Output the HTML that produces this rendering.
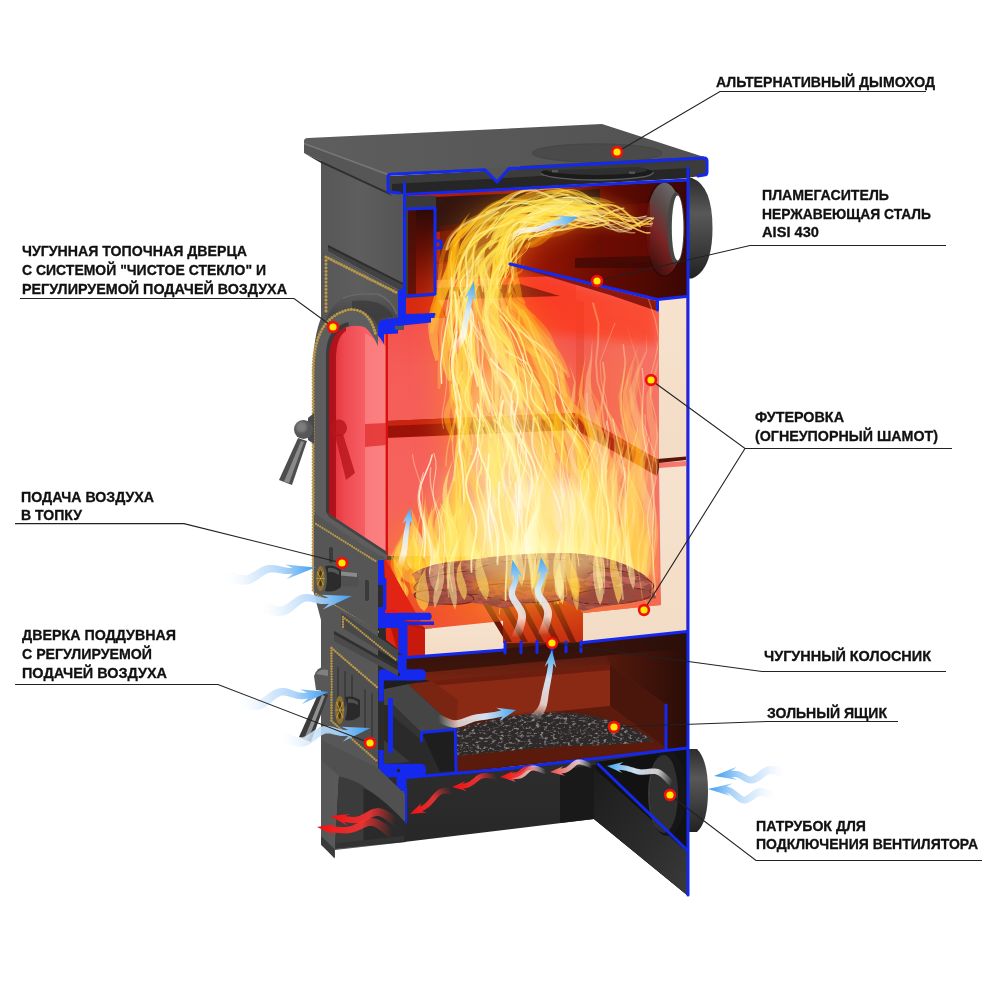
<!DOCTYPE html>
<html lang="ru">
<head>
<meta charset="utf-8">
<title>Stove cutaway</title>
<style>
html,body{margin:0;padding:0;background:#fff;}
body{width:1000px;height:1000px;overflow:hidden;position:relative;font-family:"Liberation Sans",sans-serif;}
svg{position:absolute;left:0;top:0;display:block;}
.lbl{font-family:"Liberation Sans",sans-serif;font-weight:bold;font-size:14.6px;fill:#111;stroke:#111;stroke-width:0.3px;}
.ld{fill:none;stroke:#222;stroke-width:1.1;}
.bl{fill:none;stroke:#1428ee;stroke-width:3;stroke-linejoin:round;stroke-linecap:round;}
.blf{fill:#1428ee;stroke:none;}
</style>
</head>
<body>
<svg width="1000" height="1000" viewBox="0 0 1000 1000">
<defs>

<linearGradient id="gTop" x1="0" y1="0" x2="1" y2="0">
  <stop offset="0" stop-color="#5e5e5e"/><stop offset="0.55" stop-color="#575757"/><stop offset="1" stop-color="#515151"/>
</linearGradient>
<linearGradient id="gFront" x1="0" y1="0" x2="1" y2="0">
  <stop offset="0" stop-color="#555555"/><stop offset="0.5" stop-color="#5e5e5e"/><stop offset="1" stop-color="#545454"/>
</linearGradient>
<linearGradient id="gFrontLow" x1="0" y1="0" x2="0" y2="1">
  <stop offset="0" stop-color="#484848"/><stop offset="1" stop-color="#3c3c3c"/>
</linearGradient>
<linearGradient id="gWall" x1="0" y1="0" x2="0" y2="1">
  <stop offset="0" stop-color="#ee2c14"/><stop offset="0.2" stop-color="#f34840"/><stop offset="0.4" stop-color="#f55c58"/><stop offset="1" stop-color="#f66c64"/>
</linearGradient>
<linearGradient id="gWallR" x1="0" y1="0" x2="1" y2="0">
  <stop offset="0" stop-color="#f35e54"/><stop offset="1" stop-color="#f67a70"/>
</linearGradient>
<linearGradient id="gUpper" x1="0" y1="0" x2="1" y2="0">
  <stop offset="0" stop-color="#b8220a"/><stop offset="0.45" stop-color="#9a1605"/><stop offset="0.75" stop-color="#5e0a02"/><stop offset="1" stop-color="#3a0704"/>
</linearGradient>
<linearGradient id="gChan" x1="0" y1="0" x2="0" y2="1">
  <stop offset="0" stop-color="#2a0a06"/><stop offset="0.5" stop-color="#6a0f06"/><stop offset="1" stop-color="#b01c0a"/>
</linearGradient>
<linearGradient id="gGlass" x1="0" y1="0" x2="1" y2="0">
  <stop offset="0" stop-color="#e02832"/><stop offset="0.3" stop-color="#ef4a52"/><stop offset="0.7" stop-color="#f76468"/><stop offset="1" stop-color="#f86e6e"/>
</linearGradient>
<linearGradient id="gAsh" x1="0" y1="0" x2="0" y2="1">
  <stop offset="0" stop-color="#3a150c"/><stop offset="0.35" stop-color="#7a2412"/><stop offset="0.7" stop-color="#6a1c0e"/><stop offset="1" stop-color="#4a140a"/>
</linearGradient>
<linearGradient id="gAshR" x1="0" y1="0" x2="1" y2="0">
  <stop offset="0" stop-color="#5a1a0c"/><stop offset="1" stop-color="#2a0d08"/>
</linearGradient>
<linearGradient id="gBase" x1="0" y1="0" x2="0" y2="1">
  <stop offset="0" stop-color="#2e2e2e"/><stop offset="1" stop-color="#242424"/>
</linearGradient>
<linearGradient id="gSide" x1="0" y1="0" x2="1" y2="1">
  <stop offset="0" stop-color="#1c1c1c"/><stop offset="0.6" stop-color="#2c2c2c"/><stop offset="1" stop-color="#3a3a3a"/>
</linearGradient>
<linearGradient id="gPipe" x1="0" y1="0" x2="0" y2="1">
  <stop offset="0" stop-color="#2c2c2c"/><stop offset="0.35" stop-color="#585858"/><stop offset="0.7" stop-color="#3c3c3c"/><stop offset="1" stop-color="#222222"/>
</linearGradient>
<linearGradient id="gHood" x1="0" y1="0" x2="0" y2="1"><stop offset="0" stop-color="#5c5c5c"/><stop offset="0.5" stop-color="#484848"/><stop offset="1" stop-color="#565656"/></linearGradient>
<linearGradient id="gPipeIn" x1="0.7" y1="0" x2="0.2" y2="1"><stop offset="0" stop-color="#6e6e6e"/><stop offset="0.3" stop-color="#5a4a4a"/><stop offset="0.6" stop-color="#7a2424"/><stop offset="1" stop-color="#3a0a08"/></linearGradient>
<linearGradient id="gCream" x1="0" y1="0" x2="0" y2="1">
  <stop offset="0" stop-color="#f6e2cd"/><stop offset="1" stop-color="#f3dcc6"/>
</linearGradient>
<linearGradient id="gBrickTop" x1="0" y1="0" x2="0" y2="1">
  <stop offset="0" stop-color="#e0301e"/><stop offset="1" stop-color="#f0503c"/>
</linearGradient>
<linearGradient id="gBlueArrow" x1="0" y1="0" x2="1" y2="0">
  <stop offset="0" stop-color="#ffffff" stop-opacity="0"/><stop offset="0.45" stop-color="#cfe6fb" stop-opacity="0.9"/><stop offset="1" stop-color="#4aa8f0"/>
</linearGradient>
<linearGradient id="gBlueArrowL" x1="1" y1="0" x2="0" y2="0">
  <stop offset="0" stop-color="#ffffff" stop-opacity="0"/><stop offset="0.45" stop-color="#cfe6fb" stop-opacity="0.9"/><stop offset="1" stop-color="#4aa8f0"/>
</linearGradient>
<linearGradient id="gBlueArrowU" x1="0" y1="1" x2="0" y2="0">
  <stop offset="0" stop-color="#ffffff" stop-opacity="0"/><stop offset="0.4" stop-color="#e4f1fc" stop-opacity="0.9"/><stop offset="1" stop-color="#58b0f2"/>
</linearGradient>
<linearGradient id="gRedArrowL" x1="1" y1="0" x2="0" y2="0">
  <stop offset="0" stop-color="#ff3030" stop-opacity="0"/><stop offset="0.5" stop-color="#ff4a40" stop-opacity="0.9"/><stop offset="1" stop-color="#ee1818"/>
</linearGradient>
<linearGradient id="gPinkArrowL" x1="1" y1="0" x2="0" y2="0">
  <stop offset="0" stop-color="#ffffff" stop-opacity="0"/><stop offset="0.45" stop-color="#f8c8c4" stop-opacity="0.9"/><stop offset="1" stop-color="#ee4840"/>
</linearGradient>
<radialGradient id="gDot"><stop offset="0" stop-color="#ffef00"/><stop offset="0.55" stop-color="#ffe800"/><stop offset="0.62" stop-color="#f01010"/><stop offset="1" stop-color="#f01010"/></radialGradient>
<filter id="b2" x="-20%" y="-20%" width="140%" height="140%"><feGaussianBlur stdDeviation="2"/></filter>
<filter id="b1" x="-20%" y="-20%" width="140%" height="140%"><feGaussianBlur stdDeviation="0.8"/></filter>
<filter id="b4" x="-30%" y="-30%" width="160%" height="160%"><feGaussianBlur stdDeviation="4"/></filter>
<filter id="b8" x="-40%" y="-40%" width="180%" height="180%"><feGaussianBlur stdDeviation="8"/></filter>
<filter id="b14" x="-50%" y="-50%" width="200%" height="200%"><feGaussianBlur stdDeviation="14"/></filter>
<filter id="fl" x="-20%" y="-20%" width="140%" height="140%">
  <feTurbulence type="fractalNoise" baseFrequency="0.03 0.012" numOctaves="2" seed="3" result="n"/>
  <feDisplacementMap in="SourceGraphic" in2="n" scale="14" xChannelSelector="R" yChannelSelector="G"/>
  <feGaussianBlur stdDeviation="0.5"/>
</filter>
<filter id="ashTex" x="0" y="0" width="100%" height="100%">
  <feTurbulence type="fractalNoise" baseFrequency="0.25 0.4" numOctaves="3" seed="5" result="n"/>
  <feColorMatrix in="n" type="matrix" values="0 0 0 0 0.40  0 0 0 0 0.36  0 0 0 0 0.36  2.4 2.4 0 0 -2.45" result="m"/>
  <feComposite in="m" in2="SourceGraphic" operator="in"/>
</filter>
<filter id="logTex" x="0" y="0" width="100%" height="100%">
  <feTurbulence type="fractalNoise" baseFrequency="0.09 0.22" numOctaves="3" seed="11" result="n"/>
  <feColorMatrix in="n" type="matrix" values="0 0 0 0 0.30  0 0 0 0 0.07  0 0 0 0 0.05  9 0 0 0 -4.0" result="m"/>
  <feComposite in="m" in2="SourceGraphic" operator="in"/>
</filter>
<clipPath id="cInt"><path d="M386,330 L405,330 L405,195 L686,181 L686,297 L658.5,300 L658.5,605 L583,613 L583,644 L503,644 L503,621 L425,629 L386,560 Z"/></clipPath>

</defs>
<rect x="0" y="0" width="1000" height="1000" fill="#ffffff"/>



<path d="M688,178 L692,178 Q712.5,186 712.5,228 Q712.5,270 692,278.5 L688,278.5 Z" fill="url(#gPipe)"/>
<path d="M688,749 L697,749 Q708,760 708,791 Q708,822 697,832 L688,832 Z" fill="url(#gPipe)"/>
<path d="M321,150 L404,188 L404,330 L386,340 L386,560 L380,600 L380,780 L406,780 L406,842 L335,850 L335,858 L321,845 L321,620 L313,590 L313,365 Q314,335 321,318 Z" fill="url(#gFront)"/>
<path d="M304,141 Q304,138 308,138 L602,124 L704,157 L388,175 L304,146 Z" fill="url(#gTop)"/>
<path d="M304,144 L388,175 L388,192 L304,153 Z" fill="#565656"/>
<path d="M304,143.5 L388,174.5" stroke="#767676" stroke-width="1.6" fill="none"/>
<path d="M304,153 L388,192 L392,196 L321,163 Z" fill="#2f2f2f"/>
<ellipse cx="597" cy="153" rx="65" ry="9.2" fill="#4a4a4a"/>
<ellipse cx="597" cy="153" rx="65" ry="9.2" fill="none" stroke="#424242" stroke-width="0.8"/>

<path d="M389,176 L706,159 L706,175 L687,178 L404,194 L389,192 Z" fill="#3c3c3c"/>
<path d="M392,184 L690,168 L690,178 L404,194 L392,192 Z" fill="#262626"/>
<path d="M484,168.5 L510,167 L497,182.5 Z" fill="#555555"/>
<ellipse cx="597" cy="172.5" rx="56" ry="7.5" fill="#1b1b1b"/>
<path d="M541,173 A56,7.5 0 0 0 653,172" fill="none" stroke="#5e5e5e" stroke-width="1.3"/>
<ellipse cx="597" cy="170" rx="50" ry="5" fill="#303030"/>
<path d="M520,166 L704,156.5 L704,160 L640,167 L560,170 L520,171 Z" fill="#3a3a3a"/>
<rect x="552" y="170" width="6" height="2.4" fill="#555"/><rect x="629" y="171.5" width="6" height="2.4" fill="#555"/>
<path d="M404,194 L576,187 L576,640 L384,640 L384,330 L404,330 Z" fill="url(#gWall)"/>
<path d="M576,187 L687,180 L687,640 L576,640 Z" fill="url(#gWallR)"/>
<path d="M576,300 L584,302 L584,600 L576,600 Z" fill="#e8402f" opacity="0.5"/>
<path d="M406,196 L687,181 L687,297 L657,300 L510,264 L436,264 L436,196 Z" fill="url(#gUpper)"/>
<path d="M406,196 L436,196 L436,316 L406,318 Z" fill="#3a3a3a"/>
<path d="M408,209 L435,208 L435,294 L408,296 Z" fill="url(#gChan)"/>
<path d="M408,209 L416,209 L416,296 L408,296 Z" fill="#4c1008" opacity="0.7"/>
<path d="M406,298 L436,296 L448,318 L406,318 Z" fill="#d82a12"/>
<path d="M436,262 L510,264 L560,276 L436,280 Z" fill="#8a1808" opacity="0.75"/>
<ellipse cx="664" cy="229" rx="20" ry="48" fill="#2a0806" opacity="0.7"/>
<ellipse cx="664.5" cy="229" rx="18.5" ry="46.5" fill="url(#gPipeIn)"/>
<ellipse cx="676" cy="228" rx="8.6" ry="36" fill="#474747"/>
<ellipse cx="677.6" cy="228" rx="5.8" ry="32.5" fill="#ffffff"/>
<path d="M436,197 L600,189 L600,208 L520,214 L470,228 L436,232 Z" fill="#1e1412" opacity="0.85"/>
<path d="M440,226 L520,216 L540,240 L470,262 L440,262 Z" fill="#5a0e06" opacity="0.7"/>
<path d="M500,268 L657,304 L657,345 L520,330 Z" fill="#ff3208" opacity="0.55" filter="url(#b4)"/>
<path d="M510,265 L657,301 L657,311 L610,295 Z" fill="#7a0c06" opacity="0.85"/>
<path d="M436,288 L520,284 L560,296 L436,300 Z" fill="#5a1008" opacity="0.65"/>
<path d="M604,205 L650,203 L650,262 L604,262 Z" fill="#6e0c04" opacity="0.7"/>
<path d="M575,258 L650,256 L650,268 L575,268 Z" fill="#3a0804" opacity="0.7"/>
<path d="M386,421 L576,413 L657,459 L657,476 L576,430 L386,438 Z" fill="#9c1208"/>
<path d="M386,421 L576,413 L657,459 L657,463 L576,418 L386,426 Z" fill="#c82410"/>

<path d="M376,556 L432,556 L432,700 L460,700 L460,790 L376,790 Z" fill="#2b2b2b"/>
<path d="M407,657 L504,650 L504,642 L583,642 L687,631 L687,748 L406,778 Z" fill="url(#gAsh)"/>
<path d="M600,640 L687,631 L687,748 L666,750 L666,705 L610,665 Z" fill="url(#gAshR)"/>
<path d="M407,657 L687,633 L687,648 L407,674 Z" fill="#2a0f0a" opacity="0.7"/>
<path d="M430,681 L610,665 L610,706 L456,722 Z" fill="#8a2914"/>
<path d="M430,681 L610,665 L610,670 L430,686 Z" fill="#5a180c" opacity="0.6"/>
<path d="M610,665 L666,705 L666,748 L610,706 Z" fill="#4a150b"/>
<path d="M456,722 L610,706 L666,748 L456,772 Z" fill="#5c1b0d"/>
<path d="M456,729 Q480,722 510,716 Q545,710 580,714 Q615,719 640,732 L656,742 Q610,748 565,748 Q505,753 457,758 Z" fill="#2f2b2b" filter="url(#b1)"/>
<path d="M456,729 Q480,722 510,716 Q545,710 580,714 Q615,719 640,732 L656,742 Q610,748 565,748 Q505,753 457,758 Z" fill="#fff" filter="url(#ashTex)" opacity="0.8"/>
<path d="M457,756 Q505,751 565,746 Q610,746 656,741 L666,748 L457,771 Z" fill="#5a1a0c"/>
<path d="M384,680 L426,680 L432,684 L456,728 L456,772 L420,776 L384,764 Z" fill="#2a2a2a"/>
<path d="M384,689 L408,684 L456,728 L422,733 L393,705 L384,705 Z" fill="#454545"/>
<path d="M393,705 L422,733 L422,741 L393,716 Z" fill="#343434"/>
<path d="M422,733 L455,730 L455,771 L440,772 Z" fill="#1e1e1e"/>
<path d="M384,740 L410,762 L384,764 Z" fill="#3a3a3a"/>
<path d="M408,684 L432,681 L458,700 L456,728 Z" fill="#7a2412"/>
<path d="M384,680 L426,680 L430,681 L408,684 L384,689 Z" fill="#1e1e1e"/>
<path d="M404,778 L687,748 L687,895 L594,819 L404,842 Z" fill="url(#gBase)"/>
<path d="M560,770 L600,764 L594,819 L560,823 Z" fill="#191919"/>
<path d="M596,762 L687,749 L687,895 L594,819 Z" fill="#121212"/>
<path d="M594,768 L687,852 L687,895 L594,819 Z" fill="url(#gSide)"/>
<ellipse cx="667" cy="793" rx="19" ry="43" fill="#161616"/>
<ellipse cx="664" cy="794" rx="14" ry="39" fill="#303030"/>
<path d="M650,794 a14,39 0 0 1 14,-39 a16,39 0 0 0 0,78 a14,39 0 0 1 -14,-39Z" fill="#4a4a4a" opacity="0.7"/>

<path d="M659,299 L686,296 L686,461 L659,463 Z" fill="url(#gCream)"/>
<path d="M659,468 L686,466 L686,631 L583,642 L583,613 L661,605 Z" fill="url(#gCream)"/>
<path d="M657,459 L686,456.5 L686,460 L659,463 L659,468 L657,476 Z" fill="#5a1408"/>
<path d="M384,556 L425,628 L407,630 L407,656 L386,640 Z" fill="#e22414"/>
<path d="M386,612 L425,628 L407,630 L407,656 L398,652 Z" fill="#b81408"/>
<path d="M406,625 L425,629 L425,657 L407,657 Z" fill="#c81a0c"/>
<path d="M386,560 L470,556 L503,621 L425,629 Z" fill="url(#gBrickTop)"/>
<path d="M425,629 L503,621 L503,648.5 L425,657 Z" fill="url(#gCream)"/>
<path d="M470,590 L560,584 L583,613 L583,642 L503,643 L503,621 Z" fill="#c02a14"/>
<path d="M478,596.0 L485,595.5 L512,642 L506,642 Z" fill="#6a140a"/>
<path d="M495,595.2 L502,594.7 L528,642 L522,642 Z" fill="#6a140a"/>
<path d="M512,594.4 L519,593.9 L544,642 L538,642 Z" fill="#6a140a"/>
<path d="M529,593.6 L536,593.1 L560,642 L554,642 Z" fill="#6a140a"/>
<path d="M546,592.8 L553,592.3 L576,642 L570,642 Z" fill="#6a140a"/>
<path d="M560,584 L659,578 L661,605 L583,613 Z" fill="#f26a58"/>

<g clip-path="url(#cInt)" opacity="0.5">
<ellipse cx="525" cy="560" rx="140" ry="75" fill="#ff7a10" opacity="0.7" filter="url(#b14)"/>
<path d="M636.7,588.4 L635.4,584.4 L633.9,579.4 L632.2,573.3 L630.4,566.4 L628.4,558.9 L626.4,551.0 L624.3,542.8 L622.1,534.5 L620.0,526.3 L617.9,518.3 L615.9,510.7 L613.9,503.7 L611.6,497.2 L609.3,490.8 L607.0,484.5 L604.7,478.3 L602.5,472.3 L600.2,466.4 L598.0,460.6 L595.8,455.0 L593.6,449.6 L591.4,444.3 L589.3,439.1 L587.4,434.2 L586.0,429.3 L584.6,424.7 L583.2,420.3 L581.9,416.0 L580.6,411.7 L579.3,407.6 L578.0,403.4 L576.7,399.3 L575.3,395.1 L573.9,390.9 L572.4,386.6 L570.7,382.1 L568.4,377.5 L566.1,373.0 L563.8,368.6 L561.5,364.3 L559.2,360.3 L556.9,356.3 L554.7,352.5 L552.6,348.8 L550.5,345.3 L548.4,341.8 L546.5,338.5 L544.3,334.9 L541.6,330.8 L538.9,326.5 L536.2,322.5 L533.5,318.7 L531.0,315.3 L528.6,312.0 L526.3,309.0 L524.2,306.3 L522.2,303.8 L520.3,301.6 L518.6,299.7 L517.7,297.6 L517.5,295.0 L517.3,292.2 L517.2,289.5 L517.2,286.8 L517.2,284.3 L517.3,281.9 L517.5,279.7 L517.8,277.6 L518.1,275.7 L518.5,274.0 L518.8,272.5 L518.7,270.9 L518.6,269.1 L518.7,267.0 L519.0,264.8 L519.5,262.5 L520.2,260.1 L521.0,257.7 L522.0,255.2 L523.1,252.9 L524.3,250.5 L525.5,248.3 L526.9,246.2 L528.4,244.5 L530.0,243.1 L531.9,241.7 L534.0,240.3 L536.4,238.9 L539.0,237.6 L541.8,236.3 L544.9,235.2 L548.0,234.1 L551.3,233.0 L554.7,232.1 L558.2,231.2 L561.6,230.3 L564.8,229.6 L568.2,228.9 L571.8,228.4 L575.5,228.0 L579.6,227.8 L582.1,192.7 L577.6,191.8 L572.9,191.0 L568.1,190.4 L563.2,190.0 L558.4,189.7 L553.9,189.6 L549.3,189.6 L544.8,189.7 L540.1,190.0 L535.4,190.4 L530.7,191.0 L525.9,191.8 L521.0,192.8 L516.2,194.0 L511.3,195.5 L506.4,197.4 L501.6,199.5 L496.9,201.8 L492.2,204.0 L487.5,206.4 L483.0,209.1 L478.6,212.1 L474.3,215.2 L470.1,218.6 L466.0,222.2 L462.1,226.0 L458.3,230.1 L454.7,234.4 L451.3,239.1 L448.3,244.1 L446.1,249.5 L444.3,254.9 L442.7,260.3 L441.4,265.6 L440.4,271.0 L439.6,276.3 L439.0,281.5 L438.6,286.8 L438.3,291.9 L438.2,297.0 L438.3,302.4 L438.1,308.3 L437.4,314.5 L437.0,320.5 L436.8,326.3 L436.7,331.9 L436.7,337.4 L436.6,342.6 L436.6,347.6 L436.5,352.3 L436.4,356.7 L436.1,360.9 L435.7,365.1 L435.8,369.8 L436.3,374.9 L436.7,379.7 L437.2,384.5 L437.7,389.2 L438.1,393.7 L438.4,398.1 L438.8,402.3 L439.0,406.4 L439.2,410.4 L439.3,414.1 L439.3,417.9 L439.8,421.6 L440.4,425.3 L441.0,429.0 L441.6,432.6 L442.1,436.2 L442.7,439.9 L443.3,443.8 L443.8,447.7 L444.5,451.9 L445.1,456.3 L445.9,460.9 L446.6,465.8 L447.0,471.0 L447.2,476.4 L447.4,481.9 L447.7,487.6 L448.0,493.3 L448.3,499.2 L448.6,505.2 L448.9,511.3 L449.2,517.4 L449.5,523.7 L449.8,530.0 L450.1,536.3 L450.8,543.0 L451.7,550.3 L452.6,558.1 L453.6,566.2 L454.5,574.5 L455.5,582.8 L456.4,590.8 L457.3,598.4 L458.0,605.5 L458.6,611.8 L459.0,617.2 L459.3,621.6Z" fill="#ff9a1c" opacity="0.75" filter="url(#b14)"/>
<path d="M611.5,593.1 L610.3,589.1 L609.0,584.0 L607.4,577.9 L605.8,571.0 L604.0,563.4 L602.1,555.5 L600.2,547.3 L598.2,539.0 L596.2,530.8 L594.3,522.8 L592.4,515.3 L590.6,508.3 L588.6,501.8 L586.6,495.5 L584.6,489.2 L582.6,483.0 L580.6,477.0 L578.6,471.1 L576.7,465.3 L574.8,459.6 L572.8,454.2 L571.0,448.8 L569.1,443.7 L567.4,438.7 L566.1,433.8 L564.8,429.2 L563.5,424.8 L562.3,420.5 L561.1,416.3 L559.9,412.2 L558.7,408.1 L557.5,404.0 L556.2,399.9 L554.9,395.8 L553.6,391.6 L552.0,387.2 L550.1,382.7 L548.1,378.3 L546.1,373.9 L544.1,369.7 L542.1,365.6 L540.1,361.6 L538.1,357.7 L536.2,353.9 L534.3,350.1 L532.5,346.5 L530.8,342.9 L528.9,339.2 L526.7,335.0 L524.3,330.8 L522.1,326.7 L519.8,322.8 L517.7,319.1 L515.6,315.6 L513.6,312.3 L511.8,309.1 L510.1,306.2 L508.6,303.4 L507.2,300.9 L506.4,298.3 L506.2,295.3 L506.1,292.2 L506.0,289.1 L506.1,286.1 L506.2,283.2 L506.4,280.3 L506.7,277.7 L507.1,275.1 L507.6,272.7 L508.2,270.5 L508.8,268.5 L509.2,266.4 L509.6,264.2 L510.2,261.8 L510.9,259.3 L511.9,256.8 L513.1,254.2 L514.4,251.7 L515.8,249.1 L517.4,246.7 L519.1,244.3 L520.8,242.0 L522.7,239.9 L524.6,238.1 L526.7,236.6 L529.0,235.1 L531.5,233.7 L534.2,232.4 L537.1,231.1 L540.3,229.9 L543.5,228.8 L546.9,227.8 L550.4,226.9 L554.0,226.1 L557.6,225.3 L561.1,224.6 L564.6,224.0 L568.2,223.5 L571.9,223.2 L575.8,222.9 L579.9,222.8 L584.0,222.8 L588.1,222.8 L592.3,223.0 L596.4,223.1 L600.5,223.3 L604.6,223.5 L608.5,223.6 L612.3,223.7 L616.2,223.9 L620.3,224.3 L624.4,224.7 L628.5,225.2 L631.9,211.3 L627.9,209.8 L623.8,208.3 L619.7,206.9 L615.5,205.6 L611.5,204.4 L607.6,203.3 L603.6,202.3 L599.5,201.3 L595.2,200.3 L590.9,199.4 L586.4,198.5 L581.9,197.6 L577.3,196.9 L572.7,196.3 L568.1,195.8 L563.4,195.5 L558.9,195.4 L554.5,195.4 L550.1,195.6 L545.7,195.9 L541.2,196.2 L536.8,196.8 L532.2,197.4 L527.7,198.3 L523.2,199.3 L518.7,200.6 L514.2,202.1 L509.7,203.8 L505.4,205.9 L501.1,208.1 L496.9,210.2 L492.7,212.7 L488.7,215.3 L484.7,218.2 L480.9,221.2 L477.1,224.4 L473.6,227.9 L470.1,231.5 L466.8,235.3 L463.7,239.3 L460.8,243.6 L458.3,248.1 L456.4,253.0 L454.7,257.8 L453.4,262.7 L452.2,267.6 L451.3,272.5 L450.6,277.4 L450.1,282.3 L449.7,287.1 L449.5,292.0 L449.5,296.7 L449.6,301.7 L449.4,307.1 L449.1,312.7 L449.1,318.1 L449.2,323.5 L449.4,328.7 L449.7,333.8 L450.0,338.7 L450.3,343.5 L450.6,348.1 L450.9,352.5 L451.0,356.6 L451.1,360.8 L451.5,365.4 L452.2,370.2 L452.9,374.9 L453.6,379.5 L454.3,384.0 L454.9,388.4 L455.6,392.7 L456.2,396.9 L456.7,401.1 L457.2,405.1 L457.6,408.9 L458.0,412.8 L458.6,416.6 L459.4,420.4 L460.1,424.1 L460.8,427.8 L461.4,431.6 L462.1,435.3 L462.8,439.2 L463.5,443.2 L464.2,447.4 L464.9,451.8 L465.8,456.4 L466.6,461.3 L467.2,466.5 L467.7,471.8 L468.2,477.3 L468.7,482.9 L469.3,488.7 L469.9,494.6 L470.4,500.5 L471.0,506.6 L471.6,512.8 L472.2,519.0 L472.8,525.3 L473.4,531.7 L474.3,538.4 L475.3,545.7 L476.4,553.6 L477.5,561.7 L478.7,570.0 L479.8,578.2 L480.9,586.3 L481.9,593.9 L482.8,600.9 L483.5,607.2 L484.1,612.6 L484.5,616.9Z" fill="#ffb82a" opacity="0.8" filter="url(#b8)"/>
<path d="M579.3,575.8 L577.7,568.3 L576.0,560.4 L574.2,552.2 L572.4,543.9 L570.6,535.7 L568.9,527.7 L567.2,520.2 L565.6,513.3 L564.0,506.8 L562.5,500.4 L560.9,494.1 L559.3,488.0 L557.6,481.9 L555.9,476.0 L554.2,470.2 L552.6,464.5 L551.0,459.0 L549.4,453.6 L547.8,448.4 L546.3,443.4 L544.8,438.6 L543.3,434.1 L542.0,429.7 L540.9,425.4 L539.8,421.3 L538.7,417.2 L537.6,413.2 L536.5,409.2 L535.3,405.2 L534.2,401.1 L533.0,397.0 L531.7,392.7 L530.3,388.3 L528.9,383.9 L527.2,379.7 L525.5,375.5 L523.8,371.3 L522.1,367.3 L520.4,363.2 L518.8,359.3 L517.2,355.4 L515.6,351.5 L514.1,347.7 L512.5,343.7 L511.0,339.5 L509.2,335.2 L507.3,331.1 L505.5,327.1 L503.7,323.2 L502.0,319.3 L500.4,315.7 L498.9,312.1 L497.5,308.6 L496.3,305.3 L495.3,302.2 L494.5,299.0 L493.8,295.6 L493.7,292.1 L493.7,288.7 L493.8,285.2 L494.0,281.9 L494.3,278.6 L494.8,275.5 L495.3,272.4 L496.0,269.5 L496.8,266.7 L497.7,264.0 L498.8,261.5 L499.7,258.9 L500.9,256.1 L502.2,253.4 L503.7,250.6 L505.3,247.8 L507.2,245.1 L509.1,242.5 L511.2,239.9 L513.4,237.5 L515.7,235.2 L518.0,233.0 L520.4,231.1 L523.0,229.4 L525.7,227.9 L528.7,226.4 L531.8,225.1 L535.1,223.9 L538.5,222.8 L542.0,221.8 L545.7,220.9 L549.4,220.0 L553.1,219.3 L557.0,218.7 L555.1,202.1 L551.0,202.3 L546.7,202.7 L542.5,203.2 L538.2,203.8 L534.0,204.6 L529.8,205.5 L525.6,206.6 L521.5,207.9 L517.4,209.3 L513.4,211.0 L509.6,212.9 L505.8,215.0 L502.1,217.1 L498.4,219.5 L494.9,222.1 L491.4,224.8 L488.1,227.8 L484.9,230.9 L481.8,234.1 L478.9,237.5 L476.1,241.0 L473.6,244.7 L471.2,248.5 L469.4,252.6 L467.7,256.8 L466.3,261.1 L465.2,265.4 L464.2,269.8 L463.4,274.2 L462.8,278.7 L462.4,283.1 L462.1,287.6 L461.9,292.0 L461.9,296.4 L461.5,301.0 L461.3,305.8 L461.4,310.8 L461.6,315.7 L462.1,320.5 L462.6,325.3 L463.3,330.0 L463.9,334.7 L464.7,339.2 L465.4,343.7 L466.0,348.0 L466.7,352.1 L467.5,356.3 L468.3,360.7 L469.1,365.2 L470.1,369.6 L471.0,374.1 L471.9,378.4 L472.9,382.7 L473.8,387.0 L474.7,391.2 L475.5,395.3 L476.4,399.4 L477.4,403.3 L478.3,407.3 L479.2,411.2 L480.1,415.1 L480.9,418.9 L481.8,422.7 L482.5,426.5 L483.3,430.3 L484.1,434.2 L484.9,438.3 L485.7,442.5 L486.4,446.9 L487.0,451.6 L487.7,456.6 L488.5,461.7 L489.3,467.0 L490.1,472.5 L490.9,478.1 L491.7,483.8 L492.6,489.6 L493.5,495.6 L494.3,501.7 L495.3,507.8 L496.3,514.0 L497.4,520.3 L498.4,526.7 L499.5,533.4 L500.7,540.8 L502.0,548.7 L503.3,556.9 L504.6,565.2 L505.9,573.4 L507.2,581.4 L508.3,589.0Z" fill="#ffcc40" opacity="0.8" filter="url(#b8)"/>
<ellipse cx="525" cy="540" rx="95" ry="50" fill="#ffc838" opacity="0.85" filter="url(#b8)"/>
<ellipse cx="535" cy="520" rx="62" ry="44" fill="#fff2a8" opacity="0.85" filter="url(#b8)"/>
<ellipse cx="615" cy="470" rx="36" ry="130" fill="#ff8a30" opacity="0.4" filter="url(#b14)"/>
<ellipse cx="425" cy="560" rx="36" ry="45" fill="#ff8a20" opacity="0.55" filter="url(#b8)"/>
</g>
<g clip-path="url(#cInt)" style="mix-blend-mode:screen">
<path d="M612.7,593.7 L616.7,576.9 L617.3,560.1 L616.9,543.9 L617.0,528.2 L618.1,512.2 L618.8,495.4 L617.3,478.0 L612.8,461.1 L606.9,445.0 L602.2,429.2 L600.7,413.0 L602.1,396.6 L603.7,380.1 L601.6,363.7 L601.6,363.7 L603.7,380.1 L602.1,396.6 L599.1,412.9 L597.9,429.6 L599.8,446.7 L602.9,463.4 L604.6,479.4 L603.9,494.9 L601.7,510.8 L600.1,527.7 L600.8,544.9 L603.7,561.5 L607.6,577.6 L612.7,593.7Z" fill="#ffb030" opacity="0.39"/>
<path d="M623.6,575.2 L627.6,562.6 L631.7,549.8 L634.3,536.2 L632.8,522.0 L627.7,508.5 L622.4,496.0 L620.4,484.3 L622.9,471.9 L627.9,458.6 L630.1,444.9 L625.8,431.7 L616.3,418.9 L607.3,405.8 L604.5,392.8 L604.5,392.8 L607.3,405.8 L616.3,418.9 L625.0,432.1 L627.7,445.0 L624.1,457.3 L617.6,470.1 L613.3,483.8 L614.4,498.1 L619.2,511.7 L623.7,524.2 L625.3,536.1 L624.2,548.5 L622.6,561.8 L623.6,575.2Z" fill="#ffc850" opacity="0.42"/>
<path d="M636.3,573.1 L642.5,553.1 L643.9,532.2 L640.9,511.6 L639.1,492.6 L642.6,473.5 L647.9,452.6 L646.7,430.8 L639.0,410.5 L634.5,391.4 L639.3,371.6 L647.2,350.9 L646.5,330.6 L637.3,310.4 L632.2,290.2 L632.2,290.2 L637.3,310.4 L646.5,330.6 L646.0,350.7 L636.2,370.4 L629.0,391.1 L631.5,412.4 L637.0,432.5 L636.5,451.1 L630.4,470.6 L626.2,492.0 L628.7,513.4 L633.5,533.3 L635.5,552.7 L636.3,573.1Z" fill="#ffd870" opacity="0.28"/>
<path d="M608.0,574.9 L611.7,563.9 L613.9,552.8 L614.8,541.4 L614.5,530.0 L613.0,518.6 L610.7,507.4 L608.3,496.5 L606.3,485.7 L605.3,474.9 L605.5,463.9 L606.9,452.7 L609.1,441.5 L611.6,430.3 L613.0,419.2 L613.0,419.2 L611.6,430.3 L609.1,441.5 L605.9,452.5 L602.8,463.5 L600.8,474.7 L600.1,486.1 L600.5,497.6 L601.7,508.9 L603.0,520.0 L604.2,530.8 L604.9,541.6 L605.5,552.4 L606.1,563.5 L608.0,574.9Z" fill="#ff9a20" opacity="0.35"/>
<path d="M607.0,591.5 L612.9,578.2 L616.3,564.6 L618.0,550.6 L617.8,536.4 L615.8,522.3 L612.8,508.7 L609.7,495.6 L607.2,482.7 L606.0,469.5 L605.9,456.0 L606.5,442.2 L607.0,428.5 L606.7,414.9 L604.3,401.3 L604.3,401.3 L606.7,414.9 L607.0,428.5 L604.7,442.0 L601.1,455.3 L597.9,468.9 L596.0,483.0 L595.6,497.2 L596.5,511.2 L597.9,524.8 L599.1,537.9 L600.2,550.8 L601.2,564.0 L602.8,577.6 L607.0,591.5Z" fill="#ffc850" opacity="0.34"/>
<path d="M602.9,594.8 L605.8,578.0 L607.4,561.8 L609.6,546.0 L612.1,529.4 L612.6,511.8 L609.6,494.1 L603.9,477.5 L598.6,461.8 L596.4,446.2 L597.4,429.8 L598.9,413.0 L597.3,396.4 L591.6,379.9 L583.6,363.4 L583.6,363.4 L591.6,379.9 L597.3,396.4 L597.3,412.9 L593.1,429.1 L589.1,445.8 L588.6,463.3 L591.5,480.7 L594.9,497.1 L596.2,512.5 L595.2,528.0 L593.5,544.5 L593.6,561.7 L596.7,578.6 L602.9,594.8Z" fill="#ffb030" opacity="0.26"/>
<path d="M636.5,585.5 L639.5,571.5 L642.4,557.5 L645.0,543.2 L645.8,528.4 L643.9,513.5 L639.7,499.1 L635.2,485.3 L632.5,471.7 L632.9,457.9 L635.6,443.6 L637.9,429.2 L637.4,414.9 L633.0,400.7 L625.6,386.5 L625.6,386.5 L633.0,400.7 L637.4,414.9 L637.0,429.1 L633.1,443.1 L628.8,457.2 L626.7,471.9 L628.0,486.7 L631.4,501.3 L634.7,515.3 L636.2,528.8 L635.8,542.4 L634.7,556.6 L634.3,571.1 L636.5,585.5Z" fill="#ffb030" opacity="0.29"/>
<path d="M629.1,571.3 L630.2,560.3 L629.8,549.7 L630.0,539.8 L631.4,530.1 L634.0,519.8 L636.5,508.7 L636.9,497.1 L633.9,485.7 L628.2,475.1 L622.0,465.0 L617.8,454.9 L617.7,444.4 L621.8,433.8 L627.5,423.3 L627.5,423.3 L621.8,433.8 L617.7,444.4 L616.8,455.1 L619.4,466.1 L624.0,477.1 L627.7,487.7 L628.8,497.5 L627.2,507.0 L623.9,517.1 L620.9,528.0 L619.7,539.4 L621.2,550.7 L624.5,561.2 L629.1,571.3Z" fill="#ffc850" opacity="0.36"/>
<path d="M630.4,600.8 L635.5,590.9 L637.8,580.5 L638.2,569.9 L637.0,559.4 L635.0,549.4 L632.8,539.9 L631.2,530.7 L630.6,521.3 L631.4,511.5 L633.5,501.3 L636.2,490.8 L638.9,480.5 L641.1,470.4 L641.3,460.4 L641.3,460.4 L641.1,470.4 L638.9,480.5 L634.7,490.2 L629.5,499.8 L624.6,509.6 L620.8,519.8 L618.7,530.6 L618.3,541.4 L619.2,552.0 L620.7,562.0 L622.5,571.6 L624.4,581.0 L626.6,590.6 L630.4,600.8Z" fill="#ffb030" opacity="0.48"/>
<path d="M575.9,579.7 L581.4,561.7 L582.1,542.9 L580.0,524.9 L579.8,508.2 L582.6,490.8 L584.1,471.5 L579.5,452.3 L572.8,435.0 L571.1,418.2 L574.7,400.2 L575.7,381.7 L569.1,363.8 L561.2,345.8 L561.2,327.8 L561.2,327.8 L561.2,345.8 L569.1,363.8 L574.3,381.9 L570.9,399.4 L564.7,417.4 L564.0,436.5 L568.5,455.1 L570.9,472.0 L568.2,488.7 L564.8,507.2 L565.8,526.4 L570.1,544.4 L573.4,561.6 L575.9,579.7Z" fill="#ffc850" opacity="0.50"/>
<path d="M616.2,570.9 L620.3,559.5 L621.5,547.7 L620.6,535.8 L618.5,524.4 L616.1,513.5 L614.5,503.1 L614.2,492.8 L615.6,481.9 L618.5,470.5 L621.9,458.8 L624.2,447.1 L624.7,435.7 L623.0,424.4 L618.7,413.1 L618.7,413.1 L623.0,424.4 L624.7,435.7 L622.9,446.8 L618.4,457.6 L612.9,468.4 L607.6,479.5 L603.7,491.2 L602.1,503.4 L602.6,515.5 L604.8,527.2 L607.5,538.3 L610.2,549.0 L612.8,559.7 L616.2,570.9Z" fill="#ffd870" opacity="0.37"/>
<path d="M602.8,594.6 L607.3,581.8 L609.9,568.6 L610.5,555.0 L609.2,541.3 L606.6,528.1 L603.9,515.4 L602.2,503.0 L602.4,490.4 L604.5,477.4 L607.6,464.1 L610.0,450.6 L610.4,437.4 L608.5,424.3 L604.2,411.2 L604.2,411.2 L608.5,424.3 L610.4,437.4 L608.8,450.4 L604.6,463.2 L599.5,476.0 L595.3,489.2 L593.1,502.9 L593.3,516.7 L595.1,530.2 L597.3,543.1 L599.1,555.7 L600.2,568.3 L600.9,581.3 L602.8,594.6Z" fill="#ffd870" opacity="0.43"/>
<path d="M590.0,580.3 L594.8,570.6 L598.6,560.7 L601.3,550.1 L602.0,538.9 L600.0,527.5 L596.1,517.0 L591.9,507.2 L589.0,498.0 L588.5,488.6 L590.9,478.4 L595.1,467.7 L599.1,457.2 L600.8,447.0 L598.5,436.7 L598.5,436.7 L600.8,447.0 L599.1,457.2 L594.0,467.2 L587.8,477.1 L583.0,487.4 L581.2,498.5 L582.4,509.8 L585.2,520.5 L587.8,530.5 L589.1,539.6 L589.1,548.9 L588.3,558.8 L587.9,569.4 L590.0,580.3Z" fill="#ffb030" opacity="0.30"/>
<path d="M612.0,572.1 L617.8,557.5 L620.0,541.8 L618.3,525.8 L614.5,510.8 L612.1,497.2 L613.5,483.7 L618.3,468.9 L622.6,452.9 L621.7,436.8 L614.8,421.6 L606.2,407.1 L602.3,392.3 L606.7,377.4 L616.3,362.4 L616.3,362.4 L606.7,377.4 L602.3,392.3 L605.1,407.5 L611.7,423.0 L616.2,437.8 L614.9,451.6 L609.0,465.6 L602.3,480.8 L599.5,497.2 L601.7,513.6 L606.1,528.5 L609.5,542.5 L610.8,556.8 L612.0,572.1Z" fill="#ff9a20" opacity="0.48"/>
<path d="M636.0,590.9 L641.8,579.8 L645.4,568.1 L646.8,555.7 L645.9,543.0 L642.9,530.7 L638.7,519.1 L634.7,508.2 L632.0,497.6 L631.4,486.7 L632.9,475.1 L635.7,463.1 L638.7,451.2 L640.2,439.6 L638.4,427.9 L638.4,427.9 L640.2,439.6 L638.7,451.2 L634.3,462.6 L628.9,473.9 L624.6,485.6 L622.5,497.9 L622.9,510.6 L625.1,523.0 L627.9,534.7 L630.2,545.6 L631.7,556.2 L632.5,567.1 L633.3,578.7 L636.0,590.9Z" fill="#ff9a20" opacity="0.45"/>
<path d="M645.5,602.8 L647.2,587.9 L646.7,573.4 L647.1,559.7 L649.4,546.1 L652.8,531.5 L654.1,516.0 L651.3,500.7 L646.0,486.3 L642.3,472.6 L643.2,458.7 L648.1,444.0 L652.7,429.3 L652.6,414.9 L647.0,400.4 L647.0,400.4 L652.6,414.9 L652.7,429.3 L647.1,443.6 L640.3,457.9 L637.3,472.8 L639.1,488.0 L642.6,502.6 L643.7,516.1 L641.5,529.5 L637.8,543.8 L635.8,559.1 L637.2,574.3 L640.9,588.7 L645.5,602.8Z" fill="#ffd870" opacity="0.41"/>
<path d="M586.0,589.2 L589.1,571.9 L589.2,554.7 L589.1,538.3 L590.3,522.3 L592.6,505.5 L593.8,487.7 L591.6,469.7 L586.1,452.6 L580.5,436.2 L577.8,419.9 L579.3,403.1 L582.9,386.0 L584.3,369.0 L580.4,352.1 L580.4,352.1 L584.3,369.0 L582.9,386.0 L577.8,402.8 L573.8,419.8 L573.8,437.4 L577.0,454.9 L579.9,471.6 L580.0,487.5 L577.5,503.6 L574.7,520.7 L574.1,538.5 L576.5,556.0 L580.7,572.7 L586.0,589.2Z" fill="#ffb030" opacity="0.42"/>
<path d="M632.4,581.2 L636.1,572.2 L637.6,562.8 L637.5,553.1 L636.0,543.5 L633.6,534.3 L631.0,525.5 L628.9,517.0 L627.9,508.4 L628.4,499.6 L630.4,490.4 L633.3,481.0 L636.5,471.7 L639.1,462.6 L639.8,453.4 L639.8,453.4 L639.1,462.6 L636.5,471.7 L632.3,480.6 L627.8,489.5 L623.9,498.5 L621.5,508.0 L620.8,517.7 L621.6,527.4 L623.4,536.8 L625.5,545.8 L627.3,554.5 L628.9,563.1 L630.3,571.9 L632.4,581.2Z" fill="#ffd870" opacity="0.37"/>
<path d="M579.1,591.4 L583.6,578.4 L586.4,565.0 L587.3,551.2 L586.2,537.5 L584.0,524.3 L582.5,511.7 L582.7,499.1 L584.7,486.0 L587.1,472.4 L588.0,458.6 L585.9,445.2 L582.1,432.0 L579.0,418.7 L578.5,405.4 L578.5,405.4 L579.0,418.7 L582.1,432.0 L584.8,445.4 L584.8,458.5 L581.9,471.3 L577.5,484.2 L573.4,497.7 L571.5,511.7 L572.1,525.7 L573.9,539.0 L575.5,551.9 L576.4,564.6 L577.0,577.8 L579.1,591.4Z" fill="#ffb030" opacity="0.42"/>
<path d="M598.9,588.6 L602.0,579.6 L602.9,570.6 L602.7,561.9 L602.0,553.4 L601.2,545.3 L600.8,537.3 L601.0,529.1 L601.9,520.6 L603.3,511.8 L604.9,502.8 L606.2,493.8 L606.9,485.0 L606.9,476.4 L605.5,467.8 L605.5,467.8 L606.9,476.4 L606.9,485.0 L604.9,493.5 L601.5,501.8 L597.7,510.1 L593.9,518.5 L590.7,527.2 L588.6,536.3 L587.8,545.6 L588.2,554.7 L589.7,563.6 L591.8,572.0 L594.6,580.3 L598.9,588.6Z" fill="#ffb030" opacity="0.37"/>
<path d="M635.2,571.8 L636.7,553.5 L637.4,535.7 L639.4,518.4 L642.5,500.8 L645.2,482.3 L645.0,463.2 L640.7,444.5 L634.0,426.6 L628.3,409.2 L626.5,391.8 L629.2,373.8 L634.4,355.6 L637.8,337.6 L635.4,319.6 L635.4,319.6 L637.8,337.6 L634.4,355.6 L628.0,373.5 L623.1,391.5 L622.7,410.1 L626.4,428.8 L631.0,446.9 L633.4,464.2 L632.5,481.2 L629.6,498.7 L626.9,517.0 L626.7,535.8 L629.6,554.1 L635.2,571.8Z" fill="#ff9a20" opacity="0.49"/>
<path d="M618.9,594.5 L621.4,582.5 L621.5,570.6 L620.9,558.9 L620.4,547.7 L620.5,536.6 L621.7,525.4 L623.6,513.7 L625.4,501.7 L626.0,489.5 L624.6,477.5 L621.3,465.9 L617.2,454.3 L613.6,442.6 L611.7,431.0 L611.7,431.0 L613.6,442.6 L617.2,454.3 L620.2,466.1 L621.6,477.9 L620.9,489.2 L618.4,500.4 L614.9,511.7 L611.5,523.5 L609.1,535.6 L608.6,547.9 L609.7,560.0 L612.1,571.7 L615.0,583.1 L618.9,594.5Z" fill="#ffb030" opacity="0.37"/>
<ellipse cx="538" cy="528" rx="62" ry="46" fill="#fff4c0" opacity="0.6" filter="url(#b8)"/>
<ellipse cx="500" cy="430" rx="40" ry="60" fill="#ffe890" opacity="0.35" filter="url(#b8)"/>
<ellipse cx="520" cy="505" rx="80" ry="62" fill="#ffe8b8" opacity="0.4" filter="url(#b14)"/>
<path d="M490.2,249.4 L492.6,246.4 L494.8,243.2 L496.9,239.9 L499.0,236.6 L501.0,233.3 L503.2,230.3 L505.5,227.5 L508.0,225.0 L510.8,222.9 L513.8,221.1 L517.3,219.7 L521.1,218.7 L525.2,218.0 L529.3,217.8 L533.5,218.3 L537.5,218.7 L541.4,219.0 L545.3,218.8 L549.1,218.2 L552.8,217.0 L556.5,215.3 L560.2,213.1 L564.1,210.6 L564.1,210.6 L560.2,213.1 L556.5,215.3 L552.8,217.0 L549.1,218.2 L545.3,218.8 L541.4,219.0 L537.5,218.7 L533.5,218.3 L529.3,217.8 L525.2,216.8 L521.0,216.1 L516.6,215.9 L512.3,216.4 L508.0,217.7 L504.1,219.8 L500.5,222.5 L497.5,225.8 L494.9,229.4 L492.9,233.2 L491.3,237.1 L490.1,241.0 L489.1,244.8 L488.4,248.6Z" fill="#ffd648" opacity="0.63"/>
<path d="M462.1,238.6 L465.6,234.8 L469.3,231.4 L473.2,228.5 L477.4,225.9 L481.8,223.7 L486.4,221.8 L491.1,220.1 L495.8,218.4 L500.4,216.6 L504.8,214.7 L509.2,212.4 L513.2,209.6 L517.1,206.8 L520.8,204.0 L524.5,201.4 L528.4,199.1 L532.3,197.3 L536.4,196.1 L540.7,195.6 L545.2,195.8 L549.8,196.6 L554.5,197.7 L559.2,199.1 L563.7,200.8 L568.1,202.3 L572.5,203.1 L577.0,203.4 L581.5,202.9 L586.1,202.0 L590.7,200.8 L595.3,199.6 L599.9,198.7 L604.2,198.3 L608.3,198.8 L612.2,200.2 L616.1,202.7 L619.9,206.0 L623.5,209.8 L623.5,209.8 L619.9,206.0 L616.1,202.7 L612.2,200.2 L608.3,198.8 L604.2,198.3 L599.9,198.7 L595.3,199.6 L590.7,200.8 L586.1,202.0 L581.5,202.9 L577.0,203.4 L572.5,203.1 L568.1,202.3 L563.7,200.8 L559.2,199.1 L554.8,196.9 L550.4,194.7 L545.8,193.0 L540.9,191.9 L535.9,191.5 L530.9,192.1 L525.9,193.5 L521.3,195.4 L516.8,197.8 L512.7,200.3 L508.7,202.8 L505.0,205.1 L501.2,206.9 L497.1,208.7 L492.7,210.5 L488.0,212.5 L483.2,214.7 L478.4,217.3 L473.8,220.4 L469.5,224.0 L465.8,228.1 L462.7,232.5 L460.2,237.2Z" fill="#ff9a00" opacity="0.47"/>
<path d="M498.5,295.5 L498.7,292.1 L499.1,288.9 L499.6,285.7 L500.3,282.7 L501.2,279.9 L502.2,277.2 L503.3,274.7 L504.5,272.4 L505.7,270.2 L506.9,268.2 L508.2,266.1 L509.1,263.8 L509.9,261.4 L510.7,258.8 L511.4,256.1 L512.1,253.1 L512.7,250.0 L513.5,246.8 L514.5,243.5 L515.6,240.1 L516.7,236.6 L518.0,233.0 L519.5,229.6 L521.4,226.4 L523.7,223.4 L526.4,220.7 L529.5,218.3 L532.9,216.3 L536.5,214.8 L536.5,214.8 L532.9,216.3 L529.5,218.3 L526.4,220.7 L523.7,223.4 L521.4,226.4 L519.5,229.6 L518.0,233.0 L516.7,236.6 L515.6,240.1 L514.5,243.5 L513.5,246.8 L512.4,250.0 L511.1,252.8 L509.9,255.5 L508.6,258.0 L507.4,260.3 L506.1,262.5 L505.1,264.3 L503.7,266.0 L502.2,268.0 L500.7,270.3 L499.4,272.9 L498.2,275.7 L497.3,278.8 L496.6,282.0 L496.3,285.3 L496.3,288.7 L496.7,292.2 L497.4,295.6Z" fill="#ffc428" opacity="0.63"/>
<path d="M600.5,521.4 L598.8,513.6 L597.2,506.4 L595.5,499.8 L594.0,493.4 L592.6,487.2 L591.3,481.1 L590.0,475.1 L588.8,469.1 L587.4,463.2 L585.9,457.3 L584.1,451.6 L581.9,446.1 L579.4,441.0 L576.3,436.3 L573.3,432.0 L570.1,428.0 L566.9,424.0 L563.4,420.2 L559.5,416.7 L555.3,413.2 L551.1,409.9 L546.8,406.6 L542.8,403.3 L539.1,399.9 L535.8,396.3 L533.1,392.3 L533.1,392.3 L535.8,396.3 L539.1,399.9 L542.8,403.3 L546.8,406.6 L551.1,409.9 L555.3,413.2 L559.5,416.7 L563.4,420.2 L566.9,424.0 L570.1,428.0 L572.2,432.6 L573.5,437.6 L574.8,442.8 L575.8,448.0 L576.5,453.4 L577.0,459.0 L577.6,464.9 L578.3,470.9 L579.2,477.2 L580.5,483.5 L582.2,490.0 L584.4,496.4 L587.1,502.8 L590.3,509.0 L593.7,515.5 L597.7,522.4Z" fill="#ffc428" opacity="0.67"/>
<path d="M469.5,247.9 L472.8,244.6 L476.2,241.6 L479.8,238.9 L483.6,236.5 L487.6,234.2 L491.5,232.2 L495.5,230.4 L499.5,228.6 L503.4,226.9 L507.3,225.2 L511.0,223.4 L514.6,221.6 L518.1,219.4 L521.5,217.2 L524.9,214.8 L528.4,212.3 L531.9,209.7 L535.5,207.1 L539.2,204.5 L543.0,202.1 L546.8,200.0 L550.8,198.1 L554.8,196.6 L558.9,195.5 L563.4,194.9 L568.0,194.9 L572.8,195.6 L577.3,197.2 L581.8,199.4 L586.1,201.9 L590.2,204.8 L594.2,207.8 L598.1,210.9 L601.9,213.8 L605.6,216.6 L609.2,219.0 L612.8,221.0 L616.5,222.6 L620.4,223.7 L624.5,224.3 L628.7,224.4 L632.9,223.9 L637.2,223.0 L641.3,221.7 L645.2,220.0 L645.2,220.0 L641.3,221.7 L637.2,223.0 L632.9,223.9 L628.7,224.4 L624.5,224.3 L620.4,223.7 L616.5,222.6 L612.8,221.0 L609.2,219.0 L605.6,216.6 L601.9,213.8 L598.1,210.9 L594.2,207.8 L590.2,204.8 L586.1,201.9 L581.8,199.4 L577.3,197.2 L572.8,195.6 L568.2,194.2 L563.4,193.4 L558.7,193.3 L554.1,193.9 L549.7,194.9 L545.2,196.4 L540.9,198.2 L536.7,200.3 L532.6,202.5 L528.7,204.8 L524.9,207.2 L521.3,209.4 L517.9,211.5 L514.5,213.6 L511.2,215.5 L507.9,217.2 L504.3,218.9 L500.6,220.7 L496.7,222.6 L492.7,224.7 L488.7,227.0 L484.7,229.5 L480.8,232.4 L477.1,235.5 L473.7,239.0 L470.6,242.7 L468.0,246.8Z" fill="#ffb010" opacity="0.62"/>
<path d="M571.2,472.4 L569.6,466.4 L568.1,460.6 L566.6,455.1 L565.3,449.7 L564.1,444.6 L563.1,439.9 L562.5,435.2 L561.9,430.6 L561.3,426.0 L560.6,421.5 L559.9,417.1 L558.9,412.7 L557.6,408.5 L555.9,404.4 L554.4,400.4 L552.9,396.3 L550.8,392.3 L548.3,388.2 L544.9,384.2 L541.1,380.3 L537.0,376.7 L532.5,373.3 L527.9,370.1 L523.2,366.9 L523.2,366.9 L527.9,370.1 L532.5,373.3 L537.0,376.7 L541.1,380.3 L544.9,384.2 L548.3,388.2 L550.8,392.3 L552.9,396.3 L554.4,400.4 L555.3,404.5 L555.2,408.8 L554.9,413.1 L554.5,417.4 L554.1,421.7 L553.7,426.3 L553.5,431.1 L553.7,436.0 L554.2,441.4 L555.5,446.9 L557.3,452.2 L559.5,457.6 L562.2,462.9 L565.4,468.2 L568.9,473.4Z" fill="#ff9a00" opacity="0.66"/>
<path d="M466.9,418.7 L467.5,414.6 L467.7,410.6 L467.9,406.5 L467.7,402.3 L467.0,398.1 L466.1,393.9 L464.9,389.8 L463.8,385.8 L462.8,381.7 L462.0,377.5 L461.5,373.1 L461.3,368.5 L461.4,363.7 L461.8,359.1 L462.5,354.5 L463.0,349.7 L463.1,344.9 L462.6,340.1 L461.5,335.4 L459.8,331.0 L458.2,326.4 L456.5,321.8 L454.9,317.0 L453.7,312.0 L453.1,306.7 L453.4,301.5 L454.0,296.6 L455.3,292.0 L457.2,287.4 L459.5,282.9 L462.0,278.6 L464.2,274.4 L466.1,270.2 L467.4,266.0 L467.4,266.0 L466.1,270.2 L464.2,274.4 L462.0,278.6 L459.5,282.9 L457.2,287.4 L455.3,292.0 L454.0,296.6 L453.4,301.5 L453.1,306.7 L453.7,312.0 L454.9,317.0 L456.5,321.8 L458.2,326.4 L459.5,331.1 L460.1,335.7 L460.3,340.3 L459.9,344.8 L459.1,349.2 L457.9,353.5 L456.5,358.1 L455.5,363.1 L454.9,368.3 L454.7,373.4 L455.0,378.4 L455.7,383.1 L456.8,387.6 L458.2,391.9 L459.5,395.9 L460.8,399.7 L461.9,403.3 L462.8,407.0 L463.5,410.9 L464.3,414.8 L465.0,418.7Z" fill="#ffb010" opacity="0.42"/>
<path d="M555.6,400.1 L555.2,395.8 L555.1,391.4 L555.2,386.6 L554.7,381.6 L553.9,376.6 L552.6,371.8 L550.5,367.3 L547.6,363.1 L544.1,359.4 L540.0,356.0 L535.6,352.8 L531.4,349.8 L527.6,346.9 L524.7,343.9 L522.5,340.6 L520.9,336.7 L520.0,332.4 L519.8,327.9 L520.1,323.3 L520.4,318.8 L520.5,314.5 L519.8,310.7 L518.1,307.4 L515.3,304.8 L511.5,302.6 L507.1,300.7 L502.2,298.5 L498.3,295.5 L495.0,292.1 L492.8,288.6 L492.2,285.1 L493.1,281.8 L495.5,278.8 L499.2,276.3 L503.6,274.3 L508.0,272.8 L511.7,271.7 L514.4,270.7 L515.6,269.4 L514.9,267.1 L513.1,263.6 L510.5,259.0 L507.7,253.6 L505.4,247.8 L503.9,242.2 L503.9,242.2 L505.4,247.8 L507.7,253.6 L510.5,259.0 L513.1,263.6 L514.9,267.1 L515.6,269.4 L514.4,270.7 L511.7,271.7 L508.0,272.8 L503.6,274.3 L499.2,276.3 L495.5,278.8 L493.1,281.8 L492.2,285.1 L492.8,288.6 L495.0,292.1 L498.3,295.5 L502.2,298.5 L506.9,301.1 L511.2,303.4 L514.5,305.7 L516.8,308.3 L518.0,311.2 L518.3,314.6 L517.9,318.6 L517.3,323.0 L516.8,327.8 L516.8,332.7 L517.6,337.6 L519.3,342.2 L521.7,346.2 L525.1,349.7 L529.1,352.9 L533.3,356.0 L537.6,359.0 L541.5,362.2 L544.8,365.5 L547.5,369.1 L549.5,373.0 L550.9,377.4 L552.0,382.0 L552.8,386.8 L553.1,391.5 L553.6,396.0 L554.6,400.3Z" fill="#ff9a00" opacity="0.60"/>
<path d="M555.6,395.6 L555.5,391.1 L555.2,386.4 L554.3,381.5 L553.3,376.7 L551.9,372.0 L550.2,367.5 L547.9,363.2 L545.2,359.2 L542.0,355.5 L538.3,352.3 L534.3,349.5 L529.9,347.0 L525.4,344.5 L521.0,341.4 L516.2,338.0 L511.5,334.6 L507.0,331.2 L503.1,327.8 L499.9,324.3 L497.4,320.6 L495.8,316.8 L495.8,316.8 L497.4,320.6 L499.9,324.3 L503.1,327.8 L507.0,331.2 L511.5,334.6 L516.2,338.0 L521.0,341.4 L525.4,344.5 L529.3,347.8 L532.7,351.3 L535.7,355.0 L538.2,358.6 L540.3,362.3 L542.2,366.2 L543.7,370.2 L545.2,374.3 L546.8,378.7 L548.4,383.2 L550.2,387.6 L551.8,392.0 L553.7,396.1Z" fill="#ff9a00" opacity="0.67"/>
<path d="M497.3,418.9 L497.6,414.9 L497.9,410.8 L498.2,406.6 L498.5,402.3 L498.8,397.9 L498.9,393.3 L498.8,388.8 L498.5,384.2 L497.8,379.8 L496.7,375.4 L495.3,371.1 L493.4,367.0 L491.3,363.0 L488.8,359.2 L486.0,355.6 L483.2,351.9 L480.4,348.2 L477.5,344.6 L474.6,340.9 L471.8,337.1 L469.2,333.2 L466.9,329.0 L465.1,324.7 L463.8,320.1 L463.3,315.3 L463.4,310.5 L463.4,310.5 L463.3,315.3 L463.8,320.1 L465.1,324.7 L466.9,329.0 L469.2,333.2 L471.8,337.1 L474.6,340.9 L477.5,344.6 L480.4,348.2 L483.2,351.9 L485.6,355.8 L487.8,359.8 L489.7,363.9 L491.3,367.9 L492.6,372.0 L493.5,376.1 L494.2,380.4 L494.6,384.6 L494.9,389.0 L494.9,393.4 L494.9,397.8 L494.9,402.2 L495.0,406.6 L495.2,410.8 L495.6,415.0 L496.2,419.0Z" fill="#ffd648" opacity="0.53"/>
<path d="M524.6,224.9 L527.8,223.2 L531.1,221.6 L534.5,220.1 L537.9,218.8 L541.5,217.7 L545.1,216.9 L548.8,216.3 L552.5,216.0 L556.2,215.9 L559.9,216.1 L563.6,216.6 L567.4,217.3 L571.3,218.3 L575.3,219.4 L579.4,220.7 L583.5,222.0 L587.7,223.3 L591.9,224.4 L596.0,225.2 L600.2,225.7 L604.2,226.2 L608.0,226.5 L611.8,226.3 L615.8,225.9 L620.0,225.3 L624.4,224.4 L628.9,223.3 L633.4,222.1 L637.8,220.7 L641.9,219.2 L645.8,217.8 L649.2,216.4 L652.1,215.2 L654.5,214.1 L654.5,214.1 L652.1,215.2 L649.2,216.4 L645.8,217.8 L641.9,219.2 L637.8,220.7 L633.4,222.1 L628.9,223.3 L624.4,224.4 L620.0,225.3 L615.8,225.9 L611.8,226.3 L608.0,226.5 L604.2,226.2 L600.2,225.5 L596.4,224.0 L592.5,222.4 L588.7,220.6 L584.9,218.7 L581.0,216.8 L577.0,214.9 L573.0,213.2 L568.9,211.7 L564.8,210.6 L560.6,209.8 L556.4,209.5 L552.1,209.5 L547.9,210.0 L543.7,210.9 L539.7,212.2 L535.9,213.9 L532.3,216.0 L529.0,218.3 L526.1,220.8 L523.5,223.5Z" fill="#ffd648" opacity="0.55"/>
<path d="M518.0,363.7 L516.5,359.4 L514.7,355.2 L512.7,351.2 L510.4,347.3 L508.0,343.4 L505.3,339.5 L502.5,335.6 L499.8,331.9 L497.3,328.3 L495.0,324.8 L492.9,321.3 L491.2,317.8 L489.9,314.3 L488.9,310.7 L488.4,307.0 L488.3,303.3 L488.5,299.5 L490.0,295.7 L491.8,292.1 L493.7,288.7 L495.5,285.4 L497.2,282.2 L498.6,279.2 L499.7,276.4 L500.3,273.5 L500.5,270.7 L500.2,267.8 L499.6,264.8 L498.7,261.5 L498.7,261.5 L499.6,264.8 L500.2,267.8 L500.5,270.7 L500.3,273.5 L499.7,276.4 L498.6,279.2 L497.2,282.2 L495.5,285.4 L493.7,288.7 L491.8,292.1 L490.0,295.7 L488.0,299.3 L486.2,302.8 L485.0,306.7 L484.3,310.9 L484.2,315.3 L484.8,319.8 L486.0,324.3 L487.7,328.7 L489.9,332.9 L492.4,337.0 L495.2,341.0 L498.1,344.8 L501.1,348.5 L504.0,351.9 L507.0,355.2 L509.9,358.4 L512.9,361.7 L515.9,365.0Z" fill="#ffc428" opacity="0.32"/>
<path d="M520.7,267.9 L520.6,265.3 L520.7,262.5 L521.0,259.8 L521.6,257.2 L522.4,254.7 L523.5,252.5 L524.9,250.6 L526.4,249.0 L528.1,247.5 L529.5,246.4 L531.2,245.7 L533.3,244.8 L535.5,243.6 L537.9,242.1 L540.3,240.2 L542.9,238.1 L545.6,235.8 L548.5,233.3 L551.5,230.9 L554.6,228.6 L557.9,226.6 L561.3,225.1 L564.6,224.1 L568.2,223.7 L571.9,224.1 L575.7,224.9 L579.6,226.1 L583.5,227.4 L587.4,228.6 L591.4,229.4 L595.5,229.9 L599.6,229.8 L603.7,229.1 L607.8,227.9 L611.8,226.3 L616.1,224.6 L620.5,223.0 L625.0,221.9 L629.4,221.3 L633.6,221.3 L633.6,221.3 L629.4,221.3 L625.0,221.9 L620.5,223.0 L616.1,224.6 L611.8,226.3 L607.8,227.9 L603.7,229.1 L599.6,229.8 L595.5,229.9 L591.4,229.4 L587.4,228.6 L583.5,227.4 L579.6,226.1 L575.7,224.9 L571.9,224.1 L568.2,223.7 L564.6,223.6 L561.0,224.2 L557.4,225.4 L553.8,227.1 L550.3,229.2 L547.0,231.4 L543.9,233.6 L541.0,235.7 L538.4,237.6 L536.0,239.1 L533.8,240.4 L531.7,241.3 L529.7,242.1 L527.6,243.0 L525.6,244.5 L523.7,246.3 L521.9,248.4 L520.5,250.9 L519.4,253.6 L518.7,256.6 L518.4,259.6 L518.5,262.6 L519.0,265.5 L519.7,268.1Z" fill="#ff8400" opacity="0.38"/>
<path d="M505.8,532.2 L505.3,525.3 L504.8,518.9 L504.5,512.6 L504.2,506.4 L504.0,500.4 L504.1,494.4 L504.3,488.5 L504.5,482.6 L504.9,476.7 L505.1,470.8 L505.3,464.9 L505.1,459.2 L504.6,453.5 L503.4,448.2 L501.7,443.3 L499.6,439.0 L497.0,435.1 L494.2,431.6 L491.0,428.5 L488.6,425.0 L486.3,421.5 L484.3,418.0 L482.6,414.4 L481.4,410.6 L480.8,406.6 L480.9,402.3 L481.5,397.9 L482.5,393.2 L483.8,388.4 L485.1,383.4 L486.4,378.5 L487.3,373.6 L487.3,373.6 L486.4,378.5 L485.1,383.4 L483.8,388.4 L482.5,393.2 L481.5,397.9 L480.9,402.3 L480.8,406.6 L481.4,410.6 L482.6,414.4 L484.3,418.0 L486.3,421.5 L488.6,425.0 L491.0,428.5 L492.4,432.6 L493.8,436.7 L494.8,440.8 L495.5,445.0 L495.8,449.4 L495.9,454.1 L495.4,459.0 L494.9,464.3 L494.2,470.0 L493.5,475.8 L493.1,482.0 L492.8,488.2 L493.0,494.6 L493.6,501.1 L494.6,507.5 L496.1,513.9 L498.0,520.2 L500.1,526.4 L502.8,532.9Z" fill="#ffd648" opacity="0.62"/>
<path d="M531.5,410.2 L530.1,406.2 L528.1,402.2 L525.9,398.2 L523.5,394.2 L521.1,390.2 L519.0,386.3 L517.3,382.4 L516.1,378.5 L515.4,374.5 L515.1,370.3 L515.0,365.9 L515.1,361.4 L515.1,356.8 L514.6,352.2 L513.6,347.8 L511.8,343.4 L509.0,339.1 L505.5,335.2 L501.6,331.6 L497.6,328.3 L493.8,325.1 L490.4,321.9 L487.8,318.5 L486.1,315.0 L485.3,311.2 L485.5,307.2 L486.5,303.2 L488.4,299.4 L490.9,295.7 L493.1,292.1 L494.6,288.7 L495.3,285.4 L495.0,282.0 L493.7,278.5 L491.6,274.9 L489.2,271.0 L486.8,266.9 L484.9,262.6 L484.0,258.5 L484.3,254.7 L485.9,251.3 L488.7,248.7 L492.7,246.9 L497.3,245.8 L502.2,245.2 L506.9,244.9 L506.9,244.9 L502.2,245.2 L497.3,245.8 L492.7,246.9 L488.7,248.7 L485.9,251.3 L484.3,254.7 L484.0,258.5 L484.9,262.6 L486.8,266.9 L489.2,271.0 L491.6,274.9 L493.7,278.5 L495.0,282.0 L495.3,285.4 L494.6,288.7 L493.1,292.1 L490.9,295.7 L488.4,299.4 L486.2,303.1 L484.5,307.0 L483.7,311.2 L484.0,315.5 L485.4,319.8 L487.9,323.9 L491.2,327.7 L494.8,331.4 L498.5,334.9 L501.9,338.5 L504.8,342.2 L506.9,345.9 L508.1,349.4 L508.8,353.0 L509.0,357.0 L509.0,361.3 L508.9,365.9 L509.0,370.6 L509.5,375.3 L510.5,380.0 L512.2,384.5 L514.4,388.8 L517.1,392.8 L520.0,396.6 L522.7,400.3 L525.4,403.9 L527.9,407.4 L530.1,410.9Z" fill="#ffc428" opacity="0.64"/>
<path d="M461.8,292.2 L463.2,287.8 L464.6,283.6 L465.9,279.3 L467.3,275.1 L468.6,270.8 L469.8,266.6 L471.1,262.4 L472.3,258.2 L473.6,254.0 L474.8,249.9 L476.4,246.0 L478.2,242.0 L480.0,238.0 L482.0,234.0 L484.2,230.1 L486.5,226.2 L489.1,222.5 L492.0,218.9 L495.0,215.4 L498.8,212.8 L502.8,210.5 L507.0,208.7 L511.4,207.1 L516.0,206.0 L520.6,205.4 L525.2,205.3 L529.8,205.4 L534.3,205.9 L538.8,206.6 L543.2,207.4 L547.6,208.3 L551.8,209.1 L551.8,209.1 L547.6,208.3 L543.2,207.4 L538.8,206.6 L534.3,205.9 L529.8,205.4 L525.2,205.3 L520.6,205.4 L516.0,206.0 L511.4,207.1 L507.0,208.7 L502.8,210.5 L498.8,212.8 L495.0,215.4 L491.1,218.0 L487.4,220.9 L484.0,224.2 L480.8,227.7 L477.9,231.4 L475.2,235.2 L472.7,239.2 L470.5,243.2 L468.3,247.4 L466.7,251.8 L465.3,256.1 L464.1,260.5 L463.0,264.9 L462.1,269.2 L461.4,273.7 L460.7,278.2 L460.2,282.7 L459.9,287.3 L459.9,291.8Z" fill="#ffc428" opacity="0.45"/>
<path d="M492.3,515.2 L493.2,508.8 L494.1,502.5 L494.9,496.3 L495.7,490.1 L496.3,484.0 L496.7,478.0 L496.7,472.0 L496.4,466.2 L495.8,460.5 L494.7,454.9 L493.0,449.6 L491.1,445.0 L489.1,440.7 L487.0,436.8 L484.9,433.2 L483.0,429.8 L481.3,426.5 L479.9,423.3 L478.7,419.9 L477.8,416.2 L477.2,412.2 L476.7,407.9 L477.0,403.4 L477.9,398.9 L478.8,394.3 L479.6,389.7 L480.0,385.1 L480.1,380.5 L479.7,376.0 L478.8,371.7 L477.3,367.4 L475.5,363.3 L473.2,359.3 L470.7,355.4 L468.3,351.7 L465.8,348.0 L463.5,344.2 L461.5,340.2 L461.5,340.2 L463.5,344.2 L465.8,348.0 L468.3,351.7 L470.7,355.4 L473.2,359.3 L475.5,363.3 L477.3,367.4 L478.8,371.7 L479.7,376.0 L480.1,380.5 L480.0,385.1 L479.6,389.7 L478.8,394.3 L477.9,398.9 L477.0,403.4 L475.5,407.8 L474.3,412.0 L473.5,416.3 L473.1,420.5 L473.1,424.7 L473.6,428.9 L474.5,433.0 L475.6,437.1 L477.0,441.2 L478.4,445.2 L479.8,449.4 L481.1,453.6 L482.3,457.9 L483.2,462.5 L483.9,467.5 L484.5,472.7 L485.0,478.2 L485.4,484.0 L485.8,490.0 L486.3,496.1 L486.9,502.4 L487.7,508.8 L488.8,515.3Z" fill="#ffd648" opacity="0.54"/>
<path d="M610.1,553.7 L607.7,545.3 L605.4,537.0 L603.2,528.8 L601.1,520.9 L599.4,513.4 L597.9,506.5 L596.4,500.0 L595.2,493.7 L594.1,487.4 L593.2,481.2 L592.2,475.0 L591.2,468.8 L589.9,462.7 L588.5,456.6 L586.6,450.8 L584.3,445.2 L581.4,440.0 L578.2,435.2 L575.0,430.8 L571.2,426.8 L567.2,423.2 L562.9,420.0 L558.6,416.9 L554.8,413.4 L551.0,409.9 L547.4,406.5 L544.2,402.9 L541.5,399.2 L539.4,395.3 L537.8,391.1 L536.5,386.6 L535.7,381.9 L535.5,377.1 L535.8,372.3 L536.4,367.4 L537.2,362.5 L538.0,357.7 L538.7,353.1 L538.7,353.1 L538.0,357.7 L537.2,362.5 L536.4,367.4 L535.8,372.3 L535.5,377.1 L535.7,381.9 L536.5,386.6 L537.8,391.1 L539.4,395.3 L541.5,399.2 L544.2,402.9 L547.4,406.5 L551.0,409.9 L554.8,413.4 L558.6,416.9 L562.1,420.9 L565.1,425.1 L567.9,429.4 L570.3,433.9 L572.3,438.6 L574.3,443.5 L575.8,448.4 L577.0,453.6 L577.9,459.0 L578.6,464.6 L579.3,470.5 L579.9,476.7 L580.7,483.0 L581.7,489.5 L583.0,496.2 L584.7,502.9 L586.8,509.5 L589.0,516.4 L591.8,523.9 L595.1,531.7 L598.7,539.5 L602.7,547.4 L606.9,555.0Z" fill="#ff9a00" opacity="0.43"/>
<path d="M539.9,189.4 L544.5,190.1 L549.1,191.0 L553.5,192.1 L557.9,193.2 L562.6,194.6 L567.2,196.1 L571.8,197.6 L576.4,199.2 L581.0,200.6 L585.6,201.8 L590.2,202.8 L594.7,203.4 L599.2,203.7 L603.5,203.7 L607.7,203.4 L611.8,202.9 L616.1,202.5 L620.5,202.7 L625.0,203.0 L629.4,203.6 L633.6,204.5 L637.6,205.7 L641.3,207.3 L644.6,209.3 L647.5,211.6 L649.9,214.2 L651.7,216.9 L653.1,219.7 L653.1,219.7 L651.7,216.9 L649.9,214.2 L647.5,211.6 L644.6,209.3 L641.3,207.3 L637.6,205.7 L633.6,204.5 L629.4,203.6 L625.0,203.0 L620.5,202.7 L616.1,202.5 L611.8,202.1 L607.7,201.7 L603.7,201.1 L599.6,200.4 L595.4,199.4 L591.3,198.2 L587.1,196.8 L582.7,195.2 L578.3,193.6 L573.7,192.0 L569.0,190.5 L564.0,189.1 L559.1,188.1 L554.3,187.5 L549.5,187.2 L544.7,187.3 L539.9,187.8Z" fill="#ffb010" opacity="0.37"/>
<path d="M473.4,369.1 L475.1,364.4 L476.5,359.5 L477.4,354.8 L477.8,350.0 L477.3,345.0 L475.8,340.2 L473.5,335.7 L470.5,331.7 L467.2,327.9 L463.9,324.2 L460.7,320.4 L457.8,316.3 L456.1,311.6 L455.9,306.4 L457.1,301.3 L459.0,296.5 L461.9,292.0 L465.5,287.7 L469.6,283.6 L473.6,279.8 L477.2,276.2 L477.2,276.2 L473.6,279.8 L469.6,283.6 L465.5,287.7 L461.9,292.0 L459.0,296.5 L457.1,301.3 L455.9,306.4 L456.1,311.6 L456.6,316.7 L457.8,321.9 L459.7,326.8 L461.9,331.4 L464.1,335.7 L465.9,339.7 L467.3,343.4 L468.3,346.9 L468.9,350.5 L469.3,354.5 L469.7,359.0 L470.1,363.9 L470.9,368.9Z" fill="#ffb010" opacity="0.41"/>
<path d="M481.8,537.2 L483.2,530.3 L484.6,523.7 L485.3,517.0 L485.5,510.4 L484.9,503.9 L483.8,497.6 L482.1,491.6 L480.0,485.8 L477.7,480.5 L475.4,475.4 L473.3,470.4 L471.6,465.6 L470.4,460.7 L469.4,455.8 L469.1,450.9 L470.5,446.0 L472.4,441.2 L474.7,436.4 L477.2,431.8 L479.6,427.2 L481.5,422.7 L482.9,418.4 L483.3,414.3 L482.7,410.3 L481.0,406.5 L481.0,406.5 L482.7,410.3 L483.3,414.3 L482.9,418.4 L481.5,422.7 L479.6,427.2 L477.2,431.8 L474.7,436.4 L472.4,441.2 L470.5,446.0 L469.1,450.9 L467.7,455.8 L467.2,461.0 L467.1,466.4 L467.8,472.0 L468.9,477.5 L470.5,483.1 L472.2,488.6 L473.8,494.1 L475.3,499.6 L476.5,505.2 L477.5,511.0 L478.1,517.1 L478.6,523.4 L478.9,530.0 L479.4,537.1Z" fill="#ffb010" opacity="0.46"/>
<path d="M472.6,454.8 L472.0,450.1 L471.3,445.6 L470.5,441.4 L469.8,437.4 L469.1,433.6 L468.5,429.9 L468.0,426.3 L467.6,422.7 L467.3,419.1 L467.2,415.4 L467.1,411.8 L467.5,408.1 L468.0,403.9 L468.5,399.5 L469.0,395.0 L469.4,390.3 L469.8,385.5 L469.9,380.6 L469.9,375.7 L469.7,370.7 L469.1,365.9 L468.3,361.1 L467.3,356.6 L466.2,352.4 L464.8,348.4 L463.0,344.3 L460.8,340.3 L458.5,336.3 L456.5,331.9 L454.6,327.4 L452.8,322.6 L451.2,317.7 L450.0,312.5 L449.3,307.1 L449.2,301.7 L449.1,296.8 L449.5,292.0 L450.5,287.2 L452.1,282.4 L454.2,277.8 L456.7,273.3 L459.6,269.0 L462.8,264.9 L466.1,261.0 L469.6,257.4 L473.0,254.0 L476.2,250.8 L476.2,250.8 L473.0,254.0 L469.6,257.4 L466.1,261.0 L462.8,264.9 L459.6,269.0 L456.7,273.3 L454.2,277.8 L452.1,282.4 L450.5,287.2 L449.5,292.0 L449.1,296.8 L449.2,301.7 L449.3,307.1 L450.0,312.5 L451.2,317.7 L452.8,322.6 L454.6,327.4 L456.5,331.9 L458.5,336.3 L459.8,340.7 L460.9,345.1 L461.8,349.2 L462.4,353.2 L462.6,357.3 L462.9,361.7 L463.0,366.3 L462.8,370.9 L462.5,375.4 L462.0,380.0 L461.3,384.6 L460.6,389.2 L459.9,393.8 L459.1,398.3 L458.4,402.6 L457.8,406.9 L457.4,411.4 L457.5,415.9 L457.9,420.0 L458.6,424.0 L459.4,427.9 L460.5,431.7 L461.8,435.5 L463.2,439.3 L464.8,443.1 L466.5,447.0 L468.2,451.2 L470.1,455.5Z" fill="#ffc428" opacity="0.64"/>
<path d="M460.7,432.0 L461.3,428.1 L461.7,424.1 L461.8,420.2 L461.6,416.2 L461.2,412.4 L461.0,408.7 L460.6,404.8 L460.1,400.8 L459.3,396.7 L458.5,392.6 L457.6,388.3 L456.8,384.0 L455.9,379.6 L455.2,375.0 L454.6,370.2 L454.1,365.3 L453.7,360.6 L453.9,356.0 L454.3,351.4 L455.1,346.7 L455.8,341.8 L456.4,336.8 L456.9,331.8 L457.3,326.7 L457.5,321.6 L457.6,316.5 L457.6,311.4 L457.5,306.2 L457.5,301.2 L456.7,296.6 L455.9,292.0 L455.9,292.0 L456.7,296.6 L457.5,301.2 L457.5,306.2 L457.6,311.4 L457.6,316.5 L457.5,321.6 L457.3,326.7 L456.9,331.8 L456.4,336.8 L455.8,341.8 L455.1,346.7 L454.3,351.4 L453.0,355.8 L451.4,360.2 L450.4,365.1 L449.7,370.2 L449.2,375.2 L448.9,380.0 L448.9,384.8 L449.1,389.4 L449.4,393.9 L449.9,398.2 L450.4,402.2 L451.0,406.1 L451.7,409.9 L452.3,413.8 L453.5,417.7 L454.6,421.3 L455.7,424.8 L456.8,428.4 L458.0,432.2Z" fill="#ff9a00" opacity="0.49"/>
<path d="M483.5,284.6 L484.3,280.9 L485.3,277.5 L486.5,274.1 L487.8,270.9 L489.3,267.9 L490.9,265.0 L492.6,262.3 L494.2,259.6 L495.8,256.7 L497.4,253.8 L498.9,250.8 L500.3,247.6 L501.8,244.3 L503.2,240.9 L504.7,237.5 L506.3,234.1 L508.1,230.7 L510.1,227.5 L512.4,224.5 L515.0,221.9 L517.9,219.7 L521.4,218.1 L525.1,217.1 L528.9,216.5 L532.9,216.4 L537.0,216.6 L541.0,217.0 L545.0,217.5 L549.0,218.0 L553.0,218.3 L556.9,218.4 L560.6,218.2 L564.3,217.6 L568.2,216.8 L572.2,215.7 L572.2,215.7 L568.2,216.8 L564.3,217.6 L560.6,218.2 L556.9,218.4 L553.0,218.3 L549.0,218.0 L545.0,217.5 L541.0,217.0 L537.0,216.6 L532.9,216.4 L528.9,216.5 L525.1,217.1 L521.4,218.1 L517.9,219.7 L514.6,221.5 L511.6,223.8 L508.9,226.5 L506.4,229.6 L504.2,232.8 L502.2,236.2 L500.4,239.5 L498.7,242.8 L497.0,246.0 L495.4,249.0 L493.8,252.0 L492.3,254.8 L490.8,257.5 L489.2,260.3 L487.6,263.2 L486.1,266.4 L484.8,269.7 L483.8,273.2 L483.0,276.9 L482.5,280.7 L482.4,284.5Z" fill="#ffd648" opacity="0.51"/>
<path d="M564.9,450.0 L563.1,444.7 L561.0,439.7 L559.0,434.9 L556.7,430.4 L554.1,426.1 L551.4,422.1 L548.7,418.3 L546.0,414.6 L543.5,411.1 L541.2,407.6 L539.2,404.0 L537.5,400.2 L536.1,396.2 L535.0,391.9 L533.8,387.3 L533.3,382.6 L533.0,377.9 L532.8,373.2 L532.5,368.6 L532.0,364.2 L531.1,359.9 L529.9,355.8 L528.1,352.0 L525.8,348.5 L522.9,345.2 L522.9,345.2 L525.8,348.5 L528.1,352.0 L529.9,355.8 L531.1,359.9 L532.0,364.2 L532.5,368.6 L532.8,373.2 L533.0,377.9 L533.3,382.6 L533.8,387.3 L534.1,392.0 L534.4,396.6 L535.2,400.9 L536.4,405.2 L538.0,409.2 L540.1,413.2 L542.4,417.1 L544.9,420.9 L547.6,424.8 L550.3,428.6 L553.0,432.6 L555.6,436.7 L558.2,441.1 L561.0,445.7 L563.8,450.6Z" fill="#ffb010" opacity="0.64"/>
<path d="M469.0,414.0 L468.8,410.0 L469.1,406.1 L469.4,402.0 L469.9,397.8 L470.4,393.4 L471.1,388.8 L471.7,384.1 L472.4,379.3 L473.0,374.5 L473.5,369.5 L473.8,364.6 L473.9,359.7 L473.7,355.1 L473.4,350.6 L472.6,346.2 L471.4,341.9 L469.7,337.6 L467.6,333.5 L465.2,329.3 L462.7,325.2 L460.0,321.0 L457.6,316.5 L455.4,311.7 L453.5,306.7 L452.1,301.6 L450.8,296.7 L450.2,292.0 L450.1,287.2 L450.8,282.3 L452.3,277.6 L454.4,273.0 L457.3,268.6 L460.8,264.4 L464.7,260.6 L469.0,257.3 L469.0,257.3 L464.7,260.6 L460.8,264.4 L457.3,268.6 L454.4,273.0 L452.3,277.6 L450.8,282.3 L450.1,287.2 L450.2,292.0 L450.8,296.7 L452.1,301.6 L453.5,306.7 L455.4,311.7 L457.6,316.5 L460.0,321.0 L462.1,325.5 L464.1,329.9 L465.9,334.2 L467.5,338.5 L468.6,342.7 L469.4,346.8 L469.7,350.9 L469.6,355.1 L469.5,359.7 L469.2,364.4 L468.7,369.1 L468.2,373.9 L467.6,378.7 L467.1,383.6 L466.6,388.3 L466.2,393.0 L466.0,397.5 L466.0,401.9 L466.3,406.1 L466.7,410.2 L467.7,414.2Z" fill="#ffb010" opacity="0.64"/>
<path d="M454.6,549.8 L454.9,542.4 L454.8,535.7 L455.0,529.5 L455.1,523.2 L455.1,517.1 L455.2,511.0 L455.4,505.1 L455.8,499.1 L456.5,493.1 L457.4,487.1 L458.6,481.0 L459.8,474.8 L461.2,468.7 L462.4,462.7 L462.9,457.1 L463.9,452.0 L464.5,447.3 L464.6,443.0 L464.1,438.9 L463.1,435.1 L461.5,431.5 L459.5,428.2 L457.2,424.9 L454.7,421.6 L452.2,418.3 L452.2,418.3 L454.7,421.6 L457.2,424.9 L459.5,428.2 L461.5,431.5 L463.1,435.1 L464.1,438.9 L464.6,443.0 L464.5,447.3 L463.9,452.0 L462.9,457.1 L460.7,462.2 L458.0,467.7 L455.3,473.3 L452.8,479.2 L450.5,485.3 L448.7,491.6 L447.3,497.9 L446.4,504.4 L446.0,510.8 L446.1,517.3 L446.7,523.6 L447.5,530.0 L448.6,536.3 L450.3,542.9 L452.2,550.1Z" fill="#ffb010" opacity="0.53"/>
<path d="M488.8,222.4 L493.0,220.4 L497.4,218.9 L501.9,217.9 L506.5,217.3 L511.1,217.1 L515.7,217.0 L520.2,217.0 L524.5,216.8 L528.6,216.2 L532.5,215.1 L536.2,213.2 L539.7,210.8 L543.4,208.0 L547.0,204.8 L550.8,201.3 L554.7,197.7 L558.8,194.5 L563.3,191.9 L568.1,190.3 L572.9,189.8 L572.9,189.8 L568.1,190.3 L563.3,191.9 L558.8,194.5 L554.7,197.7 L550.8,201.3 L547.0,204.8 L543.4,208.0 L539.7,210.8 L535.9,212.5 L532.1,213.6 L528.3,214.1 L524.4,214.2 L520.2,213.9 L515.7,213.7 L511.0,213.7 L506.1,214.0 L501.2,214.9 L496.5,216.5 L492.1,218.8 L488.4,221.7Z" fill="#ffc428" opacity="0.66"/>
<path d="M558.0,355.9 L556.9,351.7 L555.9,347.6 L554.7,343.7 L553.3,339.9 L551.7,336.2 L549.6,332.3 L546.5,327.9 L542.8,323.5 L538.8,319.5 L534.7,316.0 L530.4,312.9 L526.2,310.1 L522.3,307.5 L518.7,305.1 L515.7,302.8 L513.2,300.8 L511.5,299.0 L510.5,297.8 L510.6,296.0 L511.3,293.1 L512.4,290.3 L513.9,287.5 L515.6,284.9 L517.2,282.4 L518.7,280.2 L519.7,278.0 L520.4,276.3 L520.6,274.7 L520.1,273.0 L519.1,271.1 L517.2,268.4 L515.3,265.0 L513.5,261.1 L512.0,256.8 L511.0,252.5 L510.6,248.2 L510.9,244.2 L512.0,240.7 L513.8,237.9 L516.2,235.9 L519.2,234.8 L522.5,234.5 L526.0,235.3 L529.6,236.7 L529.6,236.7 L526.0,235.3 L522.5,234.5 L519.2,234.8 L516.2,235.9 L513.8,237.9 L512.0,240.7 L510.9,244.2 L510.6,248.2 L511.0,252.5 L512.0,256.8 L513.5,261.1 L515.3,265.0 L517.2,268.4 L519.1,271.1 L520.1,273.0 L520.6,274.7 L520.4,276.3 L519.5,277.9 L517.8,279.4 L515.7,281.1 L513.5,283.1 L511.1,285.5 L508.9,288.2 L506.9,291.2 L505.5,294.6 L504.6,298.6 L506.1,302.5 L508.3,305.4 L511.0,308.3 L514.3,311.0 L517.9,313.8 L521.8,316.5 L525.9,319.3 L529.9,322.2 L533.7,325.3 L537.4,328.7 L541.0,332.5 L544.1,336.1 L546.3,339.3 L548.3,342.4 L550.1,345.6 L552.0,349.2 L554.0,352.8 L556.0,356.7Z" fill="#ff9a00" opacity="0.36"/>
<path d="M538.1,412.9 L537.5,408.7 L536.2,404.4 L534.5,400.3 L532.4,396.2 L529.9,392.2 L527.0,388.2 L524.0,384.5 L521.1,380.8 L518.3,377.3 L515.8,373.7 L513.6,369.9 L511.7,366.0 L511.0,361.7 L510.6,357.3 L510.5,353.0 L510.5,348.7 L510.4,344.3 L509.8,339.8 L508.7,335.4 L507.1,331.2 L507.1,331.2 L508.7,335.4 L509.8,339.8 L510.4,344.3 L510.5,348.7 L510.5,353.0 L510.6,357.3 L511.0,361.7 L511.7,366.0 L512.2,370.4 L513.3,374.8 L514.9,379.2 L517.0,383.5 L519.4,387.7 L522.1,391.7 L524.8,395.7 L527.2,399.4 L529.7,403.0 L532.0,406.5 L534.3,410.0 L536.6,413.5Z" fill="#ffc428" opacity="0.46"/>
<path d="M457.2,574.1 L457.1,565.7 L456.9,557.5 L456.8,549.6 L456.8,542.3 L457.0,535.7 L457.6,529.3 L458.3,522.9 L458.9,516.5 L459.6,510.2 L460.3,503.9 L461.0,497.7 L461.7,491.6 L462.2,485.5 L462.7,479.6 L463.1,473.8 L463.3,468.2 L463.4,462.7 L462.7,457.5 L461.9,452.7 L461.0,448.3 L459.8,444.1 L458.6,440.2 L457.1,436.5 L455.6,433.0 L454.3,429.4 L453.1,425.9 L451.7,422.4 L450.4,418.8 L449.2,415.2 L448.6,411.5 L448.0,407.8 L447.6,403.8 L447.3,399.7 L447.3,395.3 L447.4,390.8 L447.7,386.0 L448.2,381.1 L448.8,376.1 L449.7,370.9 L450.7,365.6 L450.7,365.6 L449.7,370.9 L448.8,376.1 L448.2,381.1 L447.7,386.0 L447.4,390.8 L447.3,395.3 L447.3,399.7 L447.6,403.8 L448.0,407.8 L448.6,411.5 L449.2,415.2 L450.4,418.8 L451.7,422.4 L453.1,425.9 L454.3,429.4 L455.6,433.0 L456.3,436.7 L456.8,440.6 L457.3,444.6 L457.7,448.8 L457.9,453.2 L458.0,457.8 L458.1,462.7 L457.5,467.8 L456.8,473.3 L456.0,478.9 L455.2,484.7 L454.4,490.7 L453.6,496.8 L452.9,503.1 L452.2,509.4 L451.6,515.8 L451.2,522.3 L450.9,528.9 L450.7,535.5 L451.2,542.4 L451.8,549.9 L452.8,557.8 L453.9,566.0 L455.2,574.3Z" fill="#ff9a00" opacity="0.63"/>
<path d="M459.2,548.9 L458.7,541.5 L458.3,534.9 L458.2,528.6 L458.1,522.2 L458.0,516.0 L458.0,509.8 L458.0,503.7 L458.0,497.7 L458.2,491.8 L458.4,486.0 L458.7,480.2 L459.2,474.6 L459.7,469.1 L460.2,463.6 L460.3,458.4 L460.4,453.5 L460.5,448.9 L460.6,444.5 L460.6,440.2 L460.4,436.1 L460.0,432.2 L459.5,428.3 L458.7,424.6 L457.7,420.9 L456.5,417.2 L455.1,413.6 L454.3,409.9 L453.4,406.2 L452.4,402.4 L451.3,398.4 L450.2,394.4 L449.2,390.2 L448.2,385.9 L447.4,381.4 L446.9,376.7 L446.5,371.8 L446.4,366.9 L446.6,362.1 L447.5,357.6 L448.6,353.1 L449.6,348.4 L450.7,343.4 L451.8,338.2 L452.8,332.9 L452.8,332.9 L451.8,338.2 L450.7,343.4 L449.6,348.4 L448.6,353.1 L447.5,357.6 L446.6,362.1 L446.4,366.9 L446.5,371.8 L446.9,376.7 L447.4,381.4 L448.2,385.9 L449.2,390.2 L450.2,394.4 L451.3,398.4 L452.4,402.4 L453.4,406.2 L454.3,409.9 L455.0,413.6 L455.7,417.4 L456.3,421.2 L456.7,424.9 L457.0,428.6 L457.0,432.3 L456.9,436.2 L456.7,440.1 L456.3,444.3 L455.9,448.6 L455.5,453.3 L455.1,458.1 L454.8,463.2 L454.1,468.5 L453.5,474.1 L453.0,479.9 L452.7,485.7 L452.6,491.7 L452.6,497.7 L452.7,503.8 L453.1,510.0 L453.5,516.2 L454.0,522.4 L454.6,528.8 L455.3,535.1 L456.4,541.8 L457.7,549.1Z" fill="#ff9a00" opacity="0.66"/>
<path d="M556.4,399.6 L554.9,395.4 L553.3,391.2 L551.5,386.8 L549.3,382.3 L547.2,377.9 L545.3,373.6 L543.5,369.4 L541.9,365.3 L540.4,361.3 L539.0,357.2 L537.7,353.2 L536.2,349.3 L534.6,345.4 L532.9,341.7 L530.8,337.7 L528.0,333.5 L524.9,329.3 L521.6,325.5 L518.3,321.9 L515.1,318.6 L512.1,315.4 L509.4,312.4 L507.1,309.5 L505.3,306.7 L503.8,303.9 L502.8,301.3 L502.2,298.6 L502.5,295.5 L502.8,292.2 L503.5,289.0 L504.1,285.9 L504.4,283.0 L504.5,280.1 L504.3,277.2 L503.8,274.4 L503.2,271.5 L502.5,268.6 L502.0,265.8 L501.8,262.9 L501.7,259.9 L502.2,257.0 L503.4,254.2 L505.1,251.6 L507.2,249.4 L509.8,247.5 L512.5,245.8 L515.2,244.3 L517.8,242.8 L520.3,241.3 L520.3,241.3 L517.8,242.8 L515.2,244.3 L512.5,245.8 L509.8,247.5 L507.2,249.4 L505.1,251.6 L503.4,254.2 L502.2,257.0 L501.7,259.9 L501.8,262.9 L502.0,265.8 L502.5,268.6 L503.2,271.5 L503.8,274.4 L504.3,277.2 L504.5,280.1 L504.4,283.0 L504.1,285.9 L503.5,289.0 L502.7,292.1 L501.4,295.3 L500.4,298.5 L500.4,301.7 L500.9,304.9 L501.9,308.3 L503.4,311.7 L505.5,315.3 L507.9,318.8 L510.7,322.4 L513.5,326.0 L516.4,329.7 L519.3,333.5 L521.9,337.5 L524.3,341.4 L526.0,345.0 L527.5,348.5 L529.0,352.1 L530.4,355.9 L531.9,359.8 L533.5,363.9 L535.3,368.1 L537.3,372.3 L539.5,376.5 L542.0,380.7 L544.7,384.9 L547.4,389.0 L549.8,393.0 L552.2,396.8 L554.5,400.6Z" fill="#ff9a00" opacity="0.37"/>
<path d="M508.7,457.6 L510.8,452.4 L512.6,447.5 L514.0,442.7 L515.0,437.8 L515.2,432.7 L514.5,427.7 L512.6,422.9 L509.7,418.8 L506.0,415.5 L501.7,413.0 L497.3,410.6 L493.7,407.4 L490.3,404.0 L487.5,400.5 L485.6,396.7 L484.6,392.6 L484.8,388.1 L486.0,383.2 L486.0,383.2 L484.8,388.1 L484.6,392.6 L485.6,396.7 L487.5,400.5 L490.3,404.0 L493.7,407.4 L497.3,410.6 L499.9,414.8 L501.7,418.9 L502.8,422.7 L503.3,426.1 L503.3,429.3 L503.1,432.7 L502.8,436.7 L502.7,441.3 L502.9,446.5 L503.7,452.0 L505.4,457.5Z" fill="#ffc428" opacity="0.42"/>
<path d="M466.5,314.9 L467.3,310.2 L468.2,305.6 L469.3,301.1 L470.2,296.7 L471.1,292.6 L471.9,288.4 L472.7,284.2 L473.4,279.9 L473.9,275.7 L474.3,271.5 L474.5,267.2 L474.7,263.0 L474.9,258.8 L475.3,254.6 L475.9,250.5 L476.9,246.4 L478.4,242.4 L480.3,238.5 L483.2,235.1 L486.4,232.1 L490.0,229.5 L493.9,227.3 L497.9,225.4 L502.0,223.8 L506.1,222.5 L510.0,221.2 L513.8,220.0 L517.4,218.7 L520.9,217.2 L524.4,215.4 L524.4,215.4 L520.9,217.2 L517.4,218.7 L513.8,220.0 L510.0,221.2 L506.1,222.5 L502.0,223.8 L497.9,225.4 L493.9,227.3 L490.0,229.5 L486.4,232.1 L483.2,235.1 L480.3,238.5 L477.3,241.7 L474.8,245.4 L472.6,249.4 L471.0,253.6 L469.7,257.9 L468.7,262.2 L467.9,266.4 L467.1,270.6 L466.4,274.7 L465.7,278.8 L465.0,282.9 L464.4,287.2 L463.9,291.5 L463.6,295.9 L463.5,300.3 L463.3,305.1 L463.6,310.1 L464.4,314.9Z" fill="#ffc428" opacity="0.30"/>
<path d="M451.2,312.6 L452.6,307.2 L454.0,301.7 L454.4,296.7 L454.7,291.9 L454.8,287.1 L454.8,282.2 L454.7,277.3 L454.6,272.4 L454.6,267.4 L454.7,262.4 L455.0,257.3 L455.6,252.2 L456.6,247.1 L458.0,242.2 L460.3,237.7 L463.1,233.4 L466.4,229.4 L470.1,225.8 L474.2,222.5 L478.7,219.6 L483.5,217.1 L488.7,215.3 L494.0,214.2 L499.3,213.4 L504.5,213.0 L509.6,212.9 L514.3,212.7 L518.9,212.6 L523.3,212.4 L527.5,212.1 L531.5,211.5 L535.5,210.6 L539.4,209.3 L543.3,207.7 L547.2,205.7 L551.1,203.5 L551.1,203.5 L547.2,205.7 L543.3,207.7 L539.4,209.3 L535.5,210.6 L531.5,211.5 L527.5,212.1 L523.3,212.4 L518.9,212.6 L514.3,212.7 L509.6,212.9 L504.5,213.0 L499.3,213.4 L494.0,214.2 L488.7,215.3 L483.4,216.7 L478.1,218.3 L473.0,220.5 L468.2,223.3 L463.7,226.6 L459.6,230.5 L456.0,234.9 L452.8,239.8 L450.6,245.4 L449.1,251.0 L448.1,256.5 L447.6,262.0 L447.4,267.4 L447.5,272.6 L447.8,277.6 L448.2,282.5 L448.6,287.3 L449.0,292.1 L449.5,296.7 L449.9,301.4 L449.5,306.7 L449.3,312.4Z" fill="#ffb010" opacity="0.66"/>
<path d="M526.3,248.9 L528.7,248.0 L530.5,247.6 L532.0,247.7 L534.1,247.3 L536.4,246.7 L538.8,245.7 L541.5,244.4 L544.2,242.6 L546.9,240.5 L549.7,238.1 L552.4,235.3 L555.0,232.2 L558.0,229.2 L561.3,226.5 L564.6,223.8 L568.2,221.2 L572.1,218.8 L576.2,216.7 L580.5,215.0 L584.9,213.8 L589.2,213.3 L589.2,213.3 L584.9,213.8 L580.5,215.0 L576.2,216.7 L572.1,218.8 L568.2,221.2 L564.6,223.8 L561.3,226.5 L558.0,229.2 L554.3,231.2 L550.6,232.6 L547.1,233.9 L543.8,234.9 L540.9,235.8 L538.1,236.5 L535.6,237.2 L533.2,238.0 L531.0,238.9 L528.9,240.2 L526.7,241.9 L525.2,244.5 L524.4,247.2Z" fill="#ff9a00" opacity="0.41"/>
<path d="M521.6,586.6 L522.0,578.9 L522.2,570.7 L522.2,562.3 L522.0,553.8 L521.6,545.4 L521.0,537.3 L520.1,529.7 L519.0,522.8 L517.7,516.3 L516.0,509.9 L513.9,503.8 L511.6,497.8 L509.1,492.1 L506.5,486.6 L503.7,481.2 L501.7,475.7 L499.8,470.3 L498.1,465.1 L496.8,459.9 L495.8,454.8 L495.1,449.8 L494.9,445.0 L495.1,440.4 L495.6,435.8 L496.5,431.3 L496.5,431.3 L495.6,435.8 L495.1,440.4 L494.9,445.0 L495.1,449.8 L495.8,454.8 L496.8,459.9 L498.1,465.1 L499.8,470.3 L501.7,475.7 L503.7,481.2 L505.2,487.0 L506.6,493.0 L508.0,499.0 L509.3,505.1 L510.4,511.2 L511.4,517.4 L512.2,523.8 L512.9,530.6 L513.7,538.0 L514.5,545.9 L515.3,554.2 L516.2,562.6 L517.2,571.0 L518.3,579.1 L519.7,586.8Z" fill="#ffd648" opacity="0.66"/>
<path d="M515.6,244.6 L517.7,242.5 L519.9,240.7 L522.2,239.2 L524.4,238.2 L526.8,237.7 L529.4,237.3 L532.3,237.0 L535.3,236.6 L538.4,236.0 L541.6,235.3 L544.9,234.2 L548.2,232.8 L551.6,231.1 L555.0,229.1 L558.4,226.8 L561.8,224.4 L565.1,221.9 L568.7,219.5 L572.5,217.4 L576.5,215.7 L580.7,214.4 L584.9,213.6 L589.2,213.5 L593.4,214.2 L597.5,215.5 L601.4,217.3 L605.2,219.5 L608.7,221.9 L612.1,224.4 L615.6,227.0 L619.1,229.4 L622.8,231.4 L626.5,233.0 L630.3,234.0 L634.1,234.3 L638.0,233.9 L641.7,232.7 L645.3,231.0 L645.3,231.0 L641.7,232.7 L638.0,233.9 L634.1,234.3 L630.3,234.0 L626.5,233.0 L622.8,231.4 L619.1,229.4 L615.6,227.0 L612.1,224.4 L608.7,221.9 L605.2,219.5 L601.4,217.3 L597.5,215.5 L593.4,214.2 L589.2,213.5 L584.9,213.2 L580.5,213.5 L576.1,214.4 L571.8,215.9 L567.6,217.7 L563.8,219.8 L560.2,222.1 L556.8,224.2 L553.3,226.2 L550.0,228.0 L546.8,229.4 L543.6,230.6 L540.6,231.5 L537.6,232.2 L534.7,232.8 L531.7,233.3 L528.8,233.8 L526.0,234.5 L523.3,235.4 L520.8,237.0 L518.5,239.0 L516.4,241.3 L514.8,243.9Z" fill="#ff9a00" opacity="0.66"/>
<path d="M472.9,350.6 L473.5,346.3 L473.8,341.7 L473.9,337.1 L473.7,332.4 L473.4,327.7 L473.0,323.1 L472.4,318.5 L471.6,313.9 L470.9,309.3 L470.1,304.8 L469.4,300.2 L468.3,295.8 L467.3,291.6 L466.4,287.4 L465.6,283.1 L465.0,278.8 L464.6,274.4 L464.5,269.9 L465.0,265.4 L466.3,261.1 L468.0,256.9 L470.1,252.9 L472.7,249.2 L475.7,245.8 L479.0,242.8 L482.5,240.0 L486.2,237.4 L490.0,235.1 L493.8,232.9 L497.5,230.9 L501.2,229.0 L501.2,229.0 L497.5,230.9 L493.8,232.9 L490.0,235.1 L486.2,237.4 L482.5,240.0 L479.0,242.8 L475.7,245.8 L472.7,249.2 L470.1,252.9 L468.0,256.9 L466.3,261.1 L465.0,265.4 L463.7,269.7 L462.5,274.2 L461.6,278.7 L461.1,283.3 L460.9,287.9 L461.0,292.4 L461.2,296.9 L461.6,301.3 L461.8,305.8 L462.3,310.6 L462.9,315.2 L463.6,319.8 L464.5,324.4 L465.4,328.9 L466.3,333.4 L467.3,337.8 L468.3,342.2 L469.4,346.5 L470.5,350.8Z" fill="#ffc428" opacity="0.59"/>
<path d="M545.5,220.6 L549.4,221.2 L553.2,221.5 L557.1,221.7 L561.0,221.6 L564.8,221.1 L568.7,220.4 L572.7,219.3 L576.8,218.0 L581.0,216.6 L585.2,215.1 L589.4,213.7 L593.7,212.5 L598.0,211.9 L602.2,212.1 L606.2,212.9 L610.0,214.1 L613.7,215.8 L617.4,218.0 L621.1,220.4 L624.8,222.9 L628.4,225.3 L628.4,225.3 L624.8,222.9 L621.1,220.4 L617.4,218.0 L613.7,215.8 L610.0,214.1 L606.2,212.9 L602.2,212.1 L598.0,211.9 L593.6,211.8 L589.1,211.8 L584.6,212.2 L580.1,212.8 L575.7,213.5 L571.5,214.3 L567.6,215.0 L563.9,215.6 L560.4,216.2 L556.8,216.8 L553.0,217.4 L549.2,218.1 L545.4,219.1Z" fill="#ffd648" opacity="0.48"/>
<path d="M610.4,536.6 L607.9,528.4 L605.5,520.4 L603.1,512.9 L600.7,505.9 L598.2,499.4 L595.7,493.1 L593.4,486.9 L591.1,480.8 L589.0,474.8 L586.9,468.9 L584.9,463.2 L583.0,457.6 L581.2,452.1 L579.4,446.7 L577.5,441.6 L575.7,436.7 L574.3,431.9 L572.8,427.3 L571.2,422.9 L569.5,418.7 L567.5,414.6 L565.4,410.8 L563.0,407.0 L560.7,403.2 L558.4,399.4 L555.9,395.5 L553.3,391.7 L550.5,387.6 L547.3,383.5 L544.0,379.5 L540.9,375.5 L537.9,371.6 L535.2,367.8 L532.6,364.0 L530.4,360.1 L528.4,356.3 L526.7,352.5 L525.3,348.6 L524.2,344.8 L524.2,344.8 L525.3,348.6 L526.7,352.5 L528.4,356.3 L530.4,360.1 L532.6,364.0 L535.2,367.8 L537.9,371.6 L540.9,375.5 L544.0,379.5 L547.3,383.5 L550.5,387.6 L553.3,391.7 L555.9,395.5 L558.4,399.4 L560.7,403.2 L562.8,407.1 L564.5,411.2 L566.0,415.3 L567.3,419.5 L568.5,423.8 L569.6,428.2 L570.5,432.9 L571.5,437.9 L573.0,443.0 L574.5,448.3 L576.0,453.7 L577.7,459.3 L579.4,465.0 L581.4,470.8 L583.5,476.8 L585.7,482.8 L588.2,488.9 L590.8,495.1 L593.6,501.3 L596.6,507.5 L599.4,514.2 L602.4,521.5 L605.6,529.2 L608.9,537.1Z" fill="#ffb010" opacity="0.33"/>
<path d="M490.5,281.1 L490.3,277.4 L490.1,273.7 L490.1,270.4 L490.6,267.4 L491.5,264.8 L492.8,262.8 L494.6,260.9 L496.7,259.1 L499.3,257.4 L502.2,255.6 L505.3,253.5 L508.4,251.1 L511.0,248.0 L513.0,244.4 L514.4,240.5 L515.3,236.4 L516.1,232.3 L517.0,228.3 L518.2,224.7 L519.9,221.8 L522.2,219.6 L525.1,218.1 L528.8,217.5 L533.0,217.8 L537.5,218.8 L541.8,220.6 L545.9,222.4 L549.9,223.6 L553.7,223.8 L557.3,223.0 L560.9,221.1 L564.4,218.2 L568.1,214.7 L572.3,211.2 L576.7,208.0 L581.3,205.7 L585.8,204.6 L590.2,205.0 L594.4,206.9 L598.3,210.0 L601.9,214.1 L605.3,218.6 L605.3,218.6 L601.9,214.1 L598.3,210.0 L594.4,206.9 L590.2,205.0 L585.8,204.6 L581.3,205.7 L576.7,208.0 L572.3,211.2 L568.1,214.7 L564.4,218.2 L560.9,221.1 L557.3,223.0 L553.7,223.8 L549.9,223.6 L545.9,222.4 L541.8,220.6 L537.5,218.8 L533.3,216.6 L529.0,215.2 L524.5,214.9 L520.2,216.0 L516.4,218.4 L513.3,221.9 L511.1,226.0 L509.4,230.3 L508.0,234.4 L506.7,237.9 L505.4,240.7 L504.0,242.7 L502.2,244.5 L500.0,246.1 L497.3,247.8 L494.2,249.9 L491.1,252.3 L488.3,255.1 L485.9,258.5 L484.4,262.5 L483.9,266.6 L484.2,270.7 L485.2,274.6 L486.5,278.2 L488.1,281.7Z" fill="#ffd648" opacity="0.36"/>
<path d="M519.4,222.9 L523.1,222.3 L526.8,221.5 L530.6,220.4 L534.4,219.0 L538.2,217.3 L542.0,215.4 L545.8,213.4 L549.6,211.3 L553.3,209.3 L557.0,207.5 L560.6,206.0 L564.3,204.9 L568.2,204.2 L572.2,204.1 L576.3,204.5 L580.5,205.5 L584.7,207.1 L588.9,209.2 L593.2,211.6 L597.4,214.2 L601.5,216.8 L605.2,219.6 L608.7,222.0 L612.2,224.0 L615.9,225.4 L619.8,226.3 L624.0,226.5 L628.3,226.0 L632.7,224.9 L637.1,223.2 L641.4,221.2 L645.5,218.9 L649.2,216.6 L652.4,214.3 L654.9,212.4 L654.9,212.4 L652.4,214.3 L649.2,216.6 L645.5,218.9 L641.4,221.2 L637.1,223.2 L632.7,224.9 L628.3,226.0 L624.0,226.5 L619.8,226.3 L615.9,225.4 L612.2,224.0 L608.7,222.0 L605.2,219.6 L601.5,216.8 L598.1,213.3 L594.6,209.7 L590.8,206.4 L586.8,203.3 L582.5,200.7 L577.9,198.7 L573.0,197.4 L568.0,196.8 L563.0,197.0 L558.1,198.0 L553.6,199.6 L549.4,201.5 L545.4,203.7 L541.5,206.0 L537.9,208.3 L534.4,210.6 L531.2,212.8 L528.0,214.8 L524.9,216.8 L521.7,218.7 L518.6,220.7Z" fill="#ffe680" opacity="0.62"/>
<path d="M536.2,213.0 L540.1,211.8 L544.0,210.9 L547.9,210.2 L551.9,209.7 L555.8,209.6 L559.7,209.8 L563.6,210.4 L567.6,211.3 L571.7,212.5 L575.8,213.9 L579.9,215.4 L584.1,216.9 L588.3,218.2 L592.6,219.3 L596.8,220.0 L601.0,220.2 L605.2,220.0 L609.2,219.2 L613.2,218.4 L617.5,217.4 L622.1,216.3 L626.6,215.2 L631.2,214.2 L635.6,213.4 L639.8,212.9 L643.7,212.9 L647.0,213.3 L649.8,214.2 L652.0,215.7 L653.6,217.6 L653.6,217.6 L652.0,215.7 L649.8,214.2 L647.0,213.3 L643.7,212.9 L639.8,212.9 L635.6,213.4 L631.2,214.2 L626.6,215.2 L622.1,216.3 L617.5,217.4 L613.2,218.4 L609.2,219.2 L605.1,219.3 L601.1,218.9 L597.1,218.1 L593.2,217.0 L589.3,215.5 L585.3,213.8 L581.3,212.0 L577.2,210.3 L573.0,208.6 L568.7,207.2 L564.3,206.2 L560.0,205.7 L555.7,205.7 L551.5,206.1 L547.3,207.0 L543.3,208.3 L539.4,210.0 L535.7,211.9Z" fill="#ffd648" opacity="0.52"/>
<path d="M520.7,224.9 L523.9,223.5 L527.2,222.1 L530.6,220.7 L534.1,219.5 L537.7,218.3 L541.3,217.3 L545.0,216.4 L548.8,215.6 L552.6,215.1 L556.4,214.7 L560.1,214.4 L563.9,214.4 L567.8,214.5 L571.9,214.9 L576.0,215.4 L580.2,215.9 L584.4,216.5 L588.7,217.1 L592.9,217.5 L597.2,217.8 L601.3,217.9 L605.4,218.2 L609.3,218.3 L613.3,218.3 L617.4,218.2 L621.6,218.2 L625.9,218.1 L630.2,218.1 L634.4,218.1 L638.4,218.3 L642.1,218.5 L645.5,219.0 L648.4,219.5 L650.8,220.2 L652.7,221.0 L652.7,221.0 L650.8,220.2 L648.4,219.5 L645.5,219.0 L642.1,218.5 L638.4,218.3 L634.4,218.1 L630.2,218.1 L625.9,218.1 L621.6,218.2 L617.4,218.2 L613.3,218.3 L609.3,218.3 L605.4,218.2 L601.3,217.9 L597.3,217.0 L593.2,215.9 L589.1,214.8 L585.1,213.6 L580.9,212.4 L576.8,211.2 L572.6,210.2 L568.4,209.4 L564.2,208.9 L560.1,208.6 L556.0,208.7 L551.8,209.0 L547.7,209.7 L543.6,210.6 L539.7,211.8 L535.9,213.3 L532.2,215.0 L528.8,216.9 L525.5,218.9 L522.5,221.2 L519.8,223.5Z" fill="#ffe680" opacity="0.55"/>
<path d="M499.1,264.9 L501.3,263.0 L503.2,260.6 L504.6,257.7 L505.8,254.5 L506.6,250.9 L507.2,247.2 L507.9,243.4 L508.8,239.9 L510.0,236.8 L511.5,234.3 L513.4,232.5 L515.7,231.2 L518.5,230.5 L521.8,230.4 L525.5,230.8 L529.4,231.1 L533.2,231.1 L536.9,230.2 L540.2,228.4 L543.2,225.6 L546.0,222.1 L549.1,218.3 L552.5,214.5 L556.1,211.1 L559.9,208.5 L563.9,207.2 L568.1,207.3 L572.4,208.8 L576.5,211.6 L580.5,215.3 L584.3,219.1 L588.1,222.7 L591.9,225.4 L595.9,226.8 L600.0,226.7 L604.3,225.1 L604.3,225.1 L600.0,226.7 L595.9,226.8 L591.9,225.4 L588.1,222.7 L584.3,219.1 L580.5,215.3 L576.5,211.6 L572.4,208.8 L568.1,207.3 L563.9,207.2 L559.9,208.5 L556.1,211.1 L552.5,214.5 L549.1,218.3 L545.7,221.8 L542.3,224.6 L539.1,226.4 L536.1,227.3 L533.1,227.3 L529.9,226.8 L526.3,225.9 L522.4,225.0 L518.1,224.6 L513.8,225.2 L509.7,227.0 L506.3,229.9 L503.9,233.7 L502.3,237.9 L501.4,242.2 L500.9,246.3 L500.7,250.1 L500.5,253.5 L500.1,256.4 L499.6,259.0 L498.9,261.3 L497.7,263.7Z" fill="#ffc428" opacity="0.52"/>
<path d="M576.2,542.9 L574.3,534.6 L572.1,526.5 L569.9,519.0 L567.8,512.0 L565.6,505.5 L563.6,499.3 L561.6,493.3 L559.9,487.3 L558.4,481.5 L557.1,475.8 L555.9,470.1 L555.0,464.5 L554.2,459.0 L553.5,453.6 L552.9,448.2 L552.3,443.0 L551.9,437.9 L551.3,432.9 L550.5,428.2 L549.4,423.6 L547.9,419.3 L546.0,415.3 L543.6,411.7 L541.3,408.0 L538.8,404.3 L536.0,400.7 L532.8,397.1 L529.3,393.4 L525.4,389.7 L521.5,386.1 L517.7,382.6 L514.0,379.0 L510.7,375.4 L507.8,371.8 L505.3,368.0 L503.4,364.0 L502.1,359.9 L501.4,355.7 L501.2,351.3 L501.2,351.3 L501.4,355.7 L502.1,359.9 L503.4,364.0 L505.3,368.0 L507.8,371.8 L510.7,375.4 L514.0,379.0 L517.7,382.6 L521.5,386.1 L525.4,389.7 L529.3,393.4 L532.8,397.1 L536.0,400.7 L538.8,404.3 L541.3,408.0 L543.2,411.9 L544.1,416.0 L544.6,420.2 L544.8,424.3 L544.7,428.7 L544.3,433.2 L543.9,437.9 L543.4,443.1 L543.2,448.6 L543.1,454.2 L543.2,460.0 L543.6,465.9 L544.3,472.0 L545.4,478.2 L546.9,484.4 L548.7,490.7 L550.9,496.9 L553.5,503.1 L556.3,509.3 L559.4,515.4 L562.5,521.8 L565.9,528.9 L569.5,536.3 L573.2,544.0Z" fill="#ffb010" opacity="0.37"/>
<path d="M570.4,376.7 L568.8,371.8 L567.1,367.0 L565.2,362.5 L563.1,358.1 L560.8,353.8 L558.2,349.8 L555.5,346.0 L552.6,342.4 L549.8,339.1 L547.1,336.1 L544.5,332.7 L541.3,328.8 L538.3,324.9 L535.5,321.1 L533.1,317.6 L530.9,314.2 L529.0,311.0 L527.2,307.9 L525.4,305.0 L523.6,302.3 L521.5,299.9 L519.4,298.0 L517.4,296.5 L516.1,294.4 L514.4,291.7 L512.6,288.9 L510.8,286.3 L509.5,283.5 L508.7,280.7 L508.4,278.0 L508.6,275.5 L509.3,273.2 L510.4,271.3 L511.9,269.7 L513.4,268.4 L514.5,266.9 L515.6,265.2 L516.6,263.2 L517.5,261.0 L518.1,258.4 L518.5,255.4 L518.8,252.1 L519.2,248.6 L519.7,245.0 L520.4,241.5 L521.6,238.3 L521.6,238.3 L520.4,241.5 L519.7,245.0 L519.2,248.6 L518.8,252.1 L518.5,255.4 L518.1,258.4 L517.5,261.0 L516.6,263.2 L515.6,265.2 L514.5,266.9 L513.4,268.4 L511.9,269.7 L510.4,271.3 L509.3,273.2 L508.6,275.5 L508.4,278.0 L508.7,280.7 L509.5,283.5 L510.3,286.5 L511.0,289.6 L511.9,292.8 L512.7,295.8 L513.5,299.0 L515.3,301.6 L516.6,303.6 L517.6,305.9 L518.6,308.5 L519.8,311.6 L521.2,315.0 L522.8,318.7 L524.8,322.6 L527.2,326.7 L530.0,330.8 L533.2,335.2 L536.5,339.2 L539.4,342.8 L542.4,345.9 L545.4,348.9 L548.4,352.0 L551.3,355.2 L554.1,358.5 L556.9,361.9 L559.6,365.6 L562.3,369.5 L565.1,373.6 L567.9,377.9Z" fill="#ff9a00" opacity="0.42"/>
<path d="M522.8,408.5 L522.8,404.2 L522.6,399.9 L522.1,395.4 L521.3,390.8 L520.3,386.3 L518.9,381.8 L517.4,377.4 L515.6,373.2 L513.6,369.0 L511.5,364.9 L509.2,361.0 L506.9,357.2 L504.6,353.4 L502.4,349.8 L500.2,346.0 L498.0,342.2 L495.9,338.4 L493.9,334.6 L492.1,330.8 L490.5,327.0 L489.2,323.1 L488.1,319.1 L487.3,315.2 L486.8,311.2 L486.6,307.3 L486.6,303.5 L486.9,299.7 L487.4,295.9 L488.1,292.1 L489.0,288.5 L489.9,285.0 L490.6,281.5 L491.1,278.2 L491.4,274.8 L491.5,271.5 L491.4,268.2 L491.2,264.8 L491.0,261.3 L490.8,257.7 L490.7,254.0 L490.9,250.0 L491.3,246.0 L492.2,241.9 L493.5,238.0 L495.3,234.3 L497.5,230.9 L500.2,227.9 L503.2,225.3 L503.2,225.3 L500.2,227.9 L497.5,230.9 L495.3,234.3 L493.5,238.0 L492.2,241.9 L491.3,246.0 L490.9,250.0 L490.7,254.0 L490.8,257.7 L491.0,261.3 L491.2,264.8 L491.4,268.2 L491.5,271.5 L491.4,274.8 L491.1,278.2 L490.6,281.5 L489.9,285.0 L489.0,288.5 L488.1,292.1 L486.7,295.7 L485.2,299.3 L484.0,303.0 L483.0,307.0 L482.4,311.1 L482.1,315.5 L482.2,320.0 L482.7,324.5 L483.5,329.0 L484.7,333.5 L486.2,337.9 L487.9,342.3 L489.8,346.5 L491.9,350.6 L493.9,354.6 L496.1,358.5 L498.4,362.3 L500.7,366.1 L503.0,369.8 L505.2,373.5 L507.3,377.3 L509.3,381.0 L511.2,384.9 L513.0,388.8 L514.7,392.8 L516.2,396.9 L517.6,400.9 L518.9,404.9 L520.2,408.9Z" fill="#ffd648" opacity="0.61"/>
<path d="M490.0,412.6 L490.1,408.5 L489.8,404.3 L489.3,400.0 L488.5,395.8 L487.4,391.6 L486.0,387.5 L484.4,383.4 L482.8,379.4 L481.1,375.5 L479.6,371.5 L478.2,367.4 L477.0,363.2 L476.0,358.8 L475.4,354.4 L475.1,350.0 L474.7,345.4 L475.0,340.8 L475.3,336.1 L475.4,331.3 L475.4,326.7 L475.1,322.1 L474.5,317.7 L473.7,313.3 L472.6,309.0 L471.3,304.8 L469.9,300.5 L468.4,296.3 L468.4,296.3 L469.9,300.5 L471.3,304.8 L472.6,309.0 L473.7,313.3 L474.5,317.7 L475.1,322.1 L475.4,326.7 L475.4,331.3 L475.3,336.1 L475.0,340.8 L474.6,345.4 L473.7,349.9 L472.9,354.4 L472.7,359.1 L472.8,363.8 L473.3,368.5 L474.2,373.0 L475.3,377.5 L476.7,381.7 L478.3,385.8 L479.8,389.8 L481.4,393.7 L482.9,397.5 L484.3,401.3 L485.6,405.2 L486.9,409.0 L488.3,412.9Z" fill="#ffd648" opacity="0.61"/>
<path d="M450.2,380.6 L450.0,375.9 L449.5,371.1 L448.8,366.3 L448.3,362.0 L448.4,358.3 L448.6,354.4 L449.0,350.1 L449.6,345.5 L450.4,340.4 L451.5,335.1 L452.7,329.5 L454.0,323.7 L455.1,318.0 L455.9,312.3 L456.4,306.7 L456.4,301.3 L455.0,296.6 L453.6,292.0 L452.2,287.2 L450.6,282.3 L449.3,277.3 L448.5,272.1 L448.5,266.9 L449.4,261.8 L451.4,256.9 L454.5,252.3 L458.4,248.2 L463.1,244.6 L468.5,241.9 L468.5,241.9 L463.1,244.6 L458.4,248.2 L454.5,252.3 L451.4,256.9 L449.4,261.8 L448.5,266.9 L448.5,272.1 L449.3,277.3 L450.6,282.3 L452.2,287.2 L453.6,292.0 L454.6,296.7 L454.7,301.4 L453.5,306.3 L452.1,311.5 L450.4,316.8 L448.5,322.2 L446.6,327.8 L444.8,333.3 L443.2,338.8 L442.0,344.2 L441.3,349.3 L441.0,354.1 L441.2,358.5 L441.7,363.0 L443.1,367.6 L444.7,372.2 L446.5,376.7 L448.2,381.0Z" fill="#ffb010" opacity="0.64"/>
<path d="M506.6,256.4 L508.8,254.6 L511.1,252.9 L513.6,251.4 L516.1,249.7 L518.7,247.9 L521.2,245.8 L523.4,243.3 L525.4,240.5 L527.1,237.8 L528.7,235.4 L530.5,232.9 L532.4,230.6 L534.5,228.6 L536.8,227.0 L539.4,225.8 L542.2,225.1 L545.4,224.9 L548.9,225.1 L552.7,225.7 L556.7,226.3 L560.6,226.8 L564.5,226.9 L568.4,226.4 L572.3,225.3 L576.2,223.6 L580.2,221.3 L584.3,218.9 L588.8,216.9 L593.3,215.2 L597.7,214.1 L601.9,213.7 L606.0,214.1 L609.8,215.4 L613.4,217.5 L617.0,220.2 L620.5,223.1 L624.1,226.1 L627.6,228.5 L631.3,230.3 L635.0,231.1 L638.8,231.0 L642.5,229.8 L646.2,227.9 L649.5,225.4 L652.3,222.8 L652.3,222.8 L649.5,225.4 L646.2,227.9 L642.5,229.8 L638.8,231.0 L635.0,231.1 L631.3,230.3 L627.6,228.5 L624.1,226.1 L620.5,223.1 L617.0,220.2 L613.4,217.5 L609.8,215.4 L606.0,214.1 L601.9,213.7 L597.7,214.1 L593.3,215.2 L588.8,216.9 L584.3,218.9 L579.8,220.4 L575.5,221.6 L571.6,222.4 L568.0,222.6 L564.7,222.2 L561.6,221.4 L558.1,220.3 L554.3,219.0 L550.2,217.8 L546.0,216.9 L541.5,216.6 L537.0,217.2 L532.7,218.7 L528.8,221.0 L525.5,223.8 L522.8,227.0 L520.7,230.1 L518.9,233.1 L517.6,235.8 L516.3,238.2 L514.9,240.3 L513.3,242.4 L511.5,244.6 L509.6,246.9 L507.6,249.3 L505.8,252.0 L504.5,254.9Z" fill="#ffc428" opacity="0.37"/>
<path d="M544.2,212.7 L548.2,212.6 L552.2,212.4 L556.2,212.2 L560.2,211.8 L564.2,211.3 L568.3,210.7 L572.6,210.1 L576.9,209.5 L581.3,208.8 L585.7,208.2 L590.1,207.5 L594.5,207.0 L598.9,206.6 L603.1,206.3 L607.2,206.2 L611.2,206.3 L615.3,206.8 L619.5,208.0 L623.6,209.5 L627.5,211.4 L631.4,213.5 L635.0,216.0 L638.3,218.6 L641.4,221.2 L644.1,223.9 L646.5,226.5 L648.6,228.8 L650.3,230.9 L650.3,230.9 L648.6,228.8 L646.5,226.5 L644.1,223.9 L641.4,221.2 L638.3,218.6 L635.0,216.0 L631.4,213.5 L627.5,211.4 L623.6,209.5 L619.5,208.0 L615.3,206.8 L611.3,206.0 L607.3,205.4 L603.1,205.1 L598.8,205.0 L594.4,205.2 L589.9,205.4 L585.4,205.8 L580.9,206.3 L576.5,206.9 L572.2,207.5 L567.9,208.1 L563.8,208.8 L559.9,209.5 L556.0,210.1 L552.0,210.7 L548.1,211.3 L544.1,212.0Z" fill="#ffc428" opacity="0.50"/>
<path d="M536.8,317.5 L533.5,314.1 L530.1,311.0 L526.7,308.1 L523.4,305.5 L520.2,303.1 L517.2,300.8 L514.5,298.8 L512.4,296.9 L511.8,294.7 L511.2,291.9 L510.9,289.2 L511.0,286.5 L511.5,284.0 L512.3,281.7 L513.4,279.6 L514.7,277.7 L516.3,276.0 L517.8,274.7 L519.4,273.6 L521.2,272.6 L522.2,271.2 L522.9,269.6 L523.5,267.7 L523.9,265.6 L524.0,263.2 L524.2,260.5 L524.2,257.5 L524.2,254.1 L524.1,250.4 L524.1,246.4 L524.3,242.3 L524.6,238.1 L525.5,234.3 L526.9,230.5 L528.9,227.1 L531.4,224.0 L534.4,221.5 L537.7,219.7 L541.3,218.5 L545.2,218.0 L549.1,218.3 L553.1,219.2 L553.1,219.2 L549.1,218.3 L545.2,218.0 L541.3,218.5 L537.7,219.7 L534.4,221.5 L531.4,224.0 L528.9,227.1 L526.9,230.5 L525.5,234.3 L524.6,238.1 L524.3,242.3 L524.1,246.4 L524.1,250.4 L524.2,254.1 L524.2,257.5 L524.2,260.5 L524.0,263.2 L523.3,265.5 L522.6,267.4 L521.7,269.0 L520.8,270.2 L519.9,271.0 L518.3,271.5 L516.4,272.4 L514.3,273.8 L512.3,275.5 L510.5,277.7 L509.0,280.2 L507.9,283.0 L507.2,286.0 L507.0,289.2 L507.3,292.5 L508.0,295.8 L509.4,299.1 L512.3,301.6 L515.2,303.6 L518.4,305.7 L521.7,307.8 L525.2,310.1 L528.8,312.6 L532.4,315.3 L536.0,318.3Z" fill="#ff8400" opacity="0.45"/>
<path d="M453.1,441.6 L453.2,437.5 L452.9,433.6 L452.2,429.8 L451.3,426.2 L450.5,422.7 L449.8,419.2 L449.4,416.0 L449.9,412.5 L450.8,408.5 L451.9,404.0 L453.3,399.2 L454.6,394.1 L455.6,389.0 L456.0,383.9 L455.7,379.0 L454.5,374.4 L453.0,369.9 L451.1,365.5 L448.8,361.4 L447.0,357.8 L445.4,354.1 L444.4,349.9 L444.1,345.3 L444.8,340.2 L446.4,334.7 L448.8,328.8 L451.7,322.9 L451.7,322.9 L448.8,328.8 L446.4,334.7 L444.8,340.2 L444.1,345.3 L444.4,349.9 L445.4,354.1 L447.0,357.8 L448.8,361.4 L451.1,365.5 L453.0,369.9 L454.4,374.4 L454.5,379.0 L453.9,383.7 L452.7,388.3 L451.0,393.0 L449.1,397.8 L447.2,402.4 L445.6,407.0 L444.3,411.3 L443.6,415.9 L444.1,420.2 L445.0,424.1 L446.3,427.8 L447.8,431.2 L449.2,434.5 L450.4,438.0 L451.5,441.7Z" fill="#ff9a00" opacity="0.47"/>
<path d="M598.0,460.6 L596.5,454.8 L595.5,449.1 L594.5,443.6 L593.5,438.1 L592.3,432.9 L591.2,427.9 L589.4,422.9 L586.9,418.3 L583.9,414.0 L580.4,410.1 L576.9,406.4 L573.6,402.9 L570.7,399.5 L568.5,396.1 L566.9,392.6 L566.0,388.7 L565.6,384.1 L565.0,379.0 L564.4,373.9 L563.7,368.9 L562.3,364.1 L560.1,359.7 L556.9,355.9 L552.9,352.7 L548.2,350.0 L543.1,347.5 L538.0,344.9 L533.4,342.2 L529.4,339.1 L525.9,335.2 L523.6,331.0 L522.4,326.6 L522.3,322.1 L523.0,317.6 L523.8,313.3 L524.4,309.5 L524.3,306.3 L523.1,303.6 L520.7,301.5 L517.0,299.8 L512.3,297.9 L508.0,295.3 L503.6,292.2 L503.6,292.2 L508.0,295.3 L512.3,297.9 L517.0,299.8 L520.7,301.5 L523.1,303.6 L524.3,306.3 L524.4,309.5 L523.8,313.3 L523.0,317.6 L522.3,322.1 L522.4,326.6 L523.6,331.0 L525.9,335.2 L529.4,339.1 L533.4,342.2 L538.0,344.9 L543.1,347.5 L547.9,350.4 L552.1,353.7 L555.5,357.2 L557.8,361.0 L559.3,365.0 L560.0,369.5 L560.2,374.3 L560.2,379.4 L560.4,384.4 L560.5,389.3 L561.3,394.2 L563.0,398.9 L565.5,403.2 L568.7,407.2 L572.1,411.0 L575.6,414.6 L578.8,418.1 L581.6,421.8 L583.9,425.6 L585.7,429.7 L587.2,434.4 L588.9,439.3 L590.4,444.5 L592.0,450.0 L593.9,455.5 L596.3,461.1Z" fill="#ff8400" opacity="0.62"/>
<path d="M440.1,302.3 L440.3,297.0 L440.6,291.9 L440.8,286.8 L441.1,281.6 L441.5,276.4 L442.0,271.1 L442.7,265.8 L443.7,260.4 L445.0,255.1 L446.7,249.7 L448.8,244.4 L451.3,239.4 L454.7,235.0 L458.6,230.9 L462.7,227.1 L467.1,223.7 L471.7,220.7 L476.5,217.9 L481.4,215.5 L486.3,213.4 L491.3,211.5 L496.3,209.8 L501.1,208.3 L505.9,206.9 L510.5,205.4 L515.1,204.0 L519.5,202.7 L523.9,201.3 L528.2,199.9 L532.5,198.4 L536.8,196.9 L541.1,195.3 L545.4,193.7 L549.7,192.1 L554.0,190.7 L558.4,189.4 L563.2,188.4 L568.1,187.9 L573.0,187.7 L577.9,188.1 L582.6,188.9 L582.6,188.9 L577.9,188.1 L573.0,187.7 L568.1,187.9 L563.2,188.4 L558.4,189.4 L554.0,190.7 L549.7,192.1 L545.4,193.7 L541.1,195.3 L536.8,196.9 L532.5,198.4 L528.2,199.9 L523.9,201.3 L519.5,202.7 L515.1,204.0 L510.5,205.4 L505.9,206.6 L500.9,207.5 L495.9,208.6 L490.8,209.9 L485.6,211.4 L480.4,213.2 L475.2,215.4 L470.1,217.9 L465.2,220.9 L460.4,224.2 L455.9,228.0 L451.7,232.3 L447.7,237.1 L444.9,242.7 L442.6,248.3 L440.9,254.0 L439.6,259.6 L438.8,265.2 L438.2,270.8 L438.0,276.2 L437.9,281.5 L438.0,286.8 L438.2,291.9 L438.6,297.0 L439.0,302.3Z" fill="#ff9a00" opacity="0.35"/>
<path d="M502.2,235.2 L504.6,232.2 L507.2,229.7 L510.0,227.7 L513.0,226.3 L516.1,225.4 L519.3,225.1 L522.9,225.1 L526.6,225.4 L530.5,225.8 L534.5,226.0 L538.7,225.9 L542.9,225.1 L547.0,223.6 L550.9,221.5 L554.6,218.8 L558.2,215.9 L561.7,212.9 L565.2,210.1 L569.0,207.8 L572.9,206.2 L576.9,205.4 L581.1,205.6 L585.3,206.7 L589.6,208.7 L593.7,211.7 L597.5,215.2 L601.2,218.7 L604.8,221.9 L608.3,224.4 L611.9,225.9 L615.7,226.4 L619.9,225.9 L624.4,224.5 L629.2,222.3 L634.0,219.7 L638.7,217.0 L643.2,214.6 L647.1,212.9 L650.4,212.1 L652.9,212.4 L654.5,213.9 L654.5,213.9 L652.9,212.4 L650.4,212.1 L647.1,212.9 L643.2,214.6 L638.7,217.0 L634.0,219.7 L629.2,222.3 L624.4,224.5 L619.9,225.9 L615.7,226.4 L611.9,225.9 L608.3,224.4 L604.8,221.9 L601.2,218.7 L597.5,215.2 L593.7,211.7 L589.9,208.3 L586.0,205.4 L581.6,203.4 L577.0,202.4 L572.1,202.5 L567.3,203.7 L562.6,205.7 L558.4,208.3 L554.5,210.9 L550.8,213.3 L547.4,215.4 L544.1,216.8 L541.0,217.8 L537.9,218.2 L534.6,218.3 L531.0,218.1 L527.0,217.9 L522.9,217.9 L518.6,218.3 L514.3,219.3 L510.4,221.1 L507.0,223.7 L504.2,226.8 L502.0,230.4 L500.4,234.1Z" fill="#ffc428" opacity="0.34"/>
<path d="M503.0,271.9 L505.4,270.3 L507.6,268.7 L509.7,266.6 L510.7,263.5 L510.9,260.1 L510.6,256.5 L510.1,252.5 L509.5,248.3 L509.3,244.3 L509.5,240.6 L510.3,237.7 L511.7,235.4 L513.9,233.8 L517.0,233.0 L520.7,232.9 L524.8,233.7 L528.8,234.8 L532.3,235.8 L535.4,235.9 L538.2,234.7 L540.8,232.0 L543.3,227.9 L546.0,222.9 L549.0,217.5 L552.2,212.4 L555.8,208.3 L559.7,205.8 L563.8,205.2 L563.8,205.2 L559.7,205.8 L555.8,208.3 L552.2,212.4 L549.0,217.5 L546.0,222.9 L543.3,227.9 L540.8,232.0 L538.2,234.7 L535.4,235.9 L532.3,235.8 L528.8,234.8 L525.1,232.9 L521.2,231.0 L517.0,230.0 L512.7,230.2 L508.7,231.8 L505.6,235.0 L503.7,239.3 L503.0,244.0 L503.0,248.8 L503.5,253.3 L504.1,257.3 L504.6,260.5 L504.8,262.9 L504.9,264.5 L504.3,266.0 L503.1,268.1 L501.7,270.6Z" fill="#ffb010" opacity="0.43"/>
<path d="M559.1,598.6 L558.4,593.2 L557.2,587.0 L555.6,580.0 L553.7,572.5 L551.4,564.6 L548.9,556.5 L546.2,548.4 L543.5,540.4 L540.8,532.8 L538.2,525.6 L535.8,519.0 L533.6,512.8 L531.6,506.7 L529.9,500.6 L528.5,494.5 L527.4,488.4 L526.6,482.3 L526.5,476.2 L526.6,470.2 L527.0,464.3 L527.4,458.5 L527.8,452.9 L528.2,447.5 L528.5,442.3 L528.6,437.4 L528.4,432.8 L527.8,428.4 L526.8,424.3 L526.8,424.3 L527.8,428.4 L528.4,432.8 L528.6,437.4 L528.5,442.3 L528.2,447.5 L527.8,452.9 L527.4,458.5 L527.0,464.3 L526.6,470.2 L526.5,476.2 L526.6,482.3 L526.6,488.5 L526.9,494.7 L527.6,501.1 L528.6,507.5 L530.0,513.9 L531.6,520.3 L533.6,527.1 L535.9,534.4 L538.4,542.2 L541.1,550.1 L543.8,558.2 L546.5,566.2 L549.1,573.9 L551.6,581.2 L553.8,587.9 L555.9,593.9 L557.7,598.9Z" fill="#ffd648" opacity="0.64"/>
<path d="M529.6,543.5 L529.0,535.5 L528.6,528.0 L528.4,521.0 L528.5,514.4 L528.6,507.9 L528.6,501.4 L528.5,494.9 L528.2,488.6 L527.6,482.3 L526.7,476.2 L525.3,470.3 L523.6,464.6 L521.5,459.2 L519.0,454.1 L516.4,449.2 L513.7,444.6 L511.1,440.4 L508.7,436.5 L506.5,432.7 L504.8,429.1 L503.4,425.5 L502.5,421.9 L502.1,418.1 L502.0,414.1 L502.3,409.8 L502.8,405.3 L503.3,400.6 L503.8,395.9 L504.4,391.2 L504.6,386.5 L504.4,382.0 L503.6,377.7 L502.1,373.5 L500.1,369.6 L497.5,365.9 L494.4,362.3 L491.0,358.7 L487.4,355.2 L483.9,351.7 L480.6,348.2 L477.6,344.5 L475.2,340.7 L473.4,336.6 L472.3,332.2 L472.1,327.6 L472.6,322.8 L473.8,317.8 L473.8,317.8 L472.6,322.8 L472.1,327.6 L472.3,332.2 L473.4,336.6 L475.2,340.7 L477.6,344.5 L480.6,348.2 L483.9,351.7 L487.4,355.2 L491.0,358.7 L494.4,362.3 L497.5,365.9 L500.1,369.6 L502.1,373.5 L503.6,377.7 L504.4,382.0 L504.6,386.5 L504.4,391.2 L503.8,395.9 L502.5,400.5 L501.2,405.0 L500.1,409.5 L499.2,413.8 L498.6,418.1 L498.6,422.3 L499.1,426.6 L500.1,430.8 L501.6,435.0 L503.5,439.2 L505.7,443.5 L508.1,447.9 L510.5,452.4 L512.8,457.1 L514.9,461.9 L516.9,467.0 L518.5,472.2 L519.8,477.6 L520.8,483.3 L521.6,489.2 L522.2,495.3 L522.6,501.6 L523.0,508.1 L523.5,514.6 L524.1,521.3 L524.9,528.3 L526.2,535.8 L527.7,543.8Z" fill="#ffd648" opacity="0.50"/>
<path d="M498.1,384.1 L498.3,379.6 L498.3,375.1 L498.1,370.6 L497.6,366.1 L496.7,361.7 L495.4,357.3 L493.8,353.0 L491.9,348.9 L489.6,344.9 L487.1,341.1 L484.6,337.4 L482.1,333.7 L479.7,330.0 L477.7,326.0 L476.0,321.9 L475.5,317.4 L475.6,312.9 L476.2,308.5 L477.2,304.1 L478.4,300.0 L479.7,296.0 L480.8,292.1 L481.5,288.2 L481.8,284.4 L481.6,280.6 L481.6,280.6 L481.8,284.4 L481.5,288.2 L480.8,292.1 L479.7,296.0 L478.4,300.0 L477.2,304.1 L476.2,308.5 L475.6,312.9 L475.5,317.4 L476.0,321.9 L476.3,326.4 L477.1,331.0 L478.5,335.4 L480.1,339.8 L481.9,343.9 L483.7,348.0 L485.3,351.9 L486.8,355.8 L488.2,359.7 L489.5,363.6 L490.7,367.7 L491.9,371.8 L493.2,376.0 L494.5,380.2 L496.1,384.4Z" fill="#ffe680" opacity="0.37"/>
<path d="M538.5,206.1 L542.9,206.7 L547.2,207.1 L551.5,207.4 L555.7,207.4 L560.0,207.2 L564.3,206.7 L568.7,206.2 L573.1,205.5 L577.6,204.8 L582.1,204.0 L586.5,203.3 L591.0,202.6 L595.3,202.1 L599.6,201.8 L603.7,201.7 L607.8,201.8 L611.8,202.3 L615.9,203.7 L619.9,205.8 L623.8,208.2 L627.6,211.0 L631.2,214.1 L634.6,217.2 L637.8,220.4 L640.8,223.4 L643.5,226.2 L646.0,228.6 L648.2,230.5 L650.0,231.8 L650.0,231.8 L648.2,230.5 L646.0,228.6 L643.5,226.2 L640.8,223.4 L637.8,220.4 L634.6,217.2 L631.2,214.1 L627.6,211.0 L623.8,208.2 L619.9,205.8 L615.9,203.7 L612.0,201.9 L608.2,200.1 L604.1,198.7 L599.8,197.8 L595.3,197.1 L590.7,196.8 L586.0,196.8 L581.3,197.0 L576.6,197.3 L572.0,197.8 L567.6,198.4 L563.2,199.1 L559.0,199.8 L555.0,200.6 L551.0,201.4 L546.9,202.1 L542.7,203.0 L538.4,203.9Z" fill="#ffd648" opacity="0.31"/>
<path d="M507.4,353.7 L506.1,349.6 L504.9,345.5 L503.6,341.3 L502.3,337.0 L501.3,332.8 L500.3,328.7 L499.6,324.6 L499.0,320.7 L498.6,316.8 L498.4,313.0 L498.3,309.3 L498.3,305.9 L498.4,302.6 L498.6,299.6 L499.0,296.3 L499.4,292.6 L499.5,289.0 L499.5,285.5 L499.2,282.0 L498.6,278.6 L497.9,275.3 L496.9,272.0 L495.9,268.7 L494.7,265.4 L493.6,262.0 L492.5,258.5 L492.0,254.7 L491.9,250.7 L492.3,246.6 L493.1,242.6 L494.4,238.7 L496.1,235.1 L498.4,231.8 L501.1,228.9 L504.2,226.4 L507.6,224.5 L511.4,223.2 L515.2,222.4 L519.3,222.3 L523.4,222.7 L527.5,223.4 L531.5,224.4 L535.5,225.5 L539.4,226.7 L539.4,226.7 L535.5,225.5 L531.5,224.4 L527.5,223.4 L523.4,222.7 L519.3,222.3 L515.2,222.4 L511.4,223.2 L507.6,224.5 L504.2,226.4 L501.1,228.9 L498.4,231.8 L496.1,235.1 L494.4,238.7 L493.1,242.6 L492.3,246.6 L491.9,250.7 L492.0,254.7 L492.3,258.5 L492.3,262.2 L492.5,265.8 L492.8,269.3 L493.0,272.7 L493.2,275.9 L493.2,279.1 L493.0,282.2 L492.7,285.3 L492.3,288.4 L491.7,291.6 L491.0,294.9 L490.1,298.4 L489.7,302.0 L489.4,305.5 L489.3,309.4 L489.4,313.5 L489.8,317.7 L490.5,322.0 L491.5,326.4 L492.8,330.7 L494.4,335.0 L496.2,339.3 L498.3,343.4 L500.5,347.4 L502.8,351.2 L505.2,354.8Z" fill="#ffb010" opacity="0.66"/>
<path d="M514.3,227.4 L517.1,225.1 L519.9,222.9 L522.8,220.7 L526.0,218.8 L529.3,217.2 L532.8,215.9 L536.5,215.1 L540.3,214.7 L544.1,214.7 L548.1,215.1 L552.1,215.6 L556.1,216.2 L560.1,216.8 L564.1,217.2 L568.1,217.2 L572.3,216.9 L576.5,216.2 L580.8,215.2 L585.1,213.9 L589.5,212.4 L593.9,211.0 L598.3,209.8 L602.6,209.3 L606.7,209.3 L610.7,209.9 L614.5,211.2 L618.4,213.2 L622.2,215.8 L625.8,218.7 L629.3,221.6 L632.8,224.4 L636.2,226.7 L639.5,228.3 L642.7,229.2 L645.8,229.2 L648.8,228.3 L651.3,226.7 L651.3,226.7 L648.8,228.3 L645.8,229.2 L642.7,229.2 L639.5,228.3 L636.2,226.7 L632.8,224.4 L629.3,221.6 L625.8,218.7 L622.2,215.8 L618.4,213.2 L614.5,211.2 L610.7,209.9 L606.7,209.3 L602.6,209.3 L598.3,209.8 L593.8,210.4 L589.2,211.4 L584.7,212.4 L580.3,213.3 L576.1,214.0 L572.1,214.3 L568.2,214.3 L564.4,213.9 L560.6,213.4 L556.8,212.6 L552.7,211.9 L548.5,211.2 L544.3,210.8 L540.0,210.9 L535.8,211.4 L531.8,212.5 L527.9,214.2 L524.4,216.2 L521.3,218.6 L518.4,221.2 L515.9,223.9 L513.6,226.7Z" fill="#ffe680" opacity="0.52"/>
<path d="M513.1,237.0 L515.9,235.1 L518.5,232.9 L520.8,230.4 L523.2,227.7 L525.6,224.9 L528.1,221.9 L530.9,219.0 L533.8,216.3 L537.0,213.9 L540.3,211.9 L543.9,210.6 L547.6,209.9 L551.6,209.9 L555.7,210.6 L560.0,212.0 L564.2,214.0 L568.2,216.7 L572.0,219.4 L575.9,221.9 L579.8,224.0 L583.7,225.4 L587.7,226.0 L591.9,225.7 L596.2,224.4 L600.7,222.3 L605.2,219.5 L605.2,219.5 L600.7,222.3 L596.2,224.4 L591.9,225.7 L587.7,226.0 L583.7,225.4 L579.8,224.0 L575.9,221.9 L572.0,219.4 L568.2,216.7 L564.2,214.0 L560.3,211.5 L556.2,209.3 L552.0,207.7 L547.6,207.0 L543.2,207.1 L538.8,208.1 L534.7,210.0 L530.8,212.5 L527.4,215.4 L524.4,218.6 L521.8,221.8 L519.6,225.0 L517.7,227.9 L515.9,230.7 L514.1,233.4 L512.1,236.1Z" fill="#ffe680" opacity="0.47"/>
<path d="M476.2,579.1 L476.9,570.7 L477.4,562.2 L477.6,553.8 L477.5,545.7 L477.2,538.1 L476.5,531.3 L475.8,524.9 L474.8,518.5 L473.5,512.3 L472.1,506.2 L470.5,500.4 L469.0,494.7 L467.6,489.2 L466.5,483.8 L465.6,478.4 L465.1,473.2 L465.0,467.9 L465.3,462.5 L465.5,457.3 L466.1,452.2 L467.0,447.3 L468.0,442.4 L469.1,437.7 L470.4,433.4 L471.5,429.1 L472.2,425.0 L472.3,421.1 L471.9,417.2 L470.8,413.4 L469.2,409.8 L467.3,406.2 L465.1,402.7 L462.5,399.3 L459.7,395.8 L456.9,392.3 L454.3,388.6 L452.1,384.6 L450.4,380.4 L450.4,380.4 L452.1,384.6 L454.3,388.6 L456.9,392.3 L459.7,395.8 L462.5,399.3 L465.1,402.7 L467.3,406.2 L469.2,409.8 L470.8,413.4 L471.9,417.2 L472.3,421.1 L472.2,425.0 L471.5,429.1 L470.4,433.4 L469.1,437.7 L467.1,442.2 L465.0,446.7 L463.2,451.5 L461.6,456.6 L460.4,461.8 L459.3,467.4 L458.6,473.1 L458.5,478.9 L458.8,484.8 L459.5,490.7 L460.6,496.6 L461.9,502.5 L463.3,508.4 L464.7,514.3 L466.0,520.3 L467.3,526.3 L468.3,532.4 L469.5,539.0 L470.5,546.3 L471.5,554.1 L472.3,562.3 L473.0,570.7 L473.7,579.1Z" fill="#ff8400" opacity="0.61"/>
<path d="M438.3,360.5 L438.7,356.4 L438.7,352.0 L438.4,347.4 L438.1,342.7 L437.8,337.7 L437.7,332.6 L437.9,327.3 L438.5,321.7 L439.5,316.0 L441.0,310.1 L443.3,304.1 L444.9,298.7 L446.7,294.0 L448.6,289.1 L450.7,284.2 L452.7,279.2 L454.6,274.1 L456.2,269.0 L457.4,263.8 L458.3,258.5 L458.8,253.1 L459.2,247.6 L459.4,242.1 L460.4,236.9 L461.6,231.6 L463.0,226.3 L465.0,221.3 L467.5,216.4 L470.8,212.1 L475.2,208.7 L480.1,206.0 L485.6,204.1 L491.4,203.0 L497.5,202.6 L503.7,203.0 L509.6,203.5 L515.3,204.4 L520.6,205.4 L525.5,206.2 L530.1,206.6 L534.5,206.4 L538.6,205.5 L542.6,203.9 L546.6,201.6 L550.5,198.8 L554.5,195.6 L558.6,192.3 L563.2,189.2 L563.2,189.2 L558.6,192.3 L554.5,195.6 L550.5,198.8 L546.6,201.6 L542.6,203.9 L538.6,205.5 L534.5,206.4 L530.1,206.6 L525.5,206.2 L520.6,205.4 L515.3,204.4 L509.6,203.5 L503.7,203.0 L497.5,202.6 L491.4,203.0 L485.6,204.1 L480.1,206.0 L475.2,208.7 L470.8,212.1 L466.9,215.9 L463.3,220.3 L460.3,225.1 L457.8,230.3 L455.7,235.6 L453.8,241.0 L452.7,246.8 L451.6,252.0 L450.4,256.9 L449.0,261.6 L447.4,266.1 L445.5,270.6 L443.4,275.1 L441.1,279.9 L438.8,284.8 L436.5,289.9 L434.4,295.2 L432.9,300.7 L430.7,307.0 L429.1,314.0 L428.3,320.7 L428.2,327.1 L428.6,333.1 L429.4,338.7 L430.5,343.8 L431.8,348.6 L433.1,352.9 L434.3,357.0 L435.4,360.8Z" fill="#ff9a00" opacity="0.64"/>
<path d="M523.1,212.5 L527.5,212.6 L531.8,212.4 L536.0,211.8 L540.2,210.8 L544.2,209.6 L548.2,208.1 L552.1,206.4 L555.9,204.7 L559.7,203.0 L563.7,201.6 L568.1,200.5 L572.6,200.5 L577.1,201.4 L581.5,202.8 L585.8,204.6 L590.0,206.8 L594.1,209.1 L598.0,211.5 L601.9,213.7 L601.9,213.7 L598.0,211.5 L594.1,209.1 L590.0,206.8 L585.8,204.6 L581.5,202.8 L577.1,201.4 L572.6,200.5 L568.1,199.6 L563.5,198.7 L558.9,198.4 L554.4,198.7 L550.0,199.3 L545.7,200.2 L541.6,201.4 L537.6,202.7 L533.7,204.2 L529.9,205.9 L526.2,207.9 L522.5,210.2Z" fill="#ffc428" opacity="0.45"/>
<path d="M496.1,495.1 L496.3,489.1 L496.5,483.2 L496.7,477.4 L497.1,471.8 L497.4,466.3 L497.8,460.8 L498.1,455.3 L497.9,450.0 L497.5,445.1 L496.7,440.3 L495.6,435.8 L494.0,431.6 L492.1,427.7 L490.0,424.1 L487.8,420.7 L485.6,417.4 L483.5,414.1 L481.5,410.6 L480.2,406.8 L479.9,402.6 L479.9,398.4 L480.3,393.9 L480.8,389.3 L481.5,384.6 L482.0,379.9 L482.2,375.2 L482.1,370.6 L481.5,366.2 L480.3,361.9 L478.6,357.7 L476.5,353.7 L476.5,353.7 L478.6,357.7 L480.3,361.9 L481.5,366.2 L482.1,370.6 L482.2,375.2 L482.0,379.9 L481.5,384.6 L480.8,389.3 L480.3,393.9 L479.9,398.4 L479.9,402.6 L480.2,406.8 L480.7,410.8 L481.3,414.9 L482.2,418.9 L483.4,422.8 L484.6,426.6 L485.7,430.3 L486.6,434.0 L487.3,437.8 L487.8,441.7 L488.1,445.9 L488.3,450.5 L488.5,455.3 L488.5,460.6 L488.6,466.1 L488.9,471.9 L489.6,477.7 L490.5,483.6 L491.9,489.6 L493.6,495.5Z" fill="#ffd648" opacity="0.69"/>
<path d="M465.0,496.0 L466.9,490.1 L468.4,484.2 L469.5,478.4 L470.3,472.6 L470.8,467.1 L470.9,461.4 L470.1,456.1 L469.2,451.3 L467.9,446.9 L466.5,442.7 L464.9,438.8 L463.2,435.1 L461.5,431.6 L459.8,428.1 L459.2,424.4 L458.7,420.6 L458.4,416.7 L458.1,412.8 L458.5,408.7 L459.0,404.5 L459.6,400.2 L460.2,395.7 L461.0,391.0 L461.0,391.0 L460.2,395.7 L459.6,400.2 L459.0,404.5 L458.5,408.7 L458.1,412.8 L458.4,416.7 L458.7,420.6 L459.2,424.4 L459.8,428.1 L459.6,432.0 L459.3,435.9 L459.1,439.9 L459.0,444.1 L459.0,448.3 L459.1,452.7 L459.2,457.3 L459.5,461.9 L459.5,466.8 L459.6,472.2 L459.9,477.8 L460.3,483.6 L461.0,489.6 L461.9,495.8Z" fill="#ffb010" opacity="0.45"/>
<path d="M495.1,353.0 L493.8,348.8 L492.5,344.7 L491.4,340.5 L490.5,336.3 L489.9,332.0 L489.5,327.7 L489.3,323.4 L489.3,319.1 L489.4,314.9 L489.5,310.7 L489.6,306.8 L489.6,303.0 L489.4,299.3 L488.9,295.6 L488.1,291.7 L487.0,287.9 L485.6,284.2 L484.0,280.4 L482.4,276.5 L480.9,272.6 L479.6,268.6 L478.8,264.6 L478.8,260.6 L479.6,256.7 L481.2,253.2 L483.4,250.0 L486.3,247.2 L489.8,244.9 L493.6,243.0 L497.7,241.5 L501.9,240.3 L505.9,239.3 L509.7,238.3 L513.1,237.2 L516.1,235.8 L518.6,234.0 L520.8,231.7 L520.8,231.7 L518.6,234.0 L516.1,235.8 L513.1,237.2 L509.7,238.3 L505.9,239.3 L501.9,240.3 L497.7,241.5 L493.6,243.0 L489.8,244.9 L486.3,247.2 L483.4,250.0 L481.2,253.2 L479.6,256.7 L478.8,260.6 L478.8,264.6 L478.9,268.8 L479.6,273.0 L480.7,277.1 L481.8,281.1 L483.0,285.0 L484.0,288.8 L484.7,292.5 L485.1,296.0 L485.2,299.5 L485.2,303.0 L485.1,306.7 L484.9,310.6 L484.7,314.7 L484.7,319.1 L484.8,323.6 L485.2,328.1 L485.9,332.6 L487.0,337.1 L488.4,341.4 L490.0,345.6 L491.9,349.6 L494.0,353.5Z" fill="#ffe680" opacity="0.48"/>
<path d="M462.0,287.5 L462.5,283.1 L463.1,278.6 L463.7,274.1 L464.4,269.7 L465.3,265.3 L466.4,260.9 L467.7,256.7 L469.3,252.5 L471.1,248.7 L473.5,245.1 L476.2,241.7 L479.2,238.5 L482.4,235.5 L485.8,232.7 L489.4,230.2 L493.1,227.8 L496.9,225.5 L500.7,223.5 L504.6,221.6 L508.4,219.8 L512.2,218.0 L515.9,216.1 L519.6,214.3 L523.3,212.4 L526.9,210.4 L530.6,208.3 L534.5,206.6 L538.5,204.9 L542.5,203.2 L546.6,201.6 L550.7,200.2 L554.8,199.0 L559.1,198.0 L563.5,197.4 L568.1,197.2 L572.7,197.5 L577.3,198.2 L581.8,199.4 L586.2,200.9 L590.5,202.7 L594.6,204.7 L598.7,206.9 L602.6,209.1 L606.4,211.3 L606.4,211.3 L602.6,209.1 L598.7,206.9 L594.6,204.7 L590.5,202.7 L586.2,200.9 L581.8,199.4 L577.3,198.2 L572.7,197.5 L568.1,197.2 L563.5,197.4 L559.1,198.0 L554.8,199.0 L550.7,200.2 L546.6,201.6 L542.5,203.2 L538.5,204.9 L534.5,206.6 L530.5,208.2 L526.5,209.4 L522.5,210.6 L518.6,211.8 L514.7,213.1 L510.8,214.3 L506.8,215.5 L502.7,216.9 L498.5,218.4 L494.2,220.1 L489.9,222.1 L485.7,224.4 L481.6,227.0 L477.7,230.0 L473.9,233.2 L470.5,236.9 L467.4,240.8 L464.7,245.2 L462.6,249.9 L461.1,254.7 L460.1,259.5 L459.4,264.3 L459.1,269.1 L459.0,273.8 L459.1,278.4 L459.5,283.0 L460.0,287.5Z" fill="#ffb010" opacity="0.31"/>
<path d="M564.4,378.4 L563.3,373.3 L561.9,368.4 L560.0,363.8 L557.7,359.4 L554.8,355.3 L551.3,351.6 L547.5,348.4 L543.3,345.6 L538.9,343.1 L534.5,341.0 L530.0,338.6 L525.5,335.3 L521.7,331.5 L518.5,327.8 L515.9,324.0 L513.9,320.2 L512.7,316.4 L512.1,312.7 L511.9,309.1 L511.9,309.1 L512.1,312.7 L512.7,316.4 L513.9,320.2 L515.9,324.0 L518.5,327.8 L521.7,331.5 L525.5,335.3 L529.4,339.3 L532.6,343.4 L535.9,347.0 L539.1,350.6 L542.2,354.1 L545.0,357.5 L547.7,360.9 L550.2,364.4 L552.9,368.0 L555.7,371.7 L558.8,375.6 L562.2,379.5Z" fill="#ffb010" opacity="0.58"/>
<path d="M448.1,250.3 L451.3,245.5 L454.7,241.0 L458.8,237.2 L463.0,233.6 L467.2,230.2 L471.4,226.9 L475.5,223.7 L479.6,220.6 L483.6,217.5 L487.5,214.4 L491.5,211.3 L495.4,208.3 L499.4,205.4 L503.5,202.6 L507.7,199.6 L512.0,197.0 L516.5,194.8 L521.0,192.9 L525.7,191.5 L530.4,190.6 L535.2,190.0 L540.0,190.0 L544.9,190.4 L549.6,191.4 L554.2,192.7 L558.8,194.3 L563.5,196.0 L568.1,197.8 L572.6,199.6 L577.1,201.4 L581.5,202.8 L585.9,204.1 L590.2,204.9 L594.6,205.4 L598.9,205.6 L603.2,205.4 L607.4,204.9 L611.6,204.3 L611.6,204.3 L607.4,204.9 L603.2,205.4 L598.9,205.6 L594.6,205.4 L590.2,204.9 L585.9,204.1 L581.5,202.8 L577.1,201.4 L572.6,199.6 L568.1,197.8 L563.5,196.0 L558.8,194.3 L554.2,192.7 L549.6,191.4 L544.9,190.4 L540.1,189.5 L535.2,188.9 L530.3,188.9 L525.3,189.3 L520.3,190.3 L515.3,191.8 L510.4,193.8 L505.7,196.3 L501.2,199.0 L496.8,201.7 L492.6,204.5 L488.5,207.4 L484.5,210.5 L480.5,213.6 L476.5,216.7 L472.5,220.0 L468.5,223.4 L464.4,227.0 L460.4,230.7 L456.4,234.8 L452.5,239.3 L449.5,244.4 L447.0,249.6Z" fill="#ffb010" opacity="0.67"/>
<path d="M536.2,194.3 L540.8,193.6 L545.3,193.1 L549.7,192.7 L554.1,192.4 L558.5,192.3 L563.2,192.5 L567.9,193.0 L572.6,193.8 L577.2,194.9 L581.7,196.3 L586.1,197.9 L590.5,199.6 L594.7,201.6 L598.9,203.6 L602.9,205.7 L606.8,207.7 L610.7,209.6 L614.5,211.6 L618.3,213.7 L622.2,215.6 L626.1,217.3 L630.1,218.7 L634.0,219.8 L637.8,220.7 L641.4,221.1 L644.9,221.3 L648.0,221.1 L650.8,220.5 L653.1,219.7 L653.1,219.7 L650.8,220.5 L648.0,221.1 L644.9,221.3 L641.4,221.1 L637.8,220.7 L634.0,219.8 L630.1,218.7 L626.1,217.3 L622.2,215.6 L618.3,213.7 L614.5,211.6 L610.8,209.4 L607.2,207.1 L603.5,204.7 L599.6,202.3 L595.6,200.0 L591.4,197.7 L587.0,195.7 L582.5,193.8 L577.9,192.3 L573.1,191.0 L568.3,190.2 L563.4,189.7 L558.5,189.6 L553.9,190.0 L549.5,190.5 L545.0,191.3 L540.5,192.3 L536.1,193.5Z" fill="#ffc428" opacity="0.63"/>
<path d="M567.7,396.7 L566.4,392.3 L564.9,387.9 L563.2,383.2 L560.9,378.5 L558.6,373.9 L556.3,369.6 L554.2,365.3 L552.1,361.3 L550.1,357.4 L548.2,353.6 L546.4,349.9 L544.8,346.3 L543.1,342.8 L541.6,339.4 L539.9,335.5 L537.6,331.1 L535.1,326.8 L532.6,322.7 L530.1,318.9 L527.4,315.4 L524.7,312.1 L522.0,309.2 L519.2,306.6 L516.5,304.3 L513.6,302.3 L511.0,300.5 L508.7,298.1 L507.3,295.3 L506.0,292.2 L504.7,289.0 L503.5,285.9 L502.6,282.8 L501.8,279.7 L501.4,276.7 L501.2,273.8 L501.4,271.0 L501.9,268.4 L502.8,266.1 L504.0,264.0 L505.0,261.7 L506.4,259.5 L508.2,257.4 L510.2,255.5 L510.2,255.5 L508.2,257.4 L506.4,259.5 L505.0,261.7 L504.0,264.0 L502.8,266.1 L501.9,268.4 L501.4,271.0 L501.2,273.8 L501.4,276.7 L501.8,279.7 L502.6,282.8 L503.5,285.9 L504.7,289.0 L506.0,292.2 L507.3,295.3 L508.7,298.1 L511.0,300.5 L513.0,303.0 L514.8,305.9 L516.6,308.8 L518.4,312.0 L520.2,315.3 L521.9,318.8 L523.6,322.6 L525.4,326.5 L527.1,330.7 L528.8,335.2 L530.5,339.4 L531.6,343.2 L532.9,347.0 L534.4,350.8 L536.2,354.7 L538.1,358.7 L540.2,362.6 L542.6,366.6 L545.1,370.6 L547.8,374.7 L550.8,378.7 L553.8,382.9 L556.9,386.8 L559.5,390.7 L562.2,394.4 L565.0,398.1Z" fill="#ffb010" opacity="0.43"/>
<path d="M587.7,456.3 L585.4,450.5 L583.1,445.0 L580.8,439.7 L578.9,435.0 L577.6,430.5 L576.4,426.1 L575.4,421.9 L574.6,417.8 L573.8,413.8 L573.2,409.7 L572.5,405.6 L571.8,401.3 L571.0,396.9 L570.1,392.4 L568.9,387.9 L567.2,383.0 L564.7,378.2 L561.8,373.8 L558.5,369.8 L554.9,366.3 L551.4,362.7 L547.9,359.1 L544.0,355.8 L540.0,352.7 L535.8,349.7 L531.6,346.8 L527.4,343.9 L523.3,340.8 L519.0,337.2 L514.9,333.5 L511.3,329.9 L508.2,326.3 L505.7,322.6 L503.8,318.9 L503.8,318.9 L505.7,322.6 L508.2,326.3 L511.3,329.9 L514.9,333.5 L519.0,337.2 L523.3,340.8 L527.4,343.9 L531.6,346.8 L535.8,349.7 L540.0,352.7 L544.0,355.8 L547.9,359.1 L551.4,362.7 L554.5,366.6 L556.6,371.1 L558.4,375.7 L559.8,380.3 L560.9,384.9 L561.1,389.2 L561.2,393.6 L561.2,397.9 L561.2,402.2 L561.3,406.6 L561.5,411.1 L562.0,415.6 L562.8,420.2 L564.0,424.9 L565.6,429.5 L567.6,434.2 L570.1,439.2 L573.4,444.0 L577.0,448.6 L580.8,453.3 L585.0,458.0Z" fill="#ffb010" opacity="0.33"/>
<path d="M459.9,254.2 L462.5,249.8 L464.9,245.6 L467.8,241.8 L470.7,237.9 L473.6,234.1 L476.5,230.3 L479.6,226.7 L482.7,223.1 L486.0,219.7 L489.5,216.4 L493.2,213.4 L497.2,210.6 L501.6,208.8 L506.3,207.4 L510.9,206.1 L515.7,205.4 L520.4,205.0 L525.1,205.0 L529.7,205.2 L534.3,205.6 L534.3,205.6 L529.7,205.2 L525.1,205.0 L520.4,205.0 L515.7,205.4 L510.9,206.1 L506.3,207.4 L501.6,208.8 L497.2,210.6 L492.6,212.4 L488.2,214.5 L483.9,217.1 L479.9,220.1 L476.2,223.4 L472.7,227.0 L469.5,230.9 L466.5,234.9 L463.9,239.2 L461.4,243.8 L459.8,248.7 L458.6,253.7Z" fill="#ffc428" opacity="0.58"/>
<path d="M494.7,239.2 L498.4,237.3 L501.9,234.9 L505.0,232.0 L507.8,228.8 L510.2,225.4 L512.5,222.2 L514.7,219.1 L517.1,216.3 L519.7,213.9 L522.8,212.0 L526.4,210.7 L530.6,210.1 L535.3,210.0 L539.8,211.4 L544.3,213.2 L548.6,214.8 L552.7,216.0 L556.7,216.5 L560.5,216.0 L564.2,214.6 L568.1,212.3 L572.3,209.5 L572.3,209.5 L568.1,212.3 L564.2,214.6 L560.5,216.0 L556.7,216.5 L552.7,216.0 L548.6,214.8 L544.3,213.2 L539.8,211.4 L535.3,209.8 L530.9,207.7 L526.2,206.5 L521.3,206.4 L516.4,207.6 L512.0,209.9 L508.1,213.0 L505.0,216.5 L502.4,220.1 L500.3,223.7 L498.4,227.1 L496.7,230.5 L494.8,233.8 L493.0,237.4Z" fill="#ffc428" opacity="0.68"/>
<path d="M462.8,395.1 L463.0,390.7 L462.8,386.2 L462.5,381.7 L461.8,377.1 L461.0,372.5 L459.9,367.9 L458.7,363.3 L457.5,359.0 L456.7,355.1 L455.7,351.2 L454.8,347.1 L453.8,342.8 L453.0,338.3 L452.4,333.6 L452.0,328.7 L451.9,323.5 L452.2,318.2 L452.8,312.8 L453.9,307.3 L455.5,301.9 L456.7,296.9 L458.0,292.3 L459.5,287.6 L460.9,283.0 L462.6,278.7 L464.3,274.4 L465.7,270.1 L467.0,265.9 L468.0,261.6 L468.9,257.2 L469.7,252.7 L470.4,248.1 L471.6,243.6 L472.8,239.0 L474.2,234.3 L475.9,229.7 L478.0,225.1 L480.4,220.8 L483.3,216.7 L486.6,213.1 L486.6,213.1 L483.3,216.7 L480.4,220.8 L478.0,225.1 L475.9,229.7 L474.2,234.3 L472.8,239.0 L471.6,243.6 L470.4,248.1 L469.7,252.7 L468.9,257.2 L468.0,261.6 L467.0,265.9 L465.7,270.1 L464.3,274.4 L462.6,278.7 L460.9,283.0 L458.8,287.3 L456.7,291.7 L454.7,296.3 L452.9,301.0 L450.7,306.3 L449.0,312.0 L447.8,317.7 L447.0,323.3 L446.7,328.7 L446.8,334.0 L447.2,339.1 L447.9,343.9 L448.7,348.4 L449.7,352.6 L450.6,356.6 L451.6,360.6 L453.1,365.0 L454.5,369.5 L455.9,373.8 L457.2,378.1 L458.4,382.4 L459.4,386.7 L460.3,390.9 L461.1,395.2Z" fill="#ffc428" opacity="0.48"/>
<path d="M536.9,344.9 L534.1,341.3 L531.1,337.7 L527.7,333.7 L524.3,329.7 L521.1,325.9 L518.3,322.3 L516.0,318.9 L514.1,315.5 L512.7,312.4 L511.7,309.3 L511.2,306.3 L511.0,303.5 L511.0,300.9 L511.1,298.4 L512.0,295.4 L512.6,292.2 L513.2,289.3 L513.3,286.6 L512.8,283.8 L511.7,281.1 L510.1,278.3 L508.0,275.3 L505.6,272.2 L503.1,268.8 L500.8,265.2 L498.8,261.5 L497.1,257.4 L497.1,257.4 L498.8,261.5 L500.8,265.2 L503.1,268.8 L505.6,272.2 L508.0,275.3 L510.1,278.3 L511.7,281.1 L512.8,283.8 L513.3,286.6 L513.2,289.3 L512.5,292.2 L511.0,295.0 L509.3,297.7 L508.3,300.4 L507.5,303.2 L507.1,306.4 L507.2,310.1 L507.9,313.9 L509.3,317.8 L511.4,321.7 L514.1,325.5 L517.2,329.2 L520.8,332.9 L524.6,336.7 L528.6,340.2 L532.2,343.2 L535.8,345.9Z" fill="#ffb010" opacity="0.43"/>
<path d="M569.1,596.4 L568.0,591.0 L566.6,584.8 L564.9,577.8 L563.0,570.3 L561.0,562.5 L559.0,554.4 L557.1,546.3 L555.4,538.3 L554.0,530.5 L552.8,523.3 L551.9,516.5 L551.2,510.2 L550.7,503.9 L550.2,497.6 L549.8,491.2 L549.5,484.9 L549.0,478.6 L548.4,472.4 L547.5,466.3 L546.3,460.4 L544.7,454.7 L542.7,449.3 L540.3,444.3 L537.7,439.6 L534.7,435.4 L531.4,431.6 L527.9,428.2 L524.5,424.8 L521.4,421.3 L518.4,417.8 L515.4,414.4 L512.8,410.9 L510.4,407.3 L508.5,403.5 L507.0,399.5 L505.9,395.3 L505.2,390.9 L505.1,386.4 L505.3,381.7 L505.9,376.9 L506.8,372.1 L507.8,367.2 L508.8,362.4 L509.7,357.6 L510.3,353.0 L510.6,348.7 L510.6,348.7 L510.3,353.0 L509.7,357.6 L508.8,362.4 L507.8,367.2 L506.8,372.1 L505.9,376.9 L505.3,381.7 L505.1,386.4 L505.2,390.9 L505.9,395.3 L507.0,399.5 L508.5,403.5 L510.4,407.3 L512.8,410.9 L515.4,414.4 L518.4,417.8 L521.4,421.3 L524.5,424.8 L527.3,428.7 L529.5,433.0 L531.5,437.3 L533.1,441.8 L534.5,446.6 L535.6,451.5 L536.4,456.5 L536.8,461.8 L537.0,467.3 L537.0,473.0 L536.8,479.0 L536.7,485.1 L536.5,491.5 L536.5,498.0 L536.6,504.7 L537.0,511.5 L537.8,518.3 L538.9,525.5 L540.4,533.3 L542.4,541.3 L544.7,549.5 L547.4,557.8 L550.3,565.8 L553.4,573.5 L556.5,580.7 L559.6,587.3 L562.7,593.1 L565.5,597.8Z" fill="#ffc428" opacity="0.49"/>
<path d="M525.7,302.6 L524.3,300.2 L522.8,298.0 L521.8,296.4 L521.8,294.5 L521.4,291.6 L521.0,288.8 L520.4,286.0 L519.8,283.3 L519.2,280.8 L518.5,278.4 L517.9,276.1 L517.4,274.0 L517.1,272.2 L516.8,270.6 L516.8,268.7 L516.4,266.7 L516.4,264.8 L516.8,262.8 L517.4,260.6 L518.4,258.5 L519.6,256.3 L520.9,254.2 L522.3,252.1 L524.0,250.2 L525.7,248.5 L527.2,246.7 L528.7,244.9 L530.2,243.3 L531.8,241.5 L533.7,239.5 L535.8,237.2 L538.2,234.8 L540.8,232.3 L543.7,229.8 L546.8,227.4 L550.1,225.2 L553.6,223.3 L557.2,221.7 L560.8,220.6 L560.8,220.6 L557.2,221.7 L553.6,223.3 L550.1,225.2 L546.8,227.4 L543.7,229.8 L540.8,232.3 L538.2,234.8 L535.8,237.2 L533.7,239.5 L531.8,241.5 L530.2,243.3 L528.7,244.9 L527.2,246.7 L525.7,248.5 L524.0,250.2 L522.2,251.9 L520.1,253.4 L518.1,255.1 L516.2,256.9 L514.5,259.0 L513.0,261.3 L511.9,263.8 L511.3,266.4 L511.2,268.7 L510.8,270.4 L510.7,272.7 L510.9,275.1 L511.3,277.6 L511.8,280.1 L512.5,282.6 L513.3,285.1 L514.1,287.7 L514.9,290.3 L515.8,292.9 L516.6,295.5 L517.7,298.5 L520.0,300.7 L522.1,302.1 L524.3,303.9Z" fill="#ff9a00" opacity="0.46"/>
<path d="M475.3,368.1 L474.9,363.6 L474.6,359.1 L474.5,354.8 L474.7,350.6 L475.0,346.3 L475.3,341.8 L475.7,337.1 L476.1,332.3 L476.5,327.5 L476.9,322.7 L477.1,317.9 L477.2,313.2 L477.0,308.7 L476.7,304.3 L476.0,300.0 L474.8,295.9 L473.3,291.9 L471.5,287.9 L470.0,283.6 L468.5,279.3 L467.1,274.8 L465.9,270.1 L465.1,265.4 L464.8,260.7 L465.2,256.0 L466.4,251.4 L468.4,247.2 L471.3,243.4 L474.9,240.2 L479.0,237.6 L479.0,237.6 L474.9,240.2 L471.3,243.4 L468.4,247.2 L466.4,251.4 L465.2,256.0 L464.8,260.7 L465.1,265.4 L465.9,270.1 L467.1,274.8 L468.5,279.3 L470.0,283.6 L471.5,287.9 L472.3,292.2 L472.9,296.4 L473.2,300.4 L473.0,304.4 L472.7,308.6 L472.2,313.0 L471.6,317.5 L471.0,322.1 L470.4,326.9 L469.8,331.8 L469.4,336.6 L469.1,341.4 L469.0,346.1 L469.2,350.6 L469.6,355.2 L470.6,359.7 L472.0,364.2 L473.7,368.5Z" fill="#ffd648" opacity="0.31"/>
<path d="M524.9,204.5 L529.3,203.9 L533.6,203.5 L537.9,203.3 L542.2,203.2 L546.4,203.4 L550.7,203.6 L554.9,204.0 L559.1,204.4 L563.3,205.0 L567.7,205.6 L572.1,206.2 L576.5,206.8 L581.0,207.3 L585.4,207.7 L589.9,207.9 L594.3,208.0 L598.6,207.9 L602.9,207.7 L607.0,207.3 L611.1,207.3 L615.2,207.5 L619.5,208.0 L623.8,208.6 L628.0,209.6 L632.1,210.8 L635.9,212.2 L639.6,213.9 L642.9,215.7 L645.8,217.7 L648.3,219.8 L650.4,221.8 L652.1,223.6 L652.1,223.6 L650.4,221.8 L648.3,219.8 L645.8,217.7 L642.9,215.7 L639.6,213.9 L635.9,212.2 L632.1,210.8 L628.0,209.6 L623.8,208.6 L619.5,208.0 L615.2,207.5 L611.1,207.3 L607.0,207.3 L602.9,206.7 L598.7,206.2 L594.5,205.6 L590.2,204.9 L585.9,204.1 L581.6,203.3 L577.3,202.4 L572.9,201.4 L568.5,200.5 L564.1,199.7 L559.7,199.1 L555.3,198.7 L550.9,198.5 L546.5,198.5 L542.0,198.8 L537.5,199.4 L533.1,200.3 L528.7,201.5 L524.5,203.1Z" fill="#ffc428" opacity="0.68"/>
<path d="M501.9,252.8 L503.5,249.7 L505.0,246.4 L506.5,243.1 L508.0,239.9 L509.6,236.8 L511.4,233.8 L513.3,231.1 L515.4,228.6 L517.7,226.5 L520.3,224.9 L523.4,223.5 L526.9,222.6 L530.7,221.9 L534.6,222.3 L538.6,223.0 L542.5,223.9 L546.4,224.9 L550.2,225.8 L554.0,226.5 L557.8,226.9 L561.3,226.9 L564.7,226.4 L564.7,226.4 L561.3,226.9 L557.8,226.9 L554.0,226.5 L550.2,225.8 L546.4,224.9 L542.5,223.9 L538.6,223.0 L534.6,222.3 L530.7,221.8 L526.8,221.1 L523.0,220.9 L519.1,221.4 L515.4,222.7 L512.0,224.7 L509.1,227.4 L506.5,230.5 L504.4,233.9 L502.8,237.6 L501.6,241.4 L500.8,245.2 L500.4,248.9 L500.4,252.5Z" fill="#ffb010" opacity="0.42"/>
<path d="M432.7,333.5 L434.5,327.7 L436.4,321.8 L438.5,315.8 L440.8,309.7 L443.6,303.7 L445.4,298.3 L447.1,293.4 L448.9,288.5 L450.5,283.5 L452.1,278.5 L453.4,273.5 L454.6,268.4 L455.5,263.2 L456.2,258.0 L456.8,252.6 L457.3,247.2 L457.8,241.7 L459.0,236.5 L460.4,231.2 L461.9,225.8 L464.1,220.8 L467.0,216.0 L470.2,211.6 L474.0,207.5 L478.2,203.9 L483.0,200.9 L488.2,198.6 L493.7,197.1 L499.6,196.3 L505.6,195.9 L511.6,196.3 L517.5,197.4 L523.1,199.1 L528.5,201.1 L528.5,201.1 L523.1,199.1 L517.5,197.4 L511.6,196.3 L505.6,195.9 L499.6,196.3 L493.7,197.1 L488.2,198.6 L483.0,200.9 L478.2,203.9 L474.0,207.5 L470.2,211.6 L467.0,216.0 L464.1,220.8 L461.5,225.7 L458.6,230.5 L456.1,235.4 L453.7,240.6 L452.1,246.2 L450.6,251.5 L449.2,256.5 L447.8,261.4 L446.3,266.2 L444.7,270.9 L443.1,275.7 L441.4,280.5 L439.7,285.4 L438.1,290.5 L436.6,295.7 L435.5,300.9 L433.4,307.1 L431.8,313.9 L430.8,320.5 L430.2,326.9 L430.1,333.1Z" fill="#ff9a00" opacity="0.50"/>
<path d="M499.2,270.2 L500.5,267.5 L501.6,264.9 L502.6,262.1 L503.2,259.1 L503.8,256.1 L504.4,252.9 L505.0,249.7 L505.8,246.4 L506.7,243.1 L507.8,239.8 L509.1,236.6 L510.6,233.6 L512.5,230.7 L514.7,228.0 L517.1,225.6 L520.4,224.4 L523.8,223.6 L527.4,223.2 L531.1,223.1 L534.9,223.3 L538.7,223.8 L542.6,224.3 L546.4,224.8 L550.2,225.3 L553.9,225.6 L553.9,225.6 L550.2,225.3 L546.4,224.8 L542.6,224.3 L538.7,223.8 L534.9,223.3 L531.1,223.1 L527.4,223.2 L523.8,223.6 L520.4,224.4 L517.1,225.6 L513.8,226.8 L510.5,228.6 L507.4,230.9 L504.7,233.7 L502.2,236.9 L500.2,240.4 L498.6,244.0 L497.3,247.7 L496.5,251.4 L496.0,255.0 L495.8,258.4 L496.0,261.4 L496.2,264.1 L496.5,267.0 L497.0,269.9Z" fill="#ffc428" opacity="0.54"/>
<path d="M473.3,221.3 L477.0,217.8 L480.8,214.3 L484.7,211.0 L488.7,208.1 L493.1,205.6 L497.7,203.7 L502.7,202.4 L507.9,201.3 L513.1,200.9 L518.2,201.0 L523.3,201.3 L528.3,201.6 L533.1,201.7 L537.6,201.3 L542.0,200.4 L546.2,198.9 L550.3,196.8 L554.4,194.7 L558.6,192.5 L563.2,190.7 L568.1,189.5 L573.0,189.1 L577.8,189.7 L582.4,191.4 L586.9,194.1 L591.1,197.4 L595.1,201.3 L598.9,205.2 L602.7,208.9 L602.7,208.9 L598.9,205.2 L595.1,201.3 L591.1,197.4 L586.9,194.1 L582.4,191.4 L577.8,189.7 L573.0,189.1 L568.1,189.5 L563.2,190.7 L558.6,192.5 L554.4,194.7 L550.2,196.7 L546.0,198.2 L541.7,199.3 L537.5,199.8 L533.1,199.8 L528.4,199.4 L523.6,198.8 L518.4,198.2 L513.0,198.0 L507.5,198.3 L502.0,199.4 L496.7,200.8 L491.8,203.0 L487.2,205.9 L483.1,209.2 L479.4,212.9 L476.0,216.8 L472.7,220.8Z" fill="#ff9a00" opacity="0.49"/>
<path d="M499.5,220.9 L503.2,218.6 L506.8,216.7 L510.6,215.1 L514.5,213.8 L518.5,212.8 L522.5,212.3 L526.6,212.0 L530.8,212.0 L534.9,212.3 L539.1,212.7 L543.4,213.2 L547.6,213.7 L551.8,214.2 L555.9,214.6 L560.0,214.8 L564.1,214.8 L568.2,214.6 L572.3,214.1 L576.6,213.4 L580.8,212.5 L585.2,211.3 L589.6,210.1 L594.1,208.9 L598.6,207.7 L603.0,206.5 L607.3,205.3 L611.6,204.2 L615.9,203.5 L620.4,203.2 L624.9,203.4 L629.3,204.1 L633.4,205.4 L637.3,207.1 L640.8,209.3 L643.9,211.8 L646.6,214.7 L646.6,214.7 L643.9,211.8 L640.8,209.3 L637.3,207.1 L633.4,205.4 L629.3,204.1 L624.9,203.4 L620.4,203.2 L615.9,203.5 L611.6,204.2 L607.3,205.3 L603.0,206.5 L598.6,207.7 L594.1,208.9 L589.6,210.1 L585.1,210.9 L580.7,211.3 L576.3,211.5 L572.2,211.5 L568.1,211.4 L564.2,211.0 L560.4,210.5 L556.5,209.9 L552.5,209.1 L548.4,208.3 L544.2,207.6 L539.9,206.9 L535.4,206.4 L530.9,206.2 L526.3,206.3 L521.8,206.8 L517.3,207.9 L513.0,209.4 L508.9,211.4 L505.1,213.8 L501.7,216.5 L498.5,219.6Z" fill="#ffd648" opacity="0.67"/>
<path d="M501.9,311.1 L500.4,307.6 L499.0,304.3 L497.8,301.1 L497.0,298.3 L496.9,295.4 L496.9,292.1 L497.2,288.9 L497.6,285.8 L498.2,282.8 L499.0,279.9 L500.0,277.1 L501.0,274.4 L502.1,271.9 L503.3,269.5 L504.5,267.3 L505.7,264.9 L506.5,262.3 L507.3,259.6 L508.0,256.8 L508.7,253.8 L509.4,250.6 L510.1,247.3 L510.8,243.9 L511.6,240.4 L513.0,237.0 L514.5,233.6 L516.3,230.5 L518.3,227.5 L520.7,225.0 L523.5,222.8 L526.6,221.0 L530.0,219.7 L533.6,218.8 L537.4,218.3 L541.3,218.3 L545.2,218.6 L549.2,219.2 L553.2,219.9 L557.1,220.8 L560.9,221.7 L560.9,221.7 L557.1,220.8 L553.2,219.9 L549.2,219.2 L545.2,218.6 L541.3,218.3 L537.4,218.3 L533.6,218.8 L530.0,219.7 L526.6,221.0 L523.5,222.8 L520.7,225.0 L518.3,227.5 L516.3,230.5 L514.5,233.6 L513.0,237.0 L511.6,240.4 L510.0,243.6 L508.5,246.8 L507.1,249.8 L505.8,252.8 L504.5,255.5 L503.2,258.0 L502.0,260.4 L500.8,262.4 L499.4,264.2 L497.9,266.4 L496.3,268.8 L494.8,271.6 L493.5,274.6 L492.3,277.8 L491.4,281.2 L490.8,284.8 L490.6,288.5 L490.7,292.2 L491.1,295.9 L491.9,299.7 L493.6,303.1 L495.6,306.1 L497.8,309.1 L500.3,312.1Z" fill="#ffd648" opacity="0.60"/>
<path d="M491.1,281.8 L492.8,278.7 L494.4,275.7 L496.0,272.9 L497.4,270.1 L498.7,267.3 L499.7,264.6 L500.5,261.7 L500.9,258.5 L501.3,255.2 L501.5,251.6 L501.8,247.8 L502.1,243.9 L502.6,239.8 L503.3,235.8 L504.4,231.8 L505.8,228.0 L507.7,224.5 L510.1,221.3 L513.2,219.0 L516.7,217.4 L520.7,216.5 L524.8,216.4 L529.0,216.9 L533.4,217.9 L537.7,219.4 L541.9,221.1 L546.0,222.9 L550.0,224.6 L554.0,226.0 L557.8,227.0 L557.8,227.0 L554.0,226.0 L550.0,224.6 L546.0,222.9 L541.9,221.1 L537.7,219.4 L533.4,217.9 L529.0,216.9 L524.8,216.4 L520.7,216.5 L516.7,217.4 L513.2,219.0 L510.1,221.3 L507.1,224.0 L504.5,227.3 L502.4,231.0 L500.7,235.0 L499.4,239.1 L498.3,243.3 L497.6,247.3 L497.0,251.1 L496.5,254.7 L496.1,257.9 L495.7,260.7 L495.1,263.2 L494.4,265.8 L493.5,268.5 L492.6,271.4 L491.6,274.5 L490.7,277.8 L489.9,281.3Z" fill="#ffc428" opacity="0.66"/>
<path d="M567.5,455.1 L565.6,449.7 L563.6,444.5 L561.7,439.6 L560.4,434.8 L559.1,430.3 L558.0,425.9 L556.9,421.6 L556.0,417.5 L555.0,413.4 L554.1,409.3 L553.0,405.1 L551.9,401.0 L550.6,396.8 L549.1,392.6 L547.2,388.2 L544.7,383.9 L542.0,379.7 L539.1,375.8 L536.0,372.0 L532.8,368.5 L529.7,364.9 L526.8,361.2 L523.9,357.7 L521.2,354.1 L518.7,350.6 L516.5,347.0 L514.6,343.2 L512.6,339.0 L510.9,334.7 L509.4,330.5 L508.1,326.3 L507.1,322.2 L506.2,318.2 L505.5,314.4 L505.5,314.4 L506.2,318.2 L507.1,322.2 L508.1,326.3 L509.4,330.5 L510.9,334.7 L512.6,339.0 L514.6,343.2 L516.5,347.0 L518.7,350.6 L521.2,354.1 L523.9,357.7 L526.8,361.2 L529.7,364.9 L532.6,368.6 L535.1,372.7 L537.5,376.8 L539.8,381.1 L541.8,385.4 L543.7,389.8 L544.9,394.0 L545.9,398.2 L546.8,402.3 L547.6,406.4 L548.4,410.5 L549.2,414.7 L550.2,418.8 L551.3,423.1 L552.6,427.4 L554.1,431.9 L555.8,436.4 L557.8,441.2 L560.4,446.0 L563.2,450.9 L566.1,455.8Z" fill="#ffb010" opacity="0.41"/>
<path d="M462.2,300.9 L462.2,296.4 L462.0,291.9 L461.8,287.4 L461.6,282.8 L461.3,278.2 L461.2,273.6 L461.2,268.9 L461.5,264.3 L462.0,259.6 L462.9,255.0 L464.3,250.5 L466.2,246.3 L468.8,242.4 L471.8,238.9 L475.3,235.6 L479.1,232.7 L483.3,230.1 L487.6,227.9 L492.2,226.0 L496.7,224.4 L501.3,223.0 L505.7,221.9 L510.0,221.1 L514.0,220.3 L517.7,219.3 L521.3,218.1 L524.9,216.6 L528.4,214.9 L531.9,212.8 L535.4,210.4 L539.1,207.8 L542.8,205.1 L546.7,202.2 L550.6,199.4 L554.6,196.8 L558.8,194.4 L558.8,194.4 L554.6,196.8 L550.6,199.4 L546.7,202.2 L542.8,205.1 L539.1,207.8 L535.4,210.4 L531.9,212.8 L528.4,214.9 L524.9,216.6 L521.3,218.1 L517.7,219.3 L514.0,220.3 L510.0,221.1 L505.7,221.9 L501.2,222.7 L496.5,223.5 L491.7,224.7 L486.9,226.1 L482.2,228.0 L477.6,230.3 L473.3,233.1 L469.3,236.3 L465.8,240.0 L462.6,244.2 L460.4,249.0 L458.7,253.9 L457.7,258.9 L457.1,263.9 L456.9,268.9 L457.1,273.7 L457.5,278.5 L458.1,283.1 L458.8,287.7 L459.5,292.1 L460.2,296.5 L461.0,301.0Z" fill="#ff9a00" opacity="0.58"/>
<path d="M523.5,240.5 L525.7,238.3 L527.7,236.2 L529.9,233.8 L532.1,231.2 L534.5,228.5 L537.0,225.8 L539.7,223.1 L542.6,220.6 L545.7,218.3 L549.0,216.4 L552.6,215.0 L556.4,213.9 L560.3,214.2 L564.2,215.1 L568.2,216.7 L572.1,218.7 L575.9,221.1 L579.8,223.8 L583.6,226.5 L587.4,229.1 L587.4,229.1 L583.6,226.5 L579.8,223.8 L575.9,221.1 L572.1,218.7 L568.2,216.7 L564.2,215.1 L560.3,214.2 L556.4,213.9 L552.4,213.6 L548.2,213.9 L544.1,215.0 L540.1,216.7 L536.4,218.9 L533.0,221.6 L530.1,224.5 L527.5,227.6 L525.5,230.7 L524.0,233.8 L522.8,236.7 L522.1,239.8Z" fill="#ffb010" opacity="0.70"/>
<path d="M469.5,392.8 L468.8,388.6 L468.0,384.3 L467.1,380.0 L466.3,375.7 L465.7,371.4 L465.4,367.0 L465.3,362.5 L465.5,358.2 L466.2,353.9 L466.9,349.4 L467.3,344.6 L467.5,339.6 L467.3,334.6 L466.6,329.6 L465.5,324.7 L464.2,319.9 L462.6,315.2 L461.2,310.5 L460.0,305.8 L459.2,301.0 L458.5,296.5 L458.3,292.2 L458.8,287.8 L459.9,283.4 L461.4,278.9 L463.2,274.5 L465.1,270.1 L467.0,265.9 L468.9,261.8 L470.3,257.7 L471.4,253.4 L472.2,248.9 L473.2,244.5 L474.4,239.9 L475.9,235.5 L478.0,231.2 L480.7,227.4 L484.1,224.2 L488.2,221.6 L492.8,219.8 L497.6,218.6 L502.6,217.8 L507.4,217.4 L511.9,216.9 L516.0,215.9 L519.7,214.5 L519.7,214.5 L516.0,215.9 L511.9,216.9 L507.4,217.4 L502.6,217.8 L497.6,218.6 L492.8,219.8 L488.2,221.6 L484.1,224.2 L480.7,227.4 L478.0,231.2 L475.9,235.5 L474.4,239.9 L473.2,244.5 L472.2,248.9 L471.4,253.4 L470.3,257.7 L468.9,261.8 L467.0,265.9 L464.7,269.9 L462.0,273.8 L459.4,278.0 L457.1,282.3 L455.3,286.9 L454.0,291.7 L453.5,296.7 L453.7,301.6 L453.9,306.8 L454.7,312.1 L455.8,317.1 L457.0,321.8 L458.0,326.4 L458.7,330.8 L459.1,335.2 L459.2,339.6 L459.1,344.0 L458.7,348.5 L458.2,352.9 L457.7,357.6 L457.8,362.7 L458.4,367.7 L459.3,372.5 L460.6,377.1 L462.1,381.4 L463.8,385.6 L465.6,389.6 L467.3,393.5Z" fill="#ffb010" opacity="0.65"/>
<path d="M513.1,347.7 L511.8,343.5 L510.1,339.1 L508.3,334.8 L506.4,330.6 L504.6,326.5 L502.8,322.6 L501.1,318.9 L499.6,315.3 L498.3,311.8 L497.1,308.5 L496.1,305.3 L495.3,302.2 L494.8,299.3 L494.7,296.0 L494.7,292.5 L494.8,288.9 L494.9,285.5 L494.9,282.0 L495.2,278.8 L495.8,275.6 L496.3,272.6 L496.7,269.7 L497.0,266.7 L497.3,263.9 L497.6,260.9 L497.7,257.8 L498.0,254.4 L498.5,250.9 L499.3,247.2 L500.3,243.6 L501.6,240.0 L501.6,240.0 L500.3,243.6 L499.3,247.2 L498.5,250.9 L498.0,254.4 L497.7,257.8 L497.6,260.9 L497.3,263.9 L497.0,266.7 L496.7,269.7 L496.3,272.6 L495.8,275.6 L495.2,278.8 L494.2,281.9 L492.8,285.1 L491.6,288.4 L490.5,291.8 L489.4,295.3 L488.6,299.1 L488.4,302.9 L488.6,306.6 L489.2,310.5 L490.2,314.5 L491.6,318.5 L493.3,322.4 L495.3,326.4 L497.6,330.3 L500.0,334.1 L502.7,337.9 L505.5,341.7 L508.3,345.4 L511.0,348.8Z" fill="#ffc428" opacity="0.50"/>
<path d="M512.0,524.0 L511.4,517.5 L510.5,511.1 L509.3,504.8 L508.0,498.7 L506.6,492.7 L505.1,486.8 L503.7,481.1 L502.4,475.5 L501.4,470.1 L500.7,464.8 L500.2,459.5 L499.9,454.3 L499.8,449.3 L499.9,444.5 L500.0,439.8 L500.1,435.3 L500.0,430.9 L499.6,426.7 L498.9,422.6 L497.7,418.7 L496.0,415.0 L493.9,411.5 L491.9,407.9 L489.6,404.2 L487.4,400.5 L485.2,396.8 L483.2,393.0 L481.6,389.1 L480.4,384.9 L479.7,380.6 L479.5,376.1 L479.7,371.4 L480.3,366.5 L481.1,361.7 L481.9,356.8 L482.7,352.0 L483.2,347.4 L483.2,347.4 L482.7,352.0 L481.9,356.8 L481.1,361.7 L480.3,366.5 L479.7,371.4 L479.5,376.1 L479.7,380.6 L480.4,384.9 L481.6,389.1 L483.2,393.0 L485.2,396.8 L487.4,400.5 L489.6,404.2 L491.9,407.9 L493.9,411.5 L495.3,415.3 L496.3,419.1 L496.9,422.9 L497.1,426.8 L497.0,430.9 L496.6,435.1 L496.1,439.6 L495.6,444.3 L495.3,449.2 L495.2,454.4 L495.2,459.8 L495.6,465.3 L496.4,470.9 L497.5,476.6 L498.9,482.3 L500.6,488.1 L502.3,493.8 L504.1,499.7 L505.9,505.7 L507.6,511.7 L509.2,517.9 L510.6,524.2Z" fill="#ffc428" opacity="0.31"/>
<path d="M467.2,596.8 L468.1,589.0 L468.7,580.7 L469.0,572.3 L469.1,563.8 L468.8,555.4 L468.3,547.4 L467.6,539.9 L466.7,533.3 L466.0,527.0 L465.0,520.7 L464.0,514.6 L463.0,508.6 L462.1,502.7 L461.4,496.9 L461.0,491.1 L460.8,485.3 L460.9,479.6 L461.3,473.8 L461.9,468.1 L462.8,462.4 L463.2,457.0 L464.1,452.0 L464.9,447.2 L465.6,442.7 L465.8,438.5 L465.7,434.5 L465.1,430.7 L464.1,427.0 L462.7,423.5 L460.9,420.0 L458.9,416.6 L456.8,413.1 L455.3,409.6 L453.9,406.0 L452.8,402.3 L452.8,402.3 L453.9,406.0 L455.3,409.6 L456.8,413.1 L458.9,416.6 L460.9,420.0 L462.7,423.5 L464.1,427.0 L465.1,430.7 L465.7,434.5 L465.8,438.5 L465.6,442.7 L464.9,447.2 L464.1,452.0 L463.2,457.0 L461.7,462.2 L459.9,467.7 L458.3,473.3 L457.1,479.1 L456.1,485.1 L455.6,491.1 L455.4,497.2 L455.6,503.3 L456.0,509.5 L456.7,515.6 L457.4,521.8 L458.2,528.0 L459.0,534.3 L460.0,540.9 L461.1,548.2 L462.0,555.9 L462.8,564.1 L463.5,572.4 L464.1,580.7 L464.6,588.9 L465.1,596.7Z" fill="#ffb010" opacity="0.54"/>
<path d="M568.5,443.5 L566.6,438.4 L565.2,433.6 L563.7,428.9 L562.3,424.5 L560.9,420.2 L559.7,416.1 L558.5,412.1 L557.4,408.1 L556.4,404.1 L555.4,400.1 L554.5,396.0 L553.6,391.8 L552.6,387.1 L551.1,382.3 L549.5,377.7 L547.8,373.2 L546.0,368.8 L544.0,364.6 L541.9,360.4 L539.6,356.5 L537.2,352.8 L534.5,349.2 L531.8,345.8 L529.0,342.6 L526.0,339.2 L522.5,335.6 L518.9,331.9 L515.3,328.4 L511.7,325.2 L508.6,321.7 L505.9,318.3 L503.5,314.9 L501.4,311.5 L499.7,308.2 L498.4,305.0 L497.6,301.9 L497.2,298.8 L497.9,295.5 L498.8,292.2 L499.9,288.9 L501.1,285.7 L502.4,282.8 L503.6,280.0 L504.8,277.3 L505.8,274.8 L506.7,272.5 L507.2,270.2 L507.6,268.0 L507.7,265.7 L507.7,265.7 L507.6,268.0 L507.2,270.2 L506.7,272.5 L505.8,274.8 L504.8,277.3 L503.6,280.0 L502.4,282.8 L501.1,285.7 L499.9,288.9 L498.8,292.2 L497.9,295.5 L497.2,298.8 L497.6,301.9 L498.4,305.0 L499.7,308.2 L501.4,311.5 L503.5,314.9 L505.9,318.3 L508.6,321.7 L511.5,325.3 L514.3,329.3 L517.2,333.4 L520.1,337.5 L522.9,341.6 L525.2,345.4 L527.4,348.9 L529.5,352.5 L531.4,356.2 L533.2,360.0 L534.8,363.8 L536.4,367.8 L537.8,372.0 L539.2,376.2 L540.6,380.7 L541.9,385.2 L543.2,389.6 L544.1,393.8 L545.1,398.2 L546.2,402.4 L547.4,406.6 L548.8,410.8 L550.4,414.8 L552.1,418.9 L554.0,423.0 L556.1,427.1 L558.3,431.2 L560.7,435.5 L563.2,440.0 L566.2,444.7Z" fill="#ffb010" opacity="0.33"/>
<path d="M488.0,310.8 L489.2,306.9 L490.3,303.3 L491.2,299.8 L492.1,296.0 L492.4,291.9 L492.2,287.8 L491.4,283.6 L490.1,279.6 L488.5,275.7 L486.8,271.9 L485.2,268.1 L483.9,264.5 L483.0,260.9 L482.8,257.5 L483.2,254.2 L484.6,250.9 L486.8,247.8 L490.1,245.1 L494.3,243.5 L498.8,242.4 L503.4,241.6 L507.7,241.1 L511.7,240.4 L515.1,239.5 L517.9,238.1 L520.0,236.0 L521.6,233.1 L523.0,229.4 L524.4,224.9 L526.2,219.9 L526.2,219.9 L524.4,224.9 L523.0,229.4 L521.6,233.1 L520.0,236.0 L517.9,238.1 L515.1,239.5 L511.7,240.4 L507.7,241.1 L503.4,241.6 L498.8,242.4 L494.3,243.5 L490.1,245.1 L486.0,246.7 L482.4,249.2 L479.7,252.5 L477.8,256.5 L477.0,261.0 L477.1,265.7 L477.9,270.3 L479.1,274.7 L480.4,278.8 L481.7,282.5 L482.8,286.0 L483.7,289.2 L484.2,292.3 L484.5,295.6 L484.6,299.0 L484.7,302.7 L485.0,306.6 L485.6,310.7Z" fill="#ffd648" opacity="0.66"/>
<path d="M494.4,288.8 L496.0,285.6 L497.3,282.5 L498.3,279.2 L498.9,275.9 L499.0,272.5 L498.6,269.1 L497.7,265.7 L496.7,262.4 L495.5,259.0 L494.4,255.4 L493.6,251.5 L493.8,247.6 L495.0,244.0 L496.9,240.9 L499.6,238.3 L503.0,236.3 L506.8,235.1 L510.9,234.5 L515.0,234.3 L515.0,234.3 L510.9,234.5 L506.8,235.1 L503.0,236.3 L499.6,238.3 L496.9,240.9 L495.0,244.0 L493.8,247.6 L493.0,251.5 L492.5,255.5 L492.5,259.5 L492.7,263.2 L493.0,266.6 L493.3,269.8 L493.4,272.7 L493.4,275.5 L493.3,278.5 L493.1,281.6 L492.9,284.9 L492.9,288.5Z" fill="#ffb010" opacity="0.63"/>
<path d="M546.0,419.7 L545.8,415.3 L545.3,411.0 L544.5,406.7 L543.3,402.5 L541.9,398.3 L540.2,394.2 L538.1,389.9 L535.5,385.6 L532.8,381.6 L529.9,377.7 L526.9,374.1 L523.9,370.5 L520.9,367.1 L517.9,363.7 L515.0,360.3 L512.5,356.8 L510.8,352.9 L509.2,349.1 L507.8,345.1 L506.4,340.8 L505.0,336.5 L503.7,332.2 L502.6,327.9 L501.6,323.8 L500.7,319.7 L499.8,315.8 L499.8,315.8 L500.7,319.7 L501.6,323.8 L502.6,327.9 L503.7,332.2 L505.0,336.5 L506.4,340.8 L507.8,345.1 L509.2,349.1 L510.8,352.9 L512.5,356.8 L514.1,360.8 L515.4,365.1 L517.1,369.4 L518.9,373.7 L520.9,377.9 L522.9,382.1 L525.0,386.3 L527.1,390.5 L529.2,394.5 L531.1,398.4 L533.0,402.2 L534.9,405.9 L536.9,409.6 L538.9,413.2 L541.1,416.8 L543.4,420.5Z" fill="#ffc428" opacity="0.47"/>
<path d="M524.6,389.8 L522.7,385.5 L520.8,381.4 L518.9,377.3 L517.3,373.2 L515.8,369.1 L514.7,365.1 L513.7,361.0 L512.9,356.9 L512.1,352.8 L511.4,348.6 L510.4,344.4 L508.9,339.9 L507.0,335.5 L504.7,331.4 L502.1,327.5 L499.3,323.8 L496.5,320.3 L493.7,316.9 L491.2,313.5 L489.1,310.1 L487.6,306.6 L486.6,303.1 L486.3,299.5 L487.0,295.8 L488.2,292.1 L489.6,288.5 L491.0,285.1 L492.1,281.7 L492.9,278.4 L493.3,275.2 L493.2,271.9 L492.7,268.5 L492.1,265.1 L491.5,261.5 L491.1,257.9 L491.1,254.2 L491.8,250.6 L493.3,247.3 L495.5,244.4 L495.5,244.4 L493.3,247.3 L491.8,250.6 L491.1,254.2 L491.1,257.9 L491.5,261.5 L492.1,265.1 L492.7,268.5 L493.2,271.9 L493.3,275.2 L492.9,278.4 L492.1,281.7 L491.0,285.1 L489.6,288.5 L488.2,292.1 L487.0,295.8 L486.1,299.5 L485.8,303.2 L486.3,307.0 L487.5,310.8 L489.3,314.6 L491.5,318.4 L494.0,322.1 L496.5,325.8 L499.0,329.6 L501.2,333.4 L503.2,337.3 L504.8,341.4 L506.0,345.5 L506.8,349.5 L507.6,353.6 L508.4,357.8 L509.4,362.0 L510.7,366.3 L512.2,370.5 L514.0,374.6 L516.2,378.6 L518.5,382.6 L521.0,386.5 L523.5,390.4Z" fill="#ffd648" opacity="0.30"/>
<path d="M440.0,388.9 L441.1,384.0 L442.1,379.0 L443.0,373.9 L443.8,368.7 L444.6,364.1 L445.7,359.8 L446.7,355.3 L447.2,350.5 L447.4,345.5 L447.2,340.4 L446.8,335.3 L446.1,330.0 L445.3,324.7 L444.5,319.3 L443.6,313.8 L443.0,308.0 L442.6,302.1 L441.5,296.7 L440.7,291.8 L440.3,286.8 L440.3,281.7 L440.8,276.5 L441.7,271.2 L443.2,266.0 L445.7,261.0 L448.6,256.1 L452.0,251.5 L455.7,247.1 L459.7,243.0 L464.3,239.6 L468.9,236.6 L473.3,233.7 L477.6,230.9 L481.7,228.2 L485.6,225.5 L489.2,222.6 L492.6,219.6 L495.9,216.5 L499.1,213.2 L502.3,209.7 L502.3,209.7 L499.1,213.2 L495.9,216.5 L492.6,219.6 L489.2,222.6 L485.6,225.5 L481.7,228.2 L477.6,230.9 L473.3,233.7 L468.9,236.6 L464.3,239.6 L459.7,243.0 L455.7,247.1 L452.0,251.5 L448.6,256.1 L445.7,261.0 L443.2,266.0 L440.8,270.9 L438.9,276.1 L437.5,281.4 L436.7,286.7 L436.4,292.0 L436.4,297.3 L436.9,302.5 L436.6,308.3 L436.8,314.4 L437.2,320.2 L437.7,325.7 L438.2,331.0 L438.7,336.1 L439.1,340.9 L439.3,345.6 L439.3,350.1 L439.0,354.3 L438.5,358.5 L437.8,363.0 L437.7,368.2 L437.6,373.4 L437.6,378.6 L437.6,383.7 L437.8,388.7Z" fill="#ff9a00" opacity="0.38"/>
<path d="M509.6,321.5 L508.9,317.5 L508.3,313.6 L507.6,310.0 L506.8,306.5 L505.8,303.3 L504.6,300.2 L503.2,297.5 L502.1,294.5 L500.8,291.0 L499.4,287.7 L498.1,284.4 L497.2,281.2 L496.6,278.3 L496.5,275.5 L496.9,273.0 L497.9,270.7 L499.3,268.5 L501.1,266.6 L503.4,264.8 L505.5,262.9 L507.6,260.8 L509.5,258.5 L511.0,255.9 L512.1,252.9 L512.7,249.6 L513.1,246.0 L513.3,242.0 L513.8,237.9 L514.6,233.8 L516.0,230.0 L517.8,226.6 L520.3,224.2 L523.3,222.6 L526.9,221.9 L530.8,222.0 L534.8,222.9 L538.8,224.2 L542.8,225.6 L546.7,226.9 L550.5,227.7 L554.2,227.8 L557.8,227.0 L561.2,225.3 L564.5,222.9 L568.2,219.9 L572.1,216.7 L572.1,216.7 L568.2,219.9 L564.5,222.9 L561.2,225.3 L557.8,227.0 L554.2,227.8 L550.5,227.7 L546.7,226.9 L542.8,225.6 L538.8,224.2 L534.8,222.9 L530.8,222.0 L526.9,221.9 L523.3,222.6 L520.3,224.2 L517.8,226.6 L516.0,230.0 L514.6,233.8 L513.8,237.9 L513.0,242.0 L512.1,245.8 L511.2,249.3 L510.1,252.2 L508.7,254.6 L507.1,256.5 L505.2,258.2 L503.0,259.8 L500.7,261.3 L498.1,262.9 L495.5,265.2 L493.3,268.0 L491.7,271.3 L490.8,275.0 L490.8,278.8 L491.4,282.6 L492.6,286.3 L494.0,289.9 L495.5,293.3 L497.0,296.5 L498.3,299.8 L500.1,302.6 L501.6,305.1 L502.9,307.9 L504.1,311.0 L505.3,314.4 L506.6,318.1 L508.1,321.9Z" fill="#ffc428" opacity="0.45"/>
<path d="M525.4,420.4 L525.2,416.2 L524.6,412.0 L523.7,407.8 L522.3,403.7 L520.6,399.5 L518.4,395.4 L515.9,391.3 L513.1,387.3 L510.3,383.6 L507.4,379.9 L504.6,376.3 L502.0,372.8 L499.6,369.2 L497.5,365.6 L495.8,361.8 L494.4,357.9 L493.5,353.8 L492.9,349.4 L492.6,344.9 L492.6,340.1 L493.2,335.3 L493.8,330.5 L494.5,325.8 L495.1,321.2 L495.5,316.9 L495.7,312.8 L495.5,309.0 L494.9,305.5 L493.9,302.3 L492.4,299.1 L490.5,295.7 L488.3,292.1 L485.7,288.4 L485.7,288.4 L488.3,292.1 L490.5,295.7 L492.4,299.1 L493.9,302.3 L494.9,305.5 L495.5,309.0 L495.7,312.8 L495.5,316.9 L495.1,321.2 L494.5,325.8 L493.8,330.5 L493.2,335.3 L492.6,340.1 L491.8,344.8 L491.1,349.4 L490.8,354.0 L491.0,358.6 L491.7,363.1 L493.0,367.5 L494.7,371.8 L496.9,376.0 L499.3,380.0 L502.0,383.9 L504.7,387.7 L507.5,391.5 L510.2,395.2 L512.8,398.8 L515.0,402.5 L517.1,406.1 L519.0,409.6 L520.6,413.2 L522.2,416.9 L523.6,420.7Z" fill="#ffd648" opacity="0.34"/>
<path d="M554.6,356.6 L552.9,352.3 L550.9,348.1 L548.8,344.2 L546.4,340.5 L544.0,337.0 L541.3,333.4 L538.0,329.4 L534.5,325.3 L531.1,321.6 L527.8,318.2 L524.8,315.0 L522.1,312.1 L519.6,309.3 L517.5,306.8 L515.6,304.3 L513.9,302.1 L512.5,300.0 L511.2,298.0 L510.7,295.2 L511.1,292.2 L511.4,289.3 L511.6,286.5 L511.6,283.7 L511.4,281.1 L510.9,278.4 L510.2,275.8 L509.4,273.2 L508.5,270.6 L507.6,268.0 L506.9,265.3 L506.0,262.3 L505.7,259.1 L505.7,259.1 L506.0,262.3 L506.9,265.3 L507.6,268.0 L508.5,270.6 L509.4,273.2 L510.2,275.8 L510.9,278.4 L511.4,281.1 L511.6,283.7 L511.6,286.5 L511.4,289.3 L511.1,292.2 L510.7,295.2 L509.2,298.1 L509.2,301.0 L509.4,303.8 L510.0,306.9 L511.1,310.3 L512.6,313.9 L514.6,317.6 L517.1,321.3 L519.8,325.1 L522.9,328.8 L526.2,332.6 L529.7,336.6 L533.3,340.3 L536.3,343.5 L539.4,346.4 L542.4,349.3 L545.6,352.2 L548.8,355.2 L552.1,358.3Z" fill="#ffb010" opacity="0.37"/>
<path d="M468.1,446.6 L468.0,442.3 L468.2,438.3 L468.6,434.4 L469.3,430.5 L470.1,426.6 L471.0,422.6 L471.8,418.4 L472.5,414.1 L472.8,409.8 L473.0,405.5 L472.7,401.0 L471.7,396.6 L470.1,392.3 L468.1,388.3 L465.8,384.4 L463.4,380.5 L461.1,376.7 L458.9,372.8 L457.1,368.7 L455.8,364.4 L455.2,360.1 L455.4,355.8 L456.2,351.2 L457.3,346.2 L458.8,340.9 L460.6,335.6 L462.3,330.3 L463.7,325.0 L464.7,319.9 L465.1,315.0 L464.8,310.2 L463.9,305.5 L462.5,300.9 L460.2,296.5 L457.6,292.0 L455.1,287.3 L453.0,282.5 L451.6,277.5 L451.1,272.5 L451.8,267.5 L453.6,262.8 L453.6,262.8 L451.8,267.5 L451.1,272.5 L451.6,277.5 L453.0,282.5 L455.1,287.3 L457.6,292.0 L460.2,296.5 L462.5,300.9 L463.9,305.5 L464.8,310.2 L465.1,315.0 L464.7,319.9 L463.7,325.0 L462.3,330.3 L460.6,335.6 L458.8,340.9 L456.9,346.1 L455.0,350.9 L453.5,355.4 L452.6,360.0 L452.6,364.9 L453.5,369.8 L454.9,374.5 L456.8,378.9 L458.8,383.1 L460.9,387.1 L462.8,391.0 L464.3,394.7 L465.5,398.3 L466.2,401.9 L466.4,405.5 L466.3,409.5 L466.1,413.5 L465.7,417.6 L465.2,421.6 L464.7,425.8 L464.4,430.0 L464.3,434.2 L464.6,438.4 L465.3,442.6 L466.4,446.8Z" fill="#ffc428" opacity="0.54"/>
<path d="M483.4,292.0 L483.1,288.1 L482.9,284.3 L482.7,280.5 L482.8,276.8 L483.2,273.2 L483.9,269.8 L485.0,266.5 L486.4,263.5 L488.1,260.6 L490.1,258.0 L492.4,255.4 L494.8,252.9 L497.4,250.5 L500.0,248.1 L502.4,245.5 L504.7,242.9 L506.8,240.1 L508.7,237.1 L510.6,234.1 L512.4,230.9 L514.3,227.5 L516.2,224.0 L518.4,220.7 L521.1,217.5 L524.1,214.6 L527.5,212.1 L531.2,210.3 L535.1,209.2 L539.3,208.7 L543.5,209.0 L543.5,209.0 L539.3,208.7 L535.1,209.2 L531.2,210.3 L527.5,212.1 L524.1,214.6 L521.1,217.5 L518.4,220.7 L516.2,224.0 L514.3,227.5 L512.4,230.9 L510.6,234.1 L508.7,237.1 L506.3,239.7 L503.9,242.1 L501.3,244.3 L498.6,246.5 L495.8,248.6 L492.9,250.8 L490.1,253.1 L487.5,255.7 L485.1,258.5 L483.1,261.7 L481.4,265.2 L480.3,268.9 L479.8,272.8 L479.6,276.7 L479.9,280.7 L480.5,284.6 L481.4,288.4 L482.4,292.2Z" fill="#ffd648" opacity="0.69"/>
<path d="M527.1,507.6 L526.0,501.2 L524.7,495.0 L523.4,488.9 L522.1,482.9 L520.8,477.2 L519.6,471.5 L518.5,466.1 L517.5,460.8 L516.6,455.6 L516.0,450.6 L515.4,445.9 L515.0,441.4 L514.8,437.0 L514.7,432.7 L514.6,428.5 L514.6,424.4 L514.5,420.2 L514.3,415.9 L514.0,411.6 L513.5,407.3 L512.7,402.9 L511.6,398.5 L510.2,394.1 L508.4,389.8 L506.4,385.7 L504.1,381.8 L501.5,378.0 L498.7,374.3 L495.7,370.8 L492.7,367.4 L490.0,363.6 L487.4,359.8 L484.9,355.9 L482.6,352.1 L480.5,348.2 L478.6,344.3 L476.9,340.2 L475.5,336.0 L474.5,331.6 L473.8,327.1 L473.5,322.5 L473.7,317.9 L474.3,313.2 L475.2,308.6 L476.5,304.2 L478.1,300.0 L479.9,296.0 L481.6,292.1 L483.3,288.3 L484.9,284.6 L484.9,284.6 L483.3,288.3 L481.6,292.1 L479.9,296.0 L478.1,300.0 L476.5,304.2 L475.2,308.6 L474.3,313.2 L473.7,317.9 L473.5,322.5 L473.8,327.1 L474.5,331.6 L475.5,336.0 L476.9,340.2 L478.6,344.3 L480.5,348.2 L482.6,352.1 L484.9,355.9 L487.4,359.8 L490.0,363.6 L492.7,367.4 L494.8,371.4 L496.8,375.5 L498.6,379.6 L500.3,383.6 L501.6,387.7 L502.7,391.8 L503.5,395.9 L504.1,400.0 L504.4,404.0 L504.4,408.0 L504.3,411.9 L504.1,415.9 L503.8,419.9 L503.5,424.1 L503.3,428.4 L503.1,432.8 L503.2,437.4 L503.4,442.2 L503.9,447.2 L504.7,452.4 L505.7,457.7 L507.0,463.1 L508.6,468.5 L510.4,474.0 L512.3,479.6 L514.5,485.3 L516.7,491.0 L519.1,496.7 L521.6,502.5 L524.1,508.5Z" fill="#ffe680" opacity="0.51"/>
<path d="M510.3,251.8 L512.3,249.6 L514.3,247.4 L516.4,245.4 L518.6,243.5 L520.7,241.6 L522.9,239.9 L524.9,238.2 L527.0,236.8 L529.3,235.3 L531.7,233.6 L534.3,231.8 L537.1,229.9 L540.0,227.9 L543.1,225.8 L546.2,223.7 L549.6,221.7 L553.2,220.0 L556.9,218.3 L560.5,216.9 L564.3,215.7 L568.1,214.9 L572.2,214.4 L576.3,214.3 L580.5,214.6 L584.7,215.3 L588.9,216.3 L588.9,216.3 L584.7,215.3 L580.5,214.6 L576.3,214.3 L572.2,214.4 L568.1,214.9 L564.3,215.7 L560.5,216.9 L556.9,218.3 L553.2,220.0 L549.6,221.7 L546.0,223.3 L542.5,224.8 L539.1,226.3 L535.9,227.8 L532.9,229.3 L530.0,230.7 L527.4,232.1 L524.9,233.4 L522.5,234.9 L520.2,236.7 L518.1,238.6 L515.9,240.8 L514.0,243.1 L512.1,245.7 L510.6,248.4 L509.4,251.2Z" fill="#ffb010" opacity="0.44"/>
<path d="M515.9,383.1 L515.5,378.5 L514.8,373.9 L513.7,369.4 L512.4,365.1 L510.8,360.8 L509.0,356.7 L507.1,352.8 L505.2,349.0 L503.2,345.2 L501.0,341.4 L498.9,337.6 L496.9,333.8 L494.9,330.1 L493.2,326.3 L491.6,322.4 L490.2,318.5 L489.0,314.6 L487.9,310.6 L487.3,306.7 L487.3,303.0 L487.4,299.4 L487.5,295.8 L487.5,292.1 L487.3,288.4 L486.8,284.8 L486.2,281.1 L485.5,277.4 L484.8,273.6 L484.3,269.8 L483.9,266.1 L484.0,262.3 L484.0,262.3 L483.9,266.1 L484.3,269.8 L484.8,273.6 L485.5,277.4 L486.2,281.1 L486.8,284.8 L487.3,288.4 L487.5,292.1 L487.5,295.8 L487.4,299.4 L487.3,303.0 L487.3,306.7 L486.9,310.6 L486.2,314.8 L485.9,319.1 L485.9,323.6 L486.3,328.1 L487.0,332.7 L488.1,337.3 L489.5,341.7 L491.2,346.1 L493.0,350.3 L494.9,354.3 L497.0,358.2 L499.1,361.9 L501.3,365.6 L503.5,369.2 L505.8,372.8 L508.1,376.5 L510.4,380.2 L512.9,384.1Z" fill="#ffd648" opacity="0.35"/>
<path d="M483.8,329.1 L483.9,324.6 L483.8,320.1 L483.5,315.7 L483.0,311.4 L482.4,307.1 L481.8,303.0 L481.1,298.9 L480.2,294.8 L479.3,290.8 L478.4,286.8 L477.6,282.9 L477.0,279.0 L476.6,275.2 L476.5,271.5 L476.7,267.9 L477.3,264.3 L478.3,260.9 L479.7,257.5 L481.6,254.4 L483.9,251.4 L486.7,248.6 L489.7,245.9 L493.0,243.4 L496.4,240.9 L499.8,238.6 L503.1,236.4 L506.4,234.7 L509.5,232.9 L512.4,230.9 L515.1,228.7 L517.6,226.4 L520.0,223.8 L522.6,220.9 L525.3,217.8 L528.3,214.6 L531.5,211.5 L534.9,208.4 L538.6,205.6 L542.5,203.1 L546.5,201.1 L550.6,199.7 L554.8,198.9 L559.1,198.8 L559.1,198.8 L554.8,198.9 L550.6,199.7 L546.5,201.1 L542.5,203.1 L538.6,205.6 L534.9,208.4 L531.5,211.5 L528.3,214.6 L525.3,217.8 L522.6,220.9 L520.0,223.8 L517.6,226.4 L515.1,228.7 L512.4,230.9 L509.5,232.9 L506.4,234.7 L503.1,236.4 L499.4,237.8 L495.4,239.1 L491.5,240.6 L487.5,242.3 L483.6,244.4 L479.8,246.9 L476.3,249.9 L473.2,253.4 L470.7,257.3 L468.7,261.6 L467.3,266.2 L466.5,270.8 L466.3,275.5 L466.5,280.2 L467.1,284.7 L468.0,289.1 L469.1,293.3 L470.3,297.4 L471.6,301.3 L472.8,305.2 L474.1,309.1 L475.4,313.1 L476.8,317.1 L478.2,321.1 L479.5,325.3 L481.0,329.5Z" fill="#ffc428" opacity="0.34"/>
<path d="M542.4,238.3 L545.6,238.2 L548.9,237.9 L552.3,237.4 L555.8,236.7 L559.4,235.8 L563.0,234.7 L566.3,233.3 L569.6,231.8 L573.1,230.3 L576.8,228.7 L580.6,227.1 L584.6,225.7 L588.6,224.4 L592.7,223.4 L596.7,222.7 L600.8,222.3 L604.8,222.2 L608.7,222.4 L612.3,223.4 L616.1,224.7 L619.8,226.4 L623.6,228.1 L627.3,229.8 L631.0,231.4 L634.6,232.7 L638.0,233.6 L641.4,234.0 L644.6,233.9 L647.5,233.2 L650.0,231.9 L650.0,231.9 L647.5,233.2 L644.6,233.9 L641.4,234.0 L638.0,233.6 L634.6,232.7 L631.0,231.4 L627.3,229.8 L623.6,228.1 L619.8,226.4 L616.1,224.7 L612.3,223.4 L608.7,222.4 L604.9,221.1 L600.9,220.1 L596.6,219.6 L592.2,219.5 L587.7,219.8 L583.3,220.4 L578.8,221.4 L574.6,222.6 L570.6,223.9 L566.8,225.4 L563.4,226.9 L560.4,228.3 L557.3,229.7 L554.1,231.0 L550.9,232.3 L547.8,233.6 L544.7,235.0 L541.8,236.5Z" fill="#ff8400" opacity="0.31"/>
<path d="M564.7,480.2 L563.1,474.1 L561.0,468.1 L558.5,462.4 L555.8,456.9 L552.9,451.6 L549.9,446.6 L547.2,441.9 L545.2,437.5 L543.5,433.4 L542.3,429.4 L541.6,425.7 L541.3,421.9 L541.4,418.0 L541.8,413.9 L542.4,409.5 L542.9,404.9 L543.2,400.1 L543.1,395.2 L542.2,390.0 L540.2,385.1 L537.4,380.5 L533.9,376.5 L529.9,372.8 L525.5,369.6 L520.9,366.6 L516.4,363.7 L512.1,360.9 L508.2,357.9 L505.0,354.6 L503.0,350.8 L501.9,346.7 L501.4,342.2 L501.6,337.5 L502.4,332.6 L503.6,327.7 L504.8,322.8 L506.0,318.2 L506.8,314.0 L506.9,310.3 L506.2,306.9 L504.6,304.0 L502.1,301.4 L498.8,298.7 L495.3,295.6 L491.3,292.1 L487.4,288.4 L483.9,284.6 L481.1,280.6 L481.1,280.6 L483.9,284.6 L487.4,288.4 L491.3,292.1 L495.3,295.6 L498.8,298.7 L502.1,301.4 L504.6,304.0 L506.2,306.9 L506.9,310.3 L506.8,314.0 L506.0,318.2 L504.8,322.8 L503.6,327.7 L502.4,332.6 L501.6,337.5 L501.4,342.2 L501.9,346.7 L503.0,350.8 L505.0,354.6 L507.7,358.4 L511.0,362.1 L514.8,365.8 L518.9,369.3 L522.9,372.8 L526.6,376.4 L529.7,380.1 L532.2,383.9 L534.0,387.8 L535.0,391.7 L535.2,395.6 L535.0,399.6 L534.4,403.8 L533.6,408.1 L532.7,412.6 L532.1,417.3 L532.0,422.1 L532.3,427.0 L533.4,431.8 L535.1,436.6 L537.4,441.3 L540.1,446.1 L543.4,450.8 L546.8,455.5 L550.3,460.2 L553.6,465.1 L556.7,470.2 L559.7,475.5 L562.3,481.1Z" fill="#ffc428" opacity="0.38"/>
<path d="M543.4,209.0 L547.6,209.5 L551.7,209.9 L555.7,210.5 L559.6,211.0 L563.6,211.6 L567.6,212.3 L571.8,212.9 L576.0,213.6 L580.3,214.1 L584.6,214.6 L589.0,214.9 L593.4,215.0 L597.7,215.0 L602.0,214.7 L606.1,214.2 L610.2,213.6 L614.2,213.0 L618.4,213.0 L622.8,213.1 L627.1,213.3 L631.3,213.7 L635.4,214.2 L639.3,214.9 L642.9,215.7 L646.1,216.8 L648.8,217.9 L651.1,219.2 L652.9,220.6 L652.9,220.6 L651.1,219.2 L648.8,217.9 L646.1,216.8 L642.9,215.7 L639.3,214.9 L635.4,214.2 L631.3,213.7 L627.1,213.3 L622.8,213.1 L618.4,213.0 L614.2,213.0 L610.1,212.5 L606.1,212.0 L602.1,211.3 L598.0,210.6 L593.9,209.8 L589.8,208.9 L585.6,208.0 L581.4,207.1 L577.2,206.2 L572.9,205.4 L568.6,204.8 L564.3,204.4 L560.0,204.4 L555.8,204.6 L551.6,205.0 L547.4,205.8 L543.3,207.0Z" fill="#ffe680" opacity="0.68"/>
<path d="M484.2,324.2 L482.7,320.1 L481.3,316.0 L479.9,311.9 L478.7,307.9 L477.8,303.9 L477.1,299.9 L476.7,296.0 L476.5,292.0 L476.6,288.1 L476.9,284.2 L477.6,280.4 L478.5,276.6 L479.7,273.0 L481.2,269.5 L482.9,266.2 L484.9,263.0 L486.9,260.1 L489.1,257.3 L491.3,254.6 L493.6,251.9 L495.9,249.2 L498.1,246.5 L500.3,243.6 L502.4,240.7 L504.5,237.8 L506.5,234.7 L508.4,231.5 L510.5,228.3 L512.7,225.2 L515.0,222.0 L517.6,219.0 L520.4,216.0 L523.6,213.3 L527.0,210.9 L530.7,208.8 L534.6,207.1 L538.7,205.8 L542.8,205.0 L547.0,204.7 L551.3,204.9 L555.5,205.4 L559.7,206.4 L563.9,207.7 L568.1,209.4 L572.3,211.2 L576.4,213.2 L576.4,213.2 L572.3,211.2 L568.1,209.4 L563.9,207.7 L559.7,206.4 L555.5,205.4 L551.3,204.9 L547.0,204.7 L542.8,205.0 L538.7,205.8 L534.6,207.1 L530.7,208.8 L527.0,210.9 L523.6,213.3 L520.4,216.0 L517.6,219.0 L515.0,222.0 L512.7,225.2 L510.5,228.3 L508.3,231.4 L506.0,234.4 L503.8,237.2 L501.5,240.0 L499.2,242.7 L496.8,245.3 L494.4,247.9 L491.9,250.4 L489.5,253.0 L487.0,255.6 L484.7,258.3 L482.4,261.4 L480.2,264.6 L478.3,268.1 L476.7,271.8 L475.3,275.7 L474.3,279.7 L473.6,283.8 L473.3,287.9 L473.3,292.1 L473.7,296.2 L474.3,300.4 L475.2,304.5 L476.5,308.6 L478.0,312.6 L479.6,316.6 L481.4,320.6 L483.3,324.6Z" fill="#ffc428" opacity="0.67"/>
<path d="M490.2,592.3 L489.6,584.6 L489.3,576.5 L489.2,568.1 L489.2,559.5 L489.4,551.1 L489.5,543.0 L489.4,535.4 L489.1,528.6 L488.7,522.1 L487.8,515.8 L486.4,509.7 L484.7,503.7 L482.8,497.9 L480.9,492.2 L479.1,486.5 L477.7,481.0 L476.9,475.4 L476.6,469.9 L476.9,464.3 L477.8,458.8 L478.8,453.5 L480.1,448.4 L481.4,443.5 L482.4,438.9 L482.9,434.5 L482.7,430.4 L481.9,426.6 L480.2,423.0 L477.9,419.6 L475.2,416.3 L472.3,413.0 L469.5,409.7 L467.4,406.2 L465.9,402.5 L465.1,398.5 L465.2,394.1 L466.1,389.4 L467.6,384.4 L469.5,379.2 L471.5,373.9 L473.2,368.7" fill="none" stroke="#fff0a0" stroke-width="1.5" stroke-linecap="round" opacity="0.53"/>
<path d="M490.6,288.6 L491.0,285.1 L491.5,281.6 L492.0,278.3 L492.5,275.0 L492.9,271.8 L493.3,268.7 L493.6,265.6 L494.1,262.5 L494.7,259.6 L495.4,256.5 L496.5,253.5 L498.1,250.5 L500.0,247.8 L502.3,245.3 L504.8,242.9 L507.3,240.7 L509.9,238.5 L512.4,236.3 L514.8,234.0 L517.0,231.5 L519.2,229.0 L521.5,226.5 L524.0,224.1 L526.9,221.9 L530.1,220.1 L533.6,218.8 L537.3,218.0 L541.2,217.6 L545.1,217.7 L549.0,217.9 L553.0,218.1 L556.8,218.1 L560.6,217.8 L564.3,217.1 L568.2,216.2 L572.2,215.0" fill="none" stroke="#ffcc30" stroke-width="1.9" stroke-linecap="round" opacity="0.69"/>
<path d="M486.7,237.8 L489.2,234.5 L491.9,231.3 L494.8,228.2 L497.8,225.3 L500.9,222.5 L504.3,220.1 L507.8,217.9 L511.4,216.0 L515.2,214.4 L519.1,213.1 L523.2,212.2 L527.2,211.5 L531.4,211.0 L535.5,210.7 L539.6,210.4 L543.7,210.2 L547.8,209.9 L551.9,209.6 L555.9,209.1 L559.9,208.6 L563.9,207.9 L568.1,207.3 L572.4,206.6 L576.8,206.1 L581.3,205.6 L585.7,205.3 L590.2,205.2 L594.6,205.4" fill="none" stroke="#ffd848" stroke-width="1.4" stroke-linecap="round" opacity="0.66"/>
<path d="M499.3,614.1 L499.7,609.7 L500.2,604.1 L500.7,597.6 L501.3,590.3 L501.9,582.3 L502.5,574.0 L503.0,565.5 L503.4,556.9 L503.4,548.4 L503.2,540.4 L502.7,532.8 L501.8,526.0 L500.6,519.7 L499.0,513.5 L497.0,507.5 L494.8,501.6 L492.4,495.8" fill="none" stroke="#fff6c8" stroke-width="0.9" stroke-linecap="round" opacity="0.47"/>
<path d="M475.6,276.0 L475.5,271.9 L475.6,267.8 L476.0,263.8 L476.9,259.9 L478.4,256.2 L480.4,252.8 L483.0,249.8 L486.2,247.1 L489.7,244.8 L493.4,242.9 L497.3,241.2 L501.1,239.6 L504.7,238.1 L508.0,236.4 L510.9,234.5" fill="none" stroke="#ffcc30" stroke-width="2.1" stroke-linecap="round" opacity="0.77"/>
<path d="M555.1,452.4 L553.5,447.2 L552.5,442.0 L552.3,436.9 L552.1,432.1 L551.7,427.5 L550.7,423.1 L548.9,419.1 L546.3,415.4 L542.9,411.9 L539.3,408.5 L535.8,405.1 L533.0,401.4 L531.3,397.5 L530.6,393.0 L530.7,388.2 L531.4,383.2 L532.1,378.2 L532.3,373.4 L531.3,369.0 L528.8,365.1 L525.0,361.8 L520.0,358.9 L514.6,356.1 L509.5,353.3 L505.5,350.1" fill="none" stroke="#fff0a0" stroke-width="1.7" stroke-linecap="round" opacity="0.65"/>
<path d="M543.5,549.3 L541.6,541.2 L539.9,533.3 L538.8,525.8 L538.2,518.8 L537.8,512.1 L537.4,505.6 L536.8,499.2 L535.8,492.9 L534.1,486.9 L531.8,481.2 L529.0,475.7 L526.0,470.4 L523.0,465.2 L520.5,460.1 L518.7,455.0 L517.8,449.8 L517.8,444.7 L518.6,439.7 L519.8,434.7 L520.8,430.0" fill="none" stroke="#fff0a0" stroke-width="1.2" stroke-linecap="round" opacity="0.90"/>
<path d="M553.2,594.3 L551.6,588.2 L549.7,581.3 L547.6,573.9 L545.3,566.1 L542.9,558.0 L540.6,549.9 L538.5,541.8 L536.6,533.9 L535.0,526.5 L533.8,519.6 L533.0,513.1 L532.5,506.6 L532.2,500.1 L532.1,493.7 L532.0,487.4 L531.9,481.2" fill="none" stroke="#ffd848" stroke-width="1.8" stroke-linecap="round" opacity="0.88"/>
<path d="M455.3,522.5 L455.8,516.1 L456.1,509.8 L456.3,503.5 L456.4,497.5 L456.4,491.5 L456.2,485.7 L456.0,480.0 L455.6,474.5 L455.2,469.2 L454.8,464.0 L454.0,459.1 L453.3,454.4 L452.8,450.0 L452.6,445.7 L452.5,441.6 L452.7,437.6 L453.0,433.6 L453.5,429.6 L454.2,425.6 L454.8,421.6 L455.4,417.5 L456.0,413.3 L456.8,409.2 L457.3,405.0 L457.6,400.8 L457.5,396.5 L457.0,392.3 L456.2,388.0 L455.2,383.7 L453.9,379.4 L452.5,375.0 L451.1,370.5" fill="none" stroke="#ffd848" stroke-width="1.6" stroke-linecap="round" opacity="0.44"/>
<path d="M509.2,292.2 L509.5,289.2 L509.9,286.3 L510.5,283.6 L511.3,281.0 L512.0,278.6 L512.6,276.4 L513.1,274.3 L513.3,272.3 L513.3,270.3 L513.1,268.3 L512.3,265.7 L511.6,262.7 L511.0,259.4 L510.7,255.9 L510.8,252.3 L511.3,248.8 L512.3,245.6 L513.7,242.6 L515.6,240.1 L517.9,238.2 L520.5,236.7 L523.2,235.8 L526.2,235.7 L529.2,235.8 L532.3,235.9 L535.4,236.0 L538.5,235.8 L541.6,235.2 L544.6,234.1 L547.7,232.4" fill="none" stroke="#ffe070" stroke-width="1.8" stroke-linecap="round" opacity="0.56"/>
<path d="M454.4,246.6 L457.4,242.0 L461.1,237.9 L464.6,233.9 L467.9,230.0 L471.1,226.1 L474.3,222.1 L477.5,218.1 L480.8,214.3 L484.5,210.7 L488.4,207.5 L492.9,204.9 L497.7,202.9 L502.8,201.6 L508.1,200.7 L513.5,200.5 L518.7,200.7 L523.8,201.1 L528.6,201.5 L533.3,201.6 L537.7,201.1 L541.9,200.2 L546.1,198.6 L550.2,196.7 L554.4,194.5 L558.6,192.4 L563.3,190.8 L568.1,189.8 L572.9,189.8 L577.7,190.8 L582.3,192.8 L586.7,195.6 L590.9,199.0 L594.9,202.7 L598.8,206.3" fill="none" stroke="#ffd848" stroke-width="1.4" stroke-linecap="round" opacity="0.53"/>
<path d="M480.5,431.0 L479.9,427.1 L479.6,423.2 L479.5,419.2 L479.7,415.2 L480.2,410.9 L480.7,406.6 L481.6,402.1 L482.3,397.7 L482.8,393.1 L482.9,388.7 L482.5,384.3 L481.6,380.0 L480.2,375.9 L478.2,371.8 L475.9,367.9 L473.3,363.9 L470.7,360.0" fill="none" stroke="#fff0a0" stroke-width="0.9" stroke-linecap="round" opacity="0.42"/>
<path d="M514.2,497.5 L512.2,491.6 L510.6,485.8 L509.5,479.9 L509.1,474.1 L509.4,468.2 L510.2,462.4 L511.4,456.6 L512.4,451.0 L512.8,445.8 L512.3,441.1 L510.8,436.8 L508.2,432.9 L504.8,429.4 L501.0,426.1 L497.3,422.9 L494.3,419.6" fill="none" stroke="#ffe070" stroke-width="1.8" stroke-linecap="round" opacity="0.85"/>
<path d="M546.1,460.1 L544.7,454.7 L543.5,449.4 L542.4,444.3 L541.6,439.3 L540.7,434.7 L539.7,430.2 L538.4,426.0 L536.9,421.9 L535.1,418.0 L533.1,414.3 L531.0,410.5 L528.8,406.8 L526.7,403.1 L524.8,399.2 L523.1,395.1 L521.6,390.8 L520.4,386.4 L519.5,382.0 L518.8,377.6 L518.2,373.1 L517.6,368.7 L516.8,364.4 L515.6,360.2 L514.1,356.3 L512.1,352.5 L509.7,348.9 L506.9,345.3 L503.7,341.6 L500.4,337.8 L497.2,334.1 L494.4,330.4 L492.2,326.5" fill="none" stroke="#ffd848" stroke-width="1.5" stroke-linecap="round" opacity="0.82"/>
<path d="M531.2,487.5 L530.1,481.6 L529.2,475.6 L528.4,469.8 L527.7,464.2 L527.1,458.6 L526.4,453.2 L525.8,448.0 L525.1,443.1 L524.4,438.4 L523.4,433.9 L522.2,429.7 L520.8,425.7 L519.1,421.8 L517.3,418.1 L515.2,414.4 L513.0,410.8 L510.7,407.2 L508.4,403.5 L506.1,399.7 L504.0,395.8 L502.0,391.8 L500.4,387.8 L499.1,383.7 L498.1,379.4 L497.5,375.0 L497.2,370.5 L497.2,365.9 L497.5,361.3 L497.8,356.7 L498.2,352.2" fill="none" stroke="#ffe070" stroke-width="1.5" stroke-linecap="round" opacity="0.47"/>
<path d="M504.2,525.5 L503.2,519.2 L502.2,512.8 L501.3,506.6 L500.4,500.4 L499.6,494.3 L499.1,488.2 L498.8,482.3 L498.8,476.3 L498.9,470.5 L499.2,464.8 L499.7,459.2 L500.1,453.8 L500.4,448.6 L500.5,443.8 L500.4,439.2 L500.1,434.8" fill="none" stroke="#ffcc30" stroke-width="1.3" stroke-linecap="round" opacity="0.54"/>
<path d="M613.3,511.2 L609.8,504.5 L606.2,498.3 L603.0,492.1 L600.2,485.9 L598.0,479.8 L596.1,473.7 L594.4,467.7 L592.8,461.8 L591.1,456.1 L589.0,450.6 L586.3,445.4 L583.0,440.6 L579.2,436.0 L575.3,431.7 L571.2,427.8 L567.0,424.0 L563.1,420.3 L559.8,416.6 L557.3,412.8 L555.7,408.8 L555.1,404.6 L555.1,400.2" fill="none" stroke="#ffd848" stroke-width="1.5" stroke-linecap="round" opacity="0.81"/>
<path d="M458.0,515.6 L458.1,509.3 L458.3,503.1 L458.9,496.9 L459.8,490.8 L461.0,484.6 L462.6,478.6 L464.4,472.6 L466.4,466.7 L468.4,460.9 L470.0,455.5 L471.3,450.4 L472.2,445.6 L472.7,441.1 L472.5,436.9 L471.8,433.0 L470.5,429.4" fill="none" stroke="#ffcc30" stroke-width="1.6" stroke-linecap="round" opacity="0.47"/>
<path d="M569.9,600.9 L568.5,596.9 L566.8,591.8 L564.8,585.7 L562.6,578.9 L560.3,571.5 L558.0,563.7 L555.8,555.6 L553.8,547.4 L552.0,539.2 L550.6,531.2 L549.3,523.7 L548.4,516.7 L547.4,510.2 L546.3,503.7 L545.1,497.4 L543.6,491.3" fill="none" stroke="#ffe070" stroke-width="1.0" stroke-linecap="round" opacity="0.58"/>
<path d="M514.1,281.4 L513.1,278.8 L512.3,276.3 L511.8,273.9 L511.5,271.6 L511.6,269.6 L512.0,267.8 L512.3,265.7 L513.1,263.6 L514.4,261.7 L516.0,259.9 L517.9,258.2 L519.8,256.6 L521.8,255.1 L523.7,253.5 L525.3,251.8 L526.8,249.9 L528.0,247.7 L528.9,245.2 L529.8,242.6" fill="none" stroke="#fff0a0" stroke-width="1.0" stroke-linecap="round" opacity="0.53"/>
<path d="M538.9,590.5 L537.2,583.6 L535.6,576.1 L534.0,568.2 L532.7,559.9 L531.6,551.5 L530.8,543.2 L530.2,535.2 L529.8,527.5 L529.4,520.5 L529.1,513.9 L528.4,507.4 L527.4,501.1 L526.1,495.0 L524.3,489.0 L522.1,483.3 L519.7,477.7 L517.1,472.3 L514.6,467.1 L512.3,461.9 L510.3,456.8 L508.9,451.8 L508.0,446.9 L507.7,442.1 L508.0,437.4 L508.7,432.8" fill="none" stroke="#ffe070" stroke-width="0.9" stroke-linecap="round" opacity="0.82"/>
<path d="M458.3,278.2 L458.8,273.6 L459.5,269.0 L460.5,264.4 L462.0,259.9 L463.9,255.5 L466.4,251.4 L469.3,247.6 L472.8,244.2 L476.3,241.1 L479.9,238.1 L483.2,235.1 L486.3,232.0 L489.2,228.8 L491.9,225.3 L494.6,221.8 L497.5,218.4" fill="none" stroke="#ffd848" stroke-width="2.1" stroke-linecap="round" opacity="0.81"/>
<path d="M508.6,451.9 L507.6,447.0 L506.4,442.4 L505.1,438.1 L503.6,434.0 L502.0,430.1 L500.4,426.3 L498.7,422.6 L497.2,418.9 L495.8,415.2 L494.5,411.4 L493.5,407.4 L492.8,403.3 L492.3,399.1 L492.1,394.8 L492.1,390.3 L492.2,385.8 L492.3,381.2 L492.3,376.6 L492.1,372.1 L491.7,367.7 L491.0,363.3 L489.9,359.1 L488.4,354.9 L486.6,350.9 L484.5,347.1 L482.1,343.2 L479.5,339.4 L476.8,335.6 L474.3,331.7 L472.1,327.6 L470.2,323.4 L469.0,318.9 L468.4,314.3 L468.4,309.7 L469.2,305.0 L470.7,300.4 L472.5,296.2 L474.6,292.1 L476.7,288.1 L478.8,284.2" fill="none" stroke="#ffd848" stroke-width="1.1" stroke-linecap="round" opacity="0.76"/>
<path d="M546.5,443.4 L544.4,438.7 L542.3,434.3 L540.1,430.1 L537.9,426.1 L535.8,422.2 L533.9,418.3 L532.1,414.5 L530.7,410.6 L529.5,406.7 L528.5,402.6 L527.8,398.4 L527.3,393.9 L526.7,389.4 L526.1,384.8 L525.5,380.2 L524.7,375.7 L523.6,371.4 L522.3,367.2 L520.6,363.2" fill="none" stroke="#ffd848" stroke-width="1.0" stroke-linecap="round" opacity="0.89"/>
<path d="M540.8,215.9 L544.5,214.6 L548.3,213.3 L552.2,212.2 L556.1,211.1 L560.0,210.4 L564.0,210.1 L568.1,210.2 L572.3,210.8 L576.5,211.7 L580.7,212.9 L584.8,214.1 L589.0,215.1 L593.2,215.9 L597.4,216.3 L601.6,216.3 L605.7,215.9 L609.8,215.2 L613.9,214.6 L618.2,214.1 L622.5,214.1 L626.8,214.7 L630.8,215.9 L634.6,217.6 L638.0,219.8 L641.1,222.2 L644.0,224.5" fill="none" stroke="#ffcc30" stroke-width="1.5" stroke-linecap="round" opacity="0.61"/>
<path d="M505.5,486.9 L503.9,481.1 L502.5,475.5 L501.2,470.0 L500.1,464.6 L499.3,459.3 L498.8,454.1 L498.5,449.1 L498.4,444.2 L498.5,439.6 L498.6,435.1 L498.7,430.8 L498.6,426.7 L498.1,422.7 L497.4,418.8 L496.2,415.0 L494.7,411.3 L492.8,407.6 L490.7,403.9 L488.6,400.1 L486.6,396.4 L484.8,392.5 L483.2,388.6 L482.1,384.4 L481.4,380.1 L481.2,375.5 L481.3,370.9 L481.8,366.1 L482.3,361.3 L482.9,356.5 L483.2,351.9 L483.2,347.4 L482.7,343.1 L481.5,338.8 L479.7,334.7 L477.5,330.8 L474.9,326.8 L472.1,322.9 L469.5,318.8 L467.2,314.6 L465.5,310.1 L464.6,305.5" fill="none" stroke="#fff6c8" stroke-width="1.5" stroke-linecap="round" opacity="0.45"/>
<path d="M453.1,277.7 L454.0,272.9 L455.0,268.1 L456.0,263.3 L457.1,258.5 L458.4,253.6 L459.9,248.8 L461.7,244.0 L464.4,239.7 L467.3,235.6 L470.6,231.9 L474.3,228.4 L478.3,225.4 L482.5,222.7 L486.9,220.4 L491.4,218.3 L496.0,216.6 L500.4,214.9 L504.8,213.4 L509.0,211.9 L512.9,210.0 L516.9,208.1 L520.8,206.1 L524.8,204.0 L528.8,201.9 L532.9,199.9 L537.1,198.2 L541.3,196.9 L545.7,196.0" fill="none" stroke="#ffcc30" stroke-width="0.8" stroke-linecap="round" opacity="0.74"/>
<path d="M584.6,457.5 L581.9,452.2 L579.1,447.0 L576.3,442.1 L573.5,437.3 L571.5,432.6 L569.7,428.1 L568.2,423.7 L566.9,419.4 L565.9,415.2 L565.0,411.0 L563.9,406.8 L562.7,402.7 L561.1,398.7 L559.1,394.7 L556.8,390.7 L554.3,386.6 L551.1,382.4 L548.0,378.3 L545.2,374.2 L542.8,370.1 L540.8,366.0 L539.2,361.9 L537.9,357.8 L536.7,353.7 L535.3,349.8 L533.7,346.2 L531.7,342.7 L529.1,339.1 L525.7,335.3 L522.0,331.4 L518.4,327.8 L515.0,324.2 L512.2,320.7 L510.0,317.1 L508.5,313.6 L507.6,310.1 L507.2,306.7" fill="none" stroke="#ffd848" stroke-width="1.9" stroke-linecap="round" opacity="0.53"/>
<path d="M450.8,380.3 L450.3,375.7 L449.7,370.9 L449.3,366.0 L449.1,361.4 L449.6,357.0 L450.3,352.6 L451.2,347.9 L452.1,342.9 L453.2,337.8 L454.3,332.5 L455.5,327.1 L456.5,321.8 L457.5,316.5 L458.3,311.2 L458.8,306.1 L459.1,301.1 L458.5,296.5 L457.7,292.0" fill="none" stroke="#ffcc30" stroke-width="1.3" stroke-linecap="round" opacity="0.83"/>
<path d="M481.2,474.4 L481.2,468.8 L481.3,463.3 L481.3,458.0 L480.9,453.0 L480.5,448.3 L480.0,443.8 L479.4,439.6 L478.6,435.5 L477.7,431.6 L476.6,427.9 L475.5,424.2 L474.2,420.6 L472.9,416.9 L471.6,413.2 L470.3,409.4 L469.5,405.6 L468.8,401.6 L468.3,397.5 L467.9,393.3 L467.7,388.9 L467.7,384.4 L467.9,379.7 L468.2,374.9 L468.5,370.1 L468.8,365.3 L469.1,360.4 L469.3,355.7 L469.5,351.3 L469.4,347.0 L468.9,342.6 L468.1,338.2 L466.9,333.8 L465.4,329.4 L463.7,325.0 L462.0,320.5 L460.4,315.9 L458.9,311.2 L457.7,306.2" fill="none" stroke="#ffd848" stroke-width="1.3" stroke-linecap="round" opacity="0.82"/>
<path d="M503.7,250.6 L505.2,247.7 L507.0,244.9 L509.0,242.3 L511.2,239.9 L513.6,237.7 L516.2,235.8 L518.8,234.2 L521.4,232.8 L524.2,231.7 L527.0,230.8 L530.0,229.9 L533.1,228.9 L536.2,227.9 L539.5,226.7 L542.8,225.4 L546.2,224.0 L549.7,222.4 L553.3,220.8 L556.9,219.0 L560.6,217.3 L564.3,215.7 L568.1,214.3 L572.2,213.2 L576.4,212.5 L580.7,212.1 L585.0,212.1 L589.3,212.6 L593.5,213.4 L597.6,214.6 L601.6,216.1 L605.4,217.8 L609.1,219.6 L612.7,221.4 L616.3,223.3 L620.1,225.1 L623.9,226.7 L627.7,228.1 L631.6,229.1" fill="none" stroke="#ffe070" stroke-width="1.2" stroke-linecap="round" opacity="0.85"/>
<path d="M513.0,225.6 L515.8,223.3 L518.9,221.6 L522.3,220.3 L526.0,219.5 L529.8,219.2 L533.7,219.2 L537.7,219.5 L541.6,219.9 L545.6,220.3 L549.4,220.5 L553.2,220.3 L557.0,219.7 L560.7,218.6 L564.3,217.1 L568.1,215.2 L572.2,213.0 L576.5,210.7 L581.0,208.5 L585.6,206.5 L590.2,205.0" fill="none" stroke="#fff0a0" stroke-width="1.7" stroke-linecap="round" opacity="0.49"/>
<path d="M499.5,270.4 L499.6,267.6 L499.9,264.9 L500.4,262.3 L501.0,259.5 L502.0,256.8 L503.5,254.2 L505.3,251.8 L507.3,249.4 L509.4,247.2 L511.5,244.9 L513.6,242.5 L515.4,239.9 L517.2,237.2 L518.9,234.4 L520.7,231.5 L522.7,229.0 L525.2,226.7 L528.0,224.8 L531.2,223.4 L534.7,222.6 L538.4,222.4 L542.2,222.4 L546.0,222.6 L549.8,222.7 L553.5,222.4 L557.2,221.7 L560.8,220.4 L564.4,218.8 L568.2,217.0 L572.2,215.4 L576.4,214.1 L580.6,213.4" fill="none" stroke="#fff6c8" stroke-width="1.2" stroke-linecap="round" opacity="0.45"/>
<path d="M526.5,476.2 L525.3,470.5 L524.3,464.9 L523.3,459.5 L522.3,454.2 L521.4,449.0 L520.5,444.1 L519.6,439.4 L518.7,435.0 L517.7,430.7 L516.7,426.6 L515.5,422.7 L514.2,418.8 L512.8,415.0 L511.4,411.2 L509.8,407.4 L508.2,403.5 L506.6,399.6 L504.9,395.5 L503.3,391.5 L501.8,387.4 L500.4,383.2 L499.1,379.1 L498.0,374.8 L497.1,370.5 L496.3,366.2 L495.6,361.9 L495.1,357.5 L494.5,353.2 L494.0,348.9" fill="none" stroke="#fff0a0" stroke-width="0.8" stroke-linecap="round" opacity="0.50"/>
<path d="M528.5,240.0 L530.3,238.3 L532.6,236.6 L535.1,235.2 L538.0,234.0 L541.0,233.0 L544.2,232.2 L547.6,231.7 L551.1,231.2 L554.6,230.9 L558.1,230.5 L561.6,230.1 L564.8,229.5 L568.2,228.9 L571.8,228.1 L575.6,227.2 L579.6,226.2 L583.7,225.1 L588.0,224.0 L592.3,223.0 L596.6,222.0 L600.8,221.3 L605.0,220.9 L608.9,220.7 L612.8,220.8 L616.7,221.3 L620.7,222.4 L624.6,223.7 L628.4,225.3 L632.1,227.0 L635.6,228.8 L638.9,230.3 L642.1,231.6 L644.9,232.5 L647.6,232.9 L649.8,232.7" fill="none" stroke="#ffe070" stroke-width="1.6" stroke-linecap="round" opacity="0.78"/>
<path d="M519.9,363.4 L517.6,359.6 L515.5,355.9 L513.8,352.0 L512.5,348.1 L511.5,344.0 L510.5,339.6 L509.5,335.1 L508.4,330.8 L507.1,326.6 L505.5,322.6 L503.6,318.9 L501.2,315.4 L498.5,312.2 L495.7,309.0 L493.0,305.8 L490.6,302.7 L488.7,299.4 L488.1,295.8 L488.1,292.1 L489.0,288.5 L490.4,285.0 L492.4,281.7 L494.4,278.6 L496.4,275.8 L497.9,273.0 L498.8,270.3 L499.1,267.4 L498.7,264.4 L497.9,261.1 L496.8,257.3 L496.0,253.2 L495.9,249.0" fill="none" stroke="#ffcc30" stroke-width="1.7" stroke-linecap="round" opacity="0.45"/>
<path d="M477.6,385.8 L476.6,381.6 L475.5,377.3 L474.5,373.0 L473.6,368.6 L472.7,364.1 L472.0,359.6 L471.5,355.1 L471.4,350.8 L471.3,346.4 L471.2,341.9 L471.1,337.3 L471.1,332.6 L471.0,327.9 L471.0,323.2 L470.8,318.5 L470.7,313.9 L470.4,309.4 L470.1,304.9 L469.8,300.5" fill="none" stroke="#fff6c8" stroke-width="1.9" stroke-linecap="round" opacity="0.67"/>
<path d="M471.4,374.0 L470.6,369.5 L469.6,365.0 L468.4,360.6 L467.1,356.4 L466.0,352.3 L464.7,348.4 L463.5,344.2 L462.3,339.9 L461.3,335.4 L460.5,330.8 L460.2,325.9 L460.3,320.9 L460.7,315.8 L461.6,310.7 L462.8,305.7 L464.3,300.8 L465.3,296.4 L466.2,292.0 L466.9,287.7 L467.2,283.5 L467.3,279.1 L467.1,274.8 L466.7,270.3 L466.3,265.7 L466.0,261.0 L466.1,256.3 L466.8,251.5 L468.0,247.0 L470.3,242.9 L473.2,239.2 L476.8,236.0 L480.8,233.4 L485.3,231.2 L489.9,229.4 L494.5,227.9 L499.0,226.6 L503.2,225.2 L507.0,223.7 L510.4,221.8 L513.6,219.6" fill="none" stroke="#ffe070" stroke-width="2.0" stroke-linecap="round" opacity="0.80"/>
<path d="M464.0,501.9 L464.0,495.8 L463.8,489.9 L463.5,484.1 L463.1,478.4 L462.7,473.0 L462.1,467.6 L461.7,462.4 L460.8,457.6 L460.0,452.9 L459.5,448.5 L459.2,444.2 L459.1,440.1 L459.2,436.0 L459.4,432.0 L459.8,428.1 L460.2,424.1 L460.5,420.1 L460.7,416.1 L460.6,412.1 L460.7,408.0 L460.6,404.1 L460.1,400.0 L459.2,396.0 L458.2,391.9 L457.0,387.8 L455.7,383.5 L454.4,379.2 L453.3,374.7 L452.5,370.1 L451.9,365.3 L451.8,360.6 L452.4,356.2 L453.2,351.8 L454.1,347.0 L455.1,342.1 L456.0,337.0 L456.7,331.8" fill="none" stroke="#fff6c8" stroke-width="1.9" stroke-linecap="round" opacity="0.86"/>
<path d="M607.7,528.6 L605.2,520.7 L603.0,513.2 L601.1,506.2 L599.0,499.7 L597.1,493.3 L595.3,487.0 L593.5,480.7 L591.7,474.6 L589.9,468.6 L587.9,462.8 L585.8,457.2 L583.4,451.8 L580.9,446.6 L578.0,441.7 L575.0,437.0 L572.4,432.4 L569.6,428.1 L566.8,424.0 L564.1,420.1 L561.4,416.2 L559.0,412.4 L556.8,408.5 L554.9,404.6 L553.4,400.6 L552.2,396.5 L551.3,392.2 L550.6,387.6 L549.7,382.9 L548.8,378.1 L548.0,373.4 L547.1,368.8 L546.0,364.4 L544.7,360.2 L543.0,356.2 L541.0,352.4 L538.6,348.9 L535.8,345.6 L532.6,342.4 L529.0,339.2 L524.8,335.6" fill="none" stroke="#ffe070" stroke-width="1.5" stroke-linecap="round" opacity="0.46"/>
<path d="M503.8,458.3 L503.2,453.1 L502.6,448.1 L502.1,443.4 L501.6,438.9 L501.2,434.5 L500.8,430.3 L500.3,426.3 L499.7,422.3 L498.9,418.4 L497.9,414.6 L496.8,410.8 L495.4,406.9 L493.9,403.0 L492.4,399.1 L490.9,395.1 L489.3,391.2 L487.8,387.2 L486.4,383.1 L485.1,378.9 L484.1,374.6 L483.3,370.3 L482.7,365.8 L482.3,361.3 L482.1,356.7 L482.1,352.2 L482.1,347.7 L482.0,343.3 L481.7,338.8 L481.2,334.3 L480.4,329.9 L479.4,325.6 L478.1,321.3" fill="none" stroke="#fff0a0" stroke-width="0.9" stroke-linecap="round" opacity="0.62"/>
<path d="M455.8,397.0 L456.2,392.5 L456.7,387.8 L457.0,383.1 L457.3,378.3 L457.4,373.5 L457.4,368.6 L457.1,363.8 L456.6,359.3 L456.3,355.1 L455.6,351.1 L454.6,346.9 L453.3,342.6 L451.9,338.2 L450.4,333.6 L449.1,328.8 L447.9,323.8 L447.1,318.5 L446.8,313.0 L447.1,307.4 L448.1,301.8 L449.0,296.8 L450.5,292.0 L452.5,287.2 L454.9,282.6 L457.6,278.1 L460.4,273.8 L463.2,269.6 L466.0,265.6 L468.5,261.7 L470.7,257.8 L472.6,253.9" fill="none" stroke="#ffe070" stroke-width="1.6" stroke-linecap="round" opacity="0.53"/>
<path d="M523.4,222.6 L526.4,220.6 L529.6,218.4 L532.8,216.1 L536.3,213.9 L539.9,211.8 L543.7,210.1 L547.7,208.9 L551.7,208.3 L555.8,208.3 L559.9,209.0 L564.0,210.3 L568.1,212.1 L572.2,214.1 L576.2,216.1 L580.3,217.8 L584.3,219.1 L588.5,219.6 L592.7,219.4 L597.1,218.4 L601.5,216.8 L605.9,214.7 L610.3,212.4 L614.7,210.3 L619.3,208.8 L623.9,208.2" fill="none" stroke="#fff0a0" stroke-width="1.3" stroke-linecap="round" opacity="0.74"/>
<path d="M485.9,212.3 L490.6,210.1 L495.3,208.2 L500.2,206.7 L505.2,205.5 L509.9,204.2 L514.7,203.1 L519.3,202.1 L523.7,200.9 L528.1,199.7 L532.4,198.2 L536.8,196.8 L541.1,195.3 L545.4,194.1 L549.8,193.3 L554.2,192.9 L558.7,193.1 L563.4,194.0 L568.1,195.5 L572.7,197.6 L577.2,199.9 L581.5,202.2" fill="none" stroke="#ffd848" stroke-width="1.6" stroke-linecap="round" opacity="0.61"/>
<path d="M441.6,383.2 L441.4,378.3 L441.1,373.4 L440.8,368.4 L440.7,363.7 L441.2,359.4 L441.7,355.2 L442.3,350.6 L443.0,345.7 L443.8,340.5 L444.7,335.1 L445.6,329.6 L446.7,324.0 L447.9,318.4 L449.0,312.7 L450.2,307.0 L451.4,301.6 L451.7,296.7 L451.7,292.0 L451.6,287.2 L451.5,282.4 L451.4,277.5" fill="none" stroke="#fff6c8" stroke-width="1.5" stroke-linecap="round" opacity="0.78"/>
<path d="M508.0,225.0 L511.2,223.0 L514.5,221.2 L517.9,219.7 L521.5,218.4 L525.1,217.3 L528.8,216.3 L532.6,215.4 L536.5,214.6 L540.3,213.8 L544.2,213.0 L548.2,212.2 L552.1,211.4 L556.0,210.5 L560.0,209.7 L564.0,209.0 L568.1,208.4 L572.4,207.9 L576.7,207.7 L581.1,207.7 L585.5,208.0 L589.8,208.5 L594.1,209.2 L598.2,210.1 L602.3,211.2 L606.2,212.4 L610.0,213.7 L613.8,215.1 L617.7,216.6 L621.7,218.1 L625.6,219.5 L629.5,220.9 L633.4,222.0 L637.2,222.9 L640.8,223.6 L644.1,223.9 L647.2,224.1 L649.9,223.9 L652.1,223.5" fill="none" stroke="#ffcc30" stroke-width="1.8" stroke-linecap="round" opacity="0.79"/>
<path d="M490.7,437.0 L489.9,432.9 L488.8,429.0 L487.2,425.3 L485.4,421.8 L483.6,418.2 L482.0,414.6 L480.7,410.8 L480.0,406.8 L480.1,402.5 L480.7,398.1 L481.5,393.5 L482.2,388.9 L482.5,384.3 L482.3,379.8 L481.2,375.5 L479.4,371.5 L477.0,367.5 L474.2,363.7 L471.4,359.8 L469.1,355.8 L467.7,351.8 L467.2,347.6 L467.6,343.0 L468.7,338.0 L470.2,332.8 L471.8,327.7 L473.1,322.6 L473.5,317.9 L473.0,313.4 L471.4,309.2 L469.1,305.0 L466.4,300.7 L463.5,296.4 L461.2,292.0 L460.2,287.5 L460.6,283.0 L462.5,278.6 L465.7,274.6 L469.8,270.9" fill="none" stroke="#fff6c8" stroke-width="1.0" stroke-linecap="round" opacity="0.80"/>
<path d="M515.6,240.2 L517.9,238.1 L520.2,236.2 L522.4,234.5 L524.8,233.0 L527.3,231.5 L530.0,229.9 L532.8,228.2 L535.8,226.4 L538.9,224.6 L542.3,222.9 L545.7,221.4 L549.4,220.1 L553.1,219.2 L556.9,218.6 L560.7,218.5 L564.4,218.6 L568.2,219.0 L572.0,219.5 L576.0,220.1 L580.0,220.5 L584.2,220.7 L588.4,220.6 L592.6,220.2 L596.9,219.5 L601.2,218.8 L605.4,218.1 L609.4,217.5 L613.4,217.3 L617.5,217.6 L621.6,218.4 L625.6,219.8 L629.4,221.5" fill="none" stroke="#ffd848" stroke-width="1.4" stroke-linecap="round" opacity="0.68"/>
<path d="M495.8,431.5 L495.2,427.5 L494.6,423.6 L493.8,419.7 L492.9,415.9 L491.9,412.0 L490.8,408.1 L489.5,404.2 L488.3,400.2 L487.1,396.3 L485.8,392.2 L484.5,388.2 L483.3,384.0 L482.2,379.8 L481.2,375.5 L480.4,371.2 L479.7,366.7 L479.1,362.2 L478.7,357.7 L478.4,353.2 L478.2,348.9 L477.9,344.5 L477.4,340.0 L476.8,335.6 L476.0,331.2 L475.1,326.8 L474.0,322.4 L472.9,318.0 L471.7,313.7 L470.5,309.3 L469.5,304.9 L468.7,300.6 L467.9,296.3 L467.4,292.0 L467.2,287.7 L467.3,283.5 L467.9,279.2 L468.9,275.0 L470.2,270.9 L471.9,267.0 L473.9,263.2 L476.1,259.7 L478.5,256.3" fill="none" stroke="#fff6c8" stroke-width="2.1" stroke-linecap="round" opacity="0.45"/>
<path d="M483.1,235.1 L486.7,232.4 L490.1,229.6 L493.3,226.7 L496.2,223.5 L498.9,220.1 L501.6,216.5 L504.4,212.9 L507.6,209.6 L511.2,206.7 L515.3,204.6 L519.8,203.5 L524.6,203.4 L529.4,204.3 L534.3,205.8 L539.1,207.7 L543.6,209.5 L548.0,210.9 L552.1,211.5 L556.1,211.0 L560.0,209.5 L563.9,207.0 L568.1,204.0 L572.6,200.8" fill="none" stroke="#fff0a0" stroke-width="1.1" stroke-linecap="round" opacity="0.77"/>
<path d="M443.4,428.4 L442.8,424.7 L442.3,420.9 L442.0,417.1 L442.4,413.2 L443.1,409.2 L443.8,405.0 L444.5,400.5 L445.3,395.9 L445.9,391.2 L446.3,386.5 L446.5,381.7 L446.3,376.9 L445.8,372.1 L444.9,367.3 L444.0,362.8 L443.4,358.8 L442.7,354.9 L442.0,350.7 L441.4,346.1 L441.1,341.3 L441.2,336.1 L441.7,330.6 L442.7,324.9 L444.2,319.1 L446.0,313.2 L448.1,307.2 L450.2,301.7 L451.4,296.7 L452.1,292.0 L452.5,287.2 L452.5,282.5 L452.1,277.6 L451.6,272.6 L451.0,267.4 L450.7,262.1 L450.9,256.8 L451.8,251.4" fill="none" stroke="#fff0a0" stroke-width="0.9" stroke-linecap="round" opacity="0.45"/>
<path d="M491.7,302.5 L490.4,299.2 L489.9,295.7 L489.7,292.1 L489.8,288.5 L490.2,285.0 L491.0,281.6 L492.1,278.3 L493.5,275.2 L495.0,272.3 L496.6,269.6 L498.2,267.1 L499.7,264.8 L501.1,262.6 L502.0,260.1 L502.9,257.4 L503.7,254.4 L504.5,251.2 L505.2,247.7 L506.0,244.1 L507.0,240.3 L508.1,236.5 L509.5,232.9 L511.3,229.4 L513.5,226.3 L516.0,223.7 L519.0,221.7 L522.4,220.4 L526.1,219.7 L529.9,219.5 L533.9,219.9 L538.0,220.6 L542.0,221.6 L546.0,222.6 L549.9,223.6 L553.7,224.3 L557.5,224.6 L561.1,224.5 L564.6,223.8 L568.2,222.7" fill="none" stroke="#ffd848" stroke-width="2.0" stroke-linecap="round" opacity="0.89"/>
<path d="M520.1,509.2 L519.5,502.8 L519.0,496.5 L518.8,490.2 L518.5,484.0 L518.2,478.0 L517.7,472.2 L516.9,466.5 L515.8,461.1 L514.2,456.0 L512.3,451.1 L510.0,446.5 L507.6,442.2 L505.2,438.1 L503.1,434.1 L501.3,430.2 L500.1,426.3 L499.5,422.4 L499.5,418.3 L500.0,414.1 L501.0,409.7 L502.1,405.1 L503.2,400.5" fill="none" stroke="#fff0a0" stroke-width="2.2" stroke-linecap="round" opacity="0.86"/>
<path d="M628.5,566.8 L625.8,559.4 L622.9,551.6 L619.9,543.6 L616.6,535.5 L613.1,527.6 L609.6,519.9 L606.1,512.6 L602.7,505.9 L599.2,499.7 L595.9,493.5 L593.0,487.4 L590.3,481.4 L588.0,475.4 L585.9,469.5 L584.0,463.7 L582.1,458.0 L580.1,452.6 L577.9,447.3 L575.4,442.3 L572.5,437.5 L569.8,433.0 L566.8,428.8" fill="none" stroke="#ffe070" stroke-width="2.0" stroke-linecap="round" opacity="0.63"/>
<path d="M555.3,203.3 L559.4,202.7 L563.7,202.2 L568.1,201.7 L572.6,201.3 L577.1,201.1 L581.6,201.0 L586.1,201.1 L590.6,201.5 L595.0,202.2 L599.2,203.1 L603.3,204.4 L607.2,205.9 L611.0,207.7 L614.8,209.7 L618.6,212.1 L622.4,214.5 L626.2,217.0 L629.9,219.4 L633.5,221.6 L637.0,223.5 L640.4,224.9 L643.6,225.9 L646.6,226.4 L649.2,226.4 L651.5,225.8" fill="none" stroke="#fff6c8" stroke-width="0.7" stroke-linecap="round" opacity="0.58"/>
<path d="M446.4,249.6 L448.1,244.0 L450.3,238.6 L453.7,233.9 L457.6,229.7 L462.0,226.0 L466.9,222.8 L472.0,220.2 L477.3,218.0 L482.5,216.0 L487.5,214.0 L492.2,212.0 L496.5,209.7 L500.5,207.1 L504.4,204.2 L508.1,200.8 L512.1,197.4 L516.3,194.4 L520.8,192.0 L525.5,190.5 L530.4,190.1 L535.5,190.7 L540.5,192.2 L545.5,194.4 L550.3,196.8 L554.9,199.2 L559.3,201.0 L563.7,202.1 L568.1,202.3" fill="none" stroke="#fff0a0" stroke-width="2.1" stroke-linecap="round" opacity="0.60"/>
<path d="M454.1,480.4 L454.3,474.8 L454.7,469.3 L455.5,463.8 L456.3,458.6 L457.5,453.5 L459.0,448.6 L460.6,443.9 L462.1,439.4 L463.1,435.1 L463.5,431.1 L463.1,427.3 L462.1,423.6 L460.4,420.2 L458.5,416.7 L456.5,413.2 L455.4,409.6" fill="none" stroke="#fff6c8" stroke-width="1.7" stroke-linecap="round" opacity="0.45"/>
<path d="M477.2,284.1 L477.4,280.2 L477.4,276.2 L477.5,272.3 L477.7,268.3 L478.1,264.4 L478.7,260.5 L479.8,256.8 L481.2,253.2 L483.2,249.9 L485.6,246.8 L488.4,244.0 L491.6,241.4 L494.9,239.2 L498.3,237.1 L501.7,235.0 L504.9,233.0 L507.9,230.9 L510.7,228.6 L513.4,226.1" fill="none" stroke="#ffd848" stroke-width="1.8" stroke-linecap="round" opacity="0.51"/>
<path d="M467.7,360.8 L467.7,356.2 L467.6,351.9 L467.2,347.6 L466.4,343.4 L465.2,339.1 L463.7,334.7 L462.2,330.3 L460.9,325.8 L459.9,321.0 L459.5,316.1 L459.8,311.0 L460.8,305.9 L462.6,300.9 L464.4,296.4 L466.3,292.0 L468.1,287.8 L469.5,283.6 L470.4,279.5 L470.6,275.3" fill="none" stroke="#ffcc30" stroke-width="2.2" stroke-linecap="round" opacity="0.45"/>
<path d="M455.9,359.5 L456.5,355.0 L456.5,350.8 L455.9,346.5 L454.7,342.2 L453.3,337.7 L452.1,333.1 L451.5,328.2 L451.7,322.9 L453.0,317.4 L455.1,311.7 L457.8,306.2 L460.5,301.1 L462.0,296.4 L462.4,292.0 L461.7,287.6 L460.0,283.0 L457.9,278.2" fill="none" stroke="#ffd848" stroke-width="1.2" stroke-linecap="round" opacity="0.44"/>
<path d="M584.8,598.1 L583.8,594.0 L582.3,588.9 L580.3,582.9 L577.8,576.1 L574.9,568.8 L571.6,561.2 L568.0,553.3 L564.2,545.4 L560.5,537.6 L557.1,530.0 L554.0,522.8 L551.5,516.1 L549.5,509.8 L548.1,503.4 L547.3,497.0 L547.1,490.5 L547.3,484.1 L547.9,477.7" fill="none" stroke="#ffcc30" stroke-width="2.2" stroke-linecap="round" opacity="0.45"/>
<path d="M570.8,544.2 L569.2,535.9 L567.8,527.9 L566.4,520.4 L565.0,513.4 L563.4,506.9 L561.6,500.6 L559.6,494.4 L557.3,488.4 L554.8,482.5 L552.1,476.8 L549.1,471.3 L546.1,465.9 L543.0,460.8 L540.0,455.7 L537.1,450.8 L534.4,446.1 L532.3,441.4 L530.6,437.0 L529.3,432.6 L528.5,428.3 L528.1,424.0 L528.1,419.7 L528.3,415.4" fill="none" stroke="#ffd848" stroke-width="0.8" stroke-linecap="round" opacity="0.50"/>
<path d="M563.5,197.5 L568.1,197.2 L572.7,197.3 L577.3,197.7 L581.8,198.5 L586.3,199.7 L590.6,201.2 L594.9,203.1 L598.9,205.2 L602.9,207.5 L606.7,209.7 L610.4,211.8 L614.1,213.7 L618.0,215.4 L622.0,216.7 L626.1,217.5 L630.3,217.9 L634.5,217.9 L638.6,217.5 L642.6,216.8 L646.3,216.0" fill="none" stroke="#fff0a0" stroke-width="1.2" stroke-linecap="round" opacity="0.84"/>
<path d="M508.2,596.2 L507.1,589.2 L506.1,581.6 L505.3,573.5 L504.8,565.1 L504.6,556.6 L504.6,548.2 L504.5,540.1 L504.3,532.5 L503.7,525.6 L502.8,519.3 L501.3,513.0 L499.5,506.9 L497.7,501.0 L496.0,495.1 L494.9,489.1 L494.5,483.2 L494.7,477.2 L495.5,471.3 L496.7,465.4 L497.7,459.7 L498.3,454.2 L498.0,449.2" fill="none" stroke="#ffcc30" stroke-width="0.9" stroke-linecap="round" opacity="0.78"/>
<path d="M568.2,222.8 L572.0,221.7 L576.0,220.8 L580.1,220.2 L584.2,219.9 L588.4,220.1 L592.5,220.8 L596.6,221.8 L600.6,223.0 L604.4,224.3 L608.2,225.5 L611.8,226.4 L615.6,227.0 L619.6,227.1 L623.9,226.8 L628.2,226.1 L632.6,225.0 L636.9,223.8 L641.0,222.6 L644.7,221.7 L648.0,221.2 L650.6,221.3 L652.5,222.0" fill="none" stroke="#ffe070" stroke-width="0.9" stroke-linecap="round" opacity="0.45"/>
<path d="M550.0,539.6 L548.4,531.7 L546.5,524.2 L544.6,517.5 L542.6,511.2 L540.3,505.0 L538.0,498.9 L535.7,492.9 L533.3,487.1 L531.1,481.3 L529.1,475.7 L527.4,470.1 L525.9,464.5 L524.8,459.1 L524.1,453.8 L523.6,448.5 L523.5,443.4 L523.6,438.5 L523.8,433.8 L524.0,429.3 L524.1,424.9 L523.9,420.7 L523.4,416.6 L522.5,412.6 L521.2,408.7 L519.3,405.0 L517.1,401.2 L514.4,397.4 L511.4,393.7 L508.2,390.0 L505.0,386.4 L501.9,382.8" fill="none" stroke="#ffcc30" stroke-width="1.6" stroke-linecap="round" opacity="0.43"/>
<path d="M522.2,209.8 L526.2,208.3 L530.3,207.2 L534.5,206.5 L538.8,206.3 L543.1,206.5 L547.4,207.0 L551.6,207.8 L555.8,208.6 L559.9,209.3 L564.0,209.9 L568.1,210.3 L572.3,210.3 L576.6,210.1 L580.9,209.4 L585.4,208.5 L589.9,207.5 L594.4,206.4 L598.9,205.4 L603.3,204.7 L607.4,204.5 L611.5,204.9 L615.5,206.0 L619.5,207.9 L623.4,210.4 L627.0,213.5 L630.5,216.9 L633.8,220.4 L637.0,223.7 L640.0,226.5" fill="none" stroke="#ffd848" stroke-width="2.0" stroke-linecap="round" opacity="0.78"/>
<path d="M554.1,436.5 L552.8,431.9 L551.6,427.5 L550.6,423.2 L549.5,419.0 L548.5,414.9 L547.4,410.8 L546.3,406.8 L545.0,402.7 L543.5,398.7 L541.9,394.7 L540.0,390.5 L537.6,386.3 L535.1,382.1 L532.4,378.1 L529.7,374.2 L527.0,370.3 L524.4,366.5 L522.0,362.8 L519.7,359.0 L517.7,355.2 L515.9,351.4 L514.5,347.6 L513.3,343.5 L511.9,339.2 L510.6,334.8 L509.4,330.5 L508.3,326.3 L507.1,322.2 L505.8,318.3 L504.5,314.6 L503.0,311.1 L501.4,307.9" fill="none" stroke="#ffd848" stroke-width="1.1" stroke-linecap="round" opacity="0.62"/>
<path d="M564.4,219.1 L568.2,219.1 L572.0,219.3 L576.0,219.9 L580.0,220.7 L584.1,221.6 L588.1,222.6 L592.2,223.6 L596.2,224.4 L600.3,225.0 L604.3,225.2 L608.2,225.1 L612.1,224.6 L616.2,223.8 L620.6,222.9 L625.0,221.9 L629.5,220.8 L634.0,219.8 L638.2,218.9 L642.2,218.3 L645.8,217.9 L648.8,217.9 L651.3,218.4 L653.2,219.2" fill="none" stroke="#fff6c8" stroke-width="0.7" stroke-linecap="round" opacity="0.73"/>
<path d="M548.2,410.6 L546.5,406.7 L544.6,402.8 L542.7,398.9 L540.7,395.0 L538.7,390.8 L536.4,386.6 L534.1,382.4 L531.9,378.3 L529.8,374.1 L527.9,370.1 L526.1,366.0 L524.5,362.0 L523.0,358.0 L521.6,354.0 L520.2,350.1 L518.8,346.3 L517.3,342.4 L515.3,338.3 L513.1,334.1 L510.7,330.1 L508.1,326.3 L505.4,322.7 L502.7,319.2 L500.0,315.8" fill="none" stroke="#ffe070" stroke-width="1.5" stroke-linecap="round" opacity="0.84"/>
<path d="M446.0,466.0 L446.1,460.9 L446.5,456.0 L447.0,451.3 L447.8,446.8 L448.7,442.5 L449.7,438.3 L450.8,434.1 L451.9,430.0 L452.9,425.9 L453.8,421.8 L454.5,417.7 L455.0,413.6 L455.7,409.5 L456.0,405.4 L455.9,401.3 L455.5,397.1 L454.8,393.0" fill="none" stroke="#ffcc30" stroke-width="1.3" stroke-linecap="round" opacity="0.47"/>
<path d="M524.5,489.0 L523.8,482.9 L523.3,476.9 L523.2,471.0 L523.1,465.2 L523.0,459.5 L522.8,454.0 L522.2,448.8 L521.2,443.9 L519.7,439.4 L517.6,435.2 L515.1,431.3 L512.2,427.7 L509.2,424.2 L506.3,420.7 L503.7,417.3 L501.7,413.7 L500.3,409.9 L499.8,405.8 L500.0,401.4 L500.9,396.7 L502.3,391.8" fill="none" stroke="#ffd848" stroke-width="1.2" stroke-linecap="round" opacity="0.78"/>
<path d="M456.2,401.2 L455.5,397.2 L455.1,392.9 L455.2,388.3 L455.8,383.5 L456.7,378.5 L457.6,373.4 L458.4,368.3 L458.6,363.4 L458.2,358.8 L457.5,354.8 L456.0,351.0 L454.0,347.1 L451.9,343.0 L450.2,338.6 L449.3,333.9 L449.4,328.7 L450.5,323.1 L452.6,317.4 L455.3,311.7 L458.1,306.2 L460.5,301.1 L461.4,296.5 L461.1,292.0 L459.6,287.5 L457.4,282.8 L455.0,277.9 L453.0,272.8 L452.2,267.6 L452.8,262.6 L455.3,258.0 L459.3,254.0 L464.4,250.6" fill="none" stroke="#ffcc30" stroke-width="0.8" stroke-linecap="round" opacity="0.52"/>
<path d="M512.6,402.4 L511.4,398.3 L509.9,394.1 L508.1,390.1 L506.1,386.1 L504.0,382.1 L502.0,378.2 L500.2,374.2 L498.6,370.1 L497.4,365.9 L496.5,361.6 L496.0,357.3 L495.7,352.9 L495.4,348.5 L494.9,344.1 L494.0,339.7 L492.7,335.5 L490.9,331.4 L488.6,327.5 L486.1,323.7 L483.4,320.0" fill="none" stroke="#ffe070" stroke-width="2.1" stroke-linecap="round" opacity="0.62"/>
<path d="M503.2,271.5 L503.4,268.9 L504.4,266.7 L506.2,265.0 L508.0,263.4 L510.1,261.8 L512.0,260.0 L513.3,257.8 L513.9,254.9 L513.8,251.1 L513.3,246.6 L512.8,241.6 L512.8,236.8 L513.8,232.7 L515.9,229.8 L518.9,228.6 L522.9,229.2 L527.1,231.1 L531.3,233.3" fill="none" stroke="#ffd848" stroke-width="1.1" stroke-linecap="round" opacity="0.57"/>
<path d="M517.7,242.6 L519.7,240.5 L521.9,238.8 L524.2,237.4 L526.7,236.7 L529.4,236.1 L532.1,235.5 L535.0,234.8 L538.0,233.9 L541.0,232.8 L544.1,231.4 L547.2,229.7 L550.5,227.6 L553.9,225.4 L557.4,223.1 L560.8,220.8 L564.4,218.7 L568.2,217.1 L572.1,216.1 L576.3,215.7 L580.4,216.0 L584.6,216.9 L588.6,218.4 L592.6,220.3 L596.5,222.5 L600.3,224.7 L604.1,226.7 L607.7,228.3 L611.3,229.4 L615.0,229.9 L619.1,229.8 L623.3,229.0 L627.8,227.8 L632.3,226.2 L636.8,224.3 L641.1,222.3 L645.0,220.6 L648.5,219.2 L651.3,218.3 L653.5,218.1" fill="none" stroke="#fff0a0" stroke-width="0.9" stroke-linecap="round" opacity="0.72"/>
<path d="M566.8,372.8 L563.0,368.8 L559.0,365.1 L555.0,361.5 L551.1,358.1 L547.4,354.8 L544.0,351.5 L541.0,348.1 L538.5,344.7 L536.5,341.3 L534.9,337.5 L533.0,333.2 L531.4,328.7 L529.9,324.3 L528.5,320.2 L526.9,316.4 L525.0,313.0 L522.8,309.9" fill="none" stroke="#ffcc30" stroke-width="1.4" stroke-linecap="round" opacity="0.43"/>
<path d="M483.2,426.3 L482.5,422.5 L481.9,418.6 L481.5,414.7 L481.1,410.7 L480.7,406.6 L480.7,402.4 L480.6,398.2 L480.4,393.9 L480.1,389.5 L479.7,385.2 L479.1,380.8 L478.3,376.4 L477.3,372.1 L476.1,367.8 L474.7,363.5 L473.2,359.3 L471.7,355.1 L470.3,351.1 L468.9,347.1 L467.4,343.0 L466.1,338.8 L465.0,334.4 L464.1,329.8 L463.5,325.1 L463.4,320.2 L463.5,315.3 L464.1,310.3 L465.1,305.4 L466.4,300.7 L467.5,296.3 L468.6,292.0 L469.7,287.8 L470.7,283.7 L471.5,279.6 L472.0,275.5 L472.4,271.3 L472.6,267.2 L472.8,262.9 L472.9,258.6 L473.2,254.1 L473.7,249.7 L474.8,245.3" fill="none" stroke="#ffd848" stroke-width="2.0" stroke-linecap="round" opacity="0.82"/>
<path d="M502.5,481.4 L501.3,475.8 L500.1,470.3 L499.0,464.9 L498.0,459.6 L497.2,454.4 L496.5,449.5 L495.9,444.8 L495.6,440.3 L495.4,435.9 L495.3,431.6 L495.3,427.5 L495.3,423.4 L495.2,419.3 L495.0,415.3 L494.6,411.3 L494.0,407.3 L493.1,403.2 L492.0,399.2 L490.7,395.2 L489.1,391.2 L487.3,387.3 L485.3,383.4 L483.3,379.5 L481.3,375.5 L479.4,371.5 L477.6,367.3 L476.2,363.1 L475.0,358.7 L474.2,354.4 L473.9,350.1 L473.9,345.7 L474.0,341.1 L474.3,336.4 L474.7,331.5" fill="none" stroke="#ffcc30" stroke-width="1.1" stroke-linecap="round" opacity="0.69"/>
<path d="M498.8,254.9 L500.1,252.0 L501.4,248.8 L502.5,245.5 L503.7,241.9 L504.9,238.3 L506.4,234.6 L508.1,231.2 L510.3,228.1 L512.9,225.5 L515.9,223.5 L519.4,222.4 L523.1,222.1 L527.0,222.3 L531.0,222.9 L535.0,223.6 L538.8,224.2 L542.6,224.4 L546.2,224.0 L549.8,222.8 L553.3,220.9 L556.9,218.3 L560.4,215.2 L564.1,212.0 L568.1,208.9 L572.4,206.4" fill="none" stroke="#fff0a0" stroke-width="0.9" stroke-linecap="round" opacity="0.69"/>
<path d="M573.4,417.9 L571.5,413.9 L569.4,409.9 L567.2,406.0 L564.7,402.2 L562.1,398.4 L559.3,394.6 L556.6,390.8 L553.9,386.7 L550.8,382.5 L547.9,378.3 L545.3,374.2 L543.1,370.0 L541.2,365.9 L539.7,361.7 L538.3,357.6 L537.1,353.6 L536.0,349.6 L534.8,345.8 L533.4,342.2 L531.7,338.4 L529.0,334.4 L525.9,330.3 L522.3,326.6" fill="none" stroke="#ffd848" stroke-width="1.0" stroke-linecap="round" opacity="0.75"/>
<path d="M514.6,213.3 L518.5,211.8 L522.4,210.3 L526.4,208.8 L530.3,207.2 L534.3,205.7 L538.3,204.3 L542.5,203.1 L546.7,202.4 L550.9,202.1 L555.2,202.2 L559.4,202.9 L563.8,203.9 L568.1,205.2 L572.4,206.6 L576.7,207.8 L581.0,208.7 L585.3,209.1 L589.7,209.1 L594.1,208.6 L598.6,207.9" fill="none" stroke="#ffd848" stroke-width="1.4" stroke-linecap="round" opacity="0.73"/>
<path d="M538.6,223.2 L542.1,222.1 L545.7,221.2 L549.4,220.4 L553.2,219.8 L557.0,219.4 L560.7,219.1 L564.4,219.0 L568.2,219.0 L572.1,219.1 L576.0,219.4 L580.1,219.6 L584.3,219.8 L588.4,220.0 L592.6,220.1 L596.8,220.1 L601.0,220.0 L605.1,219.8 L609.1,219.6 L613.1,219.2 L617.2,219.0 L621.5,219.0 L625.7,219.1 L629.9,219.4 L634.0,219.8 L637.8,220.5 L641.4,221.3 L644.6,222.2 L647.4,223.2 L649.8,224.3 L651.7,225.3" fill="none" stroke="#ffd848" stroke-width="1.1" stroke-linecap="round" opacity="0.44"/>
<path d="M550.8,229.2 L554.4,229.4 L558.0,229.6 L561.5,229.5 L564.8,228.9 L568.2,227.7 L571.8,225.9 L575.8,223.8 L580.0,221.5 L584.3,219.4 L588.7,218.0 L593.0,217.5 L597.1,218.1 L601.0,219.7 L604.8,222.2 L608.2,225.1 L611.5,227.8 L615.0,230.1 L618.7,231.5 L622.7,231.6 L627.1,230.5 L631.8,228.2 L636.5,225.3 L641.1,222.2 L645.3,219.6 L648.8,218.1 L651.4,217.9" fill="none" stroke="#fff0a0" stroke-width="2.0" stroke-linecap="round" opacity="0.50"/>
<path d="M465.4,483.7 L465.7,477.9 L465.7,472.3 L465.2,466.9 L464.4,461.8 L463.0,457.1 L461.8,452.5 L460.9,448.2 L460.6,443.9 L461.0,439.6 L461.9,435.4 L463.2,431.1 L464.6,426.9 L465.7,422.7 L466.1,418.7 L465.7,414.8 L464.4,411.0 L462.8,407.5 L460.8,404.0 L458.9,400.4 L457.3,396.6 L456.6,392.4 L456.9,387.8 L458.2,382.7 L460.1,377.4 L462.2,372.0" fill="none" stroke="#ffd848" stroke-width="1.6" stroke-linecap="round" opacity="0.69"/>
<path d="M452.7,347.5 L452.7,342.8 L452.5,338.0 L452.2,333.1 L451.9,328.0 L451.5,322.9 L451.2,317.7 L451.0,312.4 L451.0,306.9 L451.4,301.6 L451.3,296.7 L451.6,292.0 L452.1,287.2 L453.0,282.5 L454.2,277.8 L455.6,273.1 L457.3,268.6 L459.2,264.1 L461.2,259.7 L463.3,255.3 L465.4,251.0 L467.6,246.8 L470.1,242.8 L472.6,238.9 L475.2,235.0 L477.8,231.1 L480.6,227.3 L483.6,223.7 L486.9,220.3 L490.4,217.2 L494.2,214.5 L498.3,212.2" fill="none" stroke="#ffe070" stroke-width="2.0" stroke-linecap="round" opacity="0.76"/>
<path d="M557.9,603.2 L556.6,599.1 L554.8,594.0 L552.8,588.0 L550.5,581.2 L548.0,573.8 L545.4,566.0 L542.9,558.0 L540.5,549.9 L538.5,541.8 L536.7,533.9 L535.5,526.4 L534.7,519.5 L534.2,512.9 L534.1,506.3 L534.2,499.7 L534.4,493.2 L534.7,486.8 L534.8,480.5 L534.8,474.4 L534.3,468.5 L533.5,462.9 L532.2,457.5 L530.3,452.4 L527.9,447.5 L525.1,443.1 L522.0,438.9" fill="none" stroke="#ffcc30" stroke-width="1.9" stroke-linecap="round" opacity="0.73"/>
<path d="M486.6,213.1 L491.2,210.8 L495.8,208.8 L500.6,207.2 L505.4,206.0 L510.2,204.7 L514.9,203.7 L519.6,202.9 L524.2,202.3 L528.7,201.7 L533.1,201.1 L537.5,200.4 L541.8,199.6 L546.1,198.7 L550.4,197.8 L554.6,196.8 L558.9,195.8 L563.4,195.0 L568.1,194.5" fill="none" stroke="#ffe070" stroke-width="1.4" stroke-linecap="round" opacity="0.70"/>
<path d="M568.2,224.7 L571.9,224.3 L575.8,223.9 L579.8,223.3 L584.0,222.6 L588.2,221.8 L592.5,221.1 L596.8,220.5 L601.0,220.1 L605.1,220.1 L609.0,220.4 L612.7,221.1 L616.6,222.3 L620.4,223.7 L624.3,225.2 L628.1,226.7 L631.9,227.8 L635.7,228.4" fill="none" stroke="#ffe070" stroke-width="0.7" stroke-linecap="round" opacity="0.66"/>
<path d="M515.6,472.7 L514.9,467.0 L514.1,461.5 L513.1,456.2 L512.0,451.1 L510.6,446.3 L509.0,441.8 L507.4,437.6 L505.8,433.5 L504.2,429.5 L502.9,425.7 L501.9,421.8 L501.3,417.9 L500.9,413.8 L500.9,409.7 L501.1,405.4 L501.4,401.0 L501.6,396.5" fill="none" stroke="#fff6c8" stroke-width="1.8" stroke-linecap="round" opacity="0.42"/>
<path d="M544.2,532.5 L542.5,525.0 L541.2,518.2 L540.2,511.7 L539.4,505.2 L538.9,498.7 L538.5,492.3 L538.1,486.1 L537.4,480.0 L536.5,474.0 L535.2,468.3 L533.4,462.9 L531.2,457.7 L528.6,452.7 L525.9,448.0 L523.1,443.5 L520.5,439.2 L518.2,435.1 L516.4,431.1 L515.1,427.0 L514.5,422.9 L514.6,418.7 L515.1,414.5 L515.9,410.1 L516.8,405.6 L517.6,401.1 L517.9,396.5 L517.5,392.0 L516.3,387.6 L514.3,383.6 L511.6,379.8 L508.2,376.2 L504.4,372.8 L500.5,369.5 L496.7,366.1 L493.4,362.6 L490.8,358.8" fill="none" stroke="#fff6c8" stroke-width="1.8" stroke-linecap="round" opacity="0.80"/>
<path d="M466.3,343.4 L466.2,338.8 L465.4,334.2 L464.0,329.8 L462.1,325.4 L460.1,321.0 L458.3,316.3 L457.1,311.4 L457.0,306.3 L458.3,301.2 L460.3,296.5 L463.4,292.0 L466.9,287.7 L470.3,283.7 L473.0,279.7 L474.6,275.8" fill="none" stroke="#fff0a0" stroke-width="2.0" stroke-linecap="round" opacity="0.54"/>
<path d="M516.0,262.8 L516.1,259.9 L516.3,256.9 L516.8,253.9 L517.6,250.9 L518.6,248.0 L519.9,245.3 L521.5,243.0 L523.3,240.9 L525.3,239.2 L527.6,238.3 L530.0,237.6 L532.7,237.0 L535.6,236.5 L538.6,236.1 L541.6,235.5 L544.8,234.8 L548.0,233.9 L551.3,232.6 L554.6,231.1 L558.0,229.4 L561.3,227.4 L564.6,225.3 L568.2,223.3 L572.0,221.4 L576.0,219.8 L580.2,218.5 L584.5,217.8 L588.7,217.6 L592.9,217.9 L597.0,218.7 L601.0,220.0 L604.9,221.6 L608.5,223.5 L612.0,225.4 L615.5,227.4 L619.2,229.2 L622.9,230.8 L626.8,232.0 L630.7,232.6 L634.6,232.7" fill="none" stroke="#fff0a0" stroke-width="1.6" stroke-linecap="round" opacity="0.47"/>
<path d="M502.8,540.4 L502.8,532.8 L503.1,525.8 L503.8,519.1 L504.2,512.4 L504.3,506.0 L503.7,499.7 L502.3,493.7 L500.3,488.0 L497.8,482.5 L495.1,477.1 L492.7,471.9 L490.9,466.7 L490.0,461.4 L490.1,456.0 L491.1,450.7 L492.9,445.5 L494.9,440.4 L496.8,435.6 L497.9,431.0 L498.0,426.8 L496.7,423.1 L494.1,419.6 L490.5,416.5 L486.4,413.4 L482.5,410.3 L479.3,407.0" fill="none" stroke="#ffd848" stroke-width="0.9" stroke-linecap="round" opacity="0.42"/>
<path d="M458.8,428.3 L458.7,424.5 L458.4,420.7 L458.0,416.8 L457.5,412.9 L457.2,409.0 L456.9,405.2 L456.3,401.2 L455.7,397.1 L455.0,392.9 L454.3,388.6 L453.7,384.1 L453.2,379.6 L452.8,374.9 L452.5,370.1 L452.5,365.1 L452.7,360.4 L453.4,355.9 L454.2,351.5 L454.9,346.8 L455.5,341.9 L456.0,337.0 L456.4,331.9 L456.6,326.9 L456.6,321.8 L456.5,316.7 L456.3,311.5 L456.1,306.4 L456.0,301.3 L455.2,296.6 L454.4,292.0" fill="none" stroke="#fff0a0" stroke-width="2.1" stroke-linecap="round" opacity="0.87"/>
<path d="M500.8,288.9 L501.1,285.7 L501.8,282.7 L503.0,279.9 L504.4,277.2 L505.8,274.8 L507.1,272.6 L508.1,270.5 L508.6,268.4 L508.6,266.2 L508.0,263.3 L507.2,260.0 L506.5,256.3 L506.2,252.5 L506.4,248.7 L507.2,245.2 L508.8,242.2 L511.1,239.9 L514.0,238.3 L517.3,237.4 L520.7,237.1 L524.0,237.1 L527.1,237.3 L529.9,237.2 L532.4,236.3 L534.9,234.4 L537.3,231.7 L539.8,228.2 L542.6,224.3 L545.5,220.2 L548.8,216.6 L552.4,213.7 L556.2,212.0 L560.1,211.5" fill="none" stroke="#ffcc30" stroke-width="1.0" stroke-linecap="round" opacity="0.89"/>
<path d="M505.3,277.4 L505.4,274.7 L505.7,272.2 L506.3,269.9 L507.1,267.8 L508.2,265.9 L509.0,263.9 L510.2,261.8 L511.6,259.7 L513.1,257.7 L514.7,255.6 L516.3,253.4 L517.9,251.2 L519.4,248.9 L520.8,246.4 L522.2,243.8 L523.5,241.1 L524.7,238.3 L526.2,235.7 L528.0,233.0 L530.1,230.3 L532.7,227.7 L535.5,225.4 L538.6,223.4 L542.0,221.9 L545.6,220.8 L549.4,220.2 L553.2,220.1 L557.1,220.4 L560.9,221.1 L564.5,222.1 L568.2,223.2 L571.9,224.4 L575.7,225.6 L579.6,226.6 L583.5,227.2 L587.6,227.5 L591.7,227.3 L595.9,226.7 L600.2,225.7 L604.5,224.3 L608.6,222.6" fill="none" stroke="#ffd848" stroke-width="1.8" stroke-linecap="round" opacity="0.83"/>
<path d="M467.0,555.4 L466.8,547.4 L466.9,539.8 L467.1,533.0 L467.5,526.4 L467.7,519.9 L467.5,513.6 L466.9,507.5 L466.0,501.5 L465.0,495.6 L464.0,489.8 L463.3,484.1 L463.1,478.5 L463.3,472.8 L464.1,467.2 L465.1,461.7 L465.7,456.5 L466.1,451.5 L466.1,447.0 L465.6,442.7 L464.5,438.8 L462.9,435.1 L461.2,431.6 L459.7,428.1 L458.6,424.5 L458.1,420.8 L458.2,416.7 L458.9,412.5 L460.4,408.1 L461.8,403.7 L462.8,399.2 L463.0,394.8 L462.4,390.6 L460.9,386.5 L458.9,382.5 L456.6,378.5 L454.5,374.3 L453.1,369.9 L452.5,365.1 L452.9,360.3 L454.5,355.6" fill="none" stroke="#ffd848" stroke-width="1.1" stroke-linecap="round" opacity="0.44"/>
<path d="M501.4,355.7 L499.3,351.8 L497.3,348.0 L495.1,344.0 L493.0,340.0 L491.0,336.0 L489.2,331.9 L487.8,327.8 L486.7,323.6 L485.9,319.4 L485.5,315.1 L485.5,311.0 L485.8,307.0 L486.4,303.1 L487.0,299.5 L487.8,295.8 L488.4,292.1 L488.8,288.5 L488.8,284.9 L488.5,281.3 L487.9,277.7 L487.0,274.0 L486.0,270.3 L485.0,266.4 L484.2,262.4 L483.8,258.4 L483.8,254.5 L484.5,250.6 L485.8,246.9 L487.8,243.6 L490.5,240.7" fill="none" stroke="#ffcc30" stroke-width="1.1" stroke-linecap="round" opacity="0.88"/>
<path d="M564.0,210.1 L568.1,209.7 L572.4,209.1 L576.7,208.3 L581.1,207.5 L585.6,206.6 L590.1,206.0 L594.5,205.8 L598.8,206.2 L602.9,207.1 L606.8,208.7 L610.5,210.8 L614.1,213.5 L617.8,216.4 L621.4,219.4 L625.0,222.0 L628.7,224.1 L632.5,225.5 L636.4,225.9 L640.2,225.5 L644.0,224.3 L647.6,222.4 L650.8,220.2 L653.5,218.0" fill="none" stroke="#ffcc30" stroke-width="1.3" stroke-linecap="round" opacity="0.85"/>
<path d="M513.7,232.5 L516.6,230.9 L519.4,229.4 L522.2,227.9 L525.0,226.3 L527.9,224.5 L530.9,222.4 L534.0,220.2 L537.3,217.8 L540.7,215.3 L544.2,212.8 L547.9,210.6 L551.8,208.7 L555.7,207.2 L559.7,206.2 L563.9,206.0 L568.1,206.4 L572.4,207.6 L576.6,209.5 L580.8,211.9 L584.8,214.6 L588.7,217.4" fill="none" stroke="#ffd848" stroke-width="1.6" stroke-linecap="round" opacity="0.75"/>
<path d="M526.4,193.6 L531.0,192.2 L535.5,190.9 L540.1,189.8 L544.7,189.0 L549.2,188.5 L553.7,188.4 L558.4,188.7 L563.2,189.7 L568.1,191.2 L572.8,193.3 L577.4,195.8 L581.8,198.5 L586.1,201.3 L590.3,204.0 L594.4,206.5 L598.5,208.6 L602.5,210.1 L606.5,211.1 L610.4,211.3 L614.6,211.1 L619.0,210.5" fill="none" stroke="#ffe070" stroke-width="1.0" stroke-linecap="round" opacity="0.52"/>
<path d="M596.9,460.9 L594.2,455.4 L591.4,450.1 L588.3,445.0 L585.1,440.1 L581.8,435.4 L579.0,430.9 L576.1,426.7 L573.3,422.5 L570.7,418.6 L568.2,414.6 L566.0,410.7 L564.1,406.8 L562.6,402.7 L561.4,398.6 L560.5,394.3 L559.9,389.9 L559.4,385.2 L558.4,380.4 L557.3,375.6 L556.2,370.9 L554.8,366.4 L553.1,362.1 L551.1,358.1 L548.6,354.4 L545.7,350.9 L542.4,347.7 L538.7,344.7 L534.7,341.8 L530.5,338.7 L525.7,335.3 L521.0,331.7 L516.5,328.4 L512.5,325.0" fill="none" stroke="#fff6c8" stroke-width="1.2" stroke-linecap="round" opacity="0.57"/>
<path d="M483.4,422.3 L482.8,418.4 L482.5,414.5 L482.5,410.3 L482.8,406.0 L483.4,401.6 L483.8,397.2 L483.9,392.8 L483.4,388.5 L482.4,384.3 L480.7,380.3 L478.6,376.4 L476.1,372.5 L473.6,368.6 L471.3,364.6 L469.4,360.3 L468.3,356.0 L468.2,351.7 L468.7,347.2 L469.7,342.4 L471.1,337.3 L472.4,332.2 L473.3,327.2 L473.7,322.5 L473.4,317.9 L472.2,313.6 L470.2,309.4 L467.8,305.1 L465.3,300.8 L462.7,296.4 L460.8,292.0 L459.9,287.5 L460.2,283.0 L461.9,278.6 L464.7,274.4 L468.4,270.6 L472.5,267.1 L476.4,263.9 L479.8,260.9 L482.2,257.8" fill="none" stroke="#fff6c8" stroke-width="0.7" stroke-linecap="round" opacity="0.56"/>
<path d="M527.9,424.0 L527.0,420.0 L526.0,416.0 L524.9,412.0 L523.6,408.1 L522.2,404.2 L520.5,400.3 L518.7,396.3 L516.7,392.2 L514.6,388.1 L512.6,384.1 L510.6,380.1 L508.9,376.0 L507.4,371.9 L506.1,367.7 L505.1,363.5 L504.2,359.3 L503.5,355.1 L502.7,350.9 L501.9,346.7 L500.8,342.4 L499.3,338.2 L497.5,334.0 L495.4,330.1 L493.1,326.2" fill="none" stroke="#ffd848" stroke-width="1.3" stroke-linecap="round" opacity="0.46"/>
<path d="M497.3,288.8 L497.0,285.5 L496.9,282.2 L497.0,279.0 L497.4,275.9 L498.0,273.0 L498.9,270.3 L500.0,267.7 L501.2,265.4 L502.5,263.3 L503.6,261.0 L504.8,258.5 L506.0,256.0 L507.3,253.3 L508.6,250.5 L509.9,247.6 L511.2,244.5 L512.5,241.3 L513.9,238.1 L515.5,234.9 L517.2,231.9 L519.2,229.0 L521.5,226.5 L524.2,224.4 L527.2,222.7 L530.5,221.4" fill="none" stroke="#fff0a0" stroke-width="1.5" stroke-linecap="round" opacity="0.43"/>
<path d="M459.2,515.4 L459.8,509.0 L460.2,502.7 L460.3,496.6 L460.1,490.7 L459.6,484.9 L458.9,479.4 L458.1,474.0 L457.3,468.7 L456.8,463.5 L456.1,458.6 L455.9,453.8 L456.3,449.2 L457.1,444.7 L458.2,440.3 L459.5,435.9 L460.8,431.7 L461.7,427.6 L462.2,423.6 L462.1,419.7 L461.3,415.9 L459.9,412.3 L458.5,408.7 L456.7,405.2 L454.9,401.6 L453.4,397.8 L452.3,393.8 L451.8,389.4 L452.1,384.7" fill="none" stroke="#ffcc30" stroke-width="1.9" stroke-linecap="round" opacity="0.60"/>
<path d="M539.9,361.7 L538.4,357.6 L536.9,353.6 L535.6,349.8 L534.2,346.0 L532.7,342.4 L531.0,338.6 L528.5,334.5 L525.6,330.4 L522.5,326.6 L519.2,323.0 L515.7,319.7 L512.2,316.6 L508.7,313.5 L505.4,310.6 L502.5,307.7 L500.0,304.8 L498.1,301.9 L496.9,298.9 L497.1,295.6 L497.8,292.1 L499.0,288.8 L500.6,285.7 L502.5,282.8 L504.5,280.1 L506.4,277.6 L508.1,275.3 L509.4,273.2 L510.1,271.2 L510.4,269.1 L510.1,266.9 L509.1,264.0 L508.0,260.5 L506.9,256.6" fill="none" stroke="#ffcc30" stroke-width="0.9" stroke-linecap="round" opacity="0.63"/>
<path d="M562.3,521.2 L560.9,514.2 L559.2,507.8 L557.3,501.5 L555.0,495.4 L552.4,489.4 L549.6,483.6 L546.5,478.0 L543.4,472.5 L540.5,467.2 L537.7,461.9 L535.5,456.7 L533.7,451.6 L532.5,446.5 L532.1,441.5 L532.2,436.6 L532.6,431.8 L533.1,427.2 L533.6,422.7 L533.7,418.4" fill="none" stroke="#fff6c8" stroke-width="1.9" stroke-linecap="round" opacity="0.64"/>
<path d="M539.1,385.8 L536.7,381.6 L534.4,377.5 L532.3,373.4 L530.4,369.3 L528.8,365.1 L527.4,361.0 L526.2,357.0 L525.2,352.9 L524.2,349.0 L523.1,345.1 L521.9,341.1 L520.1,336.9 L518.0,332.6 L515.5,328.7 L512.7,324.9 L509.8,321.4 L506.7,318.0 L503.7,314.8 L500.7,311.7 L498.1,308.5 L495.8,305.4 L494.1,302.3 L492.9,299.1 L493.0,295.7 L493.6,292.1 L494.7,288.7 L496.1,285.4 L497.8,282.3 L499.5,279.4 L501.2,276.6 L502.5,274.1 L503.6,271.6 L504.2,269.2 L504.3,266.7 L504.1,264.0 L503.5,260.9 L502.8,257.3 L502.3,253.5 L502.2,249.5 L502.5,245.5 L503.4,241.7 L504.9,238.3" fill="none" stroke="#ffd848" stroke-width="1.6" stroke-linecap="round" opacity="0.88"/>
<path d="M636.8,601.1 L642.6,580.8 L644.3,559.7 L641.6,538.5 L638.0,518.6 L637.9,499.3 L641.1,479.0 L641.8,457.3 L635.4,436.1 L626.0,416.0 L621.5,396.4 L624.3,376.0 L628.1,355.4 L624.0,334.9 L612.1,314.4 L612.1,314.4 L624.0,334.9 L628.1,355.4 L623.1,375.7 L618.1,396.3 L620.6,417.6 L628.0,438.5 L632.0,458.2 L629.7,477.5 L625.4,498.1 L625.0,519.8 L629.4,540.8 L633.8,560.6 L635.6,580.4 L636.8,601.1Z" fill="#ff9a00" opacity="0.34"/>
<path d="M411.9,584.0 L416.0,579.6 L417.6,575.4 L417.8,571.4 L417.2,567.6 L415.8,564.2 L414.0,561.0 L411.9,558.0 L409.7,555.1 L407.4,552.1 L405.3,549.1 L403.4,546.0 L402.3,542.6 L402.4,539.1 L402.7,535.7 L402.7,535.7 L402.4,539.1 L402.3,542.6 L401.7,546.1 L400.7,549.9 L399.9,553.7 L399.3,557.7 L399.0,561.7 L399.0,565.6 L399.3,569.3 L400.1,572.8 L401.5,575.9 L403.6,578.8 L406.6,581.5 L411.9,584.0Z" fill="#ffc428" opacity="0.51"/>
<path d="M446.8,604.8 L448.8,597.9 L449.3,591.0 L448.9,584.2 L447.9,577.5 L446.7,571.0 L445.4,564.5 L444.2,558.2 L443.4,551.9 L443.2,545.4 L443.7,538.8 L444.9,532.0 L446.9,525.3 L449.7,518.6 L452.7,512.0 L452.7,512.0 L449.7,518.6 L446.9,525.3 L444.1,531.7 L441.5,538.2 L439.5,544.9 L438.1,551.7 L437.5,558.5 L437.6,565.5 L438.2,572.3 L439.2,579.0 L440.5,585.6 L442.1,592.0 L444.0,598.3 L446.8,604.8Z" fill="#ffd648" opacity="0.65"/>
<path d="M412.1,569.7 L417.2,566.4 L420.2,563.2 L422.2,559.8 L423.5,556.0 L424.1,551.8 L424.1,547.3 L423.4,542.7 L422.0,538.2 L420.1,534.0 L417.8,530.1 L415.2,526.5 L413.0,522.9 L411.5,519.0 L410.1,515.1 L410.1,515.1 L411.5,519.0 L413.0,522.9 L413.6,527.1 L413.4,531.3 L412.7,535.2 L411.6,538.8 L410.3,542.1 L408.8,545.3 L407.5,548.6 L406.5,552.2 L406.0,556.2 L406.3,560.5 L407.9,565.1 L412.1,569.7Z" fill="#ffe680" opacity="0.73"/>
<path d="M417.4,600.3 L419.5,595.6 L420.2,591.2 L420.3,587.0 L420.0,582.9 L419.5,578.9 L418.8,574.9 L418.3,571.0 L417.8,566.9 L417.5,562.7 L417.6,558.4 L418.0,554.0 L418.9,549.6 L420.5,545.4 L422.3,541.2 L422.3,541.2 L420.5,545.4 L418.9,549.6 L417.0,553.7 L415.0,557.8 L413.1,561.9 L411.6,566.2 L410.4,570.6 L409.7,575.0 L409.4,579.5 L409.6,584.0 L410.4,588.3 L411.8,592.5 L413.9,596.6 L417.4,600.3Z" fill="#ff8400" opacity="0.53"/>
<path d="M512.5,605.9 L517.1,597.7 L519.4,588.9 L519.7,579.6 L518.2,570.4 L515.5,561.7 L512.6,553.7 L510.4,546.2 L509.6,538.6 L510.4,530.5 L512.6,521.8 L515.3,512.8 L517.3,504.1 L517.7,495.7 L515.6,487.2 L515.6,487.2 L517.7,495.7 L517.3,504.1 L514.1,512.4 L509.4,520.4 L504.9,528.7 L501.6,537.5 L500.4,546.9 L501.1,556.3 L503.0,565.3 L505.2,573.6 L507.1,581.3 L508.6,589.0 L509.9,597.1 L512.5,605.9Z" fill="#ffd648" opacity="0.60"/>
<path d="M421.3,589.9 L424.8,585.1 L426.3,579.9 L426.6,574.5 L426.0,569.2 L424.5,564.0 L422.3,559.0 L419.6,554.2 L416.7,549.6 L413.6,545.2 L410.5,540.7 L407.7,536.3 L405.5,531.6 L404.1,526.8 L403.3,521.9 L403.3,521.9 L404.1,526.8 L405.5,531.6 L406.6,536.7 L407.7,541.9 L408.8,547.2 L410.0,552.5 L411.2,557.6 L412.3,562.5 L413.2,567.2 L414.2,571.7 L415.3,576.1 L416.5,580.4 L418.3,585.0 L421.3,589.9Z" fill="#ff9a00" opacity="0.69"/>
<path d="M542.2,570.6 L548.5,558.4 L552.1,545.3 L552.2,531.3 L549.3,517.9 L546.1,506.1 L545.3,495.3 L547.9,483.6 L552.6,470.5 L555.4,456.5 L552.8,442.9 L545.9,430.4 L539.6,418.0 L538.9,405.3 L544.9,392.6 L544.9,392.6 L538.9,405.3 L539.6,418.0 L544.6,431.0 L548.9,443.9 L548.8,455.8 L544.0,467.2 L537.1,479.5 L531.9,493.3 L531.4,507.9 L534.4,521.5 L537.8,533.6 L539.7,545.0 L540.3,557.3 L542.2,570.6Z" fill="#ffd648" opacity="0.41"/>
<path d="M637.9,601.4 L641.2,587.9 L643.8,574.8 L646.7,561.6 L649.2,547.8 L649.7,533.2 L647.3,518.6 L642.2,504.6 L636.2,491.4 L631.2,478.6 L629.0,465.6 L629.9,452.1 L633.3,438.4 L636.5,424.8 L636.5,411.2 L636.5,411.2 L636.5,424.8 L633.3,438.4 L628.6,451.8 L625.3,465.5 L625.3,479.7 L628.2,494.0 L632.2,508.0 L635.2,521.2 L636.1,533.7 L635.3,546.4 L633.6,559.7 L632.6,573.7 L633.6,587.8 L637.9,601.4Z" fill="#ffb010" opacity="0.33"/>
<path d="M597.2,592.5 L603.2,572.8 L605.5,552.3 L603.5,531.6 L600.1,512.0 L599.4,493.3 L601.5,473.7 L601.9,452.6 L596.1,431.9 L587.3,412.3 L582.2,393.2 L583.5,373.5 L586.1,353.5 L582.4,333.5 L571.6,313.6 L571.6,313.6 L582.4,333.5 L586.1,353.5 L582.1,373.3 L578.4,393.4 L581.2,414.1 L587.6,434.4 L590.7,453.5 L588.4,472.3 L584.9,492.5 L585.3,513.6 L589.5,533.9 L593.5,553.1 L595.2,572.4 L597.2,592.5Z" fill="#ffc428" opacity="0.46"/>
<path d="M604.8,567.5 L606.9,558.8 L608.3,550.7 L610.2,542.8 L612.3,534.5 L614.0,525.5 L614.1,516.0 L611.7,506.5 L607.0,497.8 L601.4,489.6 L596.1,481.6 L592.8,473.6 L592.6,465.1 L595.3,456.6 L599.1,448.1 L599.1,448.1 L595.3,456.6 L592.6,465.1 L591.8,473.7 L593.5,482.7 L597.2,491.8 L601.1,500.7 L603.7,509.0 L604.4,516.6 L603.4,524.1 L601.5,532.2 L599.8,540.9 L599.4,550.1 L601.0,559.1 L604.8,567.5Z" fill="#ff9a00" opacity="0.25"/>
<path d="M625.1,593.3 L629.5,586.1 L630.7,578.1 L629.8,570.0 L627.7,562.7 L625.3,556.2 L623.4,550.5 L622.5,544.9 L622.9,538.6 L624.8,531.5 L627.3,523.9 L629.4,516.2 L630.0,508.9 L628.9,501.9 L625.3,494.8 L625.3,494.8 L628.9,501.9 L630.0,508.9 L627.9,515.7 L623.7,522.1 L618.7,528.5 L614.0,535.4 L610.7,543.2 L609.5,551.7 L610.5,560.1 L612.7,567.7 L615.4,574.4 L618.2,580.4 L621.1,586.5 L625.1,593.3Z" fill="#ffb010" opacity="0.44"/>
<path d="M565.4,597.7 L568.8,586.7 L570.9,575.9 L572.7,565.1 L573.9,554.0 L574.4,542.7 L573.7,531.2 L571.8,519.9 L569.1,508.8 L566.2,498.0 L564.0,487.3 L563.0,476.4 L563.7,465.3 L565.7,454.3 L567.7,443.3 L567.7,443.3 L565.7,454.3 L563.7,465.3 L561.8,476.3 L560.7,487.5 L560.8,498.8 L561.5,510.0 L562.1,521.1 L562.3,531.8 L561.9,542.4 L561.1,553.1 L560.5,564.1 L560.5,575.3 L561.8,586.6 L565.4,597.7Z" fill="#ffe680" opacity="0.39"/>
<path d="M511.7,574.1 L516.2,567.4 L518.7,560.5 L520.2,553.4 L520.7,546.2 L520.3,538.9 L519.1,531.7 L517.4,524.6 L515.2,517.7 L512.9,510.9 L510.8,504.2 L509.0,497.4 L508.3,490.5 L508.8,483.5 L510.0,476.5 L510.0,476.5 L508.8,483.5 L508.3,490.5 L507.6,497.5 L507.0,504.6 L506.7,511.8 L506.5,519.0 L506.4,526.0 L506.2,532.9 L506.1,539.6 L506.0,546.2 L506.2,552.9 L506.9,559.7 L508.3,566.8 L511.7,574.1Z" fill="#ffd648" opacity="0.38"/>
<path d="M585.2,598.7 L589.9,589.1 L592.6,579.5 L594.3,569.6 L594.8,559.4 L594.0,549.0 L591.8,538.6 L588.4,528.6 L584.3,519.0 L580.1,509.6 L576.3,500.3 L573.4,490.9 L572.1,481.2 L572.2,471.4 L572.3,461.6 L572.3,461.6 L572.2,471.4 L572.1,481.2 L571.9,491.0 L572.2,501.2 L573.3,511.5 L575.0,521.7 L576.6,531.7 L577.8,541.3 L578.4,550.5 L578.6,559.7 L578.8,569.1 L579.5,578.8 L581.1,588.7 L585.2,598.7Z" fill="#ffc428" opacity="0.43"/>
<path d="M585.4,573.4 L587.8,568.7 L588.9,564.5 L589.8,560.8 L590.5,557.2 L591.2,553.4 L592.1,549.3 L593.2,544.8 L594.2,540.1 L594.8,535.2 L594.9,530.4 L594.1,525.9 L592.8,521.6 L591.0,517.3 L588.4,513.0 L588.4,513.0 L591.0,517.3 L592.8,521.6 L593.0,526.0 L591.9,530.1 L590.1,533.9 L587.8,537.6 L585.2,541.5 L582.7,545.7 L580.6,550.2 L579.2,555.1 L578.9,560.1 L579.7,564.9 L581.6,569.4 L585.4,573.4Z" fill="#ffb010" opacity="0.34"/>
<path d="M589.4,577.2 L591.2,564.5 L589.7,551.8 L588.1,540.0 L588.7,529.0 L591.4,517.1 L593.5,503.9 L591.2,490.3 L584.1,477.7 L576.5,466.1 L572.8,454.7 L574.7,442.6 L579.1,430.2 L580.0,417.9 L573.4,405.7 L573.4,405.7 L580.0,417.9 L579.1,430.2 L573.7,442.3 L570.0,454.7 L572.2,467.8 L578.4,480.7 L583.3,492.6 L584.0,503.5 L581.1,514.8 L577.9,527.5 L577.8,540.9 L581.1,553.7 L585.4,565.5 L589.4,577.2Z" fill="#ffe680" opacity="0.39"/>
<path d="M581.3,603.4 L584.7,596.0 L587.2,588.4 L588.7,580.4 L588.7,572.1 L587.1,563.8 L584.1,555.9 L580.4,548.3 L576.8,540.9 L574.2,533.7 L573.3,526.3 L574.4,518.6 L577.5,510.8 L581.8,503.1 L585.9,495.3 L585.9,495.3 L581.8,503.1 L577.5,510.8 L573.7,518.4 L571.3,526.1 L570.9,534.2 L572.4,542.4 L575.0,550.5 L577.7,558.3 L579.8,565.7 L581.0,572.9 L581.4,580.0 L581.0,587.5 L580.7,595.3 L581.3,603.4Z" fill="#ffe680" opacity="0.53"/>
<path d="M434.9,572.5 L437.9,565.9 L439.0,559.0 L438.9,552.0 L437.9,545.1 L436.2,538.4 L434.1,531.9 L431.8,525.6 L429.6,519.4 L427.7,513.1 L426.4,506.8 L425.7,500.3 L426.3,493.7 L428.0,487.1 L430.2,480.5 L430.2,480.5 L428.0,487.1 L426.3,493.7 L424.7,500.2 L423.5,506.8 L422.9,513.6 L423.0,520.5 L423.5,527.5 L424.5,534.3 L425.7,540.9 L427.0,547.4 L428.4,553.6 L430.0,559.8 L431.9,566.0 L434.9,572.5Z" fill="#ff8400" opacity="0.53"/>
<path d="M454.6,600.0 L458.3,591.1 L460.6,582.5 L462.6,573.9 L464.1,565.1 L465.4,556.1 L466.0,546.8 L466.0,537.4 L465.1,528.0 L463.3,518.8 L460.8,509.9 L457.8,501.1 L455.2,492.2 L453.5,483.2 L452.5,474.3 L452.5,474.3 L453.5,483.2 L455.2,492.2 L456.6,501.3 L457.3,510.5 L457.4,519.5 L456.9,528.2 L455.6,536.8 L454.0,545.4 L452.1,554.1 L450.5,563.0 L449.5,572.2 L449.5,581.6 L450.9,590.9 L454.6,600.0Z" fill="#ffc428" opacity="0.46"/>
<path d="M492.0,589.8 L495.6,579.9 L497.5,569.7 L497.9,559.3 L496.8,548.7 L494.3,538.5 L491.4,528.5 L488.7,518.9 L487.1,509.4 L486.7,499.6 L487.6,489.6 L488.8,479.4 L489.7,469.3 L489.2,459.2 L486.6,449.2 L486.6,449.2 L489.2,459.2 L489.7,469.3 L487.9,479.2 L485.0,489.1 L482.5,499.2 L481.1,509.5 L481.3,520.0 L482.8,530.5 L485.0,540.7 L487.0,550.5 L488.5,560.0 L489.5,569.6 L490.3,579.5 L492.0,589.8Z" fill="#ffc428" opacity="0.38"/>
<path d="M411.4,565.2 L414.4,560.3 L416.0,555.8 L417.2,551.3 L417.9,546.8 L418.5,542.1 L418.7,537.2 L418.6,532.1 L418.1,526.9 L417.0,521.8 L415.2,516.9 L412.8,512.3 L410.2,507.7 L407.5,502.9 L404.3,498.1 L404.3,498.1 L407.5,502.9 L410.2,507.7 L411.8,512.7 L412.2,517.6 L412.0,522.3 L411.1,526.8 L409.9,531.2 L408.5,535.7 L407.3,540.4 L406.4,545.2 L406.1,550.3 L406.6,555.4 L408.1,560.4 L411.4,565.2Z" fill="#ff9a00" opacity="0.61"/>
<path d="M427.2,580.7 L430.2,577.7 L431.8,574.8 L432.6,572.0 L432.9,569.3 L432.8,566.5 L432.5,563.8 L432.0,560.9 L431.4,558.0 L430.9,555.0 L430.3,551.9 L429.9,548.9 L429.8,545.9 L430.3,542.9 L430.7,540.0 L430.7,540.0 L430.3,542.9 L429.8,545.9 L428.7,548.7 L427.2,551.4 L425.7,554.2 L424.2,557.0 L422.9,559.8 L421.8,562.8 L421.0,565.9 L420.7,569.0 L421.0,572.1 L421.9,575.1 L423.7,578.0 L427.2,580.7Z" fill="#ffe680" opacity="0.35"/>
<path d="M478.8,589.4 L482.3,581.7 L484.5,573.8 L486.1,565.9 L487.0,557.7 L487.1,549.4 L486.5,541.2 L485.1,533.0 L483.1,524.9 L480.9,517.0 L478.6,509.2 L476.6,501.4 L475.5,493.4 L475.6,485.4 L476.7,477.4 L476.7,477.4 L475.6,485.4 L475.5,493.4 L475.6,501.5 L476.0,509.6 L476.6,517.8 L477.1,525.9 L477.5,533.9 L477.5,541.7 L477.3,549.4 L476.9,557.1 L476.5,565.0 L476.4,573.0 L476.8,581.1 L478.8,589.4Z" fill="#ff9a00" opacity="0.51"/>
<path d="M625.1,561.5 L628.3,541.8 L632.7,522.2 L636.3,501.9 L635.8,481.1 L631.5,460.9 L627.8,441.6 L628.8,422.6 L634.7,402.8 L640.2,382.3 L639.2,361.8 L632.1,342.0 L625.8,322.1 L627.6,302.2 L637.3,282.2 L637.3,282.2 L627.6,302.2 L625.8,322.1 L631.3,342.2 L636.8,362.2 L636.1,381.7 L629.3,401.1 L621.9,421.1 L619.5,442.0 L622.5,462.6 L626.4,482.3 L627.3,501.4 L625.2,521.0 L623.3,541.3 L625.1,561.5Z" fill="#ffb010" opacity="0.21"/>
<path d="M399.3,579.0 L403.6,574.3 L405.9,570.0 L407.2,566.0 L408.0,562.0 L408.3,557.9 L408.4,553.6 L408.3,549.0 L408.1,544.2 L407.7,539.3 L407.1,534.4 L406.3,529.7 L405.5,525.1 L405.1,520.6 L404.1,516.1 L404.1,516.1 L405.1,520.6 L405.5,525.1 L404.6,529.5 L402.7,533.7 L400.4,537.8 L398.0,541.9 L395.6,546.0 L393.5,550.4 L391.8,555.1 L390.8,560.0 L390.8,565.0 L391.9,570.0 L394.3,574.7 L399.3,579.0Z" fill="#ff9a00" opacity="0.43"/>
<path d="M576.0,596.6 L580.7,588.2 L583.4,579.9 L585.2,571.6 L586.3,563.1 L586.7,554.3 L586.3,545.4 L585.0,536.4 L582.8,527.6 L579.9,519.0 L576.6,510.6 L573.2,502.4 L570.6,494.0 L569.3,485.5 L568.8,477.0 L568.8,477.0 L569.3,485.5 L570.6,494.0 L571.6,502.8 L572.2,511.6 L572.6,520.4 L572.5,528.9 L571.9,537.2 L571.0,545.3 L569.9,553.4 L569.0,561.7 L568.7,570.3 L569.4,579.1 L571.4,587.9 L576.0,596.6Z" fill="#ffc428" opacity="0.56"/>
<path d="M400.2,606.0 L402.8,603.1 L403.9,600.4 L404.4,597.8 L404.4,595.2 L404.0,592.7 L403.4,590.3 L402.6,587.8 L401.7,585.4 L400.7,582.9 L399.8,580.3 L399.0,577.8 L398.7,575.2 L398.8,572.6 L399.1,570.0 L399.1,570.0 L398.8,572.6 L398.7,575.2 L398.0,577.7 L397.1,580.3 L396.2,582.9 L395.3,585.5 L394.6,588.2 L394.0,590.9 L393.8,593.6 L393.9,596.2 L394.4,598.8 L395.4,601.3 L397.1,603.7 L400.2,606.0Z" fill="#ffe680" opacity="0.69"/>
<path d="M655.1,590.4 L658.9,582.7 L660.5,575.4 L661.3,568.6 L661.7,562.1 L661.9,555.6 L662.2,549.0 L662.7,542.0 L663.5,534.7 L664.3,527.0 L664.9,519.3 L665.1,511.7 L665.1,504.4 L664.9,497.3 L663.6,490.1 L663.6,490.1 L664.9,497.3 L665.1,504.4 L663.4,511.5 L660.5,518.2 L656.9,524.8 L653.2,531.5 L649.7,538.5 L646.8,545.8 L644.7,553.5 L643.8,561.4 L644.3,569.3 L646.1,576.8 L649.4,583.8 L655.1,590.4Z" fill="#ff8400" opacity="0.21"/>
<path d="M542.0,580.7 L545.7,571.9 L547.5,563.4 L548.6,555.0 L549.2,546.7 L549.5,538.3 L549.6,529.8 L549.5,521.1 L549.0,512.3 L548.1,503.5 L546.7,494.8 L544.8,486.2 L542.8,477.7 L541.1,469.1 L539.1,460.5 L539.1,460.5 L541.1,469.1 L542.8,477.7 L543.3,486.4 L542.8,494.9 L541.5,503.4 L539.9,511.7 L538.0,520.1 L536.2,528.6 L534.7,537.2 L533.9,546.0 L534.0,554.8 L535.1,563.6 L537.5,572.3 L542.0,580.7Z" fill="#ffe680" opacity="0.37"/>
<path d="M600.1,569.3 L604.4,549.7 L604.7,530.1 L604.3,511.3 L605.1,492.9 L606.9,473.8 L607.1,453.5 L603.3,433.3 L596.8,414.2 L591.8,395.8 L590.7,377.1 L592.3,357.8 L592.3,338.4 L587.7,319.2 L579.8,300.0 L579.8,300.0 L587.7,319.2 L592.3,338.4 L590.6,357.6 L586.1,376.7 L584.1,396.5 L586.3,416.6 L589.9,435.9 L591.2,454.2 L589.5,472.4 L587.1,491.7 L587.1,511.9 L590.2,531.5 L594.7,550.4 L600.1,569.3Z" fill="#ffe680" opacity="0.36"/>
<path d="M407.7,571.0 L412.3,566.5 L414.6,562.3 L416.0,558.2 L416.5,554.2 L416.6,550.2 L416.3,546.1 L415.8,541.8 L415.1,537.4 L414.5,532.8 L413.8,528.2 L413.2,523.6 L413.1,519.1 L413.7,514.8 L414.0,510.5 L414.0,510.5 L413.7,514.8 L413.1,519.1 L411.5,523.3 L409.3,527.3 L406.9,531.4 L404.6,535.4 L402.4,539.7 L400.6,544.0 L399.3,548.5 L398.7,553.2 L398.9,557.8 L400.2,562.4 L402.7,566.9 L407.7,571.0Z" fill="#ffc428" opacity="0.45"/>
<path d="M401.6,601.1 L406.0,598.2 L407.9,595.2 L408.6,592.5 L408.3,589.9 L407.4,587.7 L406.0,585.6 L404.3,583.8 L402.4,582.1 L400.4,580.4 L398.5,578.6 L396.8,576.7 L395.7,574.6 L395.7,572.3 L395.7,570.1 L395.7,570.1 L395.7,572.3 L395.7,574.6 L395.1,576.9 L394.0,579.4 L393.0,582.0 L392.1,584.8 L391.4,587.5 L391.0,590.0 L390.9,592.5 L391.3,594.6 L392.2,596.5 L393.9,598.1 L396.6,599.7 L401.6,601.1Z" fill="#ffb010" opacity="0.68"/>
<path d="M474.0,595.1 L477.9,588.6 L479.8,581.9 L480.5,575.1 L480.2,568.2 L479.1,561.5 L477.5,555.0 L475.7,548.7 L473.8,542.5 L472.2,536.3 L471.0,530.0 L470.4,523.4 L470.6,516.9 L471.9,510.3 L473.2,503.8 L473.2,503.8 L471.9,510.3 L470.6,516.9 L469.1,523.3 L467.4,529.8 L466.2,536.5 L465.5,543.3 L465.3,550.2 L465.4,556.9 L465.8,563.4 L466.4,569.8 L467.3,576.0 L468.6,582.2 L470.5,588.5 L474.0,595.1Z" fill="#ffe680" opacity="0.44"/>
<path d="M595.9,579.4 L601.7,562.0 L600.6,543.9 L598.8,528.0 L601.9,512.9 L606.8,494.6 L603.9,474.8 L595.4,458.0 L592.9,443.5 L598.9,426.6 L601.6,408.1 L592.3,390.9 L582.7,374.1 L587.1,357.0 L597.8,339.9 L597.8,339.9 L587.1,357.0 L582.7,374.1 L590.8,391.6 L597.2,408.6 L591.9,424.3 L582.8,441.6 L582.9,461.3 L589.3,478.7 L590.2,493.1 L585.2,509.0 L582.5,528.1 L587.0,546.4 L592.5,562.6 L595.9,579.4Z" fill="#ff9a00" opacity="0.27"/>
<path d="M556.0,598.4 L557.3,588.6 L557.6,578.9 L557.5,569.2 L557.2,559.6 L556.9,550.0 L556.7,540.4 L556.5,530.8 L556.1,521.0 L555.1,511.2 L553.5,501.5 L551.1,491.9 L548.0,482.3 L544.5,472.6 L540.5,463.0 L540.5,463.0 L544.5,472.6 L548.0,482.3 L550.4,492.1 L551.6,501.8 L551.9,511.4 L551.5,521.0 L550.8,530.6 L550.1,540.3 L549.6,550.1 L549.6,559.8 L550.3,569.6 L551.5,579.3 L553.3,588.9 L556.0,598.4Z" fill="#ffb010" opacity="0.47"/>
<path d="M584.9,604.0 L590.5,596.5 L593.7,588.6 L595.6,580.4 L596.0,571.7 L595.0,563.0 L592.6,554.4 L589.2,546.3 L585.1,538.6 L581.0,531.2 L577.2,523.8 L574.2,516.3 L572.7,508.5 L573.0,500.5 L574.1,492.6 L574.1,492.6 L573.0,500.5 L572.7,508.5 L572.4,516.5 L572.6,524.9 L573.5,533.5 L574.7,542.0 L576.0,550.3 L576.9,558.0 L577.4,565.4 L577.8,572.5 L578.2,579.8 L579.0,587.4 L580.7,595.5 L584.9,604.0Z" fill="#ff9a00" opacity="0.74"/>
<path d="M548.9,562.9 L551.7,554.5 L552.5,546.1 L552.3,537.7 L551.4,529.6 L550.3,521.7 L549.2,513.9 L548.3,506.1 L547.9,498.2 L547.8,490.1 L548.0,481.9 L548.3,473.5 L548.6,465.3 L548.9,457.2 L548.1,449.1 L548.1,449.1 L548.9,457.2 L548.6,465.3 L547.2,473.4 L544.9,481.4 L542.6,489.4 L540.5,497.5 L539.0,505.9 L538.3,514.4 L538.4,522.9 L539.2,531.2 L540.7,539.3 L542.6,547.3 L545.1,555.1 L548.9,562.9Z" fill="#ff9a00" opacity="0.49"/>
<path d="M650.2,577.5 L655.2,557.6 L658.3,537.1 L656.8,516.4 L654.3,496.8 L656.0,477.7 L660.1,457.2 L659.3,436.0 L653.3,415.9 L650.9,396.6 L655.9,376.5 L659.7,356.0 L654.9,335.9 L648.5,315.8 L651.7,295.6 L651.7,295.6 L648.5,315.8 L654.9,335.9 L658.7,356.0 L653.1,375.8 L646.2,396.0 L646.8,417.0 L651.0,437.1 L650.4,456.2 L645.4,476.0 L643.3,497.1 L646.4,517.7 L649.3,537.3 L649.3,557.1 L650.2,577.5Z" fill="#ffd648" opacity="0.26"/>
<path d="M618.5,596.8 L623.1,586.0 L625.0,574.9 L625.3,563.7 L624.4,552.7 L622.7,542.0 L620.7,531.6 L618.9,521.3 L617.6,511.0 L616.9,500.4 L616.7,489.6 L616.7,478.7 L616.8,467.8 L616.8,457.1 L615.5,446.4 L615.5,446.4 L616.8,457.1 L616.8,467.8 L615.1,478.5 L612.5,489.1 L609.8,499.7 L607.6,510.7 L606.4,521.8 L606.1,533.0 L606.7,544.1 L607.9,554.8 L609.6,565.3 L611.6,575.6 L614.2,586.0 L618.5,596.8Z" fill="#ffe680" opacity="0.41"/>
<path d="M437.1,583.5 L440.6,576.4 L442.4,568.8 L442.8,560.8 L441.7,552.9 L439.5,545.2 L436.8,538.0 L434.6,531.1 L433.3,524.3 L433.5,517.2 L435.1,509.8 L437.6,502.1 L440.1,494.6 L441.7,487.1 L441.1,479.7 L441.1,479.7 L441.7,487.1 L440.1,494.6 L436.8,501.8 L432.9,509.0 L429.6,516.3 L427.8,524.1 L427.7,532.2 L428.9,540.1 L430.8,547.7 L432.7,554.9 L434.1,561.7 L434.9,568.6 L435.6,575.8 L437.1,583.5Z" fill="#ffc428" opacity="0.50"/>
<path d="M568.2,581.5 L571.8,571.5 L573.8,561.3 L574.5,550.9 L573.9,540.4 L572.4,530.2 L570.8,520.4 L569.9,510.7 L570.2,500.9 L571.5,490.8 L573.1,480.4 L573.9,470.1 L573.6,459.9 L572.0,449.8 L569.5,439.7 L569.5,439.7 L572.0,449.8 L573.6,459.9 L573.0,470.0 L570.4,479.9 L567.1,489.8 L564.0,499.9 L562.1,510.4 L561.6,521.0 L562.3,531.4 L563.5,541.5 L564.6,551.3 L565.4,561.1 L566.2,571.1 L568.2,581.5Z" fill="#ff9a00" opacity="0.41"/>
<path d="M444.5,592.4 L449.2,587.5 L451.5,582.1 L452.4,576.4 L452.1,570.7 L450.9,565.1 L449.0,560.0 L446.8,555.2 L444.7,550.7 L442.9,546.1 L441.7,541.3 L441.3,536.1 L442.2,530.8 L444.5,525.7 L447.1,520.5 L447.1,520.5 L444.5,525.7 L442.2,530.8 L439.8,535.7 L437.6,540.8 L436.0,546.3 L435.2,552.0 L435.1,557.7 L435.3,563.2 L435.8,568.3 L436.4,573.1 L437.3,577.6 L438.7,582.2 L440.7,587.0 L444.5,592.4Z" fill="#ffd648" opacity="0.50"/>
<path d="M512.8,599.2 L517.6,592.7 L519.6,585.6 L520.0,578.3 L519.1,571.1 L517.1,564.1 L514.6,557.6 L511.7,551.5 L509.0,545.5 L506.7,539.5 L505.1,533.3 L504.3,526.7 L504.9,520.0 L506.9,513.4 L509.3,506.8 L509.3,506.8 L506.9,513.4 L504.9,520.0 L502.7,526.5 L500.7,533.1 L499.5,540.1 L499.1,547.3 L499.5,554.6 L500.3,561.6 L501.4,568.3 L502.7,574.6 L504.2,580.6 L506.1,586.5 L508.5,592.6 L512.8,599.2Z" fill="#ff9a00" opacity="0.71"/>
<path d="M591.7,571.4 L594.8,563.9 L595.8,556.4 L595.9,549.0 L595.4,541.8 L594.6,534.8 L593.8,528.0 L593.2,521.1 L593.1,514.1 L593.4,506.9 L594.1,499.4 L595.0,491.9 L596.0,484.6 L597.2,477.3 L597.6,470.1 L597.6,470.1 L597.2,477.3 L596.0,484.6 L593.8,491.6 L590.9,498.6 L588.0,505.7 L585.5,512.9 L583.5,520.3 L582.4,527.9 L582.0,535.6 L582.5,543.1 L583.6,550.4 L585.4,557.5 L587.8,564.4 L591.7,571.4Z" fill="#ff9a00" opacity="0.36"/>
<path d="M642.0,593.3 L645.7,588.4 L647.6,583.8 L648.6,579.3 L649.2,574.9 L649.4,570.5 L649.3,566.0 L649.2,561.3 L649.0,556.4 L648.7,551.4 L648.4,546.4 L647.9,541.4 L647.7,536.6 L647.9,531.9 L647.7,527.2 L647.7,527.2 L647.9,531.9 L647.7,536.6 L646.5,541.3 L644.6,545.7 L642.4,550.2 L640.2,554.6 L638.1,559.2 L636.3,564.0 L634.9,568.9 L634.2,573.9 L634.4,579.0 L635.4,584.0 L637.6,588.8 L642.0,593.3Z" fill="#ffe680" opacity="0.23"/>
<path d="M581.1,572.3 L583.4,562.1 L583.4,551.9 L582.8,542.2 L582.8,533.0 L583.9,523.9 L586.1,514.2 L588.2,503.8 L588.7,493.2 L586.7,482.8 L583.0,473.0 L579.4,463.3 L578.2,453.5 L580.7,443.6 L585.7,433.7 L585.7,433.7 L580.7,443.6 L578.2,453.5 L578.4,463.5 L580.4,473.7 L582.3,483.7 L582.4,493.1 L580.4,502.2 L577.1,511.7 L573.9,521.8 L572.2,532.4 L572.8,543.0 L575.0,553.1 L577.7,562.7 L581.1,572.3Z" fill="#ffd648" opacity="0.71"/>
<path d="M468.1,585.4 L473.6,578.1 L476.8,570.4 L478.5,562.1 L478.5,553.3 L476.8,544.7 L473.9,536.7 L470.6,529.4 L467.8,522.5 L465.9,515.5 L465.2,508.0 L465.3,500.0 L466.0,492.1 L466.4,484.3 L465.0,476.5 L465.0,476.5 L466.4,484.3 L466.0,492.1 L463.7,499.7 L460.6,507.3 L458.3,515.3 L457.3,523.9 L457.7,532.5 L458.8,540.8 L460.0,548.3 L460.9,555.3 L461.7,562.0 L462.5,569.3 L464.1,577.1 L468.1,585.4Z" fill="#ffd648" opacity="0.52"/>
<path d="M451.0,571.7 L455.6,565.3 L458.0,558.6 L459.2,551.7 L459.3,544.7 L458.4,537.7 L456.8,530.9 L454.7,524.4 L452.6,518.1 L450.7,511.8 L449.3,505.5 L448.6,498.9 L449.1,492.2 L451.0,485.5 L453.4,478.9 L453.4,478.9 L451.0,485.5 L449.1,492.2 L447.2,498.7 L445.4,505.4 L444.3,512.2 L443.7,519.2 L443.6,526.2 L443.7,532.9 L444.0,539.4 L444.4,545.7 L444.9,551.9 L445.9,558.2 L447.6,564.8 L451.0,571.7Z" fill="#ffc428" opacity="0.57"/>
<path d="M461.1,594.2 L464.9,584.6 L466.3,575.1 L466.6,565.9 L466.4,557.1 L466.3,548.5 L466.4,539.9 L467.0,530.9 L467.9,521.5 L468.8,511.8 L469.0,502.1 L468.1,492.6 L466.6,483.4 L464.9,474.1 L462.5,464.9 L462.5,464.9 L464.9,474.1 L466.6,483.4 L466.5,492.6 L464.7,501.6 L461.7,510.4 L458.2,519.2 L454.7,528.3 L451.9,537.8 L450.1,547.6 L449.8,557.5 L450.7,567.2 L452.9,576.4 L456.0,585.4 L461.1,594.2Z" fill="#ffb010" opacity="0.50"/>
<path d="M575.7,600.1 L577.9,592.2 L578.4,584.1 L577.7,576.0 L576.4,568.1 L574.9,560.4 L573.7,553.0 L573.2,545.5 L573.5,537.9 L574.3,530.0 L575.1,522.0 L575.1,514.0 L574.1,506.2 L571.9,498.4 L568.5,490.5 L568.5,490.5 L571.9,498.4 L574.1,506.2 L574.4,514.0 L573.1,521.7 L571.0,529.4 L568.8,537.2 L567.3,545.2 L566.7,553.4 L567.3,561.5 L568.6,569.6 L570.3,577.3 L572.0,584.8 L573.6,592.4 L575.7,600.1Z" fill="#ffc428" opacity="0.66"/>
<path d="M455.7,570.0 L459.0,564.0 L460.0,558.2 L459.8,552.7 L459.1,547.6 L458.2,543.0 L457.3,538.6 L456.6,534.0 L456.3,529.0 L456.4,523.7 L456.7,518.1 L457.0,512.4 L457.2,507.0 L457.3,501.7 L456.3,496.5 L456.3,496.5 L457.3,501.7 L457.2,507.0 L455.6,512.1 L452.9,516.9 L450.0,521.8 L447.3,527.0 L445.0,532.5 L443.7,538.5 L443.3,544.5 L443.9,550.4 L445.5,555.9 L447.8,560.8 L450.9,565.5 L455.7,570.0Z" fill="#ffd648" opacity="0.52"/>
<path d="M641.8,576.0 L644.9,556.2 L644.2,536.4 L643.2,517.6 L644.3,499.4 L647.6,480.4 L649.9,460.0 L647.6,439.3 L640.6,419.6 L633.4,400.9 L630.6,382.4 L633.7,363.0 L639.0,343.4 L640.2,324.1 L633.9,304.7 L633.9,304.7 L640.2,324.1 L639.0,343.4 L632.2,362.6 L626.5,382.1 L626.7,402.2 L631.6,422.3 L635.9,441.4 L636.0,459.4 L632.4,477.8 L628.6,497.6 L628.1,518.1 L631.5,538.1 L636.4,557.1 L641.8,576.0Z" fill="#ffc428" opacity="0.25"/>
<path d="M400.4,581.3 L401.8,577.3 L402.2,573.3 L402.0,569.5 L401.6,565.9 L401.1,562.5 L400.6,559.0 L400.2,555.6 L400.1,552.0 L400.2,548.3 L400.7,544.5 L401.5,540.6 L402.7,536.8 L404.3,533.0 L405.9,529.3 L405.9,529.3 L404.3,533.0 L402.7,536.8 L400.8,540.3 L398.8,543.9 L396.9,547.5 L395.4,551.2 L394.3,555.1 L393.6,559.1 L393.5,563.1 L393.8,567.0 L394.6,570.9 L395.9,574.5 L397.7,578.0 L400.4,581.3Z" fill="#ffb010" opacity="0.70"/>
<path d="M592.1,562.1 L597.4,550.4 L600.3,538.2 L601.6,525.8 L601.1,513.1 L599.1,500.6 L596.0,488.5 L592.5,476.8 L589.4,465.3 L587.1,453.7 L585.8,441.9 L585.6,429.8 L586.1,417.7 L586.9,405.7 L586.2,393.6 L586.2,393.6 L586.9,405.7 L586.1,417.7 L584.0,429.7 L581.5,441.7 L579.9,453.9 L579.4,466.4 L580.1,479.0 L581.5,491.4 L583.1,503.3 L584.5,514.9 L585.6,526.3 L586.8,537.9 L588.4,549.8 L592.1,562.1Z" fill="#ff9a00" opacity="0.26"/>
<path d="M507.9,568.5 L513.1,559.7 L514.6,550.2 L514.0,540.9 L512.4,532.4 L510.9,525.0 L510.2,518.1 L510.6,510.6 L512.4,502.1 L514.7,492.8 L516.1,483.3 L515.2,474.2 L512.4,465.7 L508.3,457.1 L503.6,448.5 L503.6,448.5 L508.3,457.1 L512.4,465.7 L513.5,474.3 L511.4,482.3 L507.2,490.0 L502.1,497.8 L497.1,506.4 L493.7,516.1 L492.8,526.3 L494.1,536.1 L496.6,544.8 L499.6,552.6 L503.0,560.2 L507.9,568.5Z" fill="#ff9a00" opacity="0.51"/>
<path d="M560.4,603.1 L565.9,596.2 L569.1,589.3 L571.2,582.1 L572.2,574.4 L572.0,566.4 L570.5,558.4 L567.9,550.6 L564.3,543.2 L560.3,536.3 L556.2,529.5 L552.4,522.8 L550.0,515.8 L549.3,508.5 L549.5,501.2 L549.5,501.2 L549.3,508.5 L550.0,515.8 L550.7,523.3 L551.6,531.1 L552.6,538.9 L553.6,546.5 L554.1,553.8 L554.1,560.5 L553.8,567.0 L553.4,573.6 L553.4,580.5 L554.0,587.8 L555.8,595.4 L560.4,603.1Z" fill="#ff9a00" opacity="0.75"/>
<path d="M447.8,567.8 L451.0,559.0 L453.2,550.0 L454.6,540.6 L454.8,531.1 L453.6,521.7 L451.4,512.4 L449.1,503.5 L447.4,494.8 L446.9,486.0 L448.1,477.0 L450.5,467.7 L453.5,458.5 L456.1,449.4 L457.0,440.3 L457.0,440.3 L456.1,449.4 L453.5,458.5 L449.7,467.5 L446.0,476.4 L443.4,485.6 L442.4,495.0 L442.9,504.5 L444.2,513.9 L445.6,522.9 L446.5,531.6 L446.7,540.3 L446.5,549.3 L446.5,558.5 L447.8,567.8Z" fill="#ffd648" opacity="0.67"/>
<path d="M573.2,602.7 L577.3,592.1 L579.4,580.9 L579.0,569.3 L576.7,558.2 L574.4,547.8 L573.6,537.9 L575.1,527.6 L578.0,516.6 L579.8,505.1 L578.3,493.8 L573.5,483.0 L568.1,472.3 L565.4,461.4 L567.1,450.6 L567.1,450.6 L565.4,461.4 L568.1,472.3 L572.6,483.4 L575.7,494.3 L575.4,504.7 L572.1,514.9 L567.7,525.6 L564.7,537.1 L564.6,549.0 L566.8,560.3 L569.4,570.9 L571.1,581.1 L571.9,591.6 L573.2,602.7Z" fill="#ffd648" opacity="0.61"/>
<path d="M583.0,567.3 L586.3,561.2 L588.7,555.3 L590.8,549.2 L592.6,542.7 L593.8,535.9 L594.1,528.9 L593.1,521.8 L591.0,515.0 L587.8,508.6 L584.1,502.4 L580.3,496.3 L577.2,490.1 L575.7,483.7 L575.5,477.2 L575.5,477.2 L575.7,483.7 L577.2,490.1 L579.4,496.7 L581.6,503.5 L583.6,510.2 L584.8,516.7 L585.2,522.7 L584.7,528.6 L583.6,534.4 L582.2,540.5 L580.9,546.9 L580.2,553.7 L580.6,560.6 L583.0,567.3Z" fill="#ffe680" opacity="0.46"/>
<path d="M454.2,566.6 L457.9,561.3 L459.6,555.8 L460.2,550.2 L459.9,544.5 L458.8,539.0 L457.1,533.6 L455.0,528.4 L452.7,523.4 L450.4,518.4 L448.2,513.4 L446.3,508.3 L445.3,503.1 L445.2,497.8 L445.5,492.6 L445.5,492.6 L445.2,497.8 L445.3,503.1 L445.1,508.5 L444.9,514.0 L444.9,519.6 L445.1,525.2 L445.4,530.7 L445.8,536.1 L446.3,541.3 L446.9,546.3 L447.8,551.2 L449.0,556.2 L450.8,561.2 L454.2,566.6Z" fill="#ffc428" opacity="0.36"/>
<path d="M433.9,566.1 L435.4,560.6 L435.8,555.2 L435.5,549.7 L434.9,544.4 L434.1,539.2 L433.2,534.1 L432.4,528.9 L431.9,523.8 L431.6,518.6 L431.8,513.3 L432.3,507.9 L433.6,502.5 L435.4,497.2 L437.4,491.9 L437.4,491.9 L435.4,497.2 L433.6,502.5 L431.7,507.7 L429.9,513.0 L428.5,518.3 L427.5,523.7 L426.9,529.1 L426.8,534.6 L427.1,540.1 L427.7,545.5 L428.7,550.7 L429.9,555.9 L431.5,561.0 L433.9,566.1Z" fill="#ffd648" opacity="0.43"/>
<path d="M433.2,590.8 L436.6,583.7 L438.0,576.3 L438.2,568.8 L437.4,561.4 L435.8,554.1 L433.7,547.0 L431.5,540.1 L429.2,533.4 L427.3,526.6 L425.8,519.7 L424.8,512.6 L424.6,505.5 L425.2,498.4 L425.7,491.3 L425.7,491.3 L425.2,498.4 L424.6,505.5 L423.7,512.6 L422.7,519.8 L422.2,527.1 L422.1,534.5 L422.6,541.9 L423.4,549.3 L424.4,556.4 L425.6,563.3 L426.8,570.1 L428.3,576.8 L430.1,583.7 L433.2,590.8Z" fill="#ffe680" opacity="0.67"/>
<path d="M422.6,572.6 L427.2,569.1 L429.5,566.1 L430.6,563.4 L431.1,561.0 L430.9,558.5 L430.3,556.0 L429.5,553.3 L428.7,550.4 L427.9,547.3 L427.3,544.0 L427.0,540.5 L427.4,537.3 L428.6,534.3 L430.0,531.4 L430.0,531.4 L428.6,534.3 L427.4,537.3 L425.3,539.9 L422.8,542.4 L420.2,544.9 L417.8,547.7 L415.7,550.7 L413.9,553.9 L412.8,557.2 L412.4,560.7 L412.8,564.1 L414.4,567.3 L417.2,570.2 L422.6,572.6Z" fill="#ffb010" opacity="0.65"/>
<path d="M632.6,601.2 L634.5,592.1 L634.6,583.0 L633.6,574.0 L632.4,565.3 L631.4,556.9 L631.2,548.6 L631.9,540.0 L633.2,531.2 L634.6,522.1 L635.1,513.0 L634.1,504.1 L631.7,495.3 L628.1,486.5 L623.9,477.7 L623.9,477.7 L628.1,486.5 L631.7,495.3 L633.3,504.2 L632.9,512.9 L630.9,521.5 L628.2,530.0 L625.5,538.8 L623.6,547.9 L623.1,557.2 L623.8,566.5 L625.5,575.4 L627.6,584.0 L629.9,592.5 L632.6,601.2Z" fill="#ffe680" opacity="0.38"/>
<path d="M605.1,590.1 L609.6,578.6 L613.6,566.9 L616.2,554.2 L615.4,540.7 L611.0,527.9 L606.0,516.4 L603.1,505.9 L603.6,495.0 L606.5,482.8 L607.8,470.0 L604.0,457.8 L595.8,446.0 L587.4,434.0 L583.3,422.0 L583.3,422.0 L587.4,434.0 L595.8,446.0 L602.8,458.3 L604.3,470.0 L600.9,481.3 L595.8,493.1 L592.9,506.2 L594.6,519.7 L598.7,532.2 L602.2,543.4 L603.4,553.9 L602.8,565.2 L602.4,577.6 L605.1,590.1Z" fill="#ffd648" opacity="0.36"/>
<path d="M537.1,574.8 L540.8,565.5 L541.8,556.1 L541.4,546.8 L540.1,537.9 L538.7,529.5 L537.4,521.3 L536.7,513.1 L536.8,504.6 L537.9,495.7 L539.6,486.5 L541.5,477.1 L543.3,468.0 L544.8,459.1 L544.8,450.2 L544.8,450.2 L544.8,459.1 L543.3,468.0 L540.1,476.7 L535.8,485.2 L531.5,493.8 L527.8,502.6 L525.1,511.9 L523.7,521.5 L523.7,531.1 L524.9,540.4 L526.8,549.3 L529.4,557.9 L532.5,566.2 L537.1,574.8Z" fill="#ff9a00" opacity="0.39"/>
<path d="M442.5,587.1 L447.8,579.5 L451.2,571.5 L453.1,562.8 L453.2,553.6 L451.4,544.6 L448.7,536.5 L446.1,529.1 L444.5,521.9 L444.5,514.3 L446.0,506.0 L448.1,497.3 L449.7,488.9 L449.9,480.7 L447.7,472.5 L447.7,472.5 L449.9,480.7 L449.7,488.9 L446.6,496.8 L442.1,504.5 L437.8,512.6 L435.0,521.3 L434.2,530.6 L434.9,539.6 L436.2,547.8 L437.3,555.2 L437.9,562.4 L438.3,570.0 L439.3,578.4 L442.5,587.1Z" fill="#ffc428" opacity="0.62"/>
<path d="M611.3,576.4 L611.5,561.4 L611.1,546.8 L611.6,532.4 L613.7,518.1 L616.4,503.3 L618.1,488.1 L616.7,472.8 L612.2,457.8 L605.9,443.2 L600.7,428.8 L598.7,414.3 L601.0,399.5 L606.0,384.8 L610.1,370.1 L610.1,370.1 L606.0,384.8 L601.0,399.5 L597.9,414.3 L598.7,429.2 L602.8,444.3 L607.7,459.2 L610.9,473.7 L611.1,487.8 L608.9,502.1 L606.0,516.8 L604.2,531.9 L604.8,547.1 L607.4,561.9 L611.3,576.4Z" fill="#ff9a00" opacity="0.29"/>
<path d="M522.3,589.1 L523.7,581.2 L523.5,573.4 L522.8,565.8 L522.1,558.6 L521.7,551.6 L521.9,544.4 L522.7,537.1 L523.9,529.5 L525.0,521.6 L525.3,513.8 L524.5,506.1 L522.3,498.6 L519.0,491.1 L514.5,483.5 L514.5,483.5 L519.0,491.1 L522.3,498.6 L523.6,506.2 L523.0,513.6 L521.1,520.9 L518.6,528.2 L516.0,535.6 L513.9,543.3 L512.8,551.3 L512.9,559.3 L514.2,567.2 L516.2,574.7 L518.8,582.0 L522.3,589.1Z" fill="#ffb010" opacity="0.40"/>
<path d="M561.0,566.2 L565.6,560.3 L568.1,553.9 L569.4,547.1 L569.2,540.0 L567.6,533.0 L565.1,526.4 L562.1,520.3 L559.1,514.5 L556.4,508.8 L554.4,503.0 L553.3,496.8 L553.5,490.4 L554.9,484.1 L556.0,477.8 L556.0,477.8 L554.9,484.1 L553.5,490.4 L551.9,496.7 L550.6,503.2 L550.1,510.0 L550.5,516.9 L551.5,523.7 L552.6,530.2 L553.6,536.3 L554.5,541.9 L555.2,547.5 L556.2,553.3 L557.7,559.5 L561.0,566.2Z" fill="#ffc428" opacity="0.38"/>
<path d="M472.3,586.1 L475.5,577.3 L477.8,568.5 L479.4,559.5 L480.5,550.3 L480.6,540.9 L479.6,531.5 L477.6,522.2 L474.7,513.2 L471.4,504.3 L468.0,495.6 L465.2,486.8 L463.6,477.9 L463.6,468.9 L464.7,459.8 L464.7,459.8 L463.6,468.9 L463.6,477.9 L464.2,487.0 L465.4,496.2 L467.1,505.5 L468.8,514.7 L470.0,523.7 L470.7,532.4 L470.7,541.1 L470.3,549.7 L469.8,558.6 L469.6,567.6 L470.1,576.8 L472.3,586.1Z" fill="#ffb010" opacity="0.49"/>
<path d="M435.5,600.5 L437.7,595.5 L438.4,590.4 L438.5,585.4 L438.0,580.5 L437.3,575.8 L436.5,571.2 L435.7,566.6 L435.3,561.9 L435.1,557.2 L435.3,552.3 L435.8,547.3 L436.6,542.3 L437.8,537.5 L438.7,532.6 L438.7,532.6 L437.8,537.5 L436.6,542.3 L435.0,547.1 L433.1,551.8 L431.4,556.6 L430.0,561.5 L429.1,566.5 L428.7,571.7 L428.8,576.7 L429.3,581.7 L430.1,586.5 L431.3,591.2 L432.9,595.8 L435.5,600.5Z" fill="#ffe680" opacity="0.40"/>
<path d="M633.5,573.7 L637.6,567.7 L639.1,561.8 L639.4,556.1 L638.9,550.8 L637.9,545.7 L636.6,540.9 L635.2,536.0 L634.0,531.0 L632.9,525.8 L632.2,520.3 L631.9,514.7 L632.2,509.1 L633.3,503.7 L634.1,498.4 L634.1,498.4 L633.3,503.7 L632.2,509.1 L630.2,514.3 L627.6,519.5 L625.3,524.8 L623.2,530.3 L621.6,536.1 L620.7,542.0 L620.5,547.9 L621.1,553.7 L622.5,559.1 L624.7,564.2 L628.0,569.1 L633.5,573.7Z" fill="#ff9a00" opacity="0.48"/>
<path d="M588.1,572.2 L591.3,563.3 L593.7,554.4 L595.5,545.2 L596.5,535.9 L596.6,526.4 L595.6,517.0 L593.7,507.6 L591.1,498.5 L588.2,489.5 L585.7,480.6 L583.9,471.6 L583.7,462.5 L585.2,453.4 L588.1,444.2 L588.1,444.2 L585.2,453.4 L583.7,462.5 L583.1,471.7 L583.5,481.0 L584.7,490.3 L586.2,499.6 L587.5,508.8 L588.3,517.8 L588.5,526.6 L588.2,535.4 L587.5,544.4 L586.9,553.5 L586.9,562.8 L588.1,572.2Z" fill="#ffb010" opacity="0.27"/>
<path d="M575.4,566.7 L578.0,559.7 L579.7,552.8 L581.2,545.8 L582.5,538.8 L583.4,531.5 L583.8,524.1 L583.5,516.5 L582.1,509.0 L579.7,501.8 L576.3,494.7 L572.1,487.8 L567.7,480.8 L563.5,473.7 L559.6,466.5 L559.6,466.5 L563.5,473.7 L567.7,480.8 L571.4,488.2 L574.1,495.6 L575.9,502.9 L576.7,509.9 L576.6,516.7 L575.8,523.5 L574.6,530.4 L573.4,537.4 L572.6,544.7 L572.3,552.1 L573.0,559.5 L575.4,566.7Z" fill="#ffb010" opacity="0.43"/>
<path d="M476.3,591.5 L480.7,585.5 L482.5,578.9 L482.7,572.2 L481.8,565.6 L479.9,559.4 L477.5,553.5 L475.1,548.0 L472.8,542.6 L471.0,537.2 L470.1,531.4 L470.0,525.3 L471.4,519.1 L474.1,513.1 L477.0,507.0 L477.0,507.0 L474.1,513.1 L471.4,519.1 L468.6,524.9 L466.1,530.9 L464.4,537.2 L463.6,543.9 L463.6,550.6 L464.3,557.1 L465.4,563.3 L466.6,569.2 L468.2,574.7 L470.0,580.0 L472.3,585.5 L476.3,591.5Z" fill="#ffd648" opacity="0.45"/>
<path d="M502.9,589.2 L508.7,580.9 L512.1,572.0 L513.7,562.5 L513.4,552.7 L511.4,543.2 L508.4,534.3 L505.3,526.1 L502.8,518.2 L501.6,510.2 L501.9,501.5 L503.7,492.3 L506.4,483.2 L509.0,474.3 L509.9,465.5 L509.9,465.5 L509.0,474.3 L506.4,483.2 L502.1,491.7 L497.5,500.2 L494.0,509.2 L492.2,518.8 L492.1,528.6 L493.2,538.0 L494.6,546.8 L495.8,555.0 L496.8,562.8 L497.8,571.0 L499.3,579.8 L502.9,589.2Z" fill="#ffb010" opacity="0.39"/>
<path d="M549.3,567.1 L552.3,557.4 L553.3,547.8 L553.4,538.3 L553.1,529.0 L552.7,519.9 L552.4,510.8 L552.5,501.6 L553.0,492.2 L553.5,482.5 L553.8,472.8 L553.5,463.2 L552.7,453.7 L551.6,444.3 L549.6,434.8 L549.6,434.8 L551.6,444.3 L552.7,453.7 L552.2,463.1 L550.4,472.4 L547.9,481.6 L545.2,490.9 L542.7,500.3 L540.8,510.0 L539.9,519.8 L539.9,529.6 L540.9,539.3 L542.7,548.7 L545.2,557.9 L549.3,567.1Z" fill="#ffb010" opacity="0.58"/>
<path d="M543.8,589.9 L548.6,579.9 L550.8,569.4 L551.2,558.5 L549.9,547.8 L547.6,537.4 L544.8,527.6 L542.4,518.0 L540.6,508.3 L539.4,498.3 L538.4,488.1 L536.9,477.8 L534.6,467.7 L531.4,457.5 L526.7,447.3 L526.7,447.3 L531.4,457.5 L534.6,467.7 L535.4,477.9 L534.3,488.0 L532.6,498.1 L531.1,508.5 L530.5,519.2 L531.0,530.0 L532.5,540.5 L534.3,550.6 L536.2,560.2 L538.0,569.8 L540.1,579.6 L543.8,589.9Z" fill="#ffd648" opacity="0.54"/>
<path d="M498.1,601.3 L501.6,594.2 L502.5,586.6 L501.9,579.0 L500.2,571.7 L498.1,565.0 L496.3,558.7 L495.1,552.6 L495.0,546.3 L496.2,539.5 L498.6,532.3 L501.8,524.8 L505.0,517.5 L507.7,510.5 L508.6,503.6 L508.6,503.6 L507.7,510.5 L505.0,517.5 L500.7,524.2 L495.8,530.7 L491.2,537.4 L487.7,544.6 L485.7,552.3 L485.4,560.1 L486.4,567.8 L488.2,575.0 L490.4,581.7 L492.6,588.1 L494.9,594.4 L498.1,601.3Z" fill="#ff9a00" opacity="0.50"/>
<path d="M646.4,578.9 L649.0,574.1 L650.1,569.4 L650.7,564.8 L650.9,560.4 L650.9,555.9 L650.6,551.4 L650.4,546.9 L650.1,542.2 L649.8,537.5 L649.5,532.7 L649.1,527.9 L649.0,523.2 L649.2,518.6 L649.0,514.0 L649.0,514.0 L649.2,518.6 L649.0,523.2 L648.1,527.8 L646.6,532.3 L645.1,536.8 L643.5,541.4 L642.1,546.0 L640.9,550.7 L640.2,555.5 L639.9,560.3 L640.2,565.2 L641.2,569.9 L643.0,574.5 L646.4,578.9Z" fill="#ffc428" opacity="0.48"/>
<path d="M554.8,605.5 L557.6,598.3 L559.0,591.0 L559.6,583.6 L559.3,576.0 L558.3,568.6 L556.6,561.2 L554.4,554.0 L552.1,546.9 L550.0,539.8 L548.1,532.8 L546.8,525.7 L546.4,518.4 L546.9,511.2 L547.8,503.9 L547.8,503.9 L546.9,511.2 L546.4,518.4 L546.0,525.7 L545.9,533.1 L546.2,540.5 L547.0,548.0 L548.0,555.4 L548.9,562.7 L549.8,569.8 L550.6,576.9 L551.2,583.9 L551.9,590.9 L552.9,598.1 L554.8,605.5Z" fill="#ffc428" opacity="0.45"/>
<path d="M535.7,574.3 L539.6,567.6 L541.5,560.6 L542.3,553.6 L542.1,546.5 L541.1,539.6 L539.7,532.8 L537.9,526.2 L536.2,519.7 L534.8,513.2 L533.7,506.5 L533.3,499.7 L534.0,492.9 L535.8,486.1 L537.9,479.3 L537.9,479.3 L535.8,486.1 L534.0,492.9 L532.1,499.5 L530.2,506.3 L528.9,513.3 L528.1,520.3 L527.7,527.4 L527.7,534.3 L528.0,541.1 L528.5,547.8 L529.3,554.3 L530.5,560.8 L532.3,567.4 L535.7,574.3Z" fill="#ff9a00" opacity="0.74"/>
<path d="M519.4,589.5 L522.2,582.0 L523.4,574.9 L524.0,568.1 L524.5,561.5 L524.9,554.8 L525.4,548.0 L526.0,540.9 L526.6,533.5 L527.0,526.0 L526.8,518.6 L525.9,511.3 L524.5,504.2 L522.7,497.1 L519.8,490.0 L519.8,490.0 L522.7,497.1 L524.5,504.2 L524.6,511.4 L523.3,518.3 L521.2,525.1 L518.7,531.8 L516.1,538.7 L513.7,545.8 L511.9,553.1 L511.0,560.7 L511.1,568.3 L512.4,575.7 L515.0,582.8 L519.4,589.5Z" fill="#ffb010" opacity="0.61"/>
<path d="M510.0,601.4 L514.6,591.2 L517.7,581.3 L520.2,571.2 L522.0,560.6 L522.5,549.4 L521.0,537.8 L517.4,526.7 L512.1,516.1 L506.0,506.2 L500.2,496.5 L495.7,486.7 L493.8,476.4 L494.7,466.0 L497.0,455.6 L497.0,455.6 L494.7,466.0 L493.8,476.4 L494.2,487.0 L496.1,498.0 L499.3,509.1 L502.7,520.0 L505.1,530.4 L506.2,540.0 L506.1,549.3 L505.2,558.9 L504.2,569.1 L504.0,579.9 L505.5,590.8 L510.0,601.4Z" fill="#ffb010" opacity="0.63"/>
<path d="M640.2,574.4 L643.2,557.1 L645.2,539.5 L645.7,521.8 L644.2,504.1 L641.7,486.7 L640.1,469.5 L640.6,452.3 L642.5,434.8 L643.8,417.1 L642.4,399.5 L638.2,382.0 L633.5,364.6 L631.6,347.2 L633.3,329.7 L633.3,329.7 L631.6,347.2 L633.5,364.6 L637.5,382.2 L640.6,399.7 L640.8,417.0 L638.4,434.3 L635.3,451.8 L634.0,469.6 L635.0,487.4 L637.3,504.9 L639.1,522.1 L639.6,539.4 L639.4,556.8 L640.2,574.4Z" fill="#ff8400" opacity="0.48"/>
<path d="M531.1,596.5 L535.2,587.9 L536.7,579.6 L537.0,571.6 L536.9,564.1 L536.7,556.9 L536.6,549.5 L536.7,541.7 L536.9,533.4 L536.9,524.9 L536.1,516.5 L534.2,508.3 L531.8,500.4 L529.2,492.4 L526.1,484.4 L526.1,484.4 L529.2,492.4 L531.8,500.4 L532.5,508.5 L531.4,516.4 L529.2,523.9 L526.3,531.4 L523.3,539.2 L520.8,547.4 L519.2,556.0 L518.9,564.8 L520.0,573.3 L522.2,581.3 L525.6,589.0 L531.1,596.5Z" fill="#ffe680" opacity="0.67"/>
<path d="M549.0,594.8 L553.4,589.1 L555.6,583.7 L557.0,578.4 L557.8,573.2 L558.1,567.8 L558.1,562.2 L557.9,556.5 L557.3,550.6 L556.5,544.7 L555.4,538.9 L554.0,533.2 L552.6,527.7 L551.5,522.1 L549.9,516.5 L549.9,516.5 L551.5,522.1 L552.6,527.7 L552.4,533.3 L551.1,538.8 L549.3,544.1 L547.3,549.4 L545.3,554.7 L543.4,560.2 L541.9,565.8 L541.0,571.6 L541.0,577.6 L542.0,583.5 L544.3,589.3 L549.0,594.8Z" fill="#ff9a00" opacity="0.55"/>
<path d="M587.8,572.9 L592.5,563.0 L594.8,552.6 L595.5,542.0 L594.8,531.5 L593.2,521.4 L591.3,511.6 L589.7,502.0 L588.9,492.4 L589.3,482.5 L590.6,472.3 L592.6,461.8 L594.9,451.5 L597.0,441.4 L597.5,431.2 L597.5,431.2 L597.0,441.4 L594.9,451.5 L591.3,461.4 L586.8,471.2 L582.8,481.1 L579.8,491.5 L578.2,502.1 L577.9,512.8 L578.5,523.3 L579.6,533.3 L581.0,543.1 L582.5,552.7 L584.3,562.6 L587.8,572.9Z" fill="#ffe680" opacity="0.31"/>
</g>
<g clip-path="url(#cInt)">
<path d="M412,574 Q430,562 470,560 Q520,552 570,553 Q620,556 648,578 L656,598 L600,607 L583,611 L560,598 L503,608 L470,602 L428,606 Z" fill="#b2524a" opacity="0.95"/>
<g opacity="0.9">
<ellipse cx="468" cy="583" rx="54" ry="12" transform="rotate(-5 468 583)" fill="#b25248" stroke="#6a2018" stroke-width="1.2"/>
<ellipse cx="602" cy="580" rx="52" ry="12" transform="rotate(7 602 580)" fill="#c06258" stroke="#6a2018" stroke-width="1.2"/>
<ellipse cx="536" cy="570" rx="60" ry="11" transform="rotate(-2 536 570)" fill="#a4463c" stroke="#6a2018" stroke-width="1.2"/>
<ellipse cx="522" cy="593" rx="46" ry="9" transform="rotate(3 522 593)" fill="#bc5c54" stroke="#6a2018" stroke-width="1.2"/>
<ellipse cx="612" cy="596" rx="40" ry="8" transform="rotate(-3 612 596)" fill="#a2463c" stroke="#6a2018" stroke-width="1.2"/>
<ellipse cx="444" cy="597" rx="30" ry="7" transform="rotate(4 444 597)" fill="#aa4e44" stroke="#6a2018" stroke-width="1.2"/>
</g>
<g filter="url(#logTex)"><path d="M412,574 Q430,562 470,560 Q520,552 570,553 Q620,556 648,578 L656,598 L600,607 L583,611 L560,598 L503,608 L470,602 L428,606 Z" fill="#fff"/></g>
<ellipse cx="530" cy="586" rx="60" ry="14" fill="#ff9a20" opacity="0.5" filter="url(#b4)"/>
</g>
<g clip-path="url(#cInt)" style="mix-blend-mode:screen">
<path d="M642.4,597.9 L640.8,585.9 L638.8,573.9 L637.8,561.9 L638.8,549.8 L641.3,537.8 L643.5,525.8 L643.4,513.8 L640.1,501.8 L634.7,489.8 L629.9,477.8 L628.1,465.8 L630.3,453.8 L634.7,441.7 L637.8,429.7" fill="none" stroke="#ffd848" stroke-width="0.9" stroke-linecap="round" opacity="0.39"/>
<path d="M533.8,573.5 L534.5,567.2 L535.4,560.9 L536.4,554.6 L537.3,548.3 L537.7,542.1 L537.6,535.8 L536.8,529.5 L535.1,523.2 L532.8,516.9 L529.8,510.6 L526.6,504.3 L523.5,498.0 L520.8,491.7 L518.7,485.4" fill="none" stroke="#ffe070" stroke-width="1.0" stroke-linecap="round" opacity="0.56"/>
<path d="M497.5,564.3 L497.9,556.5 L497.9,548.6 L497.4,540.8 L496.3,532.9 L494.7,525.1 L492.7,517.3 L490.8,509.4 L489.0,501.6 L487.8,493.7 L487.2,485.9 L487.3,478.1 L487.8,470.2 L488.5,462.4 L488.9,454.5" fill="none" stroke="#fff6c8" stroke-width="1.9" stroke-linecap="round" opacity="0.70"/>
<path d="M602.2,576.4 L601.3,563.4 L599.8,550.3 L598.4,537.2 L597.8,524.2 L598.4,511.1 L599.9,498.0 L601.6,484.9 L602.3,471.9 L601.3,458.8 L598.3,445.7 L594.0,432.7 L589.8,419.6 L587.1,406.5 L586.9,393.4" fill="none" stroke="#fff6c8" stroke-width="1.4" stroke-linecap="round" opacity="0.31"/>
<path d="M438.1,555.1 L438.7,547.8 L439.4,540.5 L439.7,533.2 L439.3,526.0 L438.1,518.7 L436.4,511.4 L434.5,504.2 L433.3,496.9 L433.1,489.6 L433.9,482.4 L435.2,475.1 L436.1,467.8 L435.8,460.6 L433.9,453.3" fill="none" stroke="#fff0a0" stroke-width="1.0" stroke-linecap="round" opacity="0.66"/>
<path d="M520.7,556.2 L521.5,541.7 L522.1,527.2 L521.9,512.7 L521.1,498.2 L520.0,483.7 L519.5,469.2 L520.4,454.7 L522.5,440.2 L525.0,425.7 L526.9,411.2 L527.2,396.7 L525.9,382.2 L524.0,367.7 L523.0,353.2" fill="none" stroke="#fff6c8" stroke-width="0.9" stroke-linecap="round" opacity="0.67"/>
<path d="M471.5,571.8 L471.3,563.0 L472.1,554.1 L473.8,545.3 L475.7,536.5 L476.6,527.6 L475.8,518.8 L473.2,510.0 L469.7,501.1 L466.8,492.3 L465.8,483.4 L467.5,474.6 L471.2,465.8 L475.1,456.9 L477.3,448.1" fill="none" stroke="#fff0a0" stroke-width="1.8" stroke-linecap="round" opacity="0.85"/>
<path d="M448.8,596.9 L448.1,588.4 L447.4,579.9 L447.1,571.4 L447.7,562.9 L449.1,554.4 L450.5,545.9 L451.0,537.4 L450.2,528.9 L448.4,520.4 L446.9,511.9 L446.8,503.4 L448.5,494.9 L451.3,486.4 L453.6,477.9" fill="none" stroke="#ffd848" stroke-width="1.6" stroke-linecap="round" opacity="0.42"/>
<path d="M571.6,569.0 L572.1,558.7 L572.7,548.4 L573.2,538.1 L573.3,527.8 L572.7,517.5 L571.3,507.2 L569.2,496.9 L566.8,486.6 L564.4,476.3 L562.7,466.1 L561.8,455.8 L561.8,445.5 L562.5,435.2 L563.3,424.9" fill="none" stroke="#ffe070" stroke-width="1.4" stroke-linecap="round" opacity="0.42"/>
<path d="M651.2,597.7 L652.7,584.7 L653.7,571.6 L653.2,558.6 L651.1,545.5 L648.5,532.5 L647.3,519.4 L648.8,506.3 L652.4,493.3 L655.9,480.2 L656.9,467.2 L654.3,454.1 L649.4,441.1 L645.3,428.0 L645.0,415.0" fill="none" stroke="#fff0a0" stroke-width="0.7" stroke-linecap="round" opacity="0.59"/>
<path d="M492.2,555.1 L491.5,544.3 L489.7,533.5 L488.2,522.7 L488.1,511.9 L489.3,501.1 L490.4,490.3 L489.5,479.5 L485.9,468.7 L481.2,457.9 L477.9,447.1 L477.7,436.4 L479.5,425.6 L480.3,414.8 L477.5,404.0" fill="none" stroke="#fff0a0" stroke-width="1.6" stroke-linecap="round" opacity="0.90"/>
<path d="M607.6,566.0 L607.3,551.5 L608.0,537.0 L608.8,522.5 L608.0,507.9 L606.2,493.4 L605.5,478.9 L606.6,464.4 L607.6,449.8 L606.3,435.3 L603.3,420.8 L601.9,406.3 L603.4,391.7 L604.8,377.2 L603.0,362.7" fill="none" stroke="#ffe070" stroke-width="1.9" stroke-linecap="round" opacity="0.37"/>
<path d="M443.1,567.7 L443.8,560.6 L444.5,553.4 L444.8,546.3 L444.7,539.1 L443.9,532.0 L442.5,524.8 L440.5,517.7 L438.1,510.5 L435.6,503.4 L433.3,496.2 L431.5,489.1 L430.4,482.0 L430.2,474.8 L430.7,467.7" fill="none" stroke="#fff6c8" stroke-width="1.4" stroke-linecap="round" opacity="0.47"/>
<path d="M564.4,560.0 L565.0,549.5 L565.6,539.1 L565.9,528.6 L565.4,518.2 L564.2,507.8 L562.5,497.3 L561.0,486.9 L560.2,476.5 L560.4,466.0 L561.5,455.6 L562.7,445.2 L563.2,434.7 L562.3,424.3 L559.8,413.8" fill="none" stroke="#ffe070" stroke-width="1.7" stroke-linecap="round" opacity="0.49"/>
<path d="M619.3,576.0 L619.7,556.5 L617.9,537.1 L614.7,517.6 L612.5,498.1 L612.9,478.6 L614.8,459.1 L614.8,439.6 L610.5,420.2 L603.3,400.7 L597.4,381.2 L596.0,361.7 L598.1,342.2 L598.5,322.8 L593.0,303.3" fill="none" stroke="#ffe070" stroke-width="1.9" stroke-linecap="round" opacity="0.35"/>
<path d="M600.0,593.5 L598.0,574.2 L597.0,554.9 L599.5,535.7 L602.7,516.4 L602.2,497.1 L598.5,477.8 L597.4,458.5 L602.2,439.2 L607.6,419.9 L606.7,400.7 L601.2,381.4 L600.1,362.1 L607.3,342.8 L614.8,323.5" fill="none" stroke="#fff6c8" stroke-width="1.0" stroke-linecap="round" opacity="0.28"/>
<path d="M505.6,600.2 L505.6,591.8 L505.9,583.4 L506.3,574.9 L506.7,566.5 L506.7,558.0 L506.3,549.6 L505.3,541.2 L503.7,532.7 L501.9,524.3 L500.3,515.9 L499.2,507.4 L498.7,499.0 L498.9,490.5 L499.4,482.1" fill="none" stroke="#fff0a0" stroke-width="1.8" stroke-linecap="round" opacity="0.83"/>
<path d="M419.0,572.9 L419.2,567.3 L419.7,561.7 L420.5,556.2 L421.5,550.6 L422.5,545.1 L423.4,539.5 L424.1,534.0 L424.4,528.4 L424.3,522.8 L423.7,517.3 L422.7,511.7 L421.3,506.2 L419.8,500.6 L418.4,495.1" fill="none" stroke="#fff6c8" stroke-width="1.2" stroke-linecap="round" opacity="0.44"/>
<path d="M424.0,557.5 L424.7,550.2 L425.2,542.8 L425.1,535.5 L424.4,528.2 L423.0,520.9 L421.4,513.5 L420.0,506.2 L419.3,498.9 L419.7,491.6 L421.3,484.3 L424.0,476.9 L427.1,469.6 L430.1,462.3 L432.2,455.0" fill="none" stroke="#fff6c8" stroke-width="1.5" stroke-linecap="round" opacity="0.85"/>
<path d="M603.8,593.3 L604.3,585.4 L604.6,577.4 L604.3,569.5 L603.6,561.5 L602.3,553.6 L600.7,545.6 L598.9,537.7 L597.3,529.8 L596.1,521.8 L595.6,513.9 L595.9,505.9 L596.9,498.0 L598.4,490.0 L600.0,482.1" fill="none" stroke="#fff6c8" stroke-width="0.9" stroke-linecap="round" opacity="0.57"/>
<path d="M416.5,555.7 L416.1,548.4 L416.1,541.2 L416.7,534.0 L417.9,526.8 L419.5,519.6 L421.1,512.3 L422.3,505.1 L422.7,497.9 L422.1,490.7 L420.5,483.5 L418.2,476.3 L415.7,469.0 L413.7,461.8 L412.6,454.6" fill="none" stroke="#ffd848" stroke-width="1.1" stroke-linecap="round" opacity="0.44"/>
<path d="M515.4,573.0 L513.8,563.6 L512.3,554.3 L512.0,544.9 L513.4,535.5 L515.4,526.2 L516.2,516.8 L514.2,507.4 L509.7,498.1 L504.8,488.7 L502.0,479.3 L502.7,470.0 L505.8,460.6 L508.2,451.2 L506.8,441.9" fill="none" stroke="#fff0a0" stroke-width="2.0" stroke-linecap="round" opacity="0.49"/>
<path d="M531.3,564.5 L530.4,556.1 L529.5,547.6 L529.0,539.2 L528.9,530.8 L529.5,522.3 L530.5,513.9 L531.8,505.5 L532.8,497.1 L533.3,488.6 L532.8,480.2 L531.0,471.8 L528.1,463.4 L524.1,454.9 L519.7,446.5" fill="none" stroke="#fff0a0" stroke-width="1.1" stroke-linecap="round" opacity="0.45"/>
<path d="M613.5,567.5 L613.1,560.5 L612.8,553.5 L612.7,546.5 L613.0,539.4 L613.6,532.4 L614.4,525.4 L615.1,518.4 L615.4,511.4 L615.1,504.3 L614.2,497.3 L613.0,490.3 L611.8,483.3 L611.0,476.3 L611.0,469.2" fill="none" stroke="#ffd848" stroke-width="1.2" stroke-linecap="round" opacity="0.29"/>
<path d="M655.5,594.7 L654.6,578.6 L653.3,562.4 L652.5,546.2 L652.7,530.0 L653.6,513.9 L654.0,497.7 L652.9,481.5 L649.9,465.3 L646.0,449.2 L643.0,433.0 L642.1,416.8 L642.8,400.7 L643.6,384.5 L642.2,368.3" fill="none" stroke="#fff6c8" stroke-width="1.3" stroke-linecap="round" opacity="0.44"/>
<path d="M482.6,555.7 L483.5,549.4 L484.4,543.1 L485.1,536.9 L485.4,530.6 L485.0,524.3 L484.0,518.0 L482.3,511.7 L480.4,505.4 L478.6,499.1 L477.3,492.9 L476.8,486.6 L477.4,480.3 L479.2,474.0 L481.7,467.7" fill="none" stroke="#ffd848" stroke-width="1.9" stroke-linecap="round" opacity="0.67"/>
<path d="M532.9,587.0 L532.2,573.8 L530.0,560.5 L527.4,547.2 L525.7,534.0 L525.9,520.7 L528.1,507.5 L530.9,494.2 L532.3,480.9 L530.6,467.7 L525.7,454.4 L518.9,441.1 L513.1,427.9 L510.7,414.6 L512.5,401.3" fill="none" stroke="#fff0a0" stroke-width="2.0" stroke-linecap="round" opacity="0.64"/>
<path d="M579.1,566.2 L578.2,559.3 L577.2,552.3 L576.4,545.4 L576.0,538.5 L576.2,531.5 L577.1,524.6 L578.7,517.7 L580.8,510.8 L583.3,503.8 L585.6,496.9 L587.5,490.0 L588.6,483.1 L588.7,476.1 L587.6,469.2" fill="none" stroke="#ffd848" stroke-width="1.0" stroke-linecap="round" opacity="0.79"/>
<path d="M622.9,599.0 L622.1,589.7 L621.2,580.3 L620.9,570.9 L621.7,561.5 L623.2,552.1 L624.2,542.7 L623.8,533.3 L622.0,523.9 L619.9,514.6 L619.1,505.2 L620.4,495.8 L622.9,486.4 L624.9,477.0 L624.6,467.6" fill="none" stroke="#fff0a0" stroke-width="1.9" stroke-linecap="round" opacity="0.48"/>
<path d="M447.8,587.9 L448.3,582.3 L448.7,576.7 L448.8,571.1 L448.5,565.5 L447.8,559.9 L446.7,554.3 L445.3,548.7 L443.9,543.1 L442.5,537.5 L441.5,531.9 L441.0,526.3 L441.1,520.7 L441.8,515.1 L443.1,509.5" fill="none" stroke="#ffe070" stroke-width="1.6" stroke-linecap="round" opacity="0.47"/>
<path d="M606.2,555.9 L606.8,546.3 L607.9,536.7 L608.9,527.2 L609.1,517.6 L608.1,508.0 L606.1,498.4 L603.8,488.8 L602.1,479.3 L601.8,469.7 L603.2,460.1 L605.6,450.5 L607.8,441.0 L608.5,431.4 L607.0,421.8" fill="none" stroke="#fff0a0" stroke-width="1.9" stroke-linecap="round" opacity="0.53"/>
<path d="M513.6,584.0 L513.5,576.8 L513.6,569.6 L514.0,562.4 L514.6,555.2 L515.4,547.9 L516.2,540.7 L516.9,533.5 L517.5,526.3 L517.6,519.1 L517.4,511.9 L516.9,504.6 L516.2,497.4 L515.6,490.2 L515.2,483.0" fill="none" stroke="#fff6c8" stroke-width="1.4" stroke-linecap="round" opacity="0.75"/>
<path d="M404.6,604.5 L405.1,600.9 L405.5,597.4 L405.6,593.8 L405.5,590.2 L405.2,586.7 L404.5,583.1 L403.6,579.5 L402.3,576.0 L400.8,572.4 L399.0,568.8 L397.0,565.3 L394.9,561.7 L392.7,558.1 L390.5,554.6" fill="none" stroke="#ffe070" stroke-width="0.8" stroke-linecap="round" opacity="0.51"/>
<path d="M627.4,567.9 L626.9,557.3 L626.2,546.6 L625.6,536.0 L625.2,525.4 L625.2,514.7 L625.4,504.1 L625.5,493.4 L625.3,482.8 L624.3,472.2 L622.5,461.5 L620.0,450.9 L617.3,440.3 L614.7,429.6 L612.9,419.0" fill="none" stroke="#fff6c8" stroke-width="1.4" stroke-linecap="round" opacity="0.47"/>
<path d="M652.6,574.6 L653.2,554.9 L655.5,535.3 L655.7,515.6 L652.8,496.0 L651.0,476.3 L653.7,456.7 L657.3,437.0 L655.9,417.3 L650.9,397.7 L650.0,378.0 L655.3,358.4 L659.1,338.7 L655.0,319.0 L648.6,299.4" fill="none" stroke="#ffd848" stroke-width="1.2" stroke-linecap="round" opacity="0.37"/>
<path d="M452.8,591.5 L451.6,585.2 L450.2,578.9 L449.4,572.7 L449.5,566.4 L450.8,560.2 L452.8,553.9 L455.2,547.6 L456.9,541.4 L457.3,535.1 L455.9,528.8 L452.7,522.6 L448.3,516.3 L443.8,510.0 L440.4,503.8" fill="none" stroke="#ffe070" stroke-width="0.9" stroke-linecap="round" opacity="0.59"/>
<path d="M429.5,573.8 L430.4,566.6 L431.0,559.3 L431.1,552.1 L430.4,544.9 L428.8,537.7 L426.4,530.5 L423.7,523.2 L421.1,516.0 L419.1,508.8 L418.1,501.6 L418.2,494.3 L419.4,487.1 L421.3,479.9 L423.3,472.7" fill="none" stroke="#fff6c8" stroke-width="0.8" stroke-linecap="round" opacity="0.84"/>
<path d="M536.2,603.2 L535.2,589.9 L534.3,576.6 L534.9,563.2 L536.9,549.9 L538.5,536.6 L538.0,523.2 L535.9,509.9 L534.8,496.6 L536.6,483.2 L540.4,469.9 L542.9,456.6 L541.8,443.2 L538.7,429.9 L537.5,416.6" fill="none" stroke="#fff6c8" stroke-width="0.7" stroke-linecap="round" opacity="0.68"/>
<path d="M497.0,562.0 L497.3,557.6 L497.8,553.3 L498.3,548.9 L498.7,544.5 L498.9,540.1 L498.8,535.8 L498.2,531.4 L497.3,527.0 L496.0,522.6 L494.5,518.3 L492.8,513.9 L491.3,509.5 L490.0,505.1 L489.2,500.8" fill="none" stroke="#fff0a0" stroke-width="1.2" stroke-linecap="round" opacity="0.84"/>
<path d="M629.7,576.2 L630.1,559.7 L629.3,543.1 L627.5,526.6 L626.3,510.1 L626.9,493.5 L628.6,477.0 L629.4,460.4 L627.7,443.9 L624.0,427.4 L621.1,410.8 L621.1,394.3 L623.5,377.8 L625.2,361.2 L623.3,344.7" fill="none" stroke="#ffe070" stroke-width="1.5" stroke-linecap="round" opacity="0.40"/>
<path d="M511.6,563.3 L512.5,556.1 L513.8,549.0 L514.7,541.8 L514.7,534.7 L513.5,527.5 L511.3,520.4 L508.8,513.2 L506.9,506.1 L506.6,498.9 L508.0,491.7 L510.8,484.6 L513.8,477.4 L515.6,470.3 L515.3,463.1" fill="none" stroke="#ffd848" stroke-width="1.2" stroke-linecap="round" opacity="0.55"/>
<path d="M523.5,579.2 L525.3,565.0 L526.0,550.8 L524.4,536.6 L521.2,522.5 L518.5,508.3 L518.6,494.1 L521.6,479.9 L525.3,465.7 L526.4,451.5 L523.1,437.3 L516.8,423.1 L511.6,408.9 L511.1,394.7 L515.7,380.5" fill="none" stroke="#fff0a0" stroke-width="1.5" stroke-linecap="round" opacity="0.60"/>
<path d="M567.1,597.4 L566.2,587.2 L565.4,577.1 L565.0,566.9 L565.1,556.8 L565.7,546.6 L566.6,536.5 L567.4,526.3 L567.4,516.2 L566.3,506.1 L563.9,495.9 L560.3,485.8 L556.1,475.6 L552.0,465.5 L548.7,455.3" fill="none" stroke="#ffe070" stroke-width="0.8" stroke-linecap="round" opacity="0.49"/>
<path d="M586.4,555.4 L587.4,547.2 L588.1,539.1 L588.1,530.9 L587.4,522.7 L585.8,514.6 L583.8,506.4 L581.9,498.2 L580.7,490.1 L580.8,481.9 L582.2,473.7 L585.0,465.6 L588.6,457.4 L592.2,449.2 L594.9,441.1" fill="none" stroke="#ffe070" stroke-width="1.1" stroke-linecap="round" opacity="0.60"/>
<path d="M569.9,563.4 L569.1,553.5 L569.2,543.6 L570.4,533.7 L572.3,523.8 L573.9,513.9 L574.0,504.0 L572.4,494.0 L569.6,484.1 L567.1,474.2 L566.6,464.3 L568.5,454.4 L572.3,444.5 L576.0,434.5 L577.5,424.6" fill="none" stroke="#fff6c8" stroke-width="1.1" stroke-linecap="round" opacity="0.46"/>
<path d="M618.4,603.6 L620.9,597.9 L621.9,592.0 L621.7,586.0 L620.8,580.2 L619.3,574.5 L617.8,569.2 L616.4,564.0 L615.6,558.8 L615.6,553.4 L616.5,547.8 L618.2,542.0 L620.6,536.2 L623.5,530.6 L625.8,525.0 L625.8,525.0 L623.5,530.6 L620.6,536.2 L617.4,541.6 L614.3,547.0 L611.9,552.6 L610.3,558.5 L609.7,564.5 L610.0,570.6 L610.9,576.4 L612.1,582.0 L613.3,587.4 L614.7,592.7 L616.1,598.0 L618.4,603.6Z" fill="#ffc428" opacity="0.69"/>
<path d="M455.0,609.9 L456.7,603.2 L456.9,596.4 L456.4,589.6 L455.4,583.2 L454.5,576.9 L454.0,570.8 L454.1,564.6 L454.9,558.2 L456.4,551.6 L458.2,544.8 L459.9,538.1 L461.0,531.4 L461.4,524.9 L460.4,518.4 L460.4,518.4 L461.4,524.9 L461.0,531.4 L459.1,537.9 L456.3,544.2 L453.2,550.5 L450.4,556.9 L448.2,563.6 L447.1,570.5 L446.9,577.5 L447.7,584.3 L449.0,590.9 L450.6,597.3 L452.5,603.5 L455.0,609.9Z" fill="#ffe680" opacity="0.54"/>
<path d="M415.5,592.9 L418.1,587.9 L419.7,582.9 L420.8,577.8 L421.6,572.6 L421.9,567.3 L421.7,561.9 L420.9,556.5 L419.7,551.2 L417.9,546.0 L415.7,540.9 L413.3,535.9 L410.9,530.9 L408.9,525.7 L407.1,520.6 L407.1,520.6 L408.9,525.7 L410.9,530.9 L412.5,536.2 L413.6,541.5 L414.3,546.8 L414.6,551.9 L414.6,557.0 L414.2,561.9 L413.7,566.8 L413.1,571.8 L412.8,577.0 L412.8,582.2 L413.5,587.5 L415.5,592.9Z" fill="#ffb010" opacity="0.40"/>
<path d="M577.2,611.0 L578.6,604.8 L578.8,598.6 L578.6,592.5 L578.1,586.6 L577.4,580.7 L576.8,574.8 L576.3,568.9 L575.8,562.9 L575.4,556.9 L574.9,550.8 L574.2,544.8 L573.4,538.8 L572.4,532.7 L570.7,526.7 L570.7,526.7 L572.4,532.7 L573.4,538.8 L573.5,544.8 L573.0,550.8 L572.2,556.8 L571.4,562.8 L570.7,568.9 L570.3,575.0 L570.3,581.2 L570.7,587.3 L571.6,593.4 L572.9,599.3 L574.6,605.2 L577.2,611.0Z" fill="#ffc428" opacity="0.54"/>
<path d="M424.2,611.2 L427.4,607.1 L428.7,603.2 L429.2,599.5 L429.2,595.9 L428.8,592.5 L428.2,589.1 L427.4,585.6 L426.6,582.1 L426.0,578.4 L425.6,574.6 L425.4,570.7 L425.8,566.9 L426.9,563.2 L428.0,559.5 L428.0,559.5 L426.9,563.2 L425.8,566.9 L424.2,570.4 L422.2,573.9 L420.4,577.5 L418.8,581.2 L417.5,585.1 L416.5,589.0 L416.0,593.0 L416.1,596.9 L416.7,600.8 L418.1,604.4 L420.3,607.9 L424.2,611.2Z" fill="#ffc428" opacity="0.62"/>
<path d="M532.1,590.9 L535.1,583.0 L536.6,574.8 L536.7,566.4 L535.6,558.1 L533.9,550.2 L532.6,542.6 L532.3,535.1 L533.3,527.4 L535.3,519.3 L537.3,511.0 L538.0,502.8 L537.1,494.7 L534.7,486.7 L531.6,478.7 L531.6,478.7 L534.7,486.7 L537.1,494.7 L537.3,502.7 L535.3,510.5 L532.0,518.2 L528.7,526.1 L526.3,534.4 L525.5,543.0 L526.3,551.4 L527.7,559.5 L529.2,567.2 L530.1,574.9 L530.8,582.7 L532.1,590.9Z" fill="#ffe680" opacity="0.66"/>
<path d="M540.3,606.4 L542.5,597.1 L544.1,588.6 L546.2,580.1 L548.4,570.7 L548.7,560.4 L546.1,550.2 L541.7,541.1 L538.0,532.9 L536.8,524.8 L538.3,515.8 L540.5,506.3 L540.4,497.1 L536.8,488.0 L530.6,478.9 L530.6,478.9 L536.8,488.0 L540.4,497.1 L539.4,506.1 L535.3,514.8 L531.7,524.1 L530.9,534.2 L533.1,544.2 L535.9,553.3 L537.1,561.3 L536.5,569.2 L535.0,578.1 L534.4,587.8 L536.0,597.5 L540.3,606.4Z" fill="#ffd648" opacity="0.48"/>
<path d="M633.2,589.4 L634.7,584.2 L635.0,579.1 L634.7,573.9 L633.9,568.8 L632.9,563.9 L631.6,559.0 L630.4,554.2 L629.4,549.4 L628.6,544.5 L628.1,539.6 L628.1,534.6 L628.6,529.6 L629.7,524.6 L631.0,519.6 L631.0,519.6 L629.7,524.6 L628.6,529.6 L627.5,534.5 L626.4,539.5 L625.7,544.6 L625.3,549.7 L625.4,554.8 L625.8,560.0 L626.4,565.1 L627.3,570.1 L628.4,575.0 L629.6,579.8 L631.1,584.6 L633.2,589.4Z" fill="#ffe680" opacity="0.54"/>
<path d="M486.4,599.9 L488.5,594.9 L488.9,589.9 L488.4,585.0 L487.3,580.4 L485.8,576.0 L484.3,571.8 L482.9,567.7 L481.8,563.6 L481.0,559.4 L480.8,554.9 L481.1,550.3 L482.2,545.6 L484.0,541.1 L485.9,536.6 L485.9,536.6 L484.0,541.1 L482.2,545.6 L480.2,550.0 L478.2,554.4 L476.6,559.0 L475.6,563.8 L475.2,568.8 L475.4,573.7 L476.2,578.6 L477.4,583.3 L478.9,587.7 L480.8,591.8 L483.1,595.9 L486.4,599.9Z" fill="#ffd648" opacity="0.55"/>
<path d="M562.6,604.4 L564.1,598.0 L564.2,591.6 L563.5,585.2 L562.4,579.1 L561.3,573.2 L560.4,567.3 L559.8,561.5 L559.7,555.5 L559.9,549.4 L560.4,543.1 L560.7,536.8 L560.7,530.6 L560.3,524.5 L558.9,518.3 L558.9,518.3 L560.3,524.5 L560.7,530.6 L559.9,536.7 L558.3,542.7 L556.5,548.8 L554.9,554.9 L553.7,561.3 L553.3,567.7 L553.5,574.2 L554.5,580.6 L555.9,586.8 L557.7,592.7 L559.8,598.6 L562.6,604.4Z" fill="#ffe680" opacity="0.67"/>
<path d="M436.3,591.7 L438.3,587.2 L439.0,582.8 L439.1,578.7 L439.0,574.8 L438.7,571.0 L438.4,567.3 L438.2,563.3 L438.2,559.2 L438.3,554.9 L438.4,550.6 L438.3,546.3 L438.2,542.1 L438.0,537.9 L437.2,533.8 L437.2,533.8 L438.0,537.9 L438.2,542.1 L437.3,546.1 L435.8,550.1 L434.0,554.0 L432.3,558.0 L430.7,562.2 L429.5,566.5 L428.9,571.0 L428.9,575.5 L429.6,579.9 L430.9,584.1 L433.0,588.0 L436.3,591.7Z" fill="#fff0a0" opacity="0.37"/>
<path d="M521.8,586.1 L523.9,580.3 L524.3,574.4 L523.9,568.6 L523.1,563.1 L522.0,557.8 L520.9,552.5 L520.0,547.3 L519.4,542.0 L518.9,536.5 L518.6,530.9 L518.1,525.3 L517.5,519.8 L516.7,514.2 L514.9,508.7 L514.9,508.7 L516.7,514.2 L517.5,519.8 L517.2,525.3 L516.1,530.7 L514.9,536.2 L513.7,541.7 L512.8,547.5 L512.5,553.3 L512.8,559.1 L513.7,564.8 L515.0,570.4 L516.7,575.7 L518.8,580.8 L521.8,586.1Z" fill="#fff0a0" opacity="0.50"/>
<path d="M537.7,602.3 L538.9,595.8 L539.0,589.9 L539.3,584.7 L540.3,579.7 L542.0,574.4 L544.3,568.4 L546.2,561.8 L546.5,554.9 L544.5,548.4 L540.5,542.5 L535.7,536.9 L531.3,531.3 L528.9,525.4 L529.1,519.5 L529.1,519.5 L528.9,525.4 L531.3,531.3 L534.9,537.5 L538.4,543.8 L540.6,549.7 L540.7,555.0 L539.2,559.9 L536.5,565.1 L533.4,571.0 L531.0,577.4 L530.2,584.3 L531.3,590.9 L533.9,596.9 L537.7,602.3Z" fill="#ffd648" opacity="0.37"/>
<path d="M599.9,591.2 L602.6,586.4 L604.0,581.4 L604.7,576.3 L604.9,571.1 L604.4,565.9 L603.4,560.8 L601.9,555.7 L599.9,550.7 L597.7,545.8 L595.2,541.0 L592.6,536.3 L590.2,531.5 L588.2,526.5 L586.4,521.5 L586.4,521.5 L588.2,526.5 L590.2,531.5 L591.8,536.6 L593.1,541.8 L594.2,547.0 L595.0,552.1 L595.6,557.1 L596.0,561.9 L596.2,566.7 L596.4,571.5 L596.6,576.2 L597.1,581.1 L598.0,586.1 L599.9,591.2Z" fill="#ffd648" opacity="0.57"/>
<path d="M576.1,599.8 L578.9,594.7 L579.8,589.3 L579.4,583.8 L578.2,578.5 L576.4,573.5 L574.3,568.8 L572.3,564.4 L570.5,560.0 L569.2,555.4 L568.4,550.7 L568.2,545.7 L568.7,540.7 L569.7,535.8 L570.4,530.9 L570.4,530.9 L569.7,535.8 L568.7,540.7 L567.2,545.6 L565.7,550.5 L564.6,555.6 L564.2,560.9 L564.4,566.3 L565.3,571.7 L566.5,576.8 L568.0,581.7 L569.5,586.2 L571.2,590.6 L573.2,595.1 L576.1,599.8Z" fill="#ffb010" opacity="0.63"/>
<path d="M600.1,604.9 L602.4,599.8 L603.3,594.5 L603.4,589.2 L602.9,584.0 L602.0,578.9 L600.8,573.9 L599.5,569.0 L598.3,564.1 L597.4,559.2 L596.8,554.3 L596.7,549.2 L597.5,544.0 L599.0,538.9 L600.9,533.9 L600.9,533.9 L599.0,538.9 L597.5,544.0 L595.9,549.0 L594.6,554.1 L593.6,559.3 L593.1,564.5 L592.9,569.8 L593.1,575.1 L593.5,580.2 L594.2,585.3 L595.1,590.2 L596.2,595.1 L597.7,600.0 L600.1,604.9Z" fill="#ffe680" opacity="0.58"/>
<path d="M559.5,598.8 L561.9,594.5 L563.2,590.5 L564.0,586.5 L564.4,582.5 L564.7,578.5 L564.8,574.4 L564.8,570.2 L564.7,565.8 L564.5,561.5 L564.1,557.1 L563.4,552.9 L562.7,548.7 L562.2,544.5 L561.2,540.4 L561.2,540.4 L562.2,544.5 L562.7,548.7 L562.5,552.9 L561.5,557.0 L560.3,561.0 L558.9,565.0 L557.5,569.0 L556.2,573.1 L555.2,577.4 L554.7,581.7 L554.6,586.1 L555.2,590.5 L556.7,594.7 L559.5,598.8Z" fill="#fff0a0" opacity="0.59"/>
<path d="M434.8,608.0 L437.3,603.1 L439.2,598.3 L441.0,593.4 L442.5,588.3 L443.7,582.9 L444.2,577.4 L444.0,571.8 L442.9,566.3 L441.1,561.1 L438.6,556.0 L435.9,551.1 L433.4,546.0 L431.7,540.9 L430.7,535.7 L430.7,535.7 L431.7,540.9 L433.4,546.0 L435.3,551.3 L436.8,556.7 L437.9,562.0 L438.4,567.1 L438.3,571.9 L437.6,576.7 L436.5,581.5 L435.2,586.4 L434.0,591.6 L433.3,597.0 L433.3,602.5 L434.8,608.0Z" fill="#ffe680" opacity="0.53"/>
<path d="M464.5,599.9 L466.4,596.2 L466.9,592.3 L466.6,588.5 L465.9,584.9 L464.9,581.5 L463.7,578.2 L462.6,575.0 L461.7,571.9 L461.1,568.6 L461.0,565.2 L461.4,561.6 L462.6,558.0 L464.5,554.5 L466.6,551.0 L466.6,551.0 L464.5,554.5 L462.6,558.0 L460.7,561.3 L458.9,564.7 L457.6,568.3 L456.8,572.0 L456.5,575.9 L456.6,579.7 L457.2,583.4 L458.0,587.0 L459.1,590.3 L460.4,593.5 L462.0,596.7 L464.5,599.9Z" fill="#ffc428" opacity="0.64"/>
<path d="M510.8,597.0 L513.7,590.3 L515.5,583.8 L516.9,577.2 L517.8,570.3 L517.8,563.0 L516.7,555.6 L514.3,548.4 L511.0,541.7 L507.4,535.2 L504.1,528.9 L501.7,522.4 L500.7,515.7 L501.2,509.0 L502.2,502.2 L502.2,502.2 L501.2,509.0 L500.7,515.7 L500.7,522.6 L501.4,529.7 L503.0,536.9 L504.9,544.0 L506.5,550.8 L507.2,557.1 L507.3,563.3 L507.0,569.6 L506.6,576.2 L506.7,583.1 L507.8,590.2 L510.8,597.0Z" fill="#ffe680" opacity="0.42"/>
<ellipse cx="535" cy="560" rx="70" ry="22" fill="#ffe070" opacity="0.55" filter="url(#b8)"/>
</g>

<path class="bl" d="M400,193 L390,192 Q388,192 388,190 L388,177 Q388,174.5 391,174.3 L485,169.8 L497,182 L509,168.6 L704,158 Q707,158 707,161 L707,172 Q707,175 704,175 L698,176"/>
<path class="bl" d="M404.5,183 L404.5,317 L434,314.5 M404.5,194.5 L687,180"/>
<path class="bl" d="M407,209 L435,208 L435,294 L407,296"/>
<path class="bl" d="M435,241 L441,241 L441,248 L435,248" stroke-width="2"/>
<path class="blf" d="M378,350 L378,326 Q378,320 384,319.5 L398,317 L398,285 L404.5,285 L404.5,314 L434.5,313.3 L434.5,318 L431,318 L431,322.5 L398,326 L395,325.5 L395,329.5 L398,329.5 L398,333.6 L384,334.3 L384,350 Z"/>
<path class="bl" d="M688,168 L688,895" stroke-width="3.2"/>
<path class="bl" d="M510,264 L657.5,299.5 L657.5,310 M657.5,299.5 L686,296.5"/>
<path class="blf" d="M376.8,559 L384,559 L384,578 L386.4,578 L386.4,610 L398,612.8 L430,612.8 Q433.5,616.4 430,620 L404.5,620 L404.5,621.6 L434,621.6 L434,625 L407.5,625 L407.5,656 L404,656 L398.4,652 L398.4,628 L378,628 Q376,628 376,626 L376,607 L383,607 L383,585 L376.8,585 Z"/>
<path d="M385,611.5 L397.5,611.5" stroke="#e81818" stroke-width="3" fill="none"/>
<path class="blf" d="M397.6,655 L406.4,655 L406.4,669.3 L421,669.3 Q426,669.3 426,675 Q426,680.4 421,680.4 L383.8,680.4 L383.8,701.6 L378.7,701.6 L378.7,673 Q378.7,669.3 383,669.3 L397.6,669.3 Z"/>
<rect x="397" y="673" width="3" height="3" fill="#222"/>
<path class="bl" d="M407,657.5 L504,650" stroke-width="2.4"/>
<path class="bl" d="M505,642 L505,653.0" stroke-width="2.6"/>
<path class="bl" d="M521,642 L521,652.7" stroke-width="2.6"/>
<path class="bl" d="M537,641 L537,652.4" stroke-width="2.6"/>
<path class="bl" d="M552,641 L552,652.1" stroke-width="2.6"/>
<path class="bl" d="M566,642 L566,651.8" stroke-width="2.6"/>
<path class="bl" d="M581,642 L581,651.5" stroke-width="2.6"/>
<path class="bl" d="M583,642.5 L687,631.5" stroke-width="2"/>
<path class="blf" d="M388,698 L393,698 L393,753 L388,753 Z"/>
<path class="blf" d="M378.7,750 L383.8,750 L383.8,763.7 L421,763.7 Q426,763.7 426,770 Q426,777.3 421,777.3 L406.5,777.3 L406.5,791 L396.5,791 L396.5,777.3 L383,777.3 Q378.7,777.3 378.7,773 Z"/>
<rect x="397" y="769" width="3" height="3" fill="#222"/>
<path class="bl" d="M405.7,789 L405.7,822" stroke-width="1.6"/>
<path class="bl" d="M421.5,741 L421.5,732.5 L455.3,729.5 L456,772" stroke-width="1.5"/>
<path class="bl" d="M406,777.5 L500,769.5 L687.5,748" stroke-width="2.4"/>
<path class="bl" d="M666,705 L666,750" stroke-width="1.4"/>
<path class="bl" d="M598,764 L687,850" stroke-width="2"/>

<path d="M328,354 Q329,330 352,326 Q374,324 385,346 L387,346 L387,552 L327.5,516 Z" fill="url(#gGlass)"/>
<path d="M365,333 L386,346 L386,551 L365,538 Z" fill="#ff9a98" opacity="0.45"/>
<path d="M328,354 Q329,332 346,327 L346,331 Q337,336 336,356 L336,521 L327.5,516 Z" fill="#a80c16" opacity="0.85"/>
<path d="M386.8,334 L386.8,556" stroke="#d81010" stroke-width="2.4"/>
<path d="M365,424 L386,423 L386,445 L365,447 Z" fill="#e02a28" opacity="0.75"/>
<circle cx="338.5" cy="428" r="8.5" fill="#b8141c" opacity="0.8"/>
<path d="M335,435 L343,434 L355,473 L346,480 Z" fill="#b8141c" opacity="0.8"/>
<path d="M315,362 Q316,318 350,311 Q372,311 378,336 L378,346 Q366,320 348,321 Q326,326 326,356 L326,512 L387,552 L387,560 L319,516 L315,512 Z" fill="#5e5e5e"/>
<path d="M326,356 Q326,328 348,322 L349,326 Q330,331 329,356 L329,514 L326,512 Z" fill="#3a3a3a"/>
<path d="M326,512 L387,552 L387,555 L329,517 Z" fill="#444"/>
<path d="M322,334 Q328,302 350,295 Q362,292 378,293.5 Q393,299 397,314 L397,318 L384,319 Q378,320 378,326 L378,336 Q372,311 350,311 Q330,313 322,334 Z" fill="url(#gHood)"/>
<path d="M343,298 Q354,293 378,294 Q392,300 396.5,314" fill="none" stroke="#6a6a6a" stroke-width="1.4"/>
<path d="M352,301 Q372,299 384,306 Q391,311 393,317 L384,319 Q378,320 378,327 Q372,311 352,309 Z" fill="#3c3c3c" opacity="0.8"/>
<path d="M328,245 L403,283 L403,288 L398,291 L328,253 Z" fill="#424242"/>
<path d="M328,245 L403,283 L403,285 L328,247.5 Z" fill="#2e2e2e"/>
<path d="M328,252 L398,290" stroke="#686868" stroke-width="1" fill="none"/>
<g fill="#b8964a"><circle cx="326.0" cy="257.0" r="1.55"/><circle cx="328.6" cy="258.3" r="1.55"/><circle cx="331.2" cy="259.6" r="1.55"/><circle cx="333.8" cy="260.9" r="1.55"/><circle cx="336.4" cy="262.2" r="1.55"/><circle cx="339.0" cy="263.5" r="1.55"/><circle cx="341.5" cy="264.8" r="1.55"/><circle cx="344.1" cy="266.1" r="1.55"/><circle cx="346.7" cy="267.4" r="1.55"/><circle cx="349.3" cy="268.7" r="1.55"/><circle cx="351.9" cy="270.0" r="1.55"/><circle cx="354.5" cy="271.3" r="1.55"/><circle cx="357.1" cy="272.7" r="1.55"/><circle cx="359.7" cy="274.0" r="1.55"/><circle cx="362.3" cy="275.3" r="1.55"/><circle cx="364.9" cy="276.6" r="1.55"/><circle cx="367.4" cy="277.9" r="1.55"/><circle cx="370.0" cy="279.2" r="1.55"/><circle cx="372.6" cy="280.5" r="1.55"/><circle cx="375.2" cy="281.8" r="1.55"/><circle cx="377.8" cy="283.1" r="1.55"/><circle cx="380.4" cy="284.4" r="1.55"/><circle cx="383.0" cy="285.7" r="1.55"/><circle cx="385.6" cy="287.0" r="1.55"/><circle cx="388.2" cy="288.3" r="1.55"/><circle cx="390.8" cy="289.6" r="1.55"/><circle cx="393.3" cy="290.9" r="1.55"/><circle cx="395.9" cy="292.2" r="1.55"/></g>
<g fill="#b8964a"><circle cx="326.0" cy="260.5" r="1.55"/><circle cx="326.0" cy="264.1" r="1.55"/><circle cx="326.0" cy="267.7" r="1.55"/><circle cx="326.0" cy="271.3" r="1.55"/><circle cx="326.0" cy="274.9" r="1.55"/><circle cx="326.0" cy="278.5" r="1.55"/><circle cx="326.0" cy="282.1" r="1.55"/><circle cx="326.0" cy="285.7" r="1.55"/><circle cx="326.0" cy="289.3" r="1.55"/><circle cx="326.0" cy="292.9" r="1.55"/><circle cx="326.0" cy="296.5" r="1.55"/><circle cx="326.0" cy="300.1" r="1.55"/><circle cx="326.0" cy="303.7" r="1.55"/><circle cx="326.0" cy="307.3" r="1.55"/><circle cx="326.0" cy="310.9" r="1.55"/></g>
<g fill="#b8964a"><circle cx="313.2" cy="590.0" r="1.55"/><circle cx="313.2" cy="587.0" r="1.55"/><circle cx="313.2" cy="583.9" r="1.55"/><circle cx="313.2" cy="580.9" r="1.55"/><circle cx="313.2" cy="577.8" r="1.55"/><circle cx="313.2" cy="574.8" r="1.55"/><circle cx="313.2" cy="571.7" r="1.55"/><circle cx="313.2" cy="568.6" r="1.55"/><circle cx="313.2" cy="565.6" r="1.55"/><circle cx="313.2" cy="562.5" r="1.55"/><circle cx="313.2" cy="559.5" r="1.55"/><circle cx="313.2" cy="556.5" r="1.55"/><circle cx="313.2" cy="553.4" r="1.55"/><circle cx="313.2" cy="550.4" r="1.55"/><circle cx="313.2" cy="547.3" r="1.55"/><circle cx="313.2" cy="544.2" r="1.55"/><circle cx="313.2" cy="541.2" r="1.55"/><circle cx="313.2" cy="538.1" r="1.55"/><circle cx="313.2" cy="535.1" r="1.55"/><circle cx="313.2" cy="532.1" r="1.55"/><circle cx="313.2" cy="529.0" r="1.55"/><circle cx="313.2" cy="526.0" r="1.55"/><circle cx="313.2" cy="522.9" r="1.55"/><circle cx="313.2" cy="519.9" r="1.55"/><circle cx="313.2" cy="516.8" r="1.55"/><circle cx="313.2" cy="513.8" r="1.55"/><circle cx="313.2" cy="510.7" r="1.55"/><circle cx="313.2" cy="507.7" r="1.55"/><circle cx="313.2" cy="504.6" r="1.55"/><circle cx="313.2" cy="501.6" r="1.55"/><circle cx="313.2" cy="498.5" r="1.55"/><circle cx="313.2" cy="495.5" r="1.55"/><circle cx="313.2" cy="492.4" r="1.55"/><circle cx="313.2" cy="489.4" r="1.55"/><circle cx="313.2" cy="486.3" r="1.55"/><circle cx="313.2" cy="483.3" r="1.55"/><circle cx="313.2" cy="480.2" r="1.55"/><circle cx="313.2" cy="477.2" r="1.55"/><circle cx="313.2" cy="474.1" r="1.55"/><circle cx="313.2" cy="471.1" r="1.55"/><circle cx="313.2" cy="468.0" r="1.55"/><circle cx="313.2" cy="465.0" r="1.55"/><circle cx="313.2" cy="461.9" r="1.55"/><circle cx="313.2" cy="458.9" r="1.55"/><circle cx="313.2" cy="455.8" r="1.55"/><circle cx="313.2" cy="452.8" r="1.55"/><circle cx="313.2" cy="449.7" r="1.55"/><circle cx="313.2" cy="446.6" r="1.55"/><circle cx="313.2" cy="443.6" r="1.55"/><circle cx="313.2" cy="440.5" r="1.55"/><circle cx="313.2" cy="437.5" r="1.55"/><circle cx="313.2" cy="434.4" r="1.55"/><circle cx="313.2" cy="431.4" r="1.55"/><circle cx="313.2" cy="428.3" r="1.55"/><circle cx="313.2" cy="425.3" r="1.55"/><circle cx="313.2" cy="422.2" r="1.55"/><circle cx="313.2" cy="419.2" r="1.55"/><circle cx="313.2" cy="416.1" r="1.55"/><circle cx="313.2" cy="413.1" r="1.55"/><circle cx="313.2" cy="410.0" r="1.55"/><circle cx="313.2" cy="407.0" r="1.55"/><circle cx="313.2" cy="403.9" r="1.55"/><circle cx="313.2" cy="400.9" r="1.55"/><circle cx="313.2" cy="397.8" r="1.55"/><circle cx="313.2" cy="394.8" r="1.55"/><circle cx="313.2" cy="391.7" r="1.55"/><circle cx="313.2" cy="388.7" r="1.55"/><circle cx="313.2" cy="385.6" r="1.55"/><circle cx="313.2" cy="382.6" r="1.55"/><circle cx="313.2" cy="379.5" r="1.55"/><circle cx="313.2" cy="376.5" r="1.55"/><circle cx="313.2" cy="373.4" r="1.55"/><circle cx="313.2" cy="370.4" r="1.55"/><circle cx="313.3" cy="367.4" r="1.55"/><circle cx="313.4" cy="364.3" r="1.55"/><circle cx="313.6" cy="361.3" r="1.55"/><circle cx="313.8" cy="358.2" r="1.55"/><circle cx="314.2" cy="355.2" r="1.55"/><circle cx="314.6" cy="352.2" r="1.55"/><circle cx="315.1" cy="349.2" r="1.55"/><circle cx="315.8" cy="346.2" r="1.55"/><circle cx="316.5" cy="343.2" r="1.55"/><circle cx="317.4" cy="340.3" r="1.55"/><circle cx="318.3" cy="337.4" r="1.55"/><circle cx="319.5" cy="334.6" r="1.55"/><circle cx="320.8" cy="331.8" r="1.55"/><circle cx="322.2" cy="329.1" r="1.55"/><circle cx="323.8" cy="326.6" r="1.55"/><circle cx="325.6" cy="324.1" r="1.55"/><circle cx="327.6" cy="321.8" r="1.55"/><circle cx="329.7" cy="319.6" r="1.55"/><circle cx="332.0" cy="317.6" r="1.55"/><circle cx="334.5" cy="315.8" r="1.55"/><circle cx="337.1" cy="314.1" r="1.55"/><circle cx="339.8" cy="312.7" r="1.55"/><circle cx="342.6" cy="311.6" r="1.55"/><circle cx="345.4" cy="310.5" r="1.55"/><circle cx="348.4" cy="309.7" r="1.55"/><circle cx="351.4" cy="309.4" r="1.55"/><circle cx="354.4" cy="309.7" r="1.55"/><circle cx="357.4" cy="310.3" r="1.55"/><circle cx="360.3" cy="311.3" r="1.55"/><circle cx="363.0" cy="312.7" r="1.55"/><circle cx="365.4" cy="314.6" r="1.55"/><circle cx="367.5" cy="316.8" r="1.55"/><circle cx="369.4" cy="319.2" r="1.55"/><circle cx="371.0" cy="321.8" r="1.55"/><circle cx="372.3" cy="324.5" r="1.55"/><circle cx="373.5" cy="327.3" r="1.55"/><circle cx="374.5" cy="330.2" r="1.55"/><circle cx="375.3" cy="333.1" r="1.55"/></g>
<path d="M308,418 L314,413 L314,444 L308,440 Z" fill="#4a4a4a"/>
<circle cx="303.5" cy="429.5" r="9.5" fill="#575757"/><circle cx="301.5" cy="427" r="5.5" fill="#7c7c7c" filter="url(#b1)"/>
<path d="M298,438 L307,441 L292,485 L279,480 Z" fill="#4e4e4e"/><path d="M301,441 L304,442 L289,483 L284,481.5 Z" fill="#8a8a8a"/>
<path d="M314,515 L387,560 L378,560 L378,630 L321,598 L314,590 Z" fill="#565656"/>
<g fill="#b8964a"><circle cx="316.0" cy="524.0" r="1.15"/><circle cx="318.1" cy="525.3" r="1.15"/><circle cx="320.2" cy="526.6" r="1.15"/><circle cx="322.4" cy="528.0" r="1.15"/><circle cx="324.5" cy="529.3" r="1.15"/><circle cx="326.6" cy="530.6" r="1.15"/><circle cx="328.7" cy="531.9" r="1.15"/><circle cx="330.9" cy="533.3" r="1.15"/><circle cx="333.0" cy="534.6" r="1.15"/><circle cx="335.1" cy="535.9" r="1.15"/><circle cx="337.2" cy="537.2" r="1.15"/><circle cx="339.3" cy="538.5" r="1.15"/><circle cx="341.5" cy="539.9" r="1.15"/><circle cx="343.6" cy="541.2" r="1.15"/><circle cx="345.7" cy="542.5" r="1.15"/><circle cx="347.8" cy="543.8" r="1.15"/><circle cx="350.0" cy="545.1" r="1.15"/><circle cx="352.1" cy="546.5" r="1.15"/><circle cx="354.2" cy="547.8" r="1.15"/><circle cx="356.3" cy="549.1" r="1.15"/><circle cx="358.4" cy="550.4" r="1.15"/><circle cx="360.6" cy="551.8" r="1.15"/><circle cx="362.7" cy="553.1" r="1.15"/><circle cx="364.8" cy="554.4" r="1.15"/><circle cx="366.9" cy="555.7" r="1.15"/><circle cx="369.0" cy="557.0" r="1.15"/><circle cx="371.2" cy="558.4" r="1.15"/><circle cx="373.3" cy="559.7" r="1.15"/><circle cx="375.4" cy="561.0" r="1.15"/></g>
<g fill="#b8964a"><circle cx="316.0" cy="594.0" r="1.15"/><circle cx="318.1" cy="595.3" r="1.15"/><circle cx="320.3" cy="596.6" r="1.15"/><circle cx="322.4" cy="597.9" r="1.15"/><circle cx="324.5" cy="599.2" r="1.15"/><circle cx="326.7" cy="600.5" r="1.15"/><circle cx="328.8" cy="601.8" r="1.15"/><circle cx="330.9" cy="603.1" r="1.15"/><circle cx="333.1" cy="604.5" r="1.15"/><circle cx="335.2" cy="605.8" r="1.15"/><circle cx="337.3" cy="607.1" r="1.15"/><circle cx="339.4" cy="608.4" r="1.15"/><circle cx="341.6" cy="609.7" r="1.15"/><circle cx="343.7" cy="611.0" r="1.15"/><circle cx="345.8" cy="612.3" r="1.15"/><circle cx="348.0" cy="613.6" r="1.15"/><circle cx="350.1" cy="614.9" r="1.15"/><circle cx="352.2" cy="616.2" r="1.15"/><circle cx="354.4" cy="617.5" r="1.15"/><circle cx="356.5" cy="618.8" r="1.15"/><circle cx="358.6" cy="620.1" r="1.15"/><circle cx="360.8" cy="621.4" r="1.15"/><circle cx="362.9" cy="622.7" r="1.15"/><circle cx="365.0" cy="624.0" r="1.15"/><circle cx="367.2" cy="625.4" r="1.15"/><circle cx="369.3" cy="626.7" r="1.15"/><circle cx="371.4" cy="628.0" r="1.15"/><circle cx="373.6" cy="629.3" r="1.15"/><circle cx="375.7" cy="630.6" r="1.15"/><circle cx="377.8" cy="631.9" r="1.15"/></g>
<path d="M329,548 Q331,546 333,548 L333,562 Q331,564 329,562 Z M365,580 Q367,579 369,581 L369,600 Q367,602 365,600 Z" fill="#3a3a3a"/>
<path d="M341,571 L357,572.5 Q360,580 357,587 L341,586 Z" fill="#505050"/><path d="M341,571.5 L357,573 L357,577 L341,575.5 Z" fill="#8a8a8a"/>
<path d="M325,566 Q334,564 341,570 L341,587 Q334,593 325,591 Q329,578 325,566 Z" fill="#2c2c2c"/><path d="M328,568 Q334,567 339,571 L339,575 Q333,571 328,572 Z" fill="#555"/>
<ellipse cx="320.5" cy="578.5" rx="4.2" ry="12.5" fill="#8f712c"/><ellipse cx="320.5" cy="578.5" rx="1.8" ry="8" fill="#4a3814"/>
<path d="M316.5,578.5 L324.5,578.5 M317.5,572 L323.5,585 M317.5,585 L323.5,572" stroke="#c8a858" stroke-width="0.8"/>
<path d="M321,598 L378,630 L378,780 L321,740 Z" fill="#575757"/>
<path d="M341,612 L398,650 L398,662 L341,627 Z" fill="#484848"/>
<path d="M334,631 L398,667 L398,676 L334,641 Z" fill="#4a4a4a"/>
<path d="M334,631 L398,667 L398,670 L334,634 Z" fill="#303030"/>
<g fill="#b8964a"><circle cx="343.0" cy="627.0" r="1.15"/><circle cx="343.0" cy="624.5" r="1.15"/><circle cx="343.0" cy="622.0" r="1.15"/><circle cx="343.0" cy="619.5" r="1.15"/><circle cx="343.0" cy="617.0" r="1.15"/><circle cx="344.9" cy="618.6" r="1.15"/><circle cx="346.9" cy="620.2" r="1.15"/><circle cx="348.8" cy="621.7" r="1.15"/><circle cx="350.8" cy="623.3" r="1.15"/><circle cx="352.7" cy="624.9" r="1.15"/><circle cx="354.6" cy="626.5" r="1.15"/><circle cx="356.6" cy="628.0" r="1.15"/><circle cx="358.5" cy="629.6" r="1.15"/><circle cx="360.5" cy="631.2" r="1.15"/><circle cx="362.4" cy="632.8" r="1.15"/><circle cx="364.4" cy="634.3" r="1.15"/><circle cx="366.3" cy="635.9" r="1.15"/><circle cx="368.2" cy="637.5" r="1.15"/><circle cx="370.2" cy="639.1" r="1.15"/><circle cx="372.1" cy="640.6" r="1.15"/><circle cx="374.1" cy="642.2" r="1.15"/><circle cx="376.0" cy="643.8" r="1.15"/><circle cx="377.9" cy="645.4" r="1.15"/><circle cx="379.9" cy="646.9" r="1.15"/><circle cx="381.8" cy="648.5" r="1.15"/><circle cx="383.8" cy="650.1" r="1.15"/><circle cx="385.7" cy="651.7" r="1.15"/><circle cx="387.7" cy="653.2" r="1.15"/><circle cx="389.6" cy="654.8" r="1.15"/><circle cx="391.5" cy="656.4" r="1.15"/><circle cx="393.5" cy="658.0" r="1.15"/><circle cx="395.4" cy="659.5" r="1.15"/></g>
<path d="M331,648 L378,688 L378,764 L331,722 Z" fill="#4f4f4f"/>
<g fill="#b8964a"><circle cx="331.5" cy="648.0" r="1.2"/><circle cx="331.5" cy="650.6" r="1.2"/><circle cx="331.5" cy="653.2" r="1.2"/><circle cx="331.5" cy="655.8" r="1.2"/><circle cx="331.5" cy="658.4" r="1.2"/><circle cx="331.5" cy="661.0" r="1.2"/><circle cx="331.5" cy="663.6" r="1.2"/><circle cx="331.5" cy="666.2" r="1.2"/><circle cx="331.5" cy="668.8" r="1.2"/><circle cx="331.5" cy="671.4" r="1.2"/><circle cx="331.5" cy="674.0" r="1.2"/><circle cx="331.5" cy="676.6" r="1.2"/><circle cx="331.5" cy="679.2" r="1.2"/><circle cx="331.5" cy="681.8" r="1.2"/><circle cx="331.5" cy="684.4" r="1.2"/><circle cx="331.5" cy="687.0" r="1.2"/><circle cx="331.5" cy="689.6" r="1.2"/><circle cx="331.5" cy="692.2" r="1.2"/><circle cx="331.5" cy="694.8" r="1.2"/><circle cx="331.5" cy="697.4" r="1.2"/><circle cx="331.5" cy="700.0" r="1.2"/><circle cx="331.5" cy="702.6" r="1.2"/><circle cx="331.5" cy="705.2" r="1.2"/><circle cx="331.5" cy="707.8" r="1.2"/><circle cx="331.5" cy="710.4" r="1.2"/><circle cx="331.5" cy="713.0" r="1.2"/><circle cx="331.5" cy="715.6" r="1.2"/><circle cx="331.5" cy="718.2" r="1.2"/><circle cx="331.5" cy="720.8" r="1.2"/><circle cx="333.3" cy="722.6" r="1.2"/><circle cx="335.3" cy="724.3" r="1.2"/><circle cx="337.2" cy="726.0" r="1.2"/><circle cx="339.2" cy="727.7" r="1.2"/><circle cx="341.1" cy="729.5" r="1.2"/><circle cx="343.1" cy="731.2" r="1.2"/><circle cx="345.0" cy="732.9" r="1.2"/><circle cx="347.0" cy="734.6" r="1.2"/><circle cx="348.9" cy="736.3" r="1.2"/><circle cx="350.9" cy="738.1" r="1.2"/><circle cx="352.8" cy="739.8" r="1.2"/><circle cx="354.8" cy="741.5" r="1.2"/><circle cx="356.7" cy="743.2" r="1.2"/><circle cx="358.7" cy="744.9" r="1.2"/><circle cx="360.6" cy="746.7" r="1.2"/><circle cx="362.6" cy="748.4" r="1.2"/><circle cx="364.5" cy="750.1" r="1.2"/><circle cx="366.5" cy="751.8" r="1.2"/><circle cx="368.4" cy="753.5" r="1.2"/><circle cx="370.4" cy="755.3" r="1.2"/><circle cx="372.3" cy="757.0" r="1.2"/><circle cx="374.3" cy="758.7" r="1.2"/><circle cx="376.2" cy="760.4" r="1.2"/></g>
<g fill="#b8964a"><circle cx="331.5" cy="648.0" r="1.2"/><circle cx="333.5" cy="649.7" r="1.2"/><circle cx="335.4" cy="651.4" r="1.2"/><circle cx="337.4" cy="653.1" r="1.2"/><circle cx="339.4" cy="654.8" r="1.2"/><circle cx="341.4" cy="656.5" r="1.2"/><circle cx="343.3" cy="658.2" r="1.2"/><circle cx="345.3" cy="659.9" r="1.2"/><circle cx="347.3" cy="661.6" r="1.2"/><circle cx="349.2" cy="663.3" r="1.2"/><circle cx="351.2" cy="665.0" r="1.2"/><circle cx="353.2" cy="666.7" r="1.2"/><circle cx="355.2" cy="668.3" r="1.2"/><circle cx="357.1" cy="670.0" r="1.2"/><circle cx="359.1" cy="671.7" r="1.2"/><circle cx="361.1" cy="673.4" r="1.2"/><circle cx="363.0" cy="675.1" r="1.2"/><circle cx="365.0" cy="676.8" r="1.2"/><circle cx="367.0" cy="678.5" r="1.2"/><circle cx="369.0" cy="680.2" r="1.2"/><circle cx="370.9" cy="681.9" r="1.2"/><circle cx="372.9" cy="683.6" r="1.2"/><circle cx="374.9" cy="685.3" r="1.2"/><circle cx="376.8" cy="687.0" r="1.2"/></g>
<path d="M338,668 L338,702" stroke="#3c3c3c" stroke-width="1.8" stroke-linecap="round"/>
<path d="M345,672 L345,706" stroke="#3c3c3c" stroke-width="1.8" stroke-linecap="round"/>
<path d="M352,676 L352,700" stroke="#3c3c3c" stroke-width="1.8" stroke-linecap="round"/>
<path d="M365,690 L365,730" stroke="#3c3c3c" stroke-width="1.8" stroke-linecap="round"/>
<path d="M372,694 L372,736" stroke="#3c3c3c" stroke-width="1.8" stroke-linecap="round"/>
<path d="M345,697 Q353,695 360,700 L360,716 Q353,722 345,720 Q349,708 345,697 Z" fill="#2a2a2a"/><path d="M348,699 Q353,698 358,702 L358,705 Q353,702 348,703 Z" fill="#505050"/>
<ellipse cx="339.7" cy="710" rx="4.6" ry="14" fill="#8f712c"/><ellipse cx="339.7" cy="710" rx="2" ry="9" fill="#4a3814"/>
<path d="M335.5,710 L344,710 M336.5,702 L343,718 M336.5,718 L343,702" stroke="#c8a858" stroke-width="0.8"/>
<path d="M314,676 Q318,664 330,668 L331,692 L316,690 Z" fill="#585858"/><path d="M316,674 Q320,668 328,670 L328,676 Z" fill="#808080"/>
<path d="M319,692 L328,695 L311,742 L299,737 Z" fill="#3c3c3c"/><path d="M322,695 L325,696 L308,740 L304,739 Z" fill="#909090"/>
<path d="M378,768 L405,794 L405,822 Q372,790 339,776 L321,760 L321,740 Z" fill="#505050"/>
<path d="M335,848.5 L339,776.5 Q372,786 404.5,821.5 L404.5,842 Z" fill="#2a2a2a"/>
<path d="M335,848.5 L339,776.5 Q352,779 363.5,786 L363.5,845.5 Z" fill="#3b3b3b"/>
<path d="M335,848.5 L404.5,841 L404.5,836 L337,843 Z" fill="#333"/>
<path d="M321,844 L334.5,858.5 L334.5,849 L321,836 Z" fill="#3a3a3a"/>

<linearGradient id="ga1" gradientUnits="userSpaceOnUse" x1="506" y1="240" x2="578" y2="217"><stop offset="0" stop-color="#ffffff" stop-opacity="0"/><stop offset="0.25" stop-color="#ffffff" stop-opacity="0.75"/><stop offset="0.6" stop-color="#d6eafb" stop-opacity="0.95"/><stop offset="1" stop-color="#3ea4f0" stop-opacity="1"/></linearGradient><path d="M507.3,242.1 L508.3,241.6 L509.5,240.8 L511.0,239.9 L512.6,238.9 L514.3,237.8 L516.1,236.8 L517.9,235.8 L519.7,234.8 L521.4,234.1 L522.9,233.5 L524.2,233.1 L525.7,232.8 L527.2,232.7 L528.7,232.5 L530.3,232.5 L531.9,232.4 L533.5,232.3 L535.2,232.2 L536.9,232.0 L538.6,231.7 L540.2,231.3 L541.6,230.9 L543.0,230.4 L544.2,230.0 L545.5,229.5 L546.7,229.0 L548.0,228.4 L549.5,227.9 L551.0,227.4 L552.9,226.8 L555.0,226.2 L557.6,225.5 L560.5,224.7 L563.6,223.9 L560.3,228.9 L578.0,217.0 L556.6,215.4 L562.0,218.1 L559.0,218.9 L556.1,219.8 L553.4,220.5 L551.1,221.2 L549.2,221.8 L547.5,222.4 L545.9,223.0 L544.5,223.6 L543.3,224.2 L542.1,224.7 L541.0,225.1 L539.8,225.5 L538.7,225.9 L537.4,226.3 L536.1,226.5 L534.7,226.7 L533.2,226.9 L531.6,226.9 L530.0,227.0 L528.3,227.1 L526.6,227.3 L524.8,227.6 L523.0,227.9 L521.1,228.5 L519.3,229.2 L517.4,230.2 L515.4,231.2 L513.5,232.3 L511.7,233.4 L509.9,234.5 L508.3,235.6 L506.8,236.5 L505.6,237.3 L504.7,237.9Z" fill="url(#ga1)"/>
<linearGradient id="ga2" gradientUnits="userSpaceOnUse" x1="452" y1="353" x2="474" y2="282"><stop offset="0" stop-color="#ffffff" stop-opacity="0"/><stop offset="0.25" stop-color="#ffffff" stop-opacity="0.75"/><stop offset="0.6" stop-color="#d6eafb" stop-opacity="0.95"/><stop offset="1" stop-color="#3ea4f0" stop-opacity="1"/></linearGradient><path d="M455.3,355.3 L455.8,354.4 L456.6,353.4 L457.5,352.0 L458.6,350.5 L459.8,348.8 L461.0,347.0 L462.2,345.2 L463.3,343.2 L464.3,341.3 L465.2,339.4 L465.8,337.5 L466.4,335.6 L466.8,333.7 L467.2,331.8 L467.5,329.9 L467.8,328.0 L468.0,326.1 L468.3,324.3 L468.5,322.4 L468.8,320.6 L469.2,318.6 L469.5,316.6 L469.9,314.6 L470.2,312.6 L470.6,310.5 L470.9,308.4 L471.3,306.4 L471.6,304.4 L472.0,302.4 L472.3,300.5 L472.7,298.5 L473.1,296.5 L475.8,301.4 L474.0,282.0 L464.1,298.8 L468.7,295.5 L468.2,297.6 L467.7,299.5 L467.2,301.4 L466.8,303.4 L466.3,305.4 L465.9,307.5 L465.4,309.5 L465.0,311.5 L464.5,313.6 L464.1,315.5 L463.6,317.5 L463.2,319.4 L462.7,321.4 L462.3,323.3 L462.0,325.1 L461.6,327.0 L461.2,328.7 L460.9,330.5 L460.4,332.1 L460.0,333.7 L459.4,335.2 L458.8,336.6 L458.1,338.1 L457.2,339.6 L456.1,341.2 L454.9,342.8 L453.7,344.4 L452.5,346.0 L451.4,347.4 L450.4,348.7 L449.4,349.8 L448.7,350.7Z" fill="url(#ga2)"/>
<linearGradient id="ga3" gradientUnits="userSpaceOnUse" x1="399" y1="569" x2="410" y2="508"><stop offset="0" stop-color="#ffffff" stop-opacity="0"/><stop offset="0.25" stop-color="#ffffff" stop-opacity="0.75"/><stop offset="0.6" stop-color="#d6eafb" stop-opacity="0.95"/><stop offset="1" stop-color="#3ea4f0" stop-opacity="1"/></linearGradient><path d="M402.3,570.0 L402.6,569.0 L403.0,567.7 L403.4,566.2 L403.9,564.4 L404.5,562.5 L405.0,560.5 L405.6,558.5 L406.1,556.5 L406.6,554.5 L407.0,552.6 L407.2,550.8 L407.5,548.9 L407.7,547.1 L407.8,545.3 L407.9,543.5 L408.1,541.8 L408.2,540.0 L408.3,538.4 L408.4,536.8 L408.5,535.3 L408.7,533.9 L408.8,532.5 L409.0,531.2 L409.1,529.9 L409.3,528.7 L409.4,527.4 L409.6,526.2 L409.7,524.9 L409.9,523.6 L410.0,522.3 L410.2,520.9 L413.1,525.0 L410.0,508.0 L402.3,523.4 L406.2,520.3 L406.0,521.7 L405.7,523.0 L405.5,524.3 L405.2,525.5 L405.0,526.7 L404.7,527.9 L404.5,529.2 L404.2,530.5 L404.0,531.8 L403.7,533.2 L403.5,534.7 L403.2,536.3 L403.0,537.9 L402.8,539.6 L402.6,541.3 L402.4,543.0 L402.2,544.7 L402.0,546.4 L401.7,548.1 L401.4,549.8 L401.0,551.4 L400.6,553.1 L400.1,554.9 L399.5,556.8 L398.9,558.7 L398.3,560.6 L397.6,562.4 L397.0,564.1 L396.5,565.6 L396.0,567.0 L395.7,568.0Z" fill="url(#ga3)"/>
<linearGradient id="ga4" gradientUnits="userSpaceOnUse" x1="516" y1="638" x2="512" y2="560"><stop offset="0" stop-color="#ffffff" stop-opacity="0"/><stop offset="0.25" stop-color="#ffffff" stop-opacity="0.75"/><stop offset="0.6" stop-color="#d6eafb" stop-opacity="0.95"/><stop offset="1" stop-color="#3ea4f0" stop-opacity="1"/></linearGradient><path d="M520.3,639.3 L520.6,638.0 L521.2,636.3 L521.9,634.2 L522.7,631.7 L523.6,629.1 L524.4,626.2 L525.1,623.3 L525.7,620.4 L526.0,617.5 L525.9,614.6 L525.3,611.8 L524.2,609.2 L522.9,606.9 L521.5,604.7 L520.1,602.6 L518.7,600.7 L517.4,598.9 L516.4,597.2 L515.6,595.7 L515.2,594.4 L515.1,593.2 L515.1,591.9 L515.4,590.5 L515.8,589.0 L516.3,587.5 L516.9,585.8 L517.6,584.0 L518.1,582.2 L518.5,580.1 L518.6,578.1 L518.5,576.0 L518.2,573.8 L523.1,577.4 L512.5,560.0 L510.2,579.1 L513.2,574.5 L513.4,576.3 L513.4,577.9 L513.2,579.3 L512.8,580.7 L512.3,582.1 L511.6,583.7 L510.9,585.3 L510.1,587.0 L509.5,588.9 L508.9,590.9 L508.7,593.2 L508.8,595.6 L509.4,598.0 L510.4,600.3 L511.6,602.5 L512.9,604.6 L514.2,606.6 L515.4,608.6 L516.5,610.5 L517.4,612.3 L517.9,613.9 L518.1,615.4 L518.1,617.1 L517.8,619.1 L517.2,621.5 L516.5,623.9 L515.6,626.4 L514.7,628.9 L513.8,631.2 L513.0,633.3 L512.2,635.2 L511.7,636.7Z" fill="url(#ga4)"/>
<linearGradient id="ga5" gradientUnits="userSpaceOnUse" x1="542" y1="636" x2="541" y2="557"><stop offset="0" stop-color="#ffffff" stop-opacity="0"/><stop offset="0.25" stop-color="#ffffff" stop-opacity="0.75"/><stop offset="0.6" stop-color="#d6eafb" stop-opacity="0.95"/><stop offset="1" stop-color="#3ea4f0" stop-opacity="1"/></linearGradient><path d="M546.3,637.3 L546.7,635.9 L547.2,634.1 L547.9,631.9 L548.8,629.3 L549.6,626.5 L550.4,623.6 L551.1,620.6 L551.7,617.5 L552.0,614.6 L551.9,611.6 L551.2,608.8 L550.2,606.2 L548.9,603.8 L547.5,601.6 L546.0,599.5 L544.6,597.6 L543.3,595.8 L542.3,594.2 L541.6,592.8 L541.2,591.5 L541.1,590.3 L541.2,589.0 L541.5,587.7 L542.0,586.2 L542.7,584.6 L543.4,582.9 L544.1,581.2 L544.8,579.3 L545.3,577.3 L545.6,575.3 L545.6,573.2 L545.5,571.0 L550.1,575.0 L541.0,557.0 L537.1,575.7 L540.5,571.3 L540.5,573.1 L540.4,574.7 L540.1,576.1 L539.6,577.5 L539.0,579.0 L538.2,580.5 L537.3,582.1 L536.5,583.9 L535.7,585.8 L535.1,587.8 L534.7,590.0 L534.8,592.5 L535.3,594.9 L536.3,597.3 L537.5,599.5 L538.8,601.6 L540.1,603.6 L541.4,605.5 L542.5,607.4 L543.4,609.2 L543.9,610.9 L544.1,612.4 L544.1,614.1 L543.8,616.3 L543.2,618.8 L542.5,621.4 L541.6,624.0 L540.7,626.6 L539.8,629.0 L538.9,631.2 L538.2,633.2 L537.7,634.7Z" fill="url(#ga5)"/>
<linearGradient id="ga6" gradientUnits="userSpaceOnUse" x1="532" y1="720" x2="552" y2="650"><stop offset="0" stop-color="#ffffff" stop-opacity="0"/><stop offset="0.25" stop-color="#ffffff" stop-opacity="0.75"/><stop offset="0.6" stop-color="#d6eafb" stop-opacity="0.95"/><stop offset="1" stop-color="#3ea4f0" stop-opacity="1"/></linearGradient><path d="M535.3,723.0 L535.8,722.4 L536.6,721.6 L537.5,720.5 L538.6,719.3 L539.8,718.0 L541.1,716.5 L542.3,715.0 L543.5,713.3 L544.6,711.5 L545.5,709.7 L546.2,707.8 L546.8,705.9 L547.2,704.0 L547.6,702.1 L547.9,700.1 L548.2,698.2 L548.4,696.3 L548.7,694.4 L548.9,692.5 L549.2,690.7 L549.6,688.8 L549.9,686.8 L550.3,684.8 L550.7,682.8 L551.0,680.7 L551.4,678.7 L551.8,676.6 L552.1,674.5 L552.4,672.5 L552.7,670.4 L552.9,668.2 L553.1,666.0 L553.3,663.6 L556.4,667.9 L552.0,650.0 L544.5,666.7 L548.3,663.1 L548.0,665.4 L547.7,667.6 L547.3,669.6 L547.0,671.6 L546.6,673.5 L546.1,675.5 L545.7,677.5 L545.2,679.5 L544.7,681.5 L544.2,683.5 L543.7,685.5 L543.3,687.4 L542.8,689.3 L542.3,691.3 L541.9,693.3 L541.6,695.2 L541.2,697.1 L540.8,698.9 L540.5,700.6 L540.0,702.2 L539.6,703.7 L539.1,705.1 L538.5,706.3 L537.8,707.5 L536.9,708.7 L535.9,709.9 L534.8,711.1 L533.7,712.3 L532.5,713.4 L531.4,714.4 L530.4,715.4 L529.4,716.3 L528.7,717.0Z" fill="url(#ga6)"/>
<linearGradient id="ga7" gradientUnits="userSpaceOnUse" x1="438" y1="718" x2="516" y2="710"><stop offset="0" stop-color="#ffffff" stop-opacity="0"/><stop offset="0.25" stop-color="#ffffff" stop-opacity="0.75"/><stop offset="0.6" stop-color="#d6eafb" stop-opacity="0.95"/><stop offset="1" stop-color="#3ea4f0" stop-opacity="1"/></linearGradient><path d="M436.5,721.7 L437.4,722.0 L438.6,722.6 L440.1,723.3 L441.8,724.1 L443.7,724.9 L445.8,725.7 L448.0,726.5 L450.2,727.1 L452.6,727.6 L455.0,727.7 L457.3,727.5 L459.6,727.1 L461.8,726.4 L464.0,725.7 L466.1,724.9 L468.1,724.0 L470.1,723.2 L472.1,722.5 L474.0,721.8 L475.8,721.3 L477.6,720.9 L479.5,720.5 L481.4,720.2 L483.4,719.9 L485.3,719.7 L487.3,719.4 L489.3,719.1 L491.4,718.8 L493.5,718.4 L495.6,718.0 L497.8,717.6 L500.1,717.0 L502.6,716.4 L499.4,721.3 L516.0,710.0 L496.2,707.7 L501.2,710.6 L498.8,711.1 L496.5,711.6 L494.4,712.0 L492.4,712.3 L490.5,712.6 L488.5,712.8 L486.5,713.0 L484.5,713.2 L482.5,713.4 L480.5,713.7 L478.4,713.9 L476.4,714.3 L474.2,714.7 L472.0,715.2 L469.8,715.9 L467.7,716.7 L465.6,717.5 L463.5,718.3 L461.6,718.9 L459.7,719.5 L458.0,720.0 L456.4,720.2 L455.0,720.3 L453.6,720.2 L452.0,719.8 L450.3,719.3 L448.6,718.6 L446.8,717.8 L445.1,717.0 L443.5,716.2 L442.0,715.5 L440.6,714.8 L439.5,714.3Z" fill="url(#ga7)"/>
<linearGradient id="ga8" gradientUnits="userSpaceOnUse" x1="672" y1="784" x2="607" y2="766"><stop offset="0" stop-color="#ffffff" stop-opacity="0"/><stop offset="0.25" stop-color="#ffffff" stop-opacity="0.75"/><stop offset="0.6" stop-color="#d6eafb" stop-opacity="0.95"/><stop offset="1" stop-color="#3ea4f0" stop-opacity="1"/></linearGradient><path d="M674.1,781.8 L673.3,781.1 L672.3,780.1 L671.1,778.9 L669.7,777.4 L668.2,775.9 L666.5,774.4 L664.8,772.9 L662.9,771.5 L661.0,770.3 L659.0,769.3 L656.9,768.8 L654.8,768.5 L652.8,768.4 L650.8,768.5 L648.8,768.7 L646.9,769.0 L645.0,769.2 L643.3,769.3 L641.7,769.4 L640.3,769.3 L638.9,769.1 L637.5,768.8 L636.1,768.5 L634.7,768.1 L633.3,767.6 L631.9,767.2 L630.4,766.7 L628.8,766.3 L627.2,765.8 L625.5,765.5 L623.6,765.2 L621.6,764.9 L619.5,764.7 L623.5,762.1 L607.0,766.0 L622.2,773.0 L619.0,769.7 L621.0,769.9 L622.9,770.2 L624.5,770.5 L626.0,770.8 L627.5,771.2 L628.9,771.7 L630.3,772.1 L631.7,772.6 L633.1,773.1 L634.6,773.6 L636.2,774.0 L637.9,774.4 L639.7,774.7 L641.6,774.8 L643.6,774.8 L645.6,774.6 L647.5,774.5 L649.3,774.3 L651.1,774.1 L652.8,774.0 L654.4,774.1 L655.8,774.3 L657.0,774.7 L658.2,775.3 L659.6,776.2 L661.1,777.3 L662.6,778.7 L664.1,780.1 L665.5,781.5 L666.8,782.9 L668.0,784.2 L669.1,785.4 L669.9,786.2Z" fill="url(#ga8)"/>
<linearGradient id="gr1" gradientUnits="userSpaceOnUse" x1="592" y1="766" x2="550" y2="772"><stop offset="0" stop-color="#ffffff" stop-opacity="0"/><stop offset="0.3" stop-color="#fbe0dc" stop-opacity="0.85"/><stop offset="1" stop-color="#ee4a40" stop-opacity="1"/></linearGradient><path d="M592.8,763.6 L592.0,763.4 L591.0,763.0 L589.7,762.4 L588.2,761.8 L586.6,761.2 L584.9,760.5 L583.1,760.0 L581.3,759.6 L579.5,759.4 L577.6,759.5 L575.9,760.0 L574.3,760.8 L572.9,761.7 L571.6,762.7 L570.5,763.8 L569.3,764.8 L568.2,765.7 L567.2,766.5 L566.2,767.2 L565.1,767.7 L563.9,768.0 L562.3,768.4 L560.6,768.6 L563.6,765.9 L550.0,772.0 L565.0,775.8 L561.3,773.6 L563.3,773.3 L565.1,772.9 L566.9,772.3 L568.5,771.6 L570.1,770.6 L571.4,769.6 L572.7,768.5 L573.8,767.5 L574.9,766.5 L575.9,765.7 L576.8,765.1 L577.6,764.7 L578.4,764.5 L579.3,764.4 L580.5,764.6 L581.9,764.9 L583.4,765.3 L584.9,765.8 L586.4,766.4 L587.8,767.0 L589.1,767.6 L590.3,768.0 L591.2,768.4Z" fill="url(#gr1)"/>
<linearGradient id="gr2" gradientUnits="userSpaceOnUse" x1="546" y1="772" x2="502" y2="777"><stop offset="0" stop-color="#ffffff" stop-opacity="0"/><stop offset="0.3" stop-color="#fbe0dc" stop-opacity="0.85"/><stop offset="1" stop-color="#ee4a40" stop-opacity="1"/></linearGradient><path d="M546.8,769.6 L546.0,769.4 L545.0,769.0 L543.7,768.4 L542.2,767.8 L540.6,767.2 L538.9,766.5 L537.1,766.0 L535.3,765.6 L533.5,765.4 L531.6,765.5 L529.8,766.0 L528.3,766.8 L526.9,767.8 L525.7,768.8 L524.5,769.9 L523.5,770.9 L522.4,771.8 L521.4,772.6 L520.3,773.2 L519.3,773.6 L517.9,773.9 L516.2,774.2 L514.3,774.4 L512.3,774.5 L515.5,771.9 L502.0,777.0 L515.9,781.9 L512.5,779.5 L514.6,779.3 L516.8,779.1 L518.8,778.8 L520.7,778.4 L522.5,777.7 L524.1,776.7 L525.6,775.7 L526.8,774.6 L528.0,773.5 L529.0,772.5 L530.0,771.7 L530.9,771.1 L531.7,770.7 L532.4,770.5 L533.3,770.4 L534.5,770.6 L535.9,770.9 L537.4,771.3 L538.9,771.8 L540.4,772.4 L541.8,773.0 L543.1,773.6 L544.3,774.0 L545.2,774.4Z" fill="url(#gr2)"/>
<linearGradient id="gr3" gradientUnits="userSpaceOnUse" x1="540" y1="771" x2="500" y2="777"><stop offset="0" stop-color="#ff2a2a" stop-opacity="0"/><stop offset="0.4" stop-color="#ff3434" stop-opacity="0.85"/><stop offset="1" stop-color="#f01010" stop-opacity="1"/></linearGradient><path d="M540.6,769.1 L540.0,768.9 L539.1,768.5 L538.0,768.1 L536.8,767.6 L535.4,767.1 L534.0,766.6 L532.4,766.2 L530.9,765.9 L529.3,765.7 L527.6,765.8 L526.1,766.2 L524.6,766.8 L523.3,767.6 L522.0,768.5 L520.8,769.3 L519.7,770.2 L518.5,771.0 L517.4,771.7 L516.3,772.3 L515.2,772.7 L513.9,773.0 L512.4,773.3 L510.7,773.6 L513.7,770.8 L500.0,777.0 L515.0,780.7 L511.3,778.5 L513.2,778.2 L515.1,777.8 L516.8,777.3 L518.4,776.6 L519.9,775.8 L521.2,774.9 L522.5,774.0 L523.7,773.0 L524.8,772.2 L525.8,771.4 L526.7,770.8 L527.6,770.4 L528.4,770.2 L529.2,770.1 L530.3,770.2 L531.5,770.4 L532.8,770.7 L534.1,771.1 L535.3,771.5 L536.5,771.9 L537.6,772.3 L538.6,772.7 L539.4,772.9Z" fill="url(#gr3)"/>
<linearGradient id="gr4" gradientUnits="userSpaceOnUse" x1="497" y1="777" x2="452" y2="787"><stop offset="0" stop-color="#ff2a2a" stop-opacity="0"/><stop offset="0.4" stop-color="#ff3434" stop-opacity="0.85"/><stop offset="1" stop-color="#f01010" stop-opacity="1"/></linearGradient><path d="M497.3,774.5 L496.5,774.4 L495.4,774.2 L494.0,774.0 L492.4,773.7 L490.7,773.5 L488.9,773.2 L487.0,773.1 L485.1,773.1 L483.2,773.2 L481.3,773.6 L479.5,774.2 L477.9,775.1 L476.3,776.1 L474.9,777.2 L473.5,778.4 L472.1,779.5 L470.8,780.5 L469.6,781.4 L468.3,782.1 L467.1,782.7 L465.8,783.1 L464.2,783.4 L462.5,783.7 L465.5,781.0 L452.0,787.0 L466.9,790.9 L463.2,788.7 L465.1,788.3 L467.0,787.9 L468.9,787.3 L470.6,786.6 L472.3,785.6 L473.8,784.5 L475.3,783.4 L476.6,782.3 L478.0,781.2 L479.2,780.2 L480.4,779.4 L481.6,778.8 L482.7,778.4 L483.9,778.2 L485.3,778.1 L486.8,778.1 L488.4,778.2 L490.0,778.4 L491.6,778.7 L493.1,778.9 L494.5,779.2 L495.7,779.4 L496.7,779.5Z" fill="url(#gr4)"/>
<linearGradient id="gr5" gradientUnits="userSpaceOnUse" x1="452" y1="791" x2="410" y2="814"><stop offset="0" stop-color="#ff2a2a" stop-opacity="0"/><stop offset="0.4" stop-color="#ff3434" stop-opacity="0.85"/><stop offset="1" stop-color="#f01010" stop-opacity="1"/></linearGradient><path d="M452.0,788.0 L451.4,788.0 L450.7,788.0 L449.6,787.9 L448.4,787.8 L447.0,787.7 L445.4,787.7 L443.8,787.9 L442.1,788.2 L440.3,788.8 L438.6,789.6 L437.0,790.7 L435.5,792.1 L434.0,793.6 L432.6,795.2 L431.2,796.8 L429.8,798.5 L428.5,800.1 L427.1,801.5 L425.8,802.8 L424.5,803.9 L423.0,804.9 L421.4,805.9 L419.7,806.9 L421.6,802.7 L410.0,814.0 L426.7,812.5 L422.0,811.3 L423.9,810.3 L425.8,809.2 L427.5,808.1 L429.2,806.7 L430.8,805.2 L432.4,803.6 L433.8,801.9 L435.3,800.3 L436.7,798.7 L438.0,797.3 L439.2,796.1 L440.4,795.1 L441.4,794.4 L442.3,794.0 L443.4,793.7 L444.5,793.5 L445.6,793.5 L446.8,793.5 L447.9,793.6 L449.1,793.7 L450.1,793.9 L451.2,794.0 L452.0,794.0Z" fill="url(#gr5)"/>
<linearGradient id="gr6" gradientUnits="userSpaceOnUse" x1="396" y1="822" x2="330" y2="816"><stop offset="0" stop-color="#ff2a2a" stop-opacity="0"/><stop offset="0.4" stop-color="#ff3434" stop-opacity="0.85"/><stop offset="1" stop-color="#f01010" stop-opacity="1"/></linearGradient><path d="M398.4,818.2 L397.5,817.7 L396.2,816.8 L394.6,815.7 L392.8,814.4 L390.7,813.0 L388.5,811.7 L386.1,810.4 L383.6,809.3 L381.0,808.5 L378.2,808.1 L375.4,808.4 L372.8,809.1 L370.4,810.1 L368.1,811.2 L365.8,812.5 L363.7,813.7 L361.6,814.8 L359.6,815.7 L357.6,816.4 L355.7,816.8 L353.5,816.9 L350.9,816.8 L348.1,816.5 L345.2,816.1 L350.1,814.1 L330.0,816.0 L348.0,825.9 L344.1,822.0 L347.3,822.6 L350.4,823.0 L353.4,823.3 L356.3,823.2 L359.1,822.8 L361.9,822.1 L364.4,821.0 L366.9,819.9 L369.2,818.8 L371.3,817.7 L373.3,816.8 L375.1,816.2 L376.6,815.9 L377.8,815.9 L379.1,816.1 L380.7,816.7 L382.4,817.6 L384.2,818.7 L386.0,820.0 L387.8,821.3 L389.5,822.6 L391.0,823.9 L392.4,825.0 L393.6,825.8Z" fill="url(#gr6)"/>
<linearGradient id="gr7" gradientUnits="userSpaceOnUse" x1="392" y1="834" x2="317" y2="827"><stop offset="0" stop-color="#ff2a2a" stop-opacity="0"/><stop offset="0.4" stop-color="#ff3434" stop-opacity="0.85"/><stop offset="1" stop-color="#f01010" stop-opacity="1"/></linearGradient><path d="M394.5,830.3 L393.5,829.6 L392.1,828.6 L390.3,827.3 L388.2,825.7 L386.0,824.1 L383.5,822.5 L380.9,821.0 L378.2,819.6 L375.3,818.6 L372.4,818.1 L369.4,818.2 L366.6,818.9 L363.9,819.8 L361.5,821.0 L359.1,822.2 L356.8,823.4 L354.5,824.6 L352.2,825.6 L350.0,826.3 L347.7,826.7 L345.0,826.9 L341.9,826.9 L338.5,826.7 L335.0,826.4 L331.4,826.0 L336.2,823.7 L317.0,827.0 L334.7,835.6 L330.6,832.0 L334.3,832.5 L338.0,832.9 L341.6,833.2 L345.1,833.4 L348.3,833.3 L351.5,832.8 L354.4,832.0 L357.2,831.0 L359.8,829.8 L362.3,828.7 L364.6,827.6 L366.7,826.7 L368.6,826.1 L370.2,825.9 L371.6,825.9 L373.2,826.3 L375.0,827.0 L376.9,828.1 L379.0,829.4 L381.0,830.9 L383.0,832.5 L384.9,834.0 L386.6,835.5 L388.2,836.8 L389.5,837.7Z" fill="url(#gr7)"/>
<linearGradient id="go1" gradientUnits="userSpaceOnUse" x1="222" y1="574" x2="316" y2="568"><stop offset="0" stop-color="#ffffff" stop-opacity="0"/><stop offset="0.3" stop-color="#dcecfb" stop-opacity="0.8"/><stop offset="0.65" stop-color="#a8d2f8" stop-opacity="0.95"/><stop offset="1" stop-color="#3c9cf0" stop-opacity="1"/></linearGradient><path d="M220.4,579.3 L221.7,579.6 L223.5,580.1 L225.7,580.8 L228.3,581.7 L231.1,582.5 L234.0,583.4 L237.1,584.1 L240.2,584.6 L243.4,584.8 L246.5,584.7 L249.6,584.0 L252.4,582.8 L254.9,581.4 L257.3,579.9 L259.5,578.3 L261.6,576.8 L263.6,575.4 L265.5,574.2 L267.2,573.4 L268.8,572.8 L270.5,572.5 L272.2,572.4 L274.1,572.4 L276.0,572.6 L278.1,573.0 L280.3,573.3 L282.6,573.7 L285.0,574.0 L287.5,574.1 L290.1,574.1 L292.8,573.8 L286.4,579.3 L315.5,567.5 L285.3,564.4 L292.3,567.9 L289.9,567.9 L287.8,567.8 L285.8,567.5 L283.7,567.1 L281.6,566.6 L279.4,566.1 L277.2,565.6 L274.9,565.2 L272.4,564.9 L269.9,564.9 L267.2,565.2 L264.4,565.9 L261.8,567.0 L259.3,568.4 L257.0,569.8 L254.7,571.2 L252.6,572.5 L250.6,573.7 L248.7,574.5 L247.0,575.1 L245.5,575.3 L243.8,575.3 L241.7,575.0 L239.3,574.4 L236.8,573.7 L234.2,572.8 L231.7,571.9 L229.3,571.0 L227.1,570.1 L225.1,569.3 L223.6,568.7Z" fill="url(#go1)"/>
<linearGradient id="go2" gradientUnits="userSpaceOnUse" x1="256" y1="605" x2="352" y2="596"><stop offset="0" stop-color="#ffffff" stop-opacity="0"/><stop offset="0.3" stop-color="#dcecfb" stop-opacity="0.8"/><stop offset="0.65" stop-color="#a8d2f8" stop-opacity="0.95"/><stop offset="1" stop-color="#3c9cf0" stop-opacity="1"/></linearGradient><path d="M254.5,610.3 L256.0,610.6 L257.9,611.2 L260.3,611.9 L263.1,612.8 L266.1,613.7 L269.4,614.5 L272.7,615.2 L276.0,615.7 L279.4,615.9 L282.7,615.6 L285.9,614.7 L288.8,613.4 L291.4,611.7 L293.7,609.9 L295.9,608.0 L298.0,606.3 L299.9,604.7 L301.8,603.3 L303.4,602.4 L304.9,601.8 L306.4,601.5 L308.1,601.4 L309.9,601.6 L311.8,601.9 L313.8,602.4 L316.0,602.9 L318.3,603.4 L320.8,603.9 L323.4,604.1 L326.1,604.1 L328.9,603.8 L322.8,609.6 L352.0,596.0 L321.2,594.7 L328.2,597.8 L325.9,597.9 L323.9,597.8 L321.9,597.5 L319.9,597.0 L317.8,596.3 L315.7,595.6 L313.4,595.0 L311.1,594.4 L308.6,594.0 L305.9,593.9 L303.1,594.2 L300.2,595.1 L297.6,596.4 L295.1,598.0 L292.8,599.7 L290.6,601.3 L288.4,602.9 L286.4,604.3 L284.5,605.4 L282.8,606.0 L281.3,606.4 L279.5,606.4 L277.3,606.1 L274.7,605.6 L271.9,604.8 L269.1,603.9 L266.3,603.0 L263.7,602.0 L261.3,601.1 L259.2,600.3 L257.5,599.7Z" fill="url(#go2)"/>
<linearGradient id="go3" gradientUnits="userSpaceOnUse" x1="234" y1="699" x2="328" y2="692"><stop offset="0" stop-color="#ffffff" stop-opacity="0"/><stop offset="0.3" stop-color="#dcecfb" stop-opacity="0.8"/><stop offset="0.65" stop-color="#a8d2f8" stop-opacity="0.95"/><stop offset="1" stop-color="#3c9cf0" stop-opacity="1"/></linearGradient><path d="M232.4,704.3 L233.7,704.6 L235.4,705.1 L237.6,705.9 L240.2,706.8 L243.0,707.7 L246.0,708.5 L249.1,709.2 L252.3,709.8 L255.5,709.9 L258.7,709.7 L261.9,708.8 L264.7,707.4 L267.3,705.7 L269.6,703.9 L271.8,702.0 L273.9,700.2 L275.9,698.7 L277.7,697.3 L279.4,696.4 L280.8,695.8 L282.3,695.6 L283.9,695.6 L285.7,695.8 L287.6,696.2 L289.6,696.8 L291.8,697.5 L294.1,698.1 L296.6,698.7 L299.2,699.1 L302.0,699.2 L304.8,699.0 L307.8,698.6 L301.6,704.2 L328.5,692.0 L300.0,689.3 L307.1,692.7 L304.4,692.8 L302.0,692.8 L300.0,692.6 L298.0,692.2 L296.0,691.6 L293.9,690.9 L291.8,690.1 L289.6,689.3 L287.2,688.6 L284.7,688.1 L282.0,687.9 L279.2,688.2 L276.3,689.0 L273.6,690.3 L271.1,691.8 L268.7,693.5 L266.4,695.2 L264.3,696.8 L262.2,698.2 L260.3,699.3 L258.7,700.0 L257.3,700.3 L255.6,700.3 L253.6,700.1 L251.3,699.6 L248.8,698.8 L246.2,698.0 L243.7,697.0 L241.4,696.0 L239.2,695.1 L237.2,694.3 L235.6,693.7Z" fill="url(#go3)"/>
<linearGradient id="go4" gradientUnits="userSpaceOnUse" x1="276" y1="735" x2="370" y2="728"><stop offset="0" stop-color="#ffffff" stop-opacity="0"/><stop offset="0.3" stop-color="#dcecfb" stop-opacity="0.8"/><stop offset="0.65" stop-color="#a8d2f8" stop-opacity="0.95"/><stop offset="1" stop-color="#3c9cf0" stop-opacity="1"/></linearGradient><path d="M274.3,740.2 L275.8,740.6 L277.7,741.2 L280.1,742.1 L282.9,743.1 L286.0,744.1 L289.2,745.0 L292.5,745.9 L295.8,746.5 L299.2,746.8 L302.5,746.7 L305.7,745.9 L308.6,744.7 L311.2,743.1 L313.6,741.4 L315.8,739.7 L317.9,738.0 L319.8,736.5 L321.7,735.3 L323.3,734.4 L324.8,733.8 L326.4,733.5 L328.1,733.5 L329.9,733.6 L331.9,734.0 L333.9,734.4 L336.2,734.9 L338.5,735.5 L340.9,735.9 L343.5,736.1 L346.1,736.1 L348.8,735.8 L342.7,741.7 L370.5,728.0 L341.1,726.8 L348.1,729.8 L345.9,729.9 L343.9,729.8 L342.0,729.5 L340.0,729.0 L337.9,728.4 L335.7,727.7 L333.5,727.0 L331.1,726.5 L328.6,726.1 L326.0,725.9 L323.2,726.2 L320.3,727.0 L317.7,728.2 L315.2,729.7 L312.9,731.2 L310.7,732.8 L308.6,734.3 L306.6,735.5 L304.7,736.5 L303.0,737.1 L301.5,737.3 L299.7,737.3 L297.4,736.9 L294.9,736.3 L292.1,735.4 L289.3,734.4 L286.5,733.3 L283.9,732.3 L281.5,731.3 L279.4,730.4 L277.7,729.8Z" fill="url(#go4)"/>
<linearGradient id="go5" gradientUnits="userSpaceOnUse" x1="790" y1="776" x2="714" y2="776"><stop offset="0" stop-color="#ffffff" stop-opacity="0"/><stop offset="0.3" stop-color="#dcecfb" stop-opacity="0.8"/><stop offset="0.65" stop-color="#a8d2f8" stop-opacity="0.95"/><stop offset="1" stop-color="#3c9cf0" stop-opacity="1"/></linearGradient><path d="M791.5,771.8 L790.4,771.4 L789.0,770.9 L787.1,770.1 L785.0,769.3 L782.6,768.4 L780.2,767.5 L777.6,766.8 L774.9,766.2 L772.3,765.9 L769.5,766.0 L766.9,766.6 L764.4,767.7 L762.3,769.1 L760.3,770.5 L758.4,772.0 L756.7,773.4 L755.1,774.6 L753.7,775.6 L752.5,776.2 L751.5,776.5 L750.7,776.5 L749.7,776.4 L748.6,776.0 L747.4,775.4 L745.9,774.6 L744.4,773.8 L742.7,772.8 L740.8,772.0 L738.6,771.3 L736.4,770.9 L734.0,770.8 L731.5,770.9 L736.9,766.8 L714.0,776.0 L737.5,779.8 L731.8,776.9 L733.9,776.9 L735.6,777.1 L737.0,777.4 L738.3,777.9 L739.7,778.6 L741.1,779.4 L742.6,780.4 L744.1,781.3 L745.9,782.3 L747.8,783.0 L750.0,783.5 L752.5,783.5 L754.9,783.0 L757.2,782.0 L759.3,780.7 L761.2,779.4 L763.1,778.0 L764.8,776.7 L766.5,775.6 L768.0,774.7 L769.4,774.2 L770.5,774.0 L771.7,774.0 L773.4,774.3 L775.4,774.8 L777.5,775.5 L779.6,776.4 L781.7,777.3 L783.7,778.1 L785.5,779.0 L787.2,779.7 L788.5,780.2Z" fill="url(#go5)"/>
<linearGradient id="go6" gradientUnits="userSpaceOnUse" x1="778" y1="798" x2="708" y2="789"><stop offset="0" stop-color="#ffffff" stop-opacity="0"/><stop offset="0.3" stop-color="#dcecfb" stop-opacity="0.8"/><stop offset="0.65" stop-color="#a8d2f8" stop-opacity="0.95"/><stop offset="1" stop-color="#3c9cf0" stop-opacity="1"/></linearGradient><path d="M779.6,793.8 L778.6,793.5 L777.3,792.9 L775.7,792.2 L773.7,791.4 L771.6,790.6 L769.4,789.7 L767.0,789.0 L764.7,788.4 L762.2,788.0 L759.7,788.0 L757.2,788.5 L754.9,789.5 L753.0,790.7 L751.2,792.0 L749.6,793.2 L748.1,794.4 L746.8,795.3 L745.7,796.0 L744.8,796.4 L744.2,796.5 L743.5,796.4 L742.5,796.0 L741.3,795.3 L739.9,794.3 L738.4,793.1 L736.8,791.7 L735.0,790.4 L733.2,789.1 L731.1,787.9 L728.9,787.1 L726.6,786.6 L732.9,783.3 L708.0,789.0 L730.4,796.1 L725.5,792.5 L727.1,792.9 L728.4,793.5 L729.7,794.3 L731.1,795.4 L732.6,796.7 L734.1,798.1 L735.7,799.5 L737.4,800.8 L739.2,802.0 L741.4,803.0 L743.8,803.5 L746.3,803.4 L748.6,802.6 L750.6,801.6 L752.5,800.5 L754.1,799.3 L755.7,798.1 L757.1,797.2 L758.4,796.5 L759.5,796.1 L760.3,796.0 L761.4,796.1 L762.9,796.4 L764.6,796.9 L766.5,797.6 L768.4,798.4 L770.3,799.3 L772.1,800.2 L773.7,801.0 L775.2,801.7 L776.4,802.2Z" fill="url(#go6)"/>

<text class="lbl" x="716" y="87" textLength="219" lengthAdjust="spacingAndGlyphs">АЛЬТЕРНАТИВНЫЙ ДЫМОХОД</text>
<text class="lbl" x="762" y="200" textLength="127" lengthAdjust="spacingAndGlyphs">ПЛАМЕГАСИТЕЛЬ</text>
<text class="lbl" x="762" y="218.5" textLength="169" lengthAdjust="spacingAndGlyphs">НЕРЖАВЕЮЩАЯ СТАЛЬ</text>
<text class="lbl" x="762" y="237" textLength="57" lengthAdjust="spacingAndGlyphs">AISI 430</text>
<text class="lbl" x="755" y="422" textLength="89" lengthAdjust="spacingAndGlyphs">ФУТЕРОВКА</text>
<text class="lbl" x="755" y="441" textLength="183" lengthAdjust="spacingAndGlyphs">(ОГНЕУПОРНЫЙ ШАМОТ)</text>
<text class="lbl" x="764" y="661" textLength="167" lengthAdjust="spacingAndGlyphs">ЧУГУННЫЙ КОЛОСНИК</text>
<text class="lbl" x="767" y="718" textLength="120" lengthAdjust="spacingAndGlyphs">ЗОЛЬНЫЙ ЯЩИК</text>
<text class="lbl" x="756" y="831" textLength="110" lengthAdjust="spacingAndGlyphs">ПАТРУБОК ДЛЯ</text>
<text class="lbl" x="756" y="849" textLength="222" lengthAdjust="spacingAndGlyphs">ПОДКЛЮЧЕНИЯ ВЕНТИЛЯТОРА</text>
<text class="lbl" x="22" y="256" textLength="225" lengthAdjust="spacingAndGlyphs">ЧУГУННАЯ ТОПОЧНАЯ ДВЕРЦА</text>
<text class="lbl" x="22" y="275" textLength="244" lengthAdjust="spacingAndGlyphs">С СИСТЕМОЙ &quot;ЧИСТОЕ СТЕКЛО&quot; И</text>
<text class="lbl" x="22" y="294" textLength="265" lengthAdjust="spacingAndGlyphs">РЕГУЛИРУЕМОЙ ПОДАЧЕЙ ВОЗДУХА</text>
<text class="lbl" x="21" y="502" textLength="133" lengthAdjust="spacingAndGlyphs">ПОДАЧА ВОЗДУХА</text>
<text class="lbl" x="21" y="520" textLength="61" lengthAdjust="spacingAndGlyphs">В ТОПКУ</text>
<text class="lbl" x="22" y="640" textLength="154" lengthAdjust="spacingAndGlyphs">ДВЕРКА ПОДДУВНАЯ</text>
<text class="lbl" x="22" y="659" textLength="130" lengthAdjust="spacingAndGlyphs">С РЕГУЛИРУЕМОЙ</text>
<text class="lbl" x="22" y="678" textLength="145" lengthAdjust="spacingAndGlyphs">ПОДАЧЕЙ ВОЗДУХА</text>
<path class="ld" d="M926,91.5 L720,91.5 L617,152"/>
<path class="ld" d="M946,245.5 L750,245.5 L597,281"/>
<path class="ld" d="M952,448.5 L745,448.5 L651,380 M745,448.5 L644,610"/>
<path class="ld" d="M946,671.5 L762,671.5 Q650,656 552,643"/>
<path class="ld" d="M898,721.5 L767,721.5 L614,727"/>
<path class="ld" d="M982,860.5 L756,860.5 L670,795"/>
<path class="ld" d="M20,298.5 L294,298.5 L333,327"/>
<path class="ld" d="M15,523.6 L184,523.6 L342,563"/>
<path class="ld" d="M15,684.5 L218,684.5 L370,743"/>
<circle cx="617" cy="152" r="6.2" fill="#f01010"/><circle cx="617" cy="152" r="3.6" fill="#ffe900"/>
<circle cx="597" cy="281" r="6.2" fill="#f01010"/><circle cx="597" cy="281" r="3.6" fill="#ffe900"/>
<circle cx="333" cy="327" r="6.2" fill="#f01010"/><circle cx="333" cy="327" r="3.6" fill="#ffe900"/>
<circle cx="651" cy="380" r="6.2" fill="#f01010"/><circle cx="651" cy="380" r="3.6" fill="#ffe900"/>
<circle cx="342" cy="563" r="6.2" fill="#f01010"/><circle cx="342" cy="563" r="3.6" fill="#ffe900"/>
<circle cx="644" cy="610" r="6.2" fill="#f01010"/><circle cx="644" cy="610" r="3.6" fill="#ffe900"/>
<circle cx="552" cy="643" r="6.2" fill="#f01010"/><circle cx="552" cy="643" r="3.6" fill="#ffe900"/>
<circle cx="614" cy="727" r="6.2" fill="#f01010"/><circle cx="614" cy="727" r="3.6" fill="#ffe900"/>
<circle cx="370" cy="743" r="6.2" fill="#f01010"/><circle cx="370" cy="743" r="3.6" fill="#ffe900"/>
<circle cx="670" cy="795" r="6.2" fill="#f01010"/><circle cx="670" cy="795" r="3.6" fill="#ffe900"/>
</svg>
</body>
</html>
